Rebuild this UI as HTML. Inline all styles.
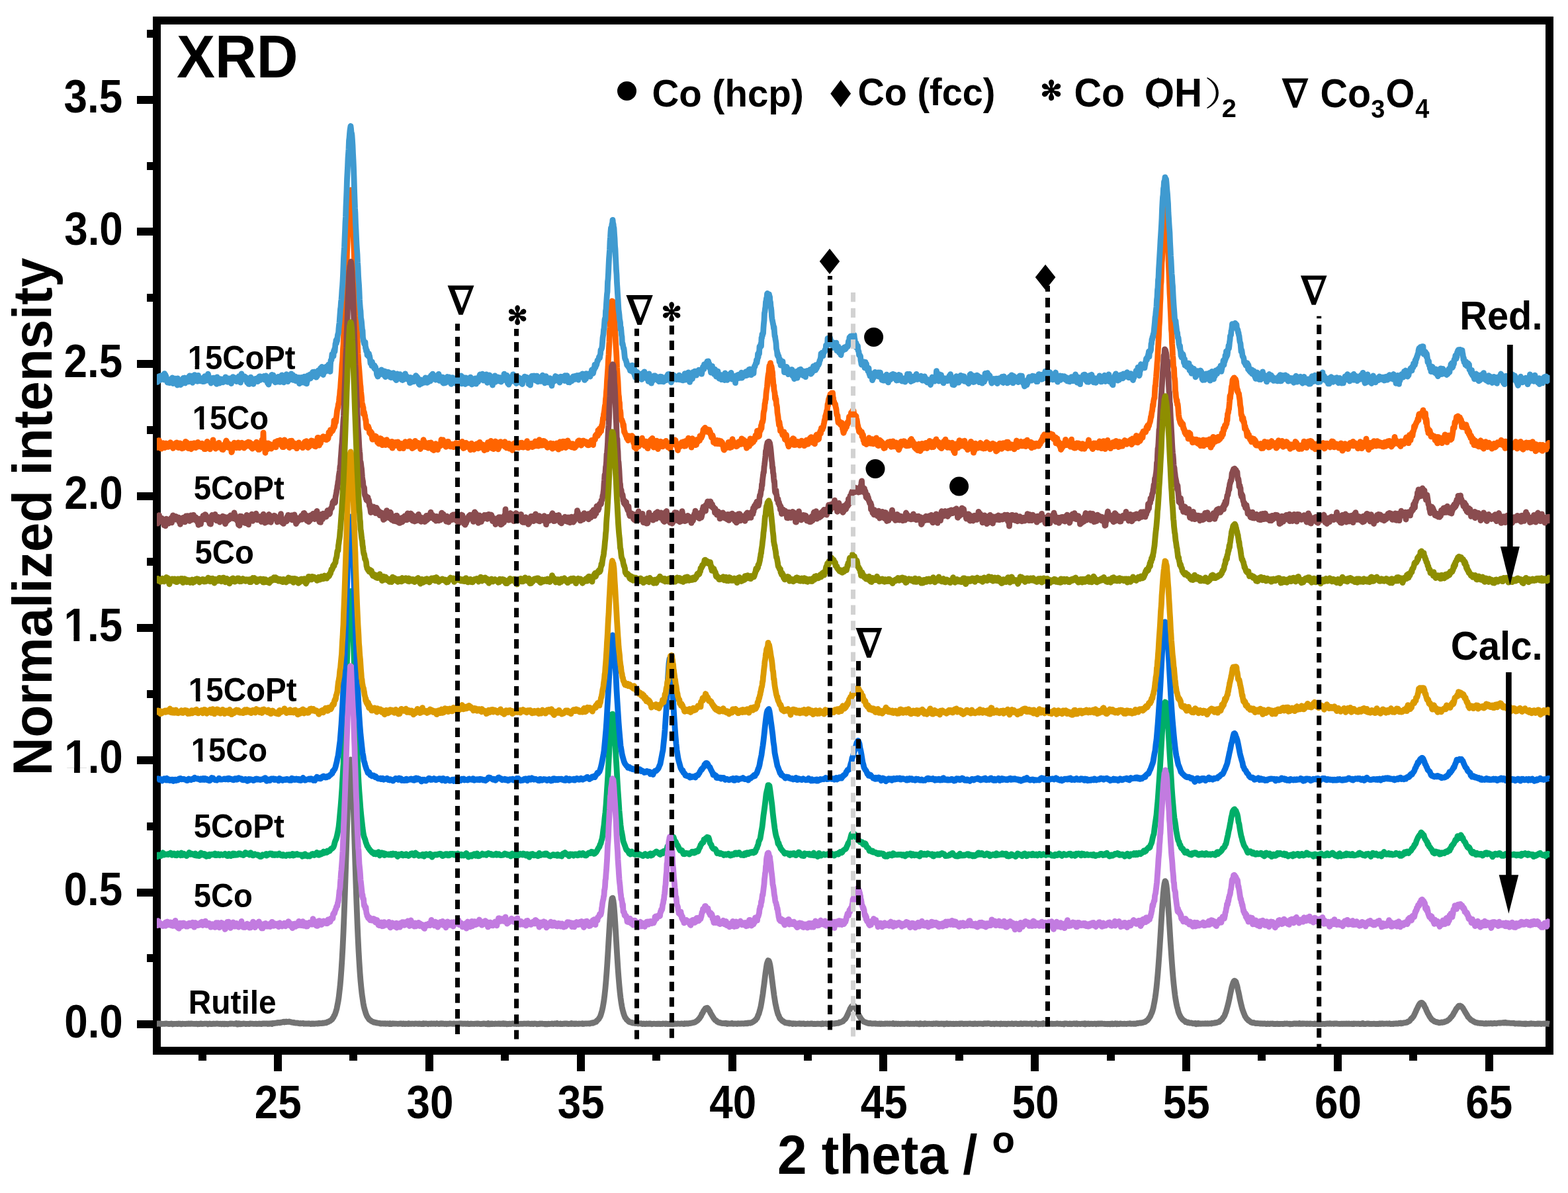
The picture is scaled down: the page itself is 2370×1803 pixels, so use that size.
<!DOCTYPE html>
<html lang="en">
<head>
<meta charset="utf-8">
<title>XRD</title>
<style>
html,body{margin:0;padding:0;background:#fff;}
body{width:2370px;height:1803px;overflow:hidden;}
svg{display:block;}
text{fill:#000;}
</style>
</head>
<body>
<svg xmlns="http://www.w3.org/2000/svg" width="2370" height="1803" viewBox="0 0 2370 1803">
<defs><clipPath id="cv" clipPathUnits="userSpaceOnUse"><rect x="237" y="0" width="2105.5" height="1803"/></clipPath><clipPath id="k1" clipPathUnits="userSpaceOnUse"><path d="M0 -1700H30000V700H1120V-232H759V700H478V-232H0Z"/></clipPath></defs>
<rect x="0" y="0" width="2370" height="1803" fill="#fff"/>

<g shape-rendering="crispEdges">
<rect x="237.0" y="31.0" width="2105.0" height="1557.0" fill="none" stroke="#000" stroke-width="12"/>
<rect x="207" y="1542.1" width="25" height="12" fill="#000"/>
<rect x="207" y="1342.5" width="25" height="12" fill="#000"/>
<rect x="207" y="1142.8" width="25" height="12" fill="#000"/>
<rect x="207" y="943.2" width="25" height="12" fill="#000"/>
<rect x="207" y="743.6" width="25" height="12" fill="#000"/>
<rect x="207" y="544.0" width="25" height="12" fill="#000"/>
<rect x="207" y="344.4" width="25" height="12" fill="#000"/>
<rect x="207" y="144.8" width="25" height="12" fill="#000"/>
<rect x="222" y="1442.3" width="10" height="12" fill="#000"/>
<rect x="222" y="1242.7" width="10" height="12" fill="#000"/>
<rect x="222" y="1043.0" width="10" height="12" fill="#000"/>
<rect x="222" y="843.4" width="10" height="12" fill="#000"/>
<rect x="222" y="643.8" width="10" height="12" fill="#000"/>
<rect x="222" y="444.2" width="10" height="12" fill="#000"/>
<rect x="222" y="244.6" width="10" height="12" fill="#000"/>
<rect x="222" y="45.0" width="10" height="12" fill="#000"/>
<rect x="414.0" y="1593" width="12" height="26" fill="#000"/>
<rect x="642.8" y="1593" width="12" height="26" fill="#000"/>
<rect x="871.7" y="1593" width="12" height="26" fill="#000"/>
<rect x="1100.5" y="1593" width="12" height="26" fill="#000"/>
<rect x="1329.3" y="1593" width="12" height="26" fill="#000"/>
<rect x="1558.1" y="1593" width="12" height="26" fill="#000"/>
<rect x="1786.9" y="1593" width="12" height="26" fill="#000"/>
<rect x="2015.7" y="1593" width="12" height="26" fill="#000"/>
<rect x="2244.5" y="1593" width="12" height="26" fill="#000"/>
<rect x="299.6" y="1593" width="12" height="10" fill="#000"/>
<rect x="528.4" y="1593" width="12" height="10" fill="#000"/>
<rect x="757.2" y="1593" width="12" height="10" fill="#000"/>
<rect x="986.1" y="1593" width="12" height="10" fill="#000"/>
<rect x="1214.9" y="1593" width="12" height="10" fill="#000"/>
<rect x="1443.7" y="1593" width="12" height="10" fill="#000"/>
<rect x="1672.5" y="1593" width="12" height="10" fill="#000"/>
<rect x="1901.3" y="1593" width="12" height="10" fill="#000"/>
<rect x="2130.1" y="1593" width="12" height="10" fill="#000"/>
</g>
<text transform="translate(97.17 1567.68) scale(1 1.0900)" font-family="'Liberation Sans', sans-serif" font-weight="bold" font-size="63.80" >0.0</text>
<text transform="translate(96.53 1368.06) scale(1 1.0900)" font-family="'Liberation Sans', sans-serif" font-weight="bold" font-size="63.80" >0.5</text>
<text transform="translate(97.17 1168.45) scale(0.031152 0.033956)" font-family="'Liberation Sans', sans-serif" font-weight="bold" font-size="2048" clip-path="url(#k1)" >1.0</text>
<text transform="translate(96.53 968.83) scale(0.031152 0.033956)" font-family="'Liberation Sans', sans-serif" font-weight="bold" font-size="2048" clip-path="url(#k1)" >1.5</text>
<text transform="translate(97.17 769.22) scale(1 1.0900)" font-family="'Liberation Sans', sans-serif" font-weight="bold" font-size="63.80" >2.0</text>
<text transform="translate(96.53 569.60) scale(1 1.0900)" font-family="'Liberation Sans', sans-serif" font-weight="bold" font-size="63.80" >2.5</text>
<text transform="translate(97.17 369.98) scale(1 1.0900)" font-family="'Liberation Sans', sans-serif" font-weight="bold" font-size="63.80" >3.0</text>
<text transform="translate(96.53 170.37) scale(1 1.0900)" font-family="'Liberation Sans', sans-serif" font-weight="bold" font-size="63.80" >3.5</text>
<text transform="translate(384.82 1689.90) scale(1 1.0900)" font-family="'Liberation Sans', sans-serif" font-weight="bold" font-size="63.80" >25</text>
<text transform="translate(614.42 1689.90) scale(1 1.0900)" font-family="'Liberation Sans', sans-serif" font-weight="bold" font-size="63.80" >30</text>
<text transform="translate(842.74 1689.90) scale(1 1.0900)" font-family="'Liberation Sans', sans-serif" font-weight="bold" font-size="63.80" >35</text>
<text transform="translate(1072.35 1689.90) scale(1 1.0900)" font-family="'Liberation Sans', sans-serif" font-weight="bold" font-size="63.80" >40</text>
<text transform="translate(1300.67 1689.90) scale(1 1.0900)" font-family="'Liberation Sans', sans-serif" font-weight="bold" font-size="63.80" >45</text>
<text transform="translate(1529.48 1689.90) scale(1 1.0900)" font-family="'Liberation Sans', sans-serif" font-weight="bold" font-size="63.80" >50</text>
<text transform="translate(1757.80 1689.90) scale(1 1.0900)" font-family="'Liberation Sans', sans-serif" font-weight="bold" font-size="63.80" >55</text>
<text transform="translate(1986.92 1689.90) scale(1 1.0900)" font-family="'Liberation Sans', sans-serif" font-weight="bold" font-size="63.80" >60</text>
<text transform="translate(2215.25 1689.90) scale(1 1.0900)" font-family="'Liberation Sans', sans-serif" font-weight="bold" font-size="63.80" >65</text>
<g clip-path="url(#cv)">
<path fill="none" stroke="#737373" stroke-width="8.8" stroke-linejoin="round" stroke-linecap="butt" d="M237.00 1547.3l1 0 1-.5 1 .4 1-.3 1 .4 1-.3 1 .5 1-.1 1 0 1 0 1-.2 1 .2 1-.4 1 .2 1-.2 1 .2 1 .2 1 .1 1 .1 1-.2 1 0 1-.5 1 .5 1 .6 1-.4 1-.1 1-.2 1 0 1 .1 1-.2 1 .3 1 0 1-.5 1 .3 1-.2 1 .2 1 .6 1-.6 1-.1 1 .1 1 0 1 0 1 .3 1-.2 1-.3 1 .3 1-.2 1-.3 1 .4 1-.2 1 .3 1-.6 1 .4 1 0 1 .2 1-.1 1 0 1 .2 1-.2 1-.1 1 .2 1 .4 1-.3 1-.1 1 .1 1-.6 1 0 1 .7 1-.1 1-.2 1 0 1-.1 1 0 1 0 1-.1 1 0 1 .8 1-.6 1 0 1-.3 1 .2 1 .5 1-.1 1-.2 1-.3 1 .2 1-.1 1 .2 1 0 1-.5 1 .3 1-.2 1 .2 1 .2 1 .1 1-.4 1 .3 1 .5 1-.8 1 .3 1-.3 1 .7 1-.7 1 .5 1-.2 1-.1 1 .6 1-.6 1 .1 1-.3 1-.1 1 .4 1-.5 1 .3 1 0 1 .1 1 0 1 0 1-.3 1-.5 1 .9 1 .7 1-.7 1-.6 1 .6 1 .4 1-.6 1 .3 1-.1 1-.1 1-.3 1 .1 1 0 1 .4 1 .1 1-.2 1 0 1-.1 1 .2 1 .1 1-.8 1 .3 1 0 1 .1 1 0 1 .2 1-.1 1 0 1 0 1-.2 1 .4 1-.1 1-.1 1-.1 1-.2 1 .4 1-.2 1 .4 1-.4 1-.3 1 0 1 .1 1 0 1 .1 1-.1 1-.2 1 0 1 .8 1-.6 1 .3 1-.4 1-.2 1 .3 1 .5 1-1.1 1 .1 1 .2 1-.5 1 .2 1-.3 1-.2 1 .3 1-.7 1 0 1 .2 1 .1 1-.7 1 .2 1-.3 1-.3 1-.4 1-.1 1 .7 1-.8 1 .5 1-.7 1 .5 1-.1 1 0 1-.3 1 .1 1 .5 1 0 1 .6 1-.1 1 .4 1-.3 1 .6 1 .1 1 .1 1 .2 1 0 1-.2 1 .6 1 0 1 .3 1-.5 1 .4 1-.1 1-.1 1-.1 1 .7 1-.4 1 .3 1-.2 1 .3 1-.4 1 .3 1 .1 1-.5 1 .5 1 0 1 .3 1-.5 1 0 1 .3 1-.4 1 .3 1 .2 1-.5 1 0 1 0 1 .3 1-.6 1-.1 1 .4 1-.5 1 .3 1-.2 1 .1 1-.6 1 .4 1-.4 1-.3 1 0 1 .1 1-.5 1-.8 1 0 1-.6 1-.7 1-.3 1-.9 1-.7 1-.9 1-1.7 1-1.1 1-2.5 1-1.4 1-2.7 1-3.1 1-3.5 1-5.3 1-4.9 1-6.3 1-8.6 1-8.7 1-11.4 1-13.7 1-15.8 1-17.9 1-21.6 1-24.3 1-26.5 1-29.6 1-31.1 1-31.9 1-30.8 1-29.4 1-24.7 1-19 1-11.1 1-3.8 1 5.6 1 13.3 1 21 1 25.9 1 29.7 1 31.7 1 32 1 30.8 1 28.6 1 26.1 1 23.4 1 20.7 1 17.2 1 15.6 1 12.8 1 10.3 1 9.3 1 6.9 1 6.8 1 5.4 1 4 1 3.3 1 3.4 1 2.4 1 2.3 1 1.2 1 1.7 1 1.3 1 .8 1 .6 1 .9 1 .6 1 .4 1 .2 1 .8 1 .1 1 .1 1 .4 1 .1 1 .3 1 .1 1 .2 1 .2 1-.2 1 .8 1-.3 1 .2 1-.2 1 .2 1-.2 1 .4 1-.5 1 .7 1-.3 1-.1 1 0 1 .1 1 .4 1-.7 1 .8 1-.4 1 .4 1-.6 1 .1 1-.2 1 .3 1-.2 1 .2 1-.1 1 0 1 .3 1-.1 1-.1 1 0 1-.3 1-.1 1 .2 1 .6 1-.5 1-.1 1 .3 1 .4 1-.5 1-.1 1 .3 1-.2 1 .3 1-.8 1 .5 1 .2 1-.2 1 .1 1-.1 1-.1 1 .2 1 .2 1-.4 1-.1 1 .2 1 0 1-.1 1 .4 1-.4 1-.1 1 .4 1-.2 1 .4 1 0 1 0 1-.9 1 .8 1-.2 1-.5 1 .2 1 .1 1 .2 1 .4 1-.6 1 0 1 0 1 .4 1-.5 1-.1 1 .5 1-.2 1-.3 1 .4 1 .2 1-.2 1-.6 1 .4 1 0 1 .4 1 0 1-.5 1 .3 1-.5 1 .5 1-.4 1 0 1 .5 1 .1 1-.4 1 .1 1 .5 1-.5 1 .1 1 .1 1-.4 1 .1 1-.2 1 .3 1 0 1 .2 1-.2 1-.4 1 .5 1 .1 1-.1 1-.2 1 .1 1-.1 1 .1 1-.4 1 .2 1 0 1-.1 1 .2 1 .2 1-.1 1 .1 1-.2 1 .2 1-.2 1 .3 1-.1 1-.4 1 .7 1-.3 1 .2 1-.3 1 .1 1-.2 1 .3 1 0 1-.1 1 .2 1-.4 1 0 1 .2 1-.4 1 .4 1-.3 1 .2 1 .1 1 .4 1-.2 1 .1 1-.5 1 .2 1-.4 1 .2 1 .1 1 .3 1-.3 1 .3 1 .4 1-1.2 1 .7 1 .4 1-.4 1-.5 1 .6 1-.5 1 .5 1-.2 1 .2 1-.3 1-.3 1 .5 1-.1 1 .1 1-.5 1 .4 1-.3 1 .5 1-.3 1-.1 1 .4 1-.7 1-.1 1 .8 1-.3 1-.2 1 .7 1 .1 1-.4 1 .1 1 .1 1-.4 1 0 1 .3 1-.1 1-.3 1-.3 1 .4 1 .1 1-.6 1 .7 1-.2 1 .4 1-.6 1 .4 1 .1 1-.1 1 0 1-.2 1 .2 1-.2 1 .2 1-.2 1-.2 1 .2 1-.1 1 .1 1 .1 1-.2 1-.1 1 0 1 .3 1 0 1 .2 1-.3 1-.1 1 .1 1 .4 1-.4 1-.3 1 .3 1-.1 1 .4 1 .4 1-.5 1 0 1 .2 1-.7 1 .4 1-.1 1-.2 1 .3 1 0 1 .1 1 0 1 .4 1-.4 1-.1 1 .6 1-.4 1-.3 1 .5 1-.2 1-.2 1 .1 1-.4 1 .1 1 .5 1-.2 1-.6 1 .3 1 .2 1 .1 1-.8 1 .9 1-.2 1 0 1 .2 1-.6 1 .7 1-.1 1 0 1-.3 1 0 1 .1 1-.3 1-.1 1 .5 1-.5 1 .3 1 .4 1-.1 1-.2 1-.2 1 .4 1-1 1 .4 1 .4 1 .1 1-.5 1 .7 1-.5 1-.1 1 .3 1 0 1 .2 1-.5 1 .3 1-.2 1 0 1 .2 1-.5 1 .7 1-.5 1 .4 1-.3 1-.3 1 .1 1 .1 1-.2 1 .1 1-.2 1 .3 1-.1 1-.4 1-.5 1 0 1 .3 1-.8 1 0 1-.8 1-.2 1-.1 1-1.6 1-.8 1-1.1 1-.9 1-1.8 1-1.4 1-2.7 1-3.2 1-3.5 1-4.5 1-5.6 1-6.3 1-8.3 1-9.3 1-11.6 1-12.9 1-14.6 1-16.2 1-17.3 1-16.6 1-16.1 1-13.2 1-11 1-6.2 1-.6 1 4.1 1 8.2 1 12.8 1 15.2 1 16.9 1 16.9 1 16.6 1 15.7 1 13.5 1 11.9 1 10.4 1 8.7 1 7.2 1 5.9 1 4.8 1 3.7 1 3.3 1 2.8 1 2.5 1 .7 1 2 1 .7 1 .7 1 1.4 1 .7 1 .2 1 .5 1 .1 1 .3 1 .7 1-.3 1 0 1 .5 1 .1 1 .2 1 0 1-.1 1 .4 1 0 1-.2 1-.1 1 .2 1-.2 1 .5 1 .3 1-.3 1-.2 1 .5 1-.2 1 .3 1-.6 1 .3 1 .1 1-.2 1-.3 1 .4 1-.4 1 .3 1 .6 1-.3 1-.1 1-.3 1 0 1 .3 1-.1 1 .3 1-.5 1 .4 1-.3 1 .1 1-.1 1 .5 1-.3 1-.1 1 .2 1-.6 1 .3 1-.1 1 .1 1 .4 1-.6 1 .2 1 .3 1-.1 1-.1 1 .4 1-.2 1 0 1-.5 1 .8 1-.6 1 .3 1 0 1-.5 1 .1 1 .3 1 0 1-.4 1 .1 1 0 1 .2 1 0 1-.1 1-.3 1 0 1 .5 1 0 1 .2 1-1 1 .3 1 .3 1-.5 1 .4 1 0 1-.4 1-.1 1-.1 1-.1 1-.2 1-.3 1-.2 1-.3 1 0 1-.3 1-.7 1-.6 1-.5 1-.9 1-.7 1-1.4 1-.9 1-1.6 1-1.4 1-1.7 1-2.6 1-1 1-2.3 1-1.7 1-1.4 1-1.4 1-.5 1-.3 1-.4 1 1 1 1.2 1 2.1 1 1.2 1 2.5 1 1.5 1 1.8 1 1.6 1 1.6 1 1.7 1 1.1 1 1.3 1 .4 1 .7 1 1.4 1 .1 1 1.1 1-.1 1 .1 1 .6 1 0 1 .2 1 .5 1-.1 1-.1 1 .2 1 .2 1-.7 1 .7 1 .6 1-.9 1 .4 1-.2 1 .4 1-.2 1 .1 1-.8 1 .3 1 .8 1-.1 1-.2 1-.1 1 .1 1 0 1 .4 1-.6 1-.2 1 .2 1 .3 1-.3 1 .2 1-.2 1-.2 1 .2 1 .2 1-.2 1-.5 1 .1 1 .4 1-.7 1 .5 1-.8 1 .2 1-.3 1 .4 1-.6 1 0 1-.7 1-.6 1-.4 1-.8 1-1 1-.5 1-1.6 1-.9 1-2.2 1-2.9 1-1.9 1-3.8 1-3.4 1-4.2 1-5.6 1-6.5 1-6.2 1-8.2 1-7.1 1-8.4 1-8 1-6.8 1-6.6 1-3.4 1-2.3 1 .3 1 2.5 1 4.4 1 6.3 1 7.6 1 7.9 1 8.1 1 7.7 1 7.7 1 6.4 1 6.2 1 4.6 1 4.5 1 3.7 1 3.5 1 1.7 1 2.8 1 2 1 .8 1 1.3 1 .9 1 .8 1 .1 1 1.1 1 .6 1 .7 1-.1 1 0 1 .7 1-.3 1-.2 1 1 1-.7 1 .6 1-.2 1 .4 1 .5 1-.8 1 .5 1-.3 1 .1 1 .5 1-.2 1-.2 1 0 1 .1 1-.5 1 .6 1-.1 1-.3 1 .4 1-.1 1-.4 1 .1 1 .6 1 .1 1-.1 1-.2 1 0 1-.3 1 .2 1 .2 1-.2 1 .1 1-.5 1 .1 1 .4 1 .1 1 .3 1-.5 1 .2 1 .3 1-.2 1-.3 1-.1 1 .1 1 .2 1 0 1-.3 1 .7 1-.4 1-.6 1 .8 1-.3 1-.1 1 0 1-.3 1 .1 1 .5 1 .1 1-.2 1-.2 1 0 1-.4 1 .5 1-.8 1 .9 1-.6 1 0 1 .2 1 0 1-.5 1 .1 1-.4 1 .1 1 0 1-.3 1-1 1 .4 1-.5 1-.5 1-.6 1-.1 1-1.4 1-.9 1-.8 1-1.1 1-1.7 1-1.7 1-2.4 1-2.1 1-2.1 1-2.3 1-2.5 1-1.6 1-1.8 1-.9 1-.7 1-.1 1 .3 1 1.4 1 1.7 1 1.6 1 2.5 1 2.3 1 2.4 1 1.8 1 2.2 1 1.6 1 1.6 1 1.6 1 .9 1 1.1 1 1.1 1 .6 1 .2 1 .5 1 .4 1 .2 1 .6 1-.1 1 .6 1 .1 1-.5 1 .3 1 .5 1-.2 1 .3 1-.3 1-.1 1 .2 1-.3 1 .6 1-.2 1 .2 1 .1 1 0 1-.4 1 .3 1 .3 1-.6 1 .2 1 .1 1 0 1 0 1-.1 1 .1 1-.3 1 .2 1-.4 1 .5 1-.2 1 .2 1-.3 1 .2 1-.1 1 0 1 .3 1-.8 1 .6 1 .4 1-.4 1-.2 1 .3 1 .2 1-.3 1 0 1 .1 1 0 1 .3 1-.4 1 .2 1-.2 1 .2 1-.1 1 .2 1-.2 1-.2 1 0 1-.1 1 .4 1-.4 1 .2 1 .4 1-.5 1 .2 1 .1 1 0 1-.2 1 .1 1 .2 1-.2 1-.2 1-.3 1 .6 1-.3 1 .2 1 .5 1 .1 1-1 1 .7 1-.4 1 .2 1-.2 1 .6 1-.2 1-.8 1 .6 1-.2 1 .4 1-.5 1 .3 1-.3 1 0 1 .3 1 0 1-.2 1 .4 1-.1 1-.5 1 .1 1 .2 1 0 1-.6 1 .3 1 0 1 .6 1-.4 1 .4 1-.5 1 .3 1-.4 1 .4 1-.3 1 .1 1 .7 1-.7 1 .3 1-.3 1-.5 1 .7 1 .3 1-.6 1 .4 1-.4 1 0 1 .4 1-.2 1 .2 1-.3 1 .3 1 0 1-.1 1-.3 1 .4 1-.2 1 .1 1-.2 1-.2 1 .5 1-.7 1 .3 1-.3 1 .5 1 .2 1 .1 1-.5 1 .3 1-.3 1 .2 1 .2 1-.3 1-.1 1 .1 1-.4 1 .4 1 .1 1 .1 1-.2 1 .5 1-.4 1-.3 1 .3 1-.1 1 .1 1 .2 1-.3 1-.1 1 .1 1-.1 1 .1 1 0 1 .1 1 0 1 .3 1-.8 1 .2 1-.2 1 .3 1-.1 1 0 1-.3 1-.1 1 .3 1 0 1 .5 1 .3 1-.3 1 0 1-.3 1 0 1 .6 1-.6 1 .1 1-.4 1 .6 1 0 1 0 1 0 1-.2 1 .5 1-.7 1 .3 1 .2 1-.1 1-.3 1 .2 1 .3 1-.4 1 .5 1 .2 1-.8 1 0 1 .1 1 .1 1 .1 1 0 1-.4 1-.1 1 .6 1 .2 1-.6 1 0 1 0 1-.1 1 .2 1 .4 1-.2 1 .3 1-.6 1 .2 1-.5 1 .7 1 0 1-.3 1 .1 1-.3 1 .1 1-.1 1 .4 1-.4 1 .3 1 0 1 .1 1-.2 1-.1 1-.1 1-.1 1 1 1-.5 1-.3 1 0 1 .3 1 .1 1-.9 1 .7 1-.1 1 .8 1-.8 1 .2 1 .3 1-.1 1-.5 1 0 1 .6 1-1.2 1 .7 1 .2 1 0 1 0 1-.7 1 .8 1-.1 1-.2 1-.2 1 .4 1 0 1-.1 1-.2 1 .4 1-.2 1 .1 1 0 1 0 1-.1 1-.2 1-.3 1 .3 1 .3 1 0 1-.3 1 0 1 .5 1 .1 1-.4 1 0 1 .6 1-.9 1 .1 1-.2 1 .2 1 .1 1 .4 1 0 1-.1 1-.6 1 .3 1 .5 1-.5 1 .3 1-.2 1-.3 1-.1 1 .6 1-.3 1-.4 1 .9 1-.3 1-.2 1 .2 1 0 1 .3 1-.3 1-.3 1 0 1 .4 1-.3 1-.4 1 1.2 1-1.2 1 .8 1-.2 1-.1 1-.4 1 .6 1 .1 1-.4 1 .2 1-.3 1 .4 1 0 1-.2 1-.1 1-.1 1 .2 1 .5 1-.6 1 .1 1-.4 1 .6 1-.4 1-.1 1 .3 1-.3 1-.1 1 .5 1 0 1-.2 1 .3 1-.1 1 .3 1-.4 1 .5 1-.5 1 .1 1-.1 1 .6 1-.7 1 0 1-.3 1 .8 1-.4 1 .2 1-.3 1-.5 1 .5 1 .5 1-.7 1 .2 1 .4 1-.1 1-.6 1 .2 1 .1 1 .2 1 0 1 0 1-.2 1-.1 1 .3 1 0 1 .1 1-.4 1 0 1 0 1-.1 1-.3 1 .6 1 0 1-.1 1-.1 1 .3 1-.4 1 .3 1 .1 1-.2 1-.6 1-.1 1 .1 1-.3 1-.2 1-.1 1-.1 1 .2 1-.5 1 0 1-.3 1-.6 1 0 1-.3 1-.9 1-.9 1-.4 1-.9 1-1.4 1-1.7 1-1.2 1-1.9 1-2.6 1-2 1-3 1-3.4 1-5.1 1-5.2 1-5.9 1-7.1 1-8.4 1-10 1-11 1-12.7 1-13.8 1-15.2 1-15.8 1-16.7 1-15.9 1-14.9 1-13.4 1-10.6 1-6.8 1-4 1 1.2 1 5.1 1 8.7 1 12.3 1 13.8 1 15.3 1 16.3 1 16.4 1 15.2 1 14.8 1 13.4 1 12 1 10.6 1 9 1 8.4 1 6.7 1 5.5 1 4.9 1 3.4 1 4.4 1 2.8 1 2.2 1 2 1 1.9 1 1 1 1.5 1 .7 1 1 1 .6 1 .5 1 1.4 1-.2 1 .3 1 .9 1-.6 1 .6 1 .5 1 .1 1-.2 1-.1 1 .6 1 .4 1-.3 1 .3 1-.5 1 .1 1 1.3 1-.8 1-.4 1-.1 1 .9 1-.5 1 .1 1 .3 1-.1 1-.1 1-.3 1 .4 1-.3 1 .2 1-.4 1 .3 1 0 1-.3 1 .4 1-.1 1-.1 1-.2 1 .2 1 .1 1-.8 1 .2 1 0 1-.2 1-.6 1 .4 1-.5 1 .1 1-.5 1-.3 1-.3 1-.3 1-1.3 1-.4 1-.9 1-.9 1-1.5 1-1.6 1-1 1-2 1-2.7 1-2.4 1-3.5 1-3.6 1-3.7 1-4.3 1-4.4 1-4.9 1-4.8 1-4.8 1-4.6 1-2.8 1-3.2 1-2 1-.7 1 .6 1 1 1 3.4 1 3.2 1 4.8 1 4.2 1 4.7 1 5.4 1 4.3 1 4.4 1 3.9 1 3.7 1 2.8 1 2.7 1 2.3 1 2.5 1 1.3 1 1.7 1 1.1 1 .8 1 1.3 1 .5 1 .8 1 .6 1 .8 1 .3 1 .4 1 .2 1-.4 1 .6 1 0 1 .6 1 0 1-.2 1 .1 1 .1 1 0 1 .2 1 .2 1-.2 1 .1 1-.2 1 .5 1-.2 1-.2 1-.1 1 .7 1-.1 1 .1 1-.5 1 .1 1 .3 1 .1 1-.5 1 .2 1-.1 1-.1 1 .3 1-.2 1 .6 1-.1 1-.1 1 0 1-.4 1 .1 1 .5 1-.2 1 0 1 0 1-.2 1 0 1 0 1 .3 1-.2 1-.1 1-.4 1 .3 1-.1 1-.1 1 .1 1 .2 1 .1 1-.2 1 .7 1-.6 1 .4 1-.1 1-.2 1-.1 1-.5 1 .2 1-.1 1 .4 1-.3 1 .1 1 .3 1-.1 1-.7 1 .7 1 .2 1-.4 1-.1 1 .4 1-.6 1 .2 1 .1 1 .2 1-.1 1 .4 1-.6 1 .4 1-.3 1 .1 1 .3 1-.6 1 .5 1-.1 1 0 1 .3 1-.1 1-.6 1 .8 1-.2 1-.4 1 .4 1-.1 1 .1 1-.6 1 .6 1-.3 1 .5 1-.5 1 .3 1-.2 1 0 1 .4 1-.2 1-.4 1 .3 1-.5 1 .2 1 0 1 .3 1-.7 1 .4 1 .3 1-.3 1 0 1 0 1 .4 1-.7 1 .1 1 .2 1-.3 1 .2 1 .2 1 .2 1-.1 1 .2 1-.1 1-.2 1-.1 1 .4 1-.4 1 .1 1 .1 1-.1 1 .2 1-.5 1 .5 1-.3 1 .2 1-.4 1 .5 1 0 1-.1 1-.1 1 .4 1-.1 1-.6 1 .6 1-.4 1 .1 1-.1 1 .3 1-.3 1 0 1 .1 1 .3 1 0 1 .2 1-.7 1 .4 1-.8 1 .6 1 .5 1-.2 1 .1 1-.3 1-.2 1-.2 1 .5 1-.4 1 .2 1 .3 1-.2 1 .2 1-.1 1-.1 1 0 1-.2 1 .3 1 .1 1 .2 1-.4 1 .2 1-.2 1 .3 1-.7 1 .1 1 .6 1-.6 1 .1 1-.2 1 .4 1 0 1-.1 1 0 1 0 1-.4 1 .4 1 .1 1-.1 1-.4 1 .7 1-.1 1 .2 1-.5 1 .3 1 .2 1-.7 1 .3 1 0 1-.5 1 .5 1-.3 1 .1 1-.1 1-.7 1 .2 1-.4 1 .9 1-.4 1 0 1-.5 1-.1 1-.3 1 0 1-.3 1 0 1-.3 1-1.1 1 0 1-.5 1-1 1-1.4 1-1.4 1-.4 1-1.5 1-1 1-1.7 1-2 1-2.3 1-1.9 1-2.7 1-1.8 1-2.1 1-2.1 1-1.9 1-1.4 1-1 1-.2 1-.3 1 .6 1 1.6 1 .6 1 2.4 1 2 1 1.6 1 2.9 1 1.9 1 2.4 1 1.4 1 1.9 1 2 1 1.3 1 1.5 1 1.2 1 1 1 .6 1 .4 1 1.3 1 0 1 .3 1 .7 1-.2 1 .4 1 .1 1 .6 1-.1 1-.1 1-.5 1-.1 1 .4 1-.4 1-.1 1-.1 1-.9 1 0 1-.4 1-.4 1-.7 1-.7 1-.7 1-1 1-1.1 1-1.5 1-.8 1-1.4 1-1.2 1-2 1-1.9 1-1.4 1-1.8 1-2.1 1-1.2 1-.8 1-1.6 1-1 1 .3 1-.5 1 .6 1 .3 1 1.5 1 .8 1 1.9 1 1.5 1 2 1 1.6 1 1.6 1 1.6 1 1.8 1 1.8 1 1 1 1 1 .9 1 1.4 1 .5 1 .7 1 .3 1 .9 1 .2 1 .9 1 .5 1-.2 1 .5 1 0 1 .6 1 0 1-.1 1 .5 1-.5 1 .3 1 .3 1-.2 1 .2 1 .3 1 0 1 .2 1-.7 1 .7 1-.2 1-.4 1 .2 1-.1 1 .2 1-.5 1 .2 1 .5 1-.4 1 .1 1-.1 1-.5 1 .5 1 0 1 .2 1-.5 1-.3 1 .1 1-.4 1 .5 1-.3 1 0 1-.1 1 0 1-.5 1 .6 1 0 1-.7 1 .7 1-.3 1 .4 1-.2 1 .3 1-.2 1 .2 1 .2 1-.1 1 .1 1 0 1 0 1-.2 1 .6 1 .3 1-.2 1-.1 1 0 1 .2 1 .1 1-.5 1 .5 1-.1 1-.1 1 .5 1-.2 1 .1 1-.1 1 .4 1-.6 1 .7 1-.7 1 .4 1 0 1 0 1-.2 1 .1 1-.1 1-.5 1 .1 1 .4 1 0 1-.1 1 .2 1 .2 1-.2 1 0 1 0 1-.3 1 .3 1-.4 1 .3 1-.2 1 .5 1 0 1-.4 1 .1 1 0 1 .1 1-.3 1 .1 1 .2 1-.2 1-.1 1 .4 1-.2 1 .3"/>
<path fill="none" stroke="#00AE68" stroke-width="8.8" stroke-linejoin="round" stroke-linecap="butt" d="M237.00 1291.2l1 3.6 1-2.8 1 .6 1-.3 1-.3 1 1.7 1-1.4 1 .1 1-3.7 1 2.8 1 .5 1-.7 1-.3 1 .3 1 0 1-.3 1 .7 1-1.5 1 0 1-.4 1-.8 1 1.7 1 1.5 1-.3 1-.8 1-1.3 1 2.2 1 .5 1-.9 1 1.2 1-1.3 1-1.6 1 .5 1 1 1-.6 1 2 1-3.8 1 2.1 1 1.4 1-1.5 1-.7 1 .9 1 1.1 1 .4 1 1 1-1.7 1-.8 1-1.2 1-1.6 1 1.5 1 1.4 1-1 1-.1 1 .7 1 .7 1-1 1 1.9 1-2.6 1 .8 1 2.5 1-1 1 1.1 1-1.6 1 1.9 1-1.7 1-2.1 1-.8 1 3 1-.6 1-.2 1 .7 1-1.6 1 3.1 1-.4 1 1.3 1-2.4 1 .9 1 0 1 1.1 1-2.8 1 .8 1-.1 1-.7 1 .1 1 .5 1 .2 1 0 1-2 1 2.7 1-.1 1 0 1-1 1-.9 1 1.5 1 .6 1-1.2 1-.6 1 .6 1 .4 1 .4 1-.5 1 0 1-1.6 1 1.3 1 .3 1 1.7 1 .2 1-.2 1-3.1 1 .6 1 .1 1 2.5 1-2.5 1-.4 1-.8 1 2.8 1-2.6 1 .2 1 1.9 1-.3 1 .2 1-.2 1-.4 1-1.9 1 1.1 1-.8 1 1.5 1-.6 1 1.1 1-.6 1 1.3 1-1.8 1-.3 1-2.1 1 1.2 1 1.1 1 0 1-.9 1 1.4 1 .7 1-1.2 1-2 1 2.3 1 .9 1 1 1-.1 1-1.9 1-.3 1 1.1 1 0 1 .2 1-.2 1 1.2 1-.6 1 .6 1 1.8 1 0 1-.2 1-1 1-1.6 1 .5 1-.2 1-.4 1 .1 1-1.4 1 2.7 1-2.3 1 1.3 1-.7 1-1 1-.5 1-.1 1 .8 1-.6 1 2.3 1 0 1-1.2 1 1.3 1-1.7 1 1.1 1-1 1 1.5 1-.2 1-1.2 1-1.1 1 1.5 1 .1 1 1.3 1-1.1 1 1.6 1-1.9 1 1.1 1 .5 1 .1 1 .4 1-1.1 1-.8 1 .5 1-.3 1-.3 1 1.5 1-.3 1-.4 1 .3 1-2.3 1 2.7 1-1.1 1 .7 1-1.6 1 .2 1 .2 1-.7 1 1.2 1 0 1-.2 1 .2 1-.1 1 .4 1-.2 1 2.3 1-1.4 1 .7 1-2.4 1-.5 1 2.7 1-1.3 1 .7 1 1.3 1-1.2 1 .6 1 .7 1-1.6 1-.5 1-1 1 .7 1-1.3 1 .3 1 1.7 1-.9 1-1.4 1-.2 1-1.6 1 2.1 1 1.6 1 .2 1-.5 1-2.4 1 1.7 1-.4 1-.8 1-.4 1-2.5 1 2.3 1-1.2 1-.2 1-.8 1 1.4 1-2.7 1 1.3 1-.8 1-.1 1-1.1 1-2 1-.7 1 .1 1-1 1-1.4 1-2.6 1-4.3 1-2.9 1-2 1-3.5 1-4.7 1-4.7 1-6 1-9.1 1-11.4 1-10.4 1-12.9 1-14.2 1-18.1 1-17.3 1-24.8 1-26.7 1-27.5 1-33.5 1-31.5 1-30 1-28.9 1-23.2 1-20.4 1-14.6 1-1.4 1 3.4 1 15.9 1 20.5 1 27.2 1 31.5 1 29.7 1 31 1 31.9 1 28.7 1 24.1 1 23.4 1 20.4 1 15.4 1 12.6 1 13.8 1 10.3 1 8.8 1 9.1 1 7.4 1 5.3 1 2.7 1 2.6 1 4 1 2.5 1 3 1 1 1 2.1 1 1 1 1.8 1 1.3 1 .3 1 1.8 1 .9 1-.3 1 1.9 1-1.8 1 1.4 1 .9 1-1.7 1-.6 1 .1 1-1.1 1 2.7 1 2.6 1-3.2 1 .9 1-2 1 1.6 1 .8 1-1.6 1 3.1 1-.7 1-1.5 1 .6 1 .4 1 .3 1-.7 1 1.1 1-.9 1 .6 1-1.4 1 1.7 1-.2 1-1.9 1 1 1 .2 1 .4 1-1.1 1 1.2 1-.1 1 2.9 1-1 1-2.3 1 1.1 1-.7 1 .1 1-1.2 1 1 1 1.5 1-1.7 1 .1 1-.1 1 1.4 1-2.1 1 1.3 1 .9 1 .7 1-.3 1-1.6 1 .3 1-1.6 1 .2 1-.7 1 .7 1 1 1 1.4 1-2.8 1-1.1 1 .9 1 .5 1 1.7 1 .4 1 1 1-1.4 1 .7 1 0 1 .3 1-1 1-1 1 1.5 1 1.7 1-2 1-1.1 1-.4 1 .6 1 .4 1 .5 1-.7 1 .8 1-1.9 1 1.8 1-.7 1 3.7 1-2.6 1-.8 1 .7 1-1 1-.3 1 .1 1 .7 1-.2 1-.7 1-.6 1 .2 1-.6 1 .2 1 .3 1 2.5 1 .4 1-1.4 1 .6 1-1 1-1 1-.2 1 1.5 1-1.5 1 2.3 1-1.8 1 1.7 1-.6 1-1.9 1 .6 1-.3 1-.3 1 .2 1 1.5 1 .2 1-1.6 1 .8 1-.8 1 0 1-.6 1 1.6 1 .6 1 .6 1-.7 1-1 1 1.8 1-.5 1-.2 1 .8 1-.6 1 0 1-2.1 1-.8 1 2.9 1 .7 1 2.1 1-2.6 1 0 1 1.1 1-1.5 1 1.9 1-1.5 1-1.1 1 .5 1-1.4 1 .7 1 2.1 1-1.1 1-2.4 1 1.4 1 2.5 1-.1 1-.5 1-.5 1-1.1 1 0 1-1.4 1 .6 1 1 1-.2 1-.6 1 .1 1 1.3 1-2 1 .7 1-1.7 1 1 1-.2 1 .8 1-.5 1 1.5 1 .2 1-.7 1 .7 1-.4 1 0 1-.3 1-1.4 1 2 1-.4 1 0 1-1 1 1.5 1 .1 1 .4 1-.3 1 0 1-.2 1-.1 1-1.3 1-.8 1 .6 1 .1 1 .1 1 1.4 1-.6 1 0 1 .2 1 1.2 1 1.2 1-2.7 1-1.5 1 1.2 1-.3 1 .6 1 0 1 2.3 1-2.4 1 1.3 1-1.8 1 1.1 1 .5 1-.7 1-1.6 1 1.4 1-.4 1-.1 1 1 1-2.1 1 1.2 1 .7 1-.9 1 2.1 1-.6 1-1.8 1 .5 1 2.9 1 1.3 1-2 1-2.4 1 .4 1-.7 1-.3 1 2.3 1 .1 1-.4 1-.4 1-.2 1 1.2 1-.2 1 1.1 1-2.2 1-2.3 1 2.1 1 1.2 1-1 1-.1 1-.3 1-.4 1 1 1-.2 1-1.7 1 1.9 1-1.9 1 1.4 1-.1 1 1.2 1 1 1-.2 1 .8 1-1.3 1 .1 1-.5 1-1.1 1 1.1 1 .1 1-.3 1-.1 1-.3 1 1.6 1-2 1 .4 1 .4 1 1.1 1-1 1-.1 1 1.9 1-3 1-1.1 1 .5 1-.3 1-1.7 1 1 1 1.7 1-.4 1 .8 1 .6 1 1.7 1-3.1 1 .8 1-.7 1 .7 1-.5 1 1.3 1 .7 1-1.1 1-1 1 1.2 1-1.4 1 1.1 1 1 1-1.7 1 1.2 1-2.8 1 .7 1-.2 1 2 1-.4 1-2.3 1 .6 1 1.2 1 1.4 1-.6 1 1.1 1-.9 1-1.8 1-.9 1-.7 1 0 1 .9 1-.1 1-2.3 1 .2 1 .3 1 2 1 .6 1-.3 1-2.4 1 .5 1-1.8 1-1.8 1-2 1-1.7 1-1 1-3.6 1-1.4 1-4.3 1-2.9 1-5.9 1-8.2 1-6.8 1-10.4 1-8.5 1-11.5 1-15 1-15.6 1-15.7 1-19.9 1-18.4 1-19.3 1-16.3 1-10.8 1-6.1 1-.2 1 3 1 9 1 14.4 1 18.3 1 20.6 1 15.8 1 18.6 1 16.2 1 14.1 1 16 1 10.6 1 11 1 7.7 1 4.8 1 5.6 1 6.5 1 2.8 1 2.7 1 2.4 1 3.2 1 2.2 1 .1 1 1.7 1 1.4 1 2.1 1-2.7 1 3.9 1-2.2 1-2 1 1.8 1 .1 1 2 1-1.5 1 2.3 1-1.4 1-.1 1 1 1-1.4 1 2 1-.6 1-.2 1 1.2 1 0 1 0 1 1.3 1 .1 1-.8 1-.9 1-1.3 1 1.3 1 .3 1 .9 1 .5 1-2.2 1 .5 1-1.3 1-.7 1 3.2 1-.8 1 .2 1-2.3 1 .2 1-1.2 1-.4 1-.8 1-1.1 1 1.4 1 0 1 1.1 1 .8 1 .9 1 .6 1-2 1-1.4 1 1.1 1 .4 1-3.3 1 .3 1-.8 1 .3 1-.9 1-2.3 1-4.1 1-.7 1-2.2 1-3.5 1-2.9 1-.4 1-2.5 1-1.5 1-.4 1 .2 1 3.4 1 3.2 1 .1 1 2 1 3.4 1 0 1 2.2 1 1.9 1 2.3 1 1.7 1-.4 1 0 1 .6 1 2.8 1 2.5 1-1 1 1.1 1-1.2 1-.4 1 .1 1 .5 1 .3 1-.4 1 1.4 1-1.7 1-.1 1-.2 1-2 1 1.1 1-1.1 1 2 1-.4 1-.5 1-2 1 .8 1-1 1 .8 1-2.4 1-2.5 1-1.4 1-3.7 1-.5 1-2.5 1 0 1-.6 1-4.3 1 0 1-.6 1-1.7 1 0 1-1.4 1 1.2 1-.6 1 3.1 1 4.8 1 1.8 1 .9 1 3.5 1 1.3 1 1.3 1 .5 1-.2 1 .5 1 1.5 1 2.3 1 2.6 1-.8 1 .8 1-.8 1 1.7 1-1.5 1 1.2 1 0 1 .1 1 .3 1 1.8 1-1 1-.7 1 .2 1 1.1 1-1.2 1 .1 1-.8 1 1.2 1 1.4 1 .3 1-1.8 1-.4 1 1.2 1-.7 1 .3 1-.3 1-2.4 1 .4 1-.5 1 2.1 1-1.2 1 .3 1-1.7 1 1.5 1 1.2 1 1.2 1-1.4 1 .8 1 .7 1 .3 1-.3 1-2.8 1 2.3 1-1.5 1-1.7 1 0 1 2 1-.8 1-.9 1-.9 1 .7 1-1.3 1 1.2 1-1.5 1 1.8 1-1.9 1 1 1-1.5 1-3.7 1-.9 1-3.5 1-2 1-5.4 1-1.3 1-2.4 1-5.8 1-6.3 1-5.1 1-8.6 1-9.3 1-7 1-7.5 1-8.3 1-9 1-4.8 1-3.9 1-5.2 1 .1 1 .9 1 6.6 1 7.3 1 8.1 1 7.8 1 10.5 1 8.6 1 8 1 7.6 1 6.4 1 4.8 1 2.9 1 3.2 1 6 1-1.2 1 4.1 1 1 1 3.3 1 .7 1 1.4 1 1.3 1 1 1 1.3 1 1.8 1-.6 1-.3 1 .2 1 .4 1-.2 1 .6 1 1.8 1 .6 1-2.8 1 1.1 1-.6 1 1 1-1.5 1-.3 1 2.1 1-.2 1 1.3 1-2.3 1 .1 1 .3 1-2.9 1 .4 1 .9 1 1.4 1 2 1 .6 1-.3 1 .7 1 0 1-3.9 1 .8 1-.2 1 .4 1-.4 1 .4 1 .5 1-1.1 1 2 1-.3 1 .5 1-.9 1-1.1 1 2.3 1-3.6 1 3.9 1-.6 1-.2 1 0 1 .3 1 2.1 1-2.4 1-2.8 1 .9 1 .6 1 2.4 1-1.9 1 .3 1 .1 1-1 1 .3 1 1.1 1-.5 1 0 1 .2 1-1 1 .4 1 .3 1-.8 1 .6 1 .4 1-1.7 1 1.7 1-.1 1-.1 1 1.6 1-1.9 1-.6 1 0 1-.5 1 .7 1 .4 1-2.4 1 .3 1-1.5 1 .5 1 .7 1-.8 1-2 1-1.1 1-.5 1-.8 1-.3 1-1.5 1-2.6 1-1.9 1-2.8 1-1.3 1-2 1-2.6 1-3.9 1-3.8 1-1 1 1.7 1 .6 1-2 1 .7 1 3.3 1 .7 1 3.1 1 .5 1 1.5 1-.1 1 1 1 1.7 1-.2 1 .8 1-.5 1 2.5 1 1.1 1-1.6 1-.2 1 .5 1 1.8 1 3.6 1 .2 1 .7 1 1 1 3.5 1-.4 1 .3 1 1.1 1-.8 1-.1 1 2.3 1 0 1-.1 1 .1 1 .3 1 1.5 1-.8 1 1.6 1 0 1-1.4 1 1.1 1-.7 1-.2 1 .8 1 .2 1-.4 1 .9 1 2.8 1 .5 1-2 1 .5 1 1.4 1-1.3 1-1.6 1 .8 1-1.1 1 .6 1 0 1 1.3 1-1.9 1-1.4 1 2.5 1-1.4 1 .6 1 .3 1 .1 1 .1 1-.1 1-.5 1 .4 1-.3 1 0 1 0 1 1 1 .4 1-1.1 1 0 1 .7 1 1.6 1-1.5 1 0 1-1.8 1 1.1 1-.5 1-.5 1 0 1-1 1 2.1 1 1.1 1-2.4 1 0 1 .8 1 1.4 1-.8 1-.6 1 1 1-.2 1-.4 1 1.4 1-1.6 1 2.6 1-2.3 1-2.7 1 1 1 .7 1 .7 1 .2 1-1.6 1 1 1 0 1 .9 1-1.8 1-.6 1 .4 1 .4 1 .6 1-.2 1 .8 1-.4 1-.6 1 3.1 1 .3 1-2.6 1 .1 1 .6 1-.2 1 .1 1-.9 1 .9 1-.8 1 1.1 1-1.1 1-1.1 1 .4 1-1.1 1 .5 1 .6 1 0 1 1.6 1 1.4 1-.1 1-.1 1 0 1-.2 1-.5 1 0 1-1.7 1-.2 1 .7 1-2.2 1 .1 1 2.2 1 .8 1 .3 1 1 1-.5 1 .9 1-.1 1 .1 1-2.2 1-.8 1-1 1 3.1 1-.4 1-.2 1 .4 1-.1 1-1.1 1 .9 1-.3 1-.7 1-.2 1-.9 1 1.6 1-1.5 1 2.3 1-.2 1-.1 1-.8 1 1.2 1 .9 1-1.9 1 .8 1 1 1-.4 1-.8 1-1.2 1-1 1 1.3 1-3 1 2.2 1 .4 1-.8 1 .5 1-1.8 1 .9 1 1.4 1 .6 1 .5 1-.3 1-1.4 1 .7 1-1.9 1 1.5 1 .1 1-.6 1 3.1 1-.4 1-1.3 1 .1 1-.5 1-.6 1 .8 1-.4 1 1.1 1 .1 1-3.1 1 1.9 1 .6 1-1 1 .1 1 .5 1-.5 1-.4 1 .5 1-1.6 1 .4 1 1 1 .5 1 0 1-1.6 1 .1 1 3.4 1-1.4 1 1.9 1-.1 1-2 1 1.2 1-.5 1-1.9 1 1 1 1 1 .1 1-.3 1 .5 1 1.5 1-1 1-1.4 1-2.3 1 1.2 1 .5 1-.4 1 1 1-.3 1 .6 1 1.3 1-1.6 1-1.6 1 .6 1-1.3 1 .8 1 .6 1 2.4 1-.2 1-1.6 1-1 1 .5 1-.3 1 0 1 1.5 1-.4 1-2 1 2 1-.2 1 .5 1-.2 1-1.3 1 1.4 1 .6 1-.7 1-1.1 1-.8 1 1.4 1-.8 1 1.6 1-.6 1-.5 1-.7 1 .8 1 .2 1-.3 1 1.1 1-1.8 1-.4 1 0 1 1.2 1-.2 1-.6 1 1.2 1 .7 1 .4 1 0 1 .2 1-1.2 1 1.4 1-2.3 1 1.1 1-.7 1 1.1 1-1.1 1-.9 1-.9 1 2.2 1-1 1 1.7 1 .9 1-1.7 1-.6 1-.8 1 .8 1 .5 1 .5 1-.4 1 .1 1-.6 1-.7 1-.5 1 1.1 1-1.2 1 1.6 1 1.5 1-1.4 1 .7 1-1.2 1 .3 1 1.8 1-.5 1-2.8 1 1 1-.6 1-.6 1 1 1 .2 1-.5 1 2.3 1-3 1 2.1 1-.1 1-1.4 1 .7 1 1.5 1-1.1 1 .4 1-1.1 1 1.1 1 .4 1-.4 1 .2 1-.2 1-.4 1 .8 1 .5 1-.4 1-1.3 1 1.9 1 .3 1 .2 1-.8 1-.6 1 .2 1-.2 1 .1 1-.4 1-1.3 1-.2 1-.1 1 1 1 1.2 1-1.2 1-.4 1 1.2 1-2 1 .2 1-1.2 1 2.5 1 1.2 1-.9 1 2.3 1-1.6 1-.5 1-.2 1 1.4 1-.2 1-1 1-.6 1-.9 1 .8 1-1.2 1 .5 1-1.2 1 1.7 1-1 1 2.2 1-.7 1-.3 1 .6 1-.8 1-.1 1 1.2 1 .4 1 1.5 1-.6 1-.6 1-2 1-.8 1 1.4 1 1.4 1 1.2 1-2.3 1-1.1 1 .7 1 .4 1-.5 1 .5 1-2.4 1 1.4 1 .9 1-.7 1-1.8 1 2.3 1-1.4 1-.1 1-1 1 .8 1 .7 1-1.2 1-.2 1-1.5 1 .1 1-2.1 1 1.7 1-.9 1-.2 1-2.2 1-1.2 1-.9 1-1.2 1 .6 1-.7 1-3.5 1-1.8 1-2.9 1-5.2 1-4.1 1-2.5 1-8.1 1-7.4 1-6.8 1-6.7 1-11.6 1-10.3 1-14 1-14.5 1-14.8 1-16.9 1-17.5 1-16.3 1-17.9 1-13.4 1-12.6 1-9.3 1-1.5 1 .4 1 6.3 1 8.7 1 12.5 1 15.7 1 18.1 1 17.1 1 16.1 1 16.2 1 17 1 14 1 11.8 1 11.8 1 9.5 1 5.2 1 7.2 1 7.5 1 5.4 1 5.4 1 3.6 1 1.5 1 4.3 1 .5 1 3.8 1 1.4 1 .1 1 .8 1 2.9 1 .3 1 2.4 1-.5 1-1 1-.2 1 2.8 1 .1 1 .7 1 .7 1-.8 1-.4 1 2 1-1.2 1-1.4 1 1 1-1.6 1-.2 1 0 1 .4 1 1.7 1 .5 1 .7 1 .3 1-.4 1-1.4 1-.2 1 1.3 1-1.8 1 1.6 1-.3 1 .8 1 .3 1-2.1 1-.5 1 .8 1 .7 1 .7 1-.7 1 .5 1-.6 1 1.1 1-1.2 1 0 1-.4 1 .3 1 .7 1 .6 1 .3 1-2.2 1-1.8 1-.7 1 3 1-2.1 1-.8 1 .3 1-1.2 1-.8 1-1.5 1-2.4 1-.1 1-1.2 1-.9 1-3.5 1-.8 1-4.7 1-4.8 1-4 1-5.7 1-3.7 1-5.7 1-5.2 1-6.1 1-3.8 1-5.1 1-2 1-1.2 1-.7 1 1.7 1 .5 1 2.9 1 2.4 1 4.3 1 7.7 1 3.1 1 7 1 5.5 1 5.3 1 3.1 1 4.6 1 2.7 1 3.3 1 1.9 1 1.5 1 1.7 1 2 1 2.5 1 2.1 1-1.8 1-.1 1-.1 1-.1 1 1.8 1-.2 1 1.9 1-1.9 1 1.2 1 1.1 1-.5 1 1.4 1-.3 1-1.8 1 1.4 1 .2 1 0 1-.5 1 .1 1-1.4 1 2.5 1-.1 1 1.2 1 .2 1 1.1 1-1.3 1-3.4 1-.3 1 1.6 1 .1 1-.1 1 1.7 1-2.4 1 2.3 1 0 1 2.4 1-3.1 1 1.2 1-1.6 1 2.2 1-.7 1 .7 1-.5 1-2.6 1-.9 1 .5 1 1.2 1-1.4 1-.2 1 1 1 .3 1 .1 1 1.1 1-1 1-.9 1 2.5 1-1 1-.8 1 2 1-.4 1 1.9 1-1.2 1 0 1-.8 1-.3 1 0 1 .2 1 2 1-3.4 1 1.6 1 .6 1-.5 1-1.2 1 .3 1-1.2 1 .2 1 .3 1 2.6 1-.4 1-.4 1-.4 1-1.9 1 1.1 1 1.6 1-.6 1 .1 1-.7 1-1 1-2 1 2.1 1 .2 1 .9 1-1.1 1 .8 1-.1 1 .4 1-.4 1 .8 1 1.9 1-1.8 1-1.6 1 0 1 2.7 1-.4 1-1.3 1 .3 1-.7 1-.3 1 .5 1-1.5 1-.2 1 2.1 1-.3 1-.1 1 1.2 1-.6 1 .7 1-2.4 1 1.3 1-2.3 1 2.3 1 .6 1 .2 1-.9 1-.8 1-.7 1-.7 1-.7 1 .6 1 2.2 1-.6 1 2.1 1 .1 1 .3 1-1 1 1.8 1-1.2 1-3.1 1-.3 1 1.2 1 3.1 1-.9 1-.6 1 .1 1 .3 1-1.7 1 1.4 1 0 1-2.9 1 .9 1 1.5 1 0 1-1.5 1 1.5 1-.3 1 .8 1-1.3 1-1.1 1 1.2 1 1.4 1 0 1-.2 1-.4 1-.2 1-.2 1-.9 1 .5 1-2.3 1-.2 1 1.9 1 .3 1-.8 1 1.2 1 .9 1 .2 1 .1 1 .4 1-1.5 1-1 1 1.2 1-1.2 1-.4 1 .6 1 .8 1 .8 1 2 1-2 1-.6 1-2.8 1 .7 1 1.5 1 .6 1-1.2 1-.6 1 .8 1 .6 1 1.6 1-1.3 1-.5 1 .9 1-1.3 1 3.1 1-2 1-1.5 1-1.2 1-1.8 1 2.9 1 .6 1 .2 1 .1 1-.1 1-.3 1-1.5 1 2.2 1 0 1-1.4 1 0 1 .7 1 1.2 1-.4 1-.1 1 .1 1-.7 1-1.8 1 .6 1 1 1 .3 1 .5 1-1.6 1 3.3 1-1.5 1 1.6 1-.7 1-.4 1-2.5 1 .7 1-2.7 1 2.2 1-.7 1-2 1-.3 1 .8 1 1.7 1-2.6 1 .2 1-1.1 1-.8 1-2.7 1-.2 1-1.7 1-1.2 1-2.8 1-.2 1-2 1-3.7 1-2.2 1-2.3 1-1.6 1-2 1 .1 1-2.3 1-2.4 1 .9 1 1.2 1 1.2 1 .7 1 3.6 1 2.5 1 1.2 1 2.1 1 .6 1 4.4 1-.5 1 3.5 1 .6 1 1.2 1 2 1 .7 1 2.2 1 2.3 1-.4 1 1.8 1-1.4 1-1.6 1 1.6 1 .8 1-.2 1-1.2 1 .8 1 2.6 1-1.1 1 .6 1-1.9 1 .3 1-.5 1 .7 1 .3 1-1.2 1-1.1 1-.6 1 .5 1 .3 1-1 1-2.2 1 1.4 1-3.5 1-.3 1-3.4 1-.3 1-2.1 1-.5 1-2 1-2.1 1-2.5 1 1 1-1.8 1-4.6 1 2 1 .9 1-1 1 1.2 1-4.8 1 1.5 1 3 1-.1 1 3.3 1 2 1 .4 1 1.9 1 2.7 1 1.3 1 2.2 1 1 1-.9 1 .9 1 2.4 1 2.1 1 2.7 1 .8 1 .7 1-2.4 1 2.3 1-.3 1 .8 1 1.6 1-2.7 1 2 1 .2 1-.7 1 .8 1-.8 1 .9 1-.8 1 1 1 1.5 1-2 1 .1 1-.2 1-2.1 1 .1 1-.5 1 2.6 1-1.8 1 .6 1-.4 1 1.1 1 .2 1 0 1 2.3 1 1.7 1-1.5 1-.6 1-1.9 1-.7 1 1.5 1-.7 1 .8 1-.7 1-1.2 1-.5 1 .2 1 .6 1 2 1 1.2 1 0 1-.8 1 .7 1-1.5 1-1 1-.3 1 1.6 1-.9 1 .3 1-.3 1-.1 1 .3 1 0 1 .7 1 .1 1-.6 1-.3 1-.3 1 1.1 1-.1 1-.7 1 1.7 1-.7 1-.8 1 .3 1 .9 1-1.2 1 1.3 1 .6 1-3.3 1 1.9 1-1.4 1 .4 1-.8 1-.6 1 1.5 1 .2 1 .6 1 .6 1-2.5 1 .4 1 .7 1 .8 1-.2 1-.4 1 .8 1-.8 1 3.4 1-.6 1-1.8 1 1.3 1-1.6 1 .5 1-1.1 1 .1 1-1.3 1-.4 1-.5 1 1.4 1 .7 1 .9 1 .3 1-.1 1 0 1-1 1 2.4 1-2.2 1 .4 1-1.8 1 0 1 1.1 1-.1"/>
<path fill="none" stroke="#C27BE0" stroke-width="8.8" stroke-linejoin="round" stroke-linecap="butt" d="M237.00 1395.8l.5 .7 .5-.7 .5 2.7 .5-6.9 .5 .9 .5 2.4 .5-1.2 .5 1.4 .5 1.8 .5-1.9 .5 2.3 .5 .3 .5 .8 .5-1.7 .5 1.2 .5-.5 .5 2 .5-1.2 .5 1.3 .5-3 .5 .7 .5-.4 .5 0 .5 2.4 .5-2.7 .5-2.3 .5 5.1 .5-.7 .5-1.1 .5-4.2 .5 .9 .5-1.2 .5 1 .5 1.3 .5 .2 .5 .9 .5-1.7 .5 3.2 .5-1 .5-.8 .5-2.2 .5 4.2 .5 .4 .5-.9 .5-2.5 .5 1.8 .5-2.5 .5 5 .5-4.6 .5 .3 .5 4 .5-2.5 .5-1.9 .5 1.4 .5-2.1 .5-2.7 .5 3.2 .5 1.5 .5 2.1 .5-.7 .5 2.8 .5 1 .5 .4 .5-1.3 .5 2.1 .5 0 .5 .8 .5-6.4 .5 1.1 .5-2.7 .5 2.2 .5 1.4 .5-1.7 .5 .9 .5 1.9 .5-.6 .5-4.2 .5 2 .5-.4 .5 .8 .5 .3 .5-2.8 .5 1.4 .5 1.3 .5-.4 .5 1.9 .5-1.2 .5-1.1 .5 3.3 .5-3.5 .5 3.4 .5-1.3 .5 1.3 .5-1.8 .5-1.7 .5-.6 .5-.6 .5-.3 .5 .9 .5 2.6 .5-.4 .5 .3 .5-.1 .5 .3 .5-3.4 .5 2.7 .5 .5 .5-4.3 .5 4.4 .5-3 .5 3.4 .5-1.6 .5 3.8 .5-4.6 .5 1.5 .5 .9 .5-4.5 .5 1.3 .5 1.3 .5 1.5 .5-.9 .5 .4 .5-1.4 .5-.2 .5 2 .5-.8 .5-.5 .5 .9 .5-1.2 .5-.8 .5-1 .5-.8 .5 3.2 .5-2.2 .5 1.6 .5-3.7 .5 3.7 .5-.6 .5 2.2 .5-.7 .5-2.4 .5 0 .5-1.8 .5 2.8 .5-3.4 .5 2.7 .5-3.6 .5 3.7 .5-1.7 .5 4.3 .5-2.6 .5 2.1 .5-.5 .5-.8 .5 .5 .5-.8 .5-.8 .5-.1 .5 1 .5 2 .5-.4 .5-.3 .5 3.5 .5-4.1 .5 1.7 .5-.1 .5-2.1 .5 .3 .5 1 .5 2.4 .5-1.9 .5 0 .5 2 .5-3 .5 .6 .5 3.4 .5-4 .5 1.5 .5-4.3 .5 .1 .5 2.9 .5 0 .5-1.1 .5 .8 .5-2.7 .5 1.4 .5 2 .5-.8 .5 4.7 .5-3.3 .5-.8 .5 1.4 .5 .3 .5-2.6 .5-2.5 .5 2.5 .5 2.1 .5-4 .5 5.1 .5-3.8 .5 2 .5-1.5 .5 4 .5-2.2 .5 2.5 .5 3.3 .5-.3 .5-4.1 .5-4.3 .5 .3 .5-.8 .5-.1 .5-1.7 .5 .5 .5 .2 .5 2.1 .5-3.1 .5 .5 .5 5.3 .5-4.4 .5 3.4 .5 2.4 .5 2.1 .5-4.7 .5-.6 .5 1.4 .5 1.8 .5-4.3 .5 3.1 .5 0 .5-5.2 .5 1 .5 1.5 .5 1.8 .5-2.2 .5 4.2 .5-4.1 .5 1 .5 .5 .5 .6 .5-2.9 .5 1.3 .5 .6 .5-.6 .5 2.9 .5 .7 .5 .9 .5-2.3 .5-1.8 .5 1.2 .5-1.7 .5 2.3 .5-1.8 .5-.2 .5 .3 .5-4.7 .5 2.3 .5 3.6 .5 .9 .5-.4 .5 2.6 .5-2.7 .5 2.8 .5-1.4 .5 1.1 .5-.8 .5 1 .5-.2 .5-1.5 .5-.8 .5-.6 .5-.3 .5-1.9 .5 1.2 .5 1.9 .5-1.2 .5 2.6 .5-3 .5 1.6 .5 2.9 .5-3.8 .5-.9 .5 4.5 .5-4.1 .5-1.1 .5 2 .5-1.2 .5 .2 .5-1.8 .5 .7 .5-3.5 .5 4.6 .5-2.5 .5 1.7 .5 0 .5 2.9 .5 1.8 .5-1.3 .5-2.1 .5-1.4 .5 1 .5-.5 .5 1.6 .5-4.2 .5-.1 .5 2.4 .5-1.4 .5 1.1 .5-3.9 .5 1.9 .5 1.3 .5 .1 .5 .8 .5 2.2 .5 2 .5 .6 .5 1.2 .5-3.2 .5-2.8 .5 5.9 .5-3.3 .5-.7 .5 2 .5-2.1 .5 1.6 .5-4.3 .5 2.1 .5-1.6 .5-1 .5 1.9 .5 2.7 .5-1.3 .5-1.4 .5 1.5 .5-.7 .5 2 .5-1.8 .5-.5 .5 1.3 .5-2.8 .5 3.1 .5 .8 .5 .3 .5-4.9 .5 1.5 .5-1.9 .5 .6 .5-2.4 .5 0 .5 2.5 .5-.6 .5-.5 .5 4.4 .5-3.9 .5 .3 .5-.1 .5 1.4 .5-1 .5 2.5 .5-1.4 .5 1.4 .5-.8 .5 .9 .5-1.3 .5-1.4 .5 4 .5-3.6 .5 4.3 .5-.2 .5-3.7 .5-.8 .5-1.2 .5 3.4 .5-1.9 .5 .6 .5-.9 .5 2.7 .5-.9 .5 2.3 .5-1.6 .5-.1 .5-2.1 .5 2.6 .5-.2 .5-2.1 .5-1.4 .5 2.7 .5 .7 .5 1.3 .5-2.2 .5 .5 .5-2.5 .5 1.3 .5 1 .5-1.5 .5 .1 .5 0 .5-3.9 .5 1.4 .5 4.2 .5-3.7 .5 2.9 .5 1.8 .5-2.5 .5 .4 .5 1.2 .5 2.2 .5-2.6 .5 0 .5 4.6 .5-5.3 .5-.7 .5 1.3 .5-1.1 .5 .7 .5 1.4 .5-.4 .5-2.4 .5 4.4 .5-2.8 .5-.4 .5 1 .5-.7 .5 1.3 .5-.8 .5-1.2 .5-.3 .5 2 .5-6 .5 5.9 .5-1 .5 .6 .5 .3 .5-2.7 .5 2.6 .5-3.1 .5 .2 .5 3.3 .5-3.3 .5 2.6 .5-5.3 .5 4.8 .5 .6 .5 1.2 .5-1.2 .5-1 .5 .9 .5 .7 .5-.5 .5-.6 .5-2.5 .5 5.1 .5-1.7 .5 .7 .5 .8 .5-.6 .5-.9 .5-2.9 .5 1 .5 0 .5-2.3 .5 .2 .5 .9 .5-.7 .5 2.3 .5-1.9 .5 .2 .5 1.2 .5 .8 .5-4.9 .5 1.6 .5-5.3 .5 5.2 .5-2.9 .5 1.8 .5-.7 .5 .1 .5 3.8 .5 .3 .5 1 .5 1.4 .5 .3 .5-.1 .5 .3 .5 .3 .5-.1 .5-.4 .5-2.4 .5-2 .5-2.9 .5 1.1 .5 1.5 .5-2.5 .5 2.8 .5 .5 .5-.6 .5-1.1 .5 4.2 .5-2.5 .5-2.4 .5 .9 .5 1.1 .5-.2 .5-2.6 .5 3.3 .5-1.6 .5-.2 .5 1.6 .5-1.7 .5 1.3 .5 .2 .5 .9 .5-2.9 .5 2.3 .5 .2 .5 .4 .5-5.6 .5 .6 .5 .4 .5 .6 .5 1.5 .5-2.5 .5 .2 .5 2.3 .5-4.7 .5-.2 .5 2 .5-1.2 .5-.7 .5-1.5 .5-.3 .5 1.3 .5-6.1 .5 .7 .5-2.4 .5-.8 .5 1.2 .5-2 .5-2 .5-1.7 .5-.4 .5-1.2 .5-2.7 .5-.2 .5-1.9 .5 .8 .5-5 .5-.2 .5-3.1 .5-3.8 .5-4.1 .5-6.4 .5-2.1 .5-3.1 .5-8.7 .5-5.3 .5-8 .5-4.6 .5-6.4 .5-7.1 .5-7.5 .5-7.4 .5-12.3 .5-12.5 .5-14 .5-10.2 .5-12.4 .5-14.2 .5-13.2 .5-15.6 .5-12.9 .5-14.1 .5-17.6 .5-16.3 .5-12.7 .5-16.3 .5-11.6 .5-15.9 .5-11.8 .5-12.4 .5-9.2 .5-8.6 .5-6.7 .5-6.1 .5-3 .5-.3 .5 1.8 .5-.9 .5 5.2 .5 10.7 .5 8.1 .5 14.6 .5 12.6 .5 11.7 .5 12.3 .5 19.6 .5 15.7 .5 11.9 .5 21 .5 11.3 .5 15.1 .5 15.5 .5 13.4 .5 10 .5 19.4 .5 11.7 .5 12 .5 11.8 .5 10.9 .5 4 .5 9.7 .5 10.1 .5 4.9 .5 4.7 .5 6.2 .5 8.7 .5 3.4 .5 4.6 .5 4.7 .5 4.5 .5 7.5 .5-2.4 .5 5.4 .5-.1 .5 .6 .5 6.9 .5 3.7 .5-1.5 .5 3 .5 1.5 .5 2.1 .5-2.7 .5 5.4 .5 3.9 .5 .9 .5 3 .5-.6 .5 1.9 .5 1.7 .5-1.9 .5 2.7 .5-1.5 .5-.1 .5 3.1 .5 .8 .5-1.1 .5-.8 .5 1.9 .5 .1 .5 .5 .5-.6 .5-1.1 .5 1.3 .5-1.2 .5-1.3 .5 1.2 .5-.7 .5 .4 .5 2 .5 2 .5 .8 .5-3.9 .5 1.2 .5 3.1 .5-.1 .5-3.8 .5 1.3 .5 2.9 .5-1 .5 4.4 .5-2.4 .5-1.3 .5 4.3 .5-1.5 .5-2.3 .5-.6 .5 2.7 .5-1.3 .5-1.8 .5 3.7 .5 2.2 .5-1.2 .5 1.1 .5-2.5 .5 1.5 .5 .7 .5-5.7 .5 4.2 .5-1.3 .5 .1 .5 .1 .5 .7 .5-1.2 .5 .2 .5 1.5 .5-2 .5 .3 .5 .6 .5-.2 .5 1.1 .5-3.6 .5-.8 .5 6 .5-3 .5 1.8 .5 3.6 .5-4.3 .5 1.7 .5-.8 .5-.3 .5-3.1 .5-.3 .5 1.8 .5-.1 .5 1.7 .5 0 .5 1.7 .5-1.1 .5 1.5 .5-1.3 .5-.3 .5 1 .5-1.6 .5-2.8 .5 6.8 .5-4.1 .5 .2 .5-.5 .5 1.2 .5-2.2 .5 .7 .5 1.1 .5-.2 .5 .6 .5 2.4 .5-6 .5 1.5 .5 .4 .5-2.4 .5 1.3 .5 2.4 .5-4.7 .5 4.1 .5-2.2 .5-.3 .5-1.6 .5 .7 .5 2 .5 1.8 .5-.1 .5-2.1 .5-1.2 .5 1.5 .5 .8 .5-3.9 .5 .8 .5-.9 .5-.4 .5-.8 .5 1.5 .5 .1 .5 .3 .5 1.5 .5 4.2 .5-1.5 .5-3.5 .5 0 .5-3.6 .5 3.4 .5 .4 .5-1.3 .5 .3 .5 2.5 .5-.6 .5 3.1 .5 .3 .5-3.1 .5 4.2 .5-3.8 .5 .2 .5-.6 .5-.7 .5 .3 .5 4.3 .5-1.5 .5-.4 .5-2.3 .5 3.2 .5-.7 .5-.8 .5-2.9 .5 4.3 .5-.1 .5-3.2 .5 4.1 .5-3.8 .5 1.4 .5 2 .5-1.4 .5 1.5 .5-1.1 .5 .4 .5-1.1 .5 2.8 .5 .3 .5 1.3 .5-.7 .5-1.9 .5 4.2 .5-4.6 .5 1.3 .5-1.3 .5-.6 .5-.9 .5 .9 .5 .9 .5-1.4 .5 .1 .5 .2 .5-.8 .5-1.3 .5 .9 .5-.3 .5 1.9 .5-2.1 .5 2.3 .5-4.2 .5 2.4 .5-3.6 .5-2.9 .5 5 .5-2.9 .5 1.3 .5 1.6 .5 .7 .5-1.7 .5-.7 .5 2.2 .5 3.1 .5-1 .5-1.8 .5-2.9 .5 1.5 .5 0 .5-.9 .5 3.1 .5 .7 .5 .7 .5 2.8 .5-3.7 .5-.2 .5-1.3 .5 3 .5-.9 .5-3.2 .5 .7 .5-2 .5 3.1 .5-2.1 .5 .9 .5-2 .5 1.1 .5-1.6 .5-.5 .5 1.3 .5 4.6 .5-3.7 .5 1.2 .5 2.8 .5 .3 .5-.8 .5-.2 .5 2.1 .5 1.8 .5-3.4 .5-.6 .5-4.3 .5 5.5 .5-6 .5 1.4 .5 2.6 .5-1.9 .5 2.4 .5-1.6 .5 2.3 .5-1.8 .5 1 .5 .2 .5-2.8 .5 .5 .5-1.4 .5 0 .5 3.4 .5 .5 .5 0 .5 2.2 .5-4.5 .5-1 .5-.9 .5 1.4 .5 1.9 .5-1.8 .5 .1 .5-1 .5 .4 .5-.9 .5 1.2 .5-1.8 .5 1.7 .5-1.4 .5-.2 .5-2.4 .5 4.2 .5 2.7 .5-3.9 .5 3.7 .5-.9 .5 .5 .5 1 .5-3.3 .5 1.7 .5 2.8 .5 .1 .5 1.5 .5-1.6 .5 .9 .5-.3 .5-1.1 .5-.9 .5-1.2 .5 2.3 .5-.6 .5-.2 .5-2.8 .5 2.2 .5 5.5 .5-4.6 .5-1 .5-2 .5-2.5 .5 1.3 .5 5.6 .5-2.8 .5 1.6 .5 .4 .5-1.4 .5 3.1 .5-4.7 .5 3 .5-3.6 .5-.7 .5-2.5 .5 5.3 .5 2.1 .5-3.6 .5 1.7 .5-4.2 .5 2.7 .5-.3 .5-3.4 .5 2.1 .5-1.1 .5 4.1 .5-4.7 .5 3.3 .5-2.8 .5 2.5 .5 .8 .5-1.7 .5-.4 .5-1.9 .5 2.2 .5-.6 .5-.1 .5-4.3 .5 5.7 .5-3.6 .5 2.1 .5-.5 .5 1.8 .5-1.9 .5 4.3 .5 .3 .5-1.9 .5 1.1 .5-3.5 .5-.8 .5 2.4 .5-2.5 .5 2.4 .5-.9 .5 0 .5-2.9 .5 2.8 .5 1.4 .5 .2 .5-3 .5 5 .5-1.3 .5 .4 .5 3.8 .5-2.9 .5-2.4 .5 .9 .5 1.6 .5-2.4 .5 .4 .5-2.1 .5 4.6 .5-.2 .5-.5 .5 .1 .5-.7 .5-.1 .5 .5 .5 1.2 .5-1.8 .5 1.1 .5-.7 .5-1.2 .5-2.2 .5-1.1 .5 2.6 .5-1.9 .5-.3 .5 2 .5 2.8 .5 .7 .5-5.3 .5-1.3 .5-.5 .5 .8 .5-4.8 .5-.1 .5 1.8 .5 .3 .5 2.7 .5-4.2 .5 4 .5-3.3 .5 .2 .5 1.4 .5-2 .5 3.1 .5-1.5 .5-.3 .5 1.1 .5 1.3 .5-2.8 .5 .6 .5 .2 .5-.7 .5-.6 .5-3.1 .5 4.2 .5 1.5 .5 2.3 .5 .9 .5 1.2 .5-3.3 .5 .2 .5 1.3 .5 .2 .5-2.4 .5-.1 .5 1.3 .5-2.4 .5 .4 .5 .1 .5-1.6 .5 1.9 .5-3.4 .5 3.8 .5-2.2 .5 .2 .5 1.7 .5-.9 .5 2.3 .5 .1 .5-2.2 .5 .8 .5-2 .5 .8 .5-1.1 .5-.1 .5-.2 .5 0 .5 1 .5 .7 .5-3.2 .5 6.9 .5-1.4 .5-.8 .5 1.7 .5-1.1 .5 1.6 .5 2.8 .5-1.8 .5 1.2 .5-4 .5-.5 .5 3.3 .5-1.4 .5 1.5 .5 1.4 .5-1.8 .5 1.7 .5-1.6 .5-.9 .5 0 .5-.2 .5 2.9 .5-1 .5-.7 .5-1 .5 4.5 .5-4.1 .5-3.3 .5 2.5 .5-2.1 .5-.5 .5 4.8 .5-2.3 .5-.4 .5 .5 .5 2.8 .5-2.4 .5 2.2 .5-1.4 .5 .9 .5 1.2 .5-2.2 .5 .2 .5-.8 .5 1.4 .5-1.7 .5-1.1 .5 1.3 .5 .1 .5 .5 .5-.5 .5-2.3 .5 3.6 .5-5.3 .5 3.5 .5-3.5 .5 1.4 .5 2.2 .5-2.1 .5 .8 .5 0 .5 .2 .5 3.2 .5 1.5 .5 .9 .5 2.4 .5-1.5 .5-1.3 .5-1.1 .5-1.1 .5 .1 .5-2.2 .5 4.6 .5-2 .5 .5 .5-1.7 .5 .1 .5-1 .5 .4 .5-2.2 .5 2.8 .5-1.3 .5 4.2 .5-4.8 .5 1.3 .5 4.2 .5 .8 .5 2 .5-1.1 .5-2.8 .5 .3 .5 1.9 .5-1.5 .5 .3 .5-1.9 .5-.9 .5 .5 .5-1.6 .5-.9 .5 2.6 .5-3.6 .5 .8 .5-.3 .5 5.3 .5-3.1 .5 2.6 .5-1.4 .5-1.8 .5 3.7 .5-.8 .5-4.1 .5 3.1 .5-.1 .5-2.1 .5 1.9 .5-.5 .5 1.8 .5 1.5 .5-.8 .5-1.8 .5 2.9 .5-3.7 .5-.8 .5 .7 .5-.8 .5 2.5 .5 0 .5-.8 .5 .9 .5-2 .5 4 .5-1.7 .5 .4 .5-.8 .5-2.1 .5 3.9 .5-2.6 .5 3.2 .5 .5 .5-1.6 .5 1.9 .5-2.2 .5 .1 .5-.2 .5-.3 .5 1.7 .5-2 .5-1.9 .5-.5 .5 2.1 .5-4.2 .5 .6 .5 2.9 .5-.6 .5-2.8 .5 3.1 .5-1.8 .5-1 .5 .4 .5 .4 .5 .1 .5 2.8 .5 .4 .5-3.3 .5 5.8 .5-1.5 .5-1 .5 .7 .5-3.4 .5 1.3 .5-1.3 .5 5.3 .5-5.9 .5 .3 .5 3.2 .5-3 .5 1.5 .5-1.4 .5-2 .5 2.2 .5 1.4 .5-1.6 .5 2.1 .5-.4 .5 .2 .5-.1 .5-3.2 .5 0 .5 2.3 .5-3.3 .5 4.1 .5-1.9 .5-.9 .5-2 .5 1.1 .5 1.1 .5-.5 .5 2 .5 .2 .5 4 .5 1.2 .5-2.9 .5-3.1 .5-.5 .5-2.1 .5-.3 .5 .3 .5-.3 .5 2.6 .5-3 .5 2.9 .5-1.6 .5 2.3 .5-2.1 .5 4.4 .5-3.5 .5 5 .5-2.2 .5 .7 .5 1.1 .5-3.5 .5 2.4 .5-3.6 .5 2.9 .5-1.6 .5 .7 .5-4.8 .5-.8 .5 1.3 .5 1 .5 1.5 .5-5 .5 2.6 .5 4.1 .5-2.4 .5 3.6 .5-6.7 .5-.9 .5 0 .5 1.4 .5-.4 .5-.1 .5-4.5 .5 .7 .5-1.5 .5 0 .5-.6 .5-2 .5-1.5 .5 1.8 .5-1 .5 .1 .5-1.8 .5-2.4 .5-5.6 .5-2.1 .5-4.8 .5-3 .5-2.2 .5-1.8 .5-4 .5-.9 .5-8.6 .5-1.5 .5-4.1 .5-9.3 .5-2.1 .5-7.6 .5-5.4 .5-8 .5-7.1 .5-10.6 .5-11.4 .5-5.8 .5-8.2 .5-15.1 .5-7.6 .5-10.5 .5-7.4 .5-11.8 .5-8.6 .5-2.6 .5-9.2 .5-3.1 .5-2.6 .5-5.4 .5-3.5 .5 2.4 .5 .7 .5-1.4 .5 6.3 .5 5.3 .5 9.4 .5 7.1 .5 7.1 .5 8.4 .5 9 .5 7 .5 12 .5 12.6 .5 9 .5 8.4 .5 7 .5 11.7 .5 7.6 .5 7 .5 8.3 .5 7 .5 5.3 .5 3.7 .5 6 .5 5.9 .5 3 .5 6.3 .5-.7 .5 3 .5 3.2 .5 5.7 .5-2.9 .5 10.7 .5-.4 .5 2.1 .5-.9 .5 4.8 .5-1.7 .5 1.7 .5 1.4 .5-.6 .5 .2 .5 2.6 .5 2 .5 4 .5-5.3 .5 3.2 .5 2.7 .5-2.9 .5-1.8 .5 2.8 .5 1.9 .5-5.4 .5 2.6 .5 .4 .5-.9 .5 5.3 .5-2.7 .5 .9 .5-2.9 .5 5.4 .5 .4 .5 1.4 .5-1.1 .5-1.4 .5-1.2 .5 .4 .5-3.6 .5 2.5 .5-.1 .5-1.1 .5 1.1 .5 2 .5 2 .5-2.3 .5 2.8 .5-2.7 .5 3.5 .5 2 .5-4.4 .5-2.2 .5 1.6 .5-.8 .5 .2 .5-2.1 .5 2.8 .5 .9 .5 1.2 .5 1.7 .5-4.8 .5 .2 .5 3.2 .5-2.6 .5 .8 .5 1.8 .5 .6 .5-1.4 .5 2.9 .5-1.8 .5-1.9 .5-1.3 .5-.6 .5-1.3 .5-.5 .5 2.7 .5-1.1 .5 1.3 .5-3.2 .5 4.4 .5-2 .5-1.7 .5 1.1 .5-.5 .5-.1 .5-1.7 .5 2.2 .5-1.7 .5 .3 .5 2.6 .5-2.2 .5 1.6 .5-1.2 .5-1 .5 .4 .5 1.5 .5-3.6 .5 1.8 .5-2.5 .5-4.8 .5 2 .5-2.8 .5 2.7 .5-.5 .5 1.3 .5-3.8 .5 1.2 .5-1.7 .5-.1 .5-.5 .5-.1 .5-.1 .5-.9 .5 .3 .5 1.8 .5-4.4 .5-2.8 .5 .8 .5-3.5 .5 .8 .5-.2 .5-2.4 .5-5.1 .5-1.6 .5-1.5 .5-4.4 .5-.9 .5-5.9 .5-2.6 .5-4.8 .5-6.1 .5-2.9 .5-8.3 .5-6.6 .5-4 .5-12.6 .5-1.7 .5-8.6 .5-7.6 .5-1 .5-10.6 .5-4.9 .5-1.8 .5-3.4 .5-1.4 .5 .6 .5-.9 .5 4.7 .5 2.9 .5 4.1 .5 5.2 .5 6.6 .5 11.6 .5 8.4 .5 4.2 .5 6.8 .5 8 .5 3.9 .5 5.3 .5 6 .5 3.2 .5 8.8 .5 2.1 .5 .1 .5 5 .5 5.9 .5 1 .5 1.4 .5 1.3 .5 4.5 .5 .6 .5 4.5 .5-.8 .5-1.9 .5 3.6 .5-1.3 .5 3.1 .5-4.8 .5 3.6 .5 .4 .5 5 .5 1.4 .5-3.3 .5 4.7 .5 1.3 .5-1.1 .5 .4 .5 4.3 .5-1.3 .5-1.5 .5-.1 .5-.7 .5 1 .5-.7 .5-1.3 .5 1.2 .5 .3 .5 .3 .5-.1 .5 1 .5 1.1 .5 .1 .5-.1 .5-.2 .5 .4 .5 3.2 .5-3.2 .5 4 .5-4 .5 1.1 .5-2.9 .5-1.4 .5 3.9 .5-4.5 .5 .1 .5 .9 .5-1.3 .5 1.7 .5-.3 .5 2.8 .5-2.3 .5 .3 .5-.7 .5 1.5 .5-4.7 .5-1 .5 2.6 .5 0 .5-.3 .5-1.9 .5-.7 .5 2.5 .5 1.8 .5-4 .5 .7 .5-.5 .5-.9 .5 2 .5-2.7 .5-.8 .5-3 .5-3.5 .5-.2 .5-.3 .5-4.6 .5-.1 .5 .7 .5 1.7 .5-2.4 .5-2.6 .5-1.5 .5 1.2 .5-1.3 .5 2.3 .5 .6 .5-.6 .5 1.9 .5-.2 .5-.7 .5 .1 .5 3.3 .5 .2 .5 2.6 .5 1.2 .5-1.4 .5 2 .5 2.5 .5-3.5 .5 2.4 .5-.4 .5-.6 .5 .8 .5 2 .5 4.6 .5-2.5 .5 3.4 .5 2.7 .5 2.4 .5-4.7 .5 2.2 .5 .1 .5-.9 .5 1.1 .5 2.2 .5-3.4 .5-.9 .5 .2 .5-2.1 .5-.9 .5 4.6 .5 .5 .5-.5 .5 2.8 .5 1.2 .5-.6 .5 .1 .5 1.1 .5-2 .5 .3 .5-1.4 .5 1 .5 1.2 .5-2.4 .5 .3 .5-1.8 .5-.6 .5 2.8 .5-.2 .5 2.3 .5 .7 .5-1.3 .5-.4 .5-1.1 .5 .5 .5-2 .5 3.4 .5 2.7 .5-2.3 .5 1.6 .5-1.2 .5-1.2 .5 3.3 .5-.3 .5-.3 .5 2.7 .5-1.5 .5-.4 .5-.5 .5-.7 .5 .1 .5-.8 .5 1.5 .5 1 .5-3.4 .5-3.8 .5 2.6 .5 4.5 .5-2.2 .5-.6 .5 3.8 .5-3.7 .5 2.7 .5-3.6 .5 1.6 .5-4.7 .5 7 .5-2.6 .5 2.4 .5-4.4 .5 1.2 .5-1.7 .5 .7 .5 1.3 .5-1.5 .5 .4 .5-.6 .5-1.9 .5-1.1 .5 1 .5 1.3 .5 2.4 .5-1.3 .5 2.3 .5-1.7 .5-1.1 .5 1.5 .5 .3 .5-.2 .5-1.8 .5 1.5 .5 1.9 .5-1.3 .5 1.3 .5-3.6 .5 2.7 .5 2.6 .5-2.5 .5-.4 .5 .9 .5 1.4 .5-.8 .5-.8 .5-2.3 .5-.5 .5-4.3 .5 3 .5-3.1 .5 2.6 .5 3.4 .5 .3 .5 1.9 .5 .4 .5-4.6 .5 2.4 .5-2.5 .5 2.1 .5-1.4 .5 1.7 .5-3.2 .5 1.3 .5-.7 .5-1.9 .5-5.3 .5 1.5 .5-1.3 .5 3.1 .5-.9 .5-1.5 .5 3.2 .5-5.5 .5 .6 .5-1 .5-1.6 .5-2.1 .5-1.7 .5-5.3 .5-1.3 .5-3.1 .5 .2 .5-1.5 .5-6.1 .5 1.2 .5-3.9 .5-4.8 .5-3.3 .5 .9 .5-4.7 .5-3.9 .5-4.1 .5-4 .5-7.7 .5-3.3 .5-5.4 .5-1.9 .5-8.4 .5-2.1 .5-8.6 .5-3.5 .5-1.5 .5-3.3 .5-1.1 .5 .1 .5-.4 .5 1.9 .5 2.3 .5 2.7 .5-1.3 .5 5.2 .5 3.6 .5 2.7 .5 6.2 .5 4.9 .5 3.4 .5 4.4 .5 4.9 .5 7.2 .5 1 .5 3.4 .5 2.6 .5 5.4 .5 3.7 .5 2 .5 4.5 .5 3.2 .5 1 .5 .8 .5 3.3 .5 .5 .5 4.9 .5-1 .5 3.1 .5 4 .5 2.4 .5 3.9 .5 1.8 .5 2.8 .5-2 .5 2.6 .5 1.1 .5-2.4 .5-.9 .5 1.6 .5-.9 .5 3.5 .5 .6 .5-3.3 .5 3.1 .5 0 .5 1.1 .5 .9 .5 1.8 .5 .8 .5-2.2 .5 1.6 .5-2.1 .5-2 .5 1 .5 1.2 .5-3.7 .5-1.3 .5 1.1 .5 3.1 .5-3.4 .5-1.8 .5 5.6 .5 2.1 .5-3.6 .5-.4 .5-.8 .5 .6 .5 2.1 .5 .2 .5 1 .5 .5 .5 0 .5-.5 .5-2 .5 .1 .5 1.1 .5-2.3 .5 2.7 .5-.7 .5-.3 .5 3.3 .5-1.7 .5-.9 .5 1.1 .5 4.1 .5 .2 .5 .7 .5-1.3 .5-.8 .5 1.3 .5-4.3 .5-.8 .5-.7 .5 .6 .5-.6 .5 2.9 .5-2.5 .5 .6 .5 .9 .5 2 .5-3.4 .5 .6 .5 4.8 .5-3.5 .5 .1 .5 4 .5-4.6 .5 0 .5 .1 .5 1 .5 1.4 .5-.1 .5-1.5 .5-1 .5 2.7 .5-.1 .5-1.5 .5 4.1 .5-4.4 .5 .3 .5 2.3 .5-4.8 .5 2.5 .5-2.3 .5-.3 .5 4.6 .5 .4 .5-1.7 .5 2.5 .5-4.3 .5 .3 .5-1.6 .5 4.1 .5-2.8 .5 .4 .5 4 .5-4.1 .5 2.9 .5-3.5 .5 1.1 .5-4 .5-1.6 .5 3.1 .5 .9 .5-1.1 .5 3.5 .5 0 .5-.5 .5 1 .5-1.5 .5 .5 .5-1.5 .5 2 .5-3 .5 1.8 .5-3.6 .5-1.7 .5-.9 .5 5.8 .5-1.2 .5-1.2 .5 2.2 .5-2.6 .5-.2 .5 1.7 .5 .5 .5 1.2 .5-1.5 .5-1.3 .5 1.4 .5-3.9 .5 6.4 .5-1.2 .5-1.5 .5 3.6 .5-1.6 .5-.4 .5 1.1 .5 .5 .5-1.9 .5 1.1 .5 .1 .5 .9 .5 2 .5 .1 .5-2.4 .5-2.3 .5-.8 .5-2.7 .5 .7 .5-1 .5 1.5 .5 1.3 .5-2.2 .5 1 .5 3 .5 .3 .5-4.4 .5 9.3 .5-7.5 .5 .9 .5-.3 .5 .3 .5 .9 .5-3.8 .5 4.6 .5-.7 .5-2.7 .5-.6 .5 .1 .5-.2 .5 1.7 .5-3.5 .5 3.4 .5 2.2 .5-5.4 .5 .4 .5 .8 .5 1.6 .5-2.4 .5 3.6 .5 1.7 .5-3.5 .5-.6 .5 .8 .5-1.8 .5 2.3 .5 1.8 .5-.6 .5-2.6 .5 .2 .5-1.4 .5 1.1 .5-3.6 .5 0 .5-3.8 .5-1.1 .5-1.8 .5-2.3 .5 2.6 .5-3.1 .5 3.4 .5-2.8 .5-2.4 .5-3.1 .5 3.1 .5-2.9 .5-2.2 .5-1.1 .5 .1 .5 0 .5-1.9 .5-3.3 .5 0 .5-7.1 .5-1.5 .5 2.6 .5-4.2 .5-4.3 .5-1.5 .5-.6 .5 2.9 .5-2.6 .5-3.5 .5 .9 .5-.3 .5-2.7 .5-2 .5 .3 .5-.7 .5-1.3 .5 3.2 .5 1.7 .5-1.1 .5 4.7 .5-.7 .5 4.2 .5 .4 .5 6.4 .5-.7 .5 3.8 .5 2.8 .5 2.4 .5 .2 .5 2.6 .5 2.1 .5-1.7 .5 2.6 .5 .8 .5 5.7 .5 2.5 .5 1.1 .5-1.8 .5 1.3 .5 5.5 .5-3.2 .5 3.6 .5 2.5 .5-.6 .5 0 .5 2.1 .5 .5 .5 1.5 .5 1.3 .5-1.1 .5 2.5 .5-3.2 .5 2.3 .5-3.8 .5 3.9 .5-5.4 .5 2.9 .5-.4 .5-2.1 .5-1.2 .5 1.1 .5 .1 .5-4.2 .5 2.3 .5 2.9 .5-1.1 .5-2.6 .5 2.6 .5-.5 .5-1.7 .5 4.4 .5-1 .5 2.6 .5 .2 .5 .3 .5 3.9 .5-2 .5-.4 .5-2.3 .5 1.7 .5 .4 .5-3 .5 2.2 .5-1.9 .5-.3 .5 2.5 .5-1.2 .5 1.5 .5 2.9 .5-1.9 .5 1 .5-3.7 .5 1.4 .5-1.7 .5 0 .5-1.3 .5 3.1 .5 1 .5-.9 .5-1.7 .5 2.2 .5-1.7 .5-.2 .5 0 .5 1.1 .5-1.8 .5 1.1 .5 .9 .5-2.6 .5 4.1 .5-1.2 .5 .2 .5-3.3 .5 1.6 .5-3.6 .5 3.6 .5-.9 .5 .7 .5 3 .5-1 .5 1.3 .5 .8 .5-.8 .5-2.2 .5-2.8 .5 3.3 .5-1.6 .5 2.1 .5-1.6 .5 2.3 .5-.9 .5-1.2 .5 1.2 .5-.9 .5-2.4 .5 1.2 .5 .5 .5 .7 .5-1 .5-2.2 .5 2.4 .5 .6 .5-1 .5-.1 .5-.4 .5 2 .5 1.2 .5 1.5 .5-1 .5-.2 .5-1.6 .5 .5 .5 .9 .5-3.1 .5 2.7 .5-.6 .5 .2 .5-.1 .5-1.2 .5 .8 .5-.6 .5-3.8 .5 3.9 .5-1.1 .5-1.2 .5-.8 .5 .5 .5 1.8 .5 .8 .5 .2 .5-1.3 .5 2.9 .5 2.6 .5-3.7 .5 2.2 .5-1.6 .5-2.3 .5 1.9 .5-3 .5 4.9 .5-3.1 .5-.5 .5-1 .5 2.1 .5-1.5 .5 .5 .5 .8 .5 3.2 .5 1.4 .5-2.9 .5 .4 .5 .1 .5-1.7 .5-1.6 .5 2.8 .5-3.4 .5-1.2 .5 .8 .5 1 .5 .3 .5 3.7 .5-1.4 .5-2.5 .5-1.1 .5 .8 .5 .6 .5-1.2 .5-1.8 .5-1.5 .5 2.7 .5 3.1 .5-.6 .5 1.4 .5-2.6 .5 2.6 .5 .2 .5-.8 .5 .6 .5-1.5 .5-1.6 .5 .4 .5-1.3 .5 .8 .5-.7 .5-.3 .5 2.7 .5 .9 .5 2.8 .5-3.4 .5-.5 .5 2 .5-1.1 .5 0 .5-3 .5 .7 .5-.7 .5 4.1 .5-5.9 .5 5.5 .5 0 .5-2.2 .5 1.1 .5-3.6 .5 3.6 .5 .4 .5-2.6 .5-.6 .5 3 .5-.7 .5-.2 .5-.1 .5-2.5 .5 1.3 .5 .9 .5 .4 .5 2.6 .5-1 .5 1.4 .5 .7 .5-4.5 .5 4.6 .5-3.3 .5 .7 .5 1.9 .5-1.6 .5-.4 .5-.6 .5 1.6 .5-2.9 .5 .5 .5-.7 .5 4.4 .5-2.4 .5-.1 .5-2.7 .5 1.2 .5-1.1 .5 .5 .5 .1 .5-.1 .5-2.6 .5 3.4 .5 2.3 .5-4.2 .5 1.1 .5-2 .5-.6 .5 .6 .5-.4 .5 0 .5-.4 .5 2.2 .5-.4 .5-.9 .5 3.6 .5-.5 .5-.8 .5-2.7 .5-.7 .5-1.3 .5 1.4 .5 1.6 .5 .2 .5 3.2 .5-2.8 .5 .7 .5-3 .5 .9 .5 2.9 .5-.9 .5-2.4 .5 4.7 .5-1.6 .5-1.5 .5 .4 .5 1.7 .5-.5 .5 2.9 .5-.4 .5 .6 .5 1.1 .5-2.5 .5 0 .5-1.9 .5 3.5 .5-4.6 .5 1 .5 .3 .5-.5 .5 1.4 .5-1.9 .5-.6 .5 .3 .5-.3 .5 1.2 .5 1 .5 2.6 .5-1.1 .5-2.5 .5 .3 .5 1.6 .5-1 .5-1.1 .5 2.4 .5-2.6 .5 3.3 .5-3.2 .5-1 .5-.4 .5-1.3 .5-1 .5 4.2 .5-4.1 .5-.4 .5 2.3 .5 .1 .5 4.6 .5-1.1 .5-.5 .5 1 .5-2.1 .5 1.4 .5 1.6 .5-2.1 .5-.1 .5 1.7 .5-1.9 .5 .3 .5 .1 .5 2.7 .5-3.7 .5 1.4 .5 1.8 .5 .2 .5 .6 .5 1.1 .5 0 .5-2 .5 0 .5-1.1 .5 .3 .5-1.7 .5-2.1 .5 1.4 .5 .4 .5 .7 .5 .3 .5 1.9 .5-5 .5 3.4 .5 .8 .5-3 .5 .6 .5 1.6 .5 1.9 .5 .3 .5-4.2 .5 3.1 .5 1.2 .5-3.7 .5 4.1 .5 .8 .5-2.5 .5-.2 .5-2.7 .5 4.1 .5-3.5 .5 2.8 .5-3.4 .5 2.1 .5 .2 .5 1 .5-2.1 .5-1 .5 2.6 .5 .2 .5 0 .5-2.1 .5 1.6 .5-8.3 .5 4.8 .5-3.9 .5 2.1 .5 2.3 .5 .6 .5-1.4 .5 1 .5-.1 .5 2 .5-5.1 .5 .5 .5 6.1 .5-3.9 .5-1.4 .5 2.1 .5-.4 .5-2.2 .5 1 .5 2.8 .5-3.9 .5 2.7 .5-3.5 .5 4.7 .5 2.2 .5-3.6 .5-1.7 .5 1.1 .5 .7 .5 1.8 .5-2.6 .5 4.5 .5-4.4 .5 2.5 .5-1.7 .5 .6 .5-.7 .5-3.2 .5 5.2 .5-.9 .5 2.7 .5-2.2 .5 4.1 .5-2.1 .5-1.3 .5-2 .5 5.3 .5-1.2 .5-2.3 .5-3.4 .5 3.2 .5-3.6 .5 1.6 .5 .1 .5 .7 .5-2.6 .5-1.1 .5 2.2 .5 3.8 .5-1.7 .5-2 .5 .4 .5 1 .5-1.5 .5 5.1 .5 .8 .5-4.9 .5 3.5 .5 2.1 .5 .6 .5 3 .5-6.1 .5 3.8 .5-.7 .5-3.3 .5-2.5 .5 3.3 .5-.9 .5 1.7 .5-.9 .5 4 .5-5.3 .5 5.5 .5-2.3 .5 3.6 .5-7.1 .5 .7 .5-3.9 .5 3.3 .5-2.8 .5 2.4 .5 .5 .5-1.3 .5 4.1 .5-2.4 .5-2.1 .5-.2 .5 .2 .5 .3 .5 1.1 .5-4.6 .5 2.7 .5-3.2 .5 2.5 .5-.3 .5 .2 .5-1 .5 1.4 .5-1.3 .5 1.2 .5-1.1 .5 1.4 .5 1 .5 3 .5-1.5 .5 .3 .5-1.3 .5 .5 .5 1.6 .5-2.5 .5 2.3 .5-2 .5 2.7 .5-5.4 .5-1.5 .5 1.8 .5-2.4 .5 2.2 .5-1.8 .5 2 .5 3.6 .5-1.4 .5 2.6 .5-2.2 .5-1.5 .5-.5 .5 1.6 .5 .3 .5-.6 .5 1.2 .5-1.3 .5-.9 .5 1.9 .5-.8 .5 3 .5 0 .5-1.2 .5-3 .5 .8 .5-2 .5 1.7 .5-2.6 .5 4.4 .5-3.2 .5 5.1 .5-4.1 .5 2.1 .5-.6 .5 1.2 .5 1.1 .5-.2 .5-2.1 .5-2.6 .5 1.3 .5 2.1 .5 .4 .5 .6 .5-.5 .5-.2 .5 .5 .5-1.3 .5 1.9 .5-5.3 .5 2.2 .5-1.6 .5 2.6 .5 1.3 .5-.4 .5-.5 .5 .6 .5-1.2 .5-4 .5 2 .5 3.6 .5 .2 .5 4 .5-2.3 .5 4.2 .5-3.5 .5 .4 .5-1.2 .5 .2 .5-1.8 .5 .3 .5-.2 .5-2.2 .5-3.2 .5 4.9 .5-1.5 .5 2.2 .5 1.6 .5-3.1 .5 .9 .5-1.3 .5 1 .5-.6 .5 1.1 .5-.9 .5-2.9 .5 6.7 .5-3.6 .5-1.2 .5 1.5 .5 .1 .5 1.8 .5-2.4 .5-.2 .5 1.7 .5-2.8 .5 3.4 .5 3.1 .5-4 .5-.3 .5 .7 .5-1.3 .5-.8 .5 1.2 .5-5.4 .5 1.7 .5-3.9 .5 5 .5 .2 .5 3.6 .5-3.5 .5 3.6 .5-2.4 .5-.7 .5 .2 .5 2.4 .5 0 .5-2.6 .5-.9 .5-.6 .5 2.2 .5-.1 .5-3.2 .5 3.4 .5-2.7 .5 1.1 .5 1.4 .5-.5 .5-1.9 .5 1.6 .5 1 .5 2.6 .5 .9 .5-1.3 .5-.1 .5 1.4 .5-2.6 .5-3.7 .5 3.5 .5-2.5 .5 .6 .5-1.6 .5 2.3 .5 1 .5-2 .5 2.7 .5-.5 .5 .6 .5-2.3 .5 .5 .5-.5 .5 1.4 .5 .8 .5-.9 .5-2.2 .5 .6 .5 .5 .5 1.6 .5 .8 .5-3.4 .5 1.7 .5-.1 .5 2.7 .5-.3 .5-2.3 .5-.4 .5 2.4 .5-1.9 .5 3 .5-2.8 .5 1.6 .5-2.5 .5 .6 .5 2.4 .5-2.2 .5 .5 .5-1.3 .5-1 .5 1.3 .5-.3 .5 1.7 .5-3.5 .5 .7 .5-.8 .5-.1 .5 2.2 .5-.3 .5 2.7 .5-2 .5 1.6 .5 .9 .5-.7 .5 1.6 .5-1.7 .5-1 .5-1.4 .5-.4 .5 .3 .5-1.2 .5 2.8 .5-3.5 .5-.5 .5-.1 .5-.1 .5 2.4 .5 .4 .5 1.3 .5 .4 .5-.5 .5-1.8 .5 4.5 .5-2.4 .5-2 .5 1.4 .5-2.6 .5 2.9 .5-1.1 .5 2.7 .5-2.4 .5 2 .5-2.3 .5 1.3 .5 .9 .5-1.2 .5-1.2 .5 .1 .5 .2 .5 0 .5-.9 .5-1.4 .5 2.1 .5-1.7 .5 2.6 .5-3.5 .5 1 .5 1.4 .5 .3 .5 2.3 .5-2.5 .5 .8 .5 2.1 .5-1.1 .5-1.2 .5 .6 .5-.5 .5 .7 .5-2.8 .5 .8 .5-1.5 .5-2.1 .5 6.8 .5-2.1 .5-1 .5 1 .5-3 .5 2.2 .5-2.8 .5 1.7 .5 .5 .5 .3 .5-1.9 .5 .1 .5-1.6 .5 2.1 .5-.1 .5 2 .5 .9 .5 3.3 .5-2.5 .5-.9 .5 2.1 .5 .1 .5-1.8 .5-1 .5 2.9 .5-3.4 .5-1.4 .5 1.3 .5-1.2 .5-.5 .5 1.9 .5-1.3 .5 1.3 .5 3.8 .5-1.8 .5 .1 .5 3.2 .5-3.4 .5 1 .5 .7 .5-1.5 .5-1.1 .5-2.9 .5 1.3 .5 .2 .5 2 .5-1.4 .5 2.4 .5-.9 .5-2.3 .5-.9 .5 .9 .5-1.6 .5-1.6 .5 .5 .5-2.1 .5-.3 .5 2.2 .5 2.1 .5-1.1 .5-1.7 .5 .9 .5 .3 .5 .5 .5 2.7 .5-1.3 .5-1.5 .5 .9 .5-1.3 .5 2.7 .5 .2 .5-4.8 .5 2.4 .5 .8 .5-.9 .5-1.1 .5-1 .5 8 .5-4.8 .5-1.6 .5 4 .5-.8 .5-3.1 .5-3.5 .5 1.3 .5-1.8 .5 2.7 .5-1.8 .5-1.4 .5 .8 .5-.2 .5-1.1 .5 5.4 .5-6.6 .5 3.4 .5-1.6 .5-2.1 .5 .9 .5 4.2 .5-3.6 .5-.3 .5 .6 .5-1.2 .5-.5 .5 2.8 .5-3.1 .5-1 .5 0 .5-3.5 .5-.8 .5-3.4 .5-1.3 .5-5.2 .5-3.8 .5 2.6 .5-2.8 .5-2 .5-2.8 .5-1.4 .5 .4 .5-7.3 .5-2.4 .5-1.3 .5-4.3 .5-2.9 .5-5.2 .5-3.9 .5-5.8 .5-7 .5-7.3 .5-6.8 .5-8.9 .5-5.6 .5-5.4 .5-10.8 .5-4.5 .5-9.5 .5-3.4 .5-10.5 .5-10.2 .5-7.8 .5-6.9 .5-7.8 .5-8.7 .5-9.1 .5-6.7 .5-7.4 .5-5.5 .5-4.6 .5-5.3 .5 .8 .5-4.5 .5-1.2 .5 3.1 .5 1.6 .5 1.5 .5 4.7 .5 4.7 .5 12.1 .5 5.3 .5 6.3 .5 10.6 .5 5.7 .5 7.4 .5 12.4 .5 5.1 .5 10.2 .5 9.6 .5 8.8 .5 7.8 .5 8.5 .5 5.7 .5 4.9 .5 5.9 .5 8.7 .5 4.3 .5 5.3 .5 9.6 .5 .2 .5 7.8 .5 4.1 .5 .5 .5 2 .5 7.6 .5 3.2 .5 4.1 .5 3.6 .5 3.8 .5 3.9 .5 3.2 .5-4.3 .5 4.2 .5 1.1 .5-1.7 .5 3.1 .5-1.1 .5 1.4 .5 .5 .5 2.9 .5-.7 .5 4.8 .5 1.1 .5-.9 .5 1.6 .5-1.9 .5 2.8 .5 2.3 .5-3 .5 .4 .5-.6 .5 2.2 .5-.8 .5-1.5 .5-1 .5 1.1 .5 .2 .5 4.2 .5-1.2 .5-.1 .5-.8 .5 1.4 .5 1.1 .5 .2 .5 .2 .5 2.2 .5-2.3 .5-1.5 .5-.2 .5 4 .5-2.4 .5 3.1 .5-3.3 .5 1.4 .5 .1 .5 2.5 .5 1.9 .5-1.7 .5-1.2 .5 1.9 .5-.7 .5-4.4 .5 4.7 .5-3 .5 4.1 .5-2.9 .5-.7 .5 .6 .5-1.4 .5-1.3 .5 4.7 .5-2.6 .5 .1 .5 1 .5-1.1 .5 2.5 .5-1.5 .5-.5 .5 .8 .5-1.5 .5 1.4 .5-1.9 .5 .3 .5 .9 .5 .8 .5-1.9 .5 1.9 .5-3.8 .5 1.6 .5 1 .5 2.3 .5-2.2 .5 1.1 .5-.4 .5 1.2 .5-3.3 .5-.1 .5 .8 .5 .2 .5-.4 .5 1.9 .5-1 .5-2.9 .5 3.2 .5-4.8 .5 5.5 .5-4.1 .5-.4 .5-.6 .5 .4 .5 2.8 .5-4.9 .5-.2 .5 1.5 .5 3.9 .5-4.9 .5 3.7 .5-.3 .5-1.9 .5 0 .5 1.5 .5 1.7 .5-3.1 .5 1.5 .5 2.7 .5 1.9 .5-1.6 .5 2.3 .5-5.6 .5 1 .5 .3 .5-2 .5 2.6 .5-3.1 .5 .3 .5 .9 .5-2.1 .5-2.1 .5 2.6 .5-1.7 .5 2.5 .5-2.2 .5 3.2 .5-4.2 .5-.7 .5-1.3 .5-2.5 .5 1.9 .5-.3 .5-1.1 .5 1 .5 1.2 .5-2.6 .5-2 .5-4.3 .5-.7 .5-2.3 .5-3.4 .5-1.4 .5-5 .5 1.3 .5-.5 .5-5.2 .5 .7 .5-2.7 .5-3.8 .5-.9 .5-2.8 .5-.1 .5-2.9 .5-4.2 .5-1.2 .5-3.5 .5-3.8 .5-5.5 .5-2.2 .5-.1 .5-1.4 .5-.3 .5-4.3 .5 .6 .5-1.2 .5 3.8 .5-2.9 .5 1.8 .5 0 .5 .4 .5 2.4 .5 1.5 .5-.7 .5 4.2 .5-2.4 .5 4.2 .5 5.2 .5-.6 .5 3.6 .5 2.1 .5 3.6 .5 3.4 .5 3.2 .5 3.7 .5-.6 .5 2.3 .5 3.5 .5 .1 .5 4.1 .5-.9 .5 3.9 .5 2.2 .5 3.7 .5-1 .5 2.4 .5 2.1 .5-.9 .5 1.6 .5-1.2 .5 5.2 .5 .7 .5-3.6 .5 5.3 .5-.3 .5 2.5 .5-.3 .5-3.6 .5 7 .5-4.4 .5 .4 .5-.5 .5 1.1 .5 .3 .5-3.4 .5 1.9 .5 3.3 .5-1.3 .5 2.8 .5-5.8 .5 4.9 .5 4.4 .5-3.5 .5 1.1 .5 .7 .5 .2 .5 .5 .5-1.3 .5 2.3 .5-5.2 .5-.8 .5 2.8 .5 .4 .5 3.6 .5-1 .5 1.9 .5 .1 .5-2.3 .5-.7 .5 2.7 .5-4.2 .5 2 .5 3.8 .5-4.2 .5-3.6 .5 1.4 .5-1.3 .5 4.5 .5-4.4 .5 4 .5-2.3 .5-2.8 .5 2.9 .5 .2 .5-1.6 .5 2.7 .5 .7 .5-2.3 .5 4.5 .5 0 .5-4.8 .5 4.1 .5-3.5 .5-1.5 .5 1.7 .5 2 .5-2.2 .5 3.8 .5-3.6 .5 .9 .5 5.5 .5-2.8 .5 1.1 .5-2.9 .5-.3 .5 0 .5-2.9 .5 3.4 .5-3 .5 .8 .5 1.3 .5-2.1 .5 2 .5 1 .5-.1 .5 .4 .5-1.5 .5 2.1 .5 4.2 .5 .4 .5-3.1 .5 .3 .5-1.7 .5 1.5 .5-1 .5-3.5 .5 3.6 .5-4.3 .5 .6 .5-3 .5 0 .5 .9 .5-1.7 .5 1.6 .5 2.9 .5-1.5 .5 .8 .5 1.6 .5-.3 .5 1 .5-1.8 .5 .2 .5 1.1 .5-2.7 .5-3.5 .5 .7 .5-1.4 .5 2.3 .5 1 .5 1.4 .5-1.5 .5-1.1 .5 .7 .5 .6 .5 2.4 .5-.6 .5 1.8 .5-2 .5 .8 .5 1.8 .5-2 .5 2.7 .5-5.9 .5 1.4 .5-1.4 .5-1.7 .5 .3 .5 2.7 .5-3.2 .5-.5 .5 1 .5 .5 .5 2.3 .5-1.9 .5 3.6 .5 .2 .5-2.3 .5-.6 .5 1.1 .5-5.1 .5 4.3 .5 .3 .5-3.1 .5-3.2 .5 1.6 .5 1.2 .5 1.2 .5 .1 .5 1.1 .5 .7 .5 .5 .5 2.4 .5-3.9 .5 2.1 .5-1.6 .5-.6 .5-1.2 .5 2.5 .5-2.6 .5 .4 .5 2.2 .5 .5 .5-.4 .5 .8 .5-2.3 .5 0 .5-4.3 .5 3.2 .5 1.1 .5-1 .5 .1 .5 1.5 .5 .2 .5-3.1 .5-1.3 .5 3.5 .5-4.1 .5 4.3 .5-3.6 .5 1.7 .5-.3 .5-1.7 .5-1.1 .5-.9 .5 1.5 .5 1.6 .5 3.7 .5-1 .5-.5 .5 1.4 .5-1.5 .5 1.5 .5-2.9 .5 3.3 .5 1.8 .5-1.5 .5-.3 .5-3.2 .5-1.9 .5 .2 .5 .1 .5 3.3 .5 1.5 .5 .3 .5-.9 .5 .6 .5-1.3 .5-1.5 .5 1.6 .5-1.9 .5 4.9 .5-1.3 .5 1.5 .5-1.8 .5 .9 .5-.3 .5-2.1 .5 0 .5-.3 .5-3.2 .5 2.4 .5-2.3 .5-1.2 .5 5.6 .5-1 .5 2.1 .5 3.2 .5-2.7 .5-2.5 .5 4.2 .5-1.8 .5 .2 .5 2.3 .5-2.4 .5 .9 .5-1.1 .5 .6 .5 2.1 .5-2.5 .5-.4 .5 2 .5-.4 .5 .8 .5 4.8 .5-4.3 .5 3.6 .5-2.1 .5-2.8 .5 .8 .5-.5 .5-2.7 .5 4 .5-2.8 .5-.7 .5 .5 .5 3.2 .5 0 .5-3.2 .5-3.7 .5 3.6 .5 1 .5 .1 .5-.3 .5 .4 .5 2.7 .5 .6 .5-1.4 .5-.3 .5-.5 .5 1.1 .5-3.4 .5 1.2 .5 .2 .5 1.2 .5 1.8 .5-1.8 .5-.8 .5 .7 .5 1.7 .5-1.5 .5-.8 .5 1.5 .5-.7 .5 3.9 .5-1.6 .5-2.6 .5 .3 .5 1.2 .5-1.1 .5-4.1 .5 .8 .5 2 .5-2.3 .5 .6 .5-.1 .5 1.2 .5-2.3 .5-1.5 .5 3 .5 3.8 .5-2.8 .5 2.8 .5-2.9 .5-1.3 .5-.3 .5 2.8 .5 .4 .5 .7 .5 0 .5-3.3 .5 3.3 .5 .7 .5-5 .5-.7 .5 6.2 .5-3.9 .5 .4 .5 2.1 .5 1.2 .5-1.3 .5 1.2 .5-1.8 .5 1.8 .5-3.6 .5 2.4 .5-3.6 .5 1.3 .5-.2 .5 2.7 .5 .2 .5 .3 .5-1.6 .5 3.4 .5 .6 .5-.6 .5-1 .5 .3 .5-.6 .5 1.3 .5-1.7 .5 .2 .5-3.8 .5 1.4 .5-1.3 .5 3 .5-2 .5-.3 .5 2.7 .5 .1 .5 .7 .5-.2 .5 .1 .5 2.4 .5-3.4 .5-.6 .5-.8 .5 1.4 .5-1.2 .5-1.9 .5 .3 .5 2.6 .5-3.9 .5 2.6 .5 .4 .5-3 .5 1.5 .5-2.6 .5 4.5 .5-.2 .5-.7 .5 .9 .5 1 .5-.7 .5 0 .5-.1 .5-.2 .5 2.1 .5-3.8 .5 2.6 .5-.3 .5 1.4 .5-.3 .5-1.5 .5-.5 .5 .7 .5-1 .5-.3 .5-1.3 .5-1.3 .5 .7 .5 1.7 .5-1 .5 2.2 .5-4.6 .5 2.9 .5 1.6 .5-1.1 .5 2.8 .5 .2 .5-1.9 .5 .9 .5 4.1 .5 0 .5-1 .5-4.4 .5 3.5 .5-.2 .5 1 .5-3.5 .5-.3 .5 3.4 .5-1.8 .5 1.4 .5-.8 .5-.1 .5 1.1 .5-1 .5-2.2 .5-.9 .5 1.4 .5-1.4 .5 2.8 .5-5.1 .5-2.2 .5 3.1 .5-1.4 .5 .5 .5 4.7 .5-3.8 .5 2.2 .5 4.5 .5-1.3 .5-2.3 .5 .6 .5 2.6 .5-1.8 .5-.6 .5-1.9 .5 1.1 .5-1.3 .5 .3 .5 2.1 .5-2.6 .5 .8 .5 2.1 .5-1.8 .5-2.3 .5 6 .5-3.1 .5-1.6 .5 .8 .5 .7 .5-4.2 .5 4.6 .5 0 .5 1.2 .5-2.8 .5 5.2 .5-2.1 .5-.9 .5-1.3 .5-.1 .5-1.2 .5 1.8 .5 1.2 .5-1 .5 1.1 .5-.8 .5-.5 .5-1.6 .5-1.2 .5 2.6 .5-1.3 .5-1.3 .5-.4 .5 .1 .5-1.3 .5 1.4 .5 2.5 .5-4.8 .5 3.2 .5-5.9 .5 .6 .5-1.5 .5 1.9 .5-3 .5 1.3 .5 1.7 .5-1.5 .5 .2 .5-.7 .5 3.1 .5-1.9 .5-4.6 .5 .3 .5-1 .5 1.7 .5-1.6 .5-.9 .5 2.8 .5-1.7 .5-2.9 .5-3.4 .5 1.2 .5-3.2 .5 .7 .5-.8 .5-3.8 .5 1.7 .5-2.7 .5-.4 .5-2.9 .5 1.7 .5-.5 .5-.3 .5-2 .5-2.6 .5 0 .5-.1 .5-.7 .5-3 .5 1.4 .5-2 .5-.4 .5 1.2 .5 .5 .5 0 .5 .9 .5 .2 .5 3 .5 1.6 .5-1.9 .5 4.3 .5 4.1 .5-3.3 .5 1 .5 2.1 .5 3.3 .5-3.9 .5 2.6 .5 1.4 .5 4.1 .5 .6 .5 2.3 .5 .7 .5 1.8 .5-.4 .5-.1 .5-.3 .5-.9 .5 1.1 .5 3.9 .5-4.1 .5 4.5 .5-2.1 .5 2.2 .5 .9 .5 2 .5 1.6 .5-4 .5 6.1 .5-2.7 .5-3.6 .5 2.2 .5 .3 .5 1.9 .5 .8 .5-2.6 .5 1 .5-.8 .5-.4 .5 4.4 .5-.2 .5 .5 .5-.2 .5 .2 .5 3.3 .5-1.1 .5-.3 .5-.5 .5-3.3 .5 2.5 .5-2.8 .5 2.6 .5-4.5 .5-1.1 .5-1 .5 2.5 .5 1 .5 1.9 .5-.6 .5-4.6 .5 5.4 .5-1.2 .5-4 .5 .5 .5-4 .5 4.1 .5-4.8 .5 3.8 .5 2.6 .5 1.5 .5-1.8 .5-.8 .5-2.5 .5 1.4 .5-8 .5 2.2 .5 .5 .5-.1 .5-5.2 .5 5.6 .5-2.3 .5-1.3 .5 3.2 .5-3.7 .5-.3 .5-5.4 .5-2.4 .5-.4 .5-.5 .5 1.4 .5-6 .5 1.5 .5 1.6 .5-1 .5 2.2 .5 1 .5-4.3 .5 1.9 .5-1.6 .5-2.7 .5 3.1 .5-2.8 .5 .3 .5 1 .5-.3 .5-1.8 .5 .2 .5-.5 .5 3 .5-1.9 .5 2.7 .5 .2 .5-2 .5 3.4 .5 .4 .5 1 .5-.7 .5-.6 .5 2.7 .5-.6 .5 4.1 .5-1.8 .5 1.5 .5 .2 .5 1.9 .5 0 .5-.7 .5 3.3 .5-1.9 .5 3.1 .5-.3 .5 3.5 .5 1.8 .5-2.5 .5 .8 .5 1.9 .5-.3 .5 1.9 .5-.2 .5 1.7 .5 2.6 .5-2.8 .5 3.1 .5-5.6 .5 3.3 .5 1.1 .5-.6 .5 .4 .5 .9 .5 .3 .5 2.5 .5 2.5 .5-2 .5-2.2 .5-1.4 .5 4.4 .5-3.8 .5-1.9 .5 3.9 .5-4.6 .5 4.6 .5-.1 .5 1.6 .5-2.7 .5 1.8 .5 1.5 .5 .7 .5 1.7 .5-2.8 .5-.3 .5-1.4 .5 2.6 .5-4.8 .5 1.2 .5-.4 .5 3.7 .5-1.2 .5 1 .5-4.4 .5 1 .5-3.2 .5 1.9 .5 .6 .5 .8 .5 3.2 .5-3.9 .5 3.2 .5-3.3 .5-.5 .5 3 .5-.2 .5 0 .5-.4 .5 .1 .5 .5 .5 1.6 .5-1.4 .5-2.8 .5 5.7 .5-2.5 .5 4.7 .5-1.3 .5-4.2 .5-.7 .5-2.7 .5 .6 .5 1.3 .5-1.1 .5 1.1 .5-2 .5 1 .5-.8 .5 3.4 .5-.3 .5 .6 .5 .2 .5-.2 .5-2 .5 2.1 .5-1.6 .5 1.2 .5 2.4 .5-1.5 .5-2.5 .5-2.4 .5 2.1 .5 3.1 .5-1.5 .5 1.4 .5-1 .5-.5 .5 .5 .5 .8 .5 0 .5-1.7 .5-.7 .5-.4 .5 1.8 .5 .8 .5-1.2 .5 0 .5 1.1 .5 2 .5-1.2 .5-3.8 .5 5.1 .5-1.2 .5-2.1 .5 2.9 .5-1.3 .5-3 .5 .1 .5 4.6 .5-3.2 .5 2.2 .5 2.4 .5-3.4 .5 2.6 .5-.9 .5 .8 .5-3.1 .5-.4 .5 .1 .5-2.8 .5 2.4 .5 1.2 .5-1.4 .5 .3 .5-.4 .5 5.2 .5-4.3 .5-.9 .5 2.6 .5 2.7 .5-4.5 .5 1.6 .5-3.1 .5 .5 .5 1.1 .5 1.7 .5-2.7 .5-.5 .5 1.9 .5 1.8 .5-3.1 .5 2.5 .5-3.7 .5 2.5 .5-2.1 .5 .2 .5-1.9 .5-.5 .5 4.2 .5-1.9 .5 .2 .5 .5 .5-.5 .5-1.7 .5 3.3 .5-2.8 .5 1.2 .5 .1 .5 1.2 .5-.9 .5 .7 .5-2.1 .5-1.7 .5 1.2 .5-.7 .5 2.2 .5-2.3 .5 2.8 .5 .7 .5-1.1 .5 2.1 .5-1.4 .5 .9 .5 .6 .5 .4 .5-1.8 .5-.9 .5-.6 .5-2.1 .5 2.6 .5 1.4 .5 .2 .5-.4 .5-.1 .5-1.4 .5-3.2 .5 3.8 .5-.3 .5-.2 .5 1.2 .5 .1 .5-2 .5-.9 .5 2.7 .5-1.7 .5-2.4 .5 .3 .5 .9 .5-.1 .5 1.8 .5 2.1 .5-1 .5 2.3 .5-.1 .5-1.2 .5 2.4 .5-2.5 .5 2.8 .5 1.3 .5-1.4 .5 .4 .5-.4 .5-1.1 .5 2.4 .5-2.4 .5 0 .5-1.3 .5-2.5 .5 1.5 .5 1.1 .5 .7 .5 1.7 .5-2.6 .5 2.9 .5-3.4 .5 1 .5-.4 .5-4.9 .5 3.4 .5-1.7 .5 2.1 .5 0 .5-2.7"/>
<path fill="none" stroke="#006DE0" stroke-width="8.8" stroke-linejoin="round" stroke-linecap="butt" d="M237.00 1178.7l1-.4 1-1.5 1 .3 1 1.2 1-1.2 1 1.2 1 .5 1 1.3 1-2 1-.6 1-.7 1 1.3 1 0 1 1 1-2.9 1 2.9 1-1.8 1 1.5 1 .7 1 0 1-.3 1-.9 1 .6 1-.8 1 2.4 1-1.4 1 .4 1-1.4 1 1.7 1-1.3 1-.4 1 1 1-2 1 .3 1-.8 1-.1 1 1.3 1 0 1-.2 1-.3 1 0 1 .9 1 0 1 .6 1 .6 1 .2 1-.4 1-2.2 1 1.4 1 0 1-.5 1 .7 1-.9 1-.3 1-.7 1 1 1-2.5 1 1.2 1 .2 1 .1 1 .4 1-.4 1 .8 1 .4 1 0 1 .8 1-1.9 1 1.2 1 .3 1-2 1 1.7 1 .6 1-2.2 1 1.5 1-.7 1 1.4 1-.6 1 1.1 1 .8 1 0 1-.8 1-1.5 1-2.2 1 1.8 1-1.2 1 1.7 1 .1 1 1 1 .1 1-.3 1 .6 1-1 1 0 1-2 1 1 1 1 1-.1 1 .1 1-.3 1-.3 1 0 1-.7 1 .5 1 .4 1-.9 1 .4 1-.6 1 1.4 1-2 1 1.1 1 .4 1-.4 1 .4 1 .8 1-.1 1 .6 1-.4 1-1.9 1 1.6 1-1.6 1 1.6 1-.2 1-1.9 1-.4 1 1.1 1-.3 1 .2 1 .2 1 1.8 1 .1 1-.6 1 .6 1-1 1-.4 1 1.4 1 .2 1 1.4 1-1.9 1-1.2 1 1.9 1-1.5 1 0 1 .6 1-.2 1 .3 1 1.2 1-.3 1-.8 1-1.1 1-.4 1 1.2 1-1.1 1 1.1 1-.2 1 0 1 .6 1-.1 1-.7 1 .1 1-.2 1-.3 1-.9 1 .6 1-1.4 1 1.5 1 3.1 1-1 1-1.4 1 1.2 1 .4 1 .1 1-2.1 1-.5 1-.1 1 .3 1-.4 1 .6 1 1.3 1-1.6 1 .7 1 .6 1-.4 1 .2 1 1.7 1-3.4 1 .3 1 .8 1 .3 1 0 1 1.6 1-1.1 1-.1 1-.3 1 .5 1 .1 1-1.2 1-.1 1 .8 1 .6 1 .6 1-1 1-.5 1 1.6 1-3.2 1 1.6 1-.9 1 .2 1 1.4 1 0 1-1.2 1-.3 1 1.3 1-1 1 1.7 1-1.6 1 1.5 1 .6 1-.1 1-.6 1-2.3 1-1 1 1.4 1 1.1 1 1.3 1-.2 1-.8 1-.3 1-.2 1-.1 1-.6 1 1 1-.1 1-1.3 1 .3 1 1.2 1-.5 1 1.8 1-.4 1 .3 1-3 1-.8 1-1.4 1 .7 1 1.3 1 .3 1-.8 1 1.2 1-.2 1-1 1-1.6 1-.6 1-.5 1 1.5 1-.9 1 1.4 1-.6 1 .3 1-1.6 1 .2 1 .2 1-1.4 1-.9 1-.5 1-1 1-.6 1-3.8 1 .3 1-2.4 1-.9 1-2.9 1-4 1-3.8 1-5.2 1-4.1 1-7.1 1-7.8 1-7.5 1-12.8 1-12.5 1-16.6 1-17.5 1-20.7 1-21 1-26.6 1-29.3 1-29.1 1-32.7 1-31.2 1-29.8 1-25.8 1-18.6 1-12.7 1-2 1 6.2 1 15.1 1 20.9 1 25.7 1 31.2 1 28.4 1 32.9 1 30 1 26.8 1 24.2 1 22.9 1 21.5 1 16.2 1 14.2 1 12.6 1 9.5 1 9.1 1 9.2 1 5 1 7.2 1 2.7 1 4.1 1 3 1 3.2 1 2 1 3.1 1-.2 1-.5 1 3.2 1 1.2 1 .3 1 .9 1-.9 1 .7 1-.6 1 1.1 1 1.5 1-1.1 1 1.4 1 .6 1 1.1 1 .2 1 .1 1 0 1-.7 1 1.4 1-.8 1-.5 1 1.6 1 .3 1-1 1 .4 1-.5 1 .2 1-1.2 1 1 1 1.6 1-.8 1 1.2 1-1.5 1 .7 1 .7 1 .1 1 1.1 1-1.9 1-.2 1-.7 1-1 1 1.2 1 .2 1 .2 1 .6 1-2.7 1 1.8 1 0 1-1 1 2.9 1-1.8 1 .7 1 1.2 1-1.1 1 1.1 1-1.9 1-.7 1 2.4 1-.4 1-.8 1-.2 1 .2 1-1.1 1-.2 1 1.1 1-.6 1 1.1 1 .6 1 .1 1-2.7 1 .7 1-1.4 1 2.4 1-1.1 1-.7 1 .7 1 .2 1 1.1 1 1 1 1.5 1-.9 1-1.9 1 .5 1-.4 1 1.6 1-.3 1 .5 1-1.1 1-.3 1-.9 1-1.6 1 1.5 1-1.1 1 2 1-1.2 1 1 1-.8 1-.4 1-.7 1 1.6 1 .4 1 .4 1-1.2 1 .4 1-.7 1-.3 1-.4 1 1 1-.7 1-.1 1 2.6 1-2.3 1-.9 1 2.2 1-.1 1 1.8 1-1.5 1-.4 1-1.1 1 1 1 .8 1 .5 1 .5 1-.2 1-1 1-.1 1-.6 1 .4 1 2 1-2.5 1-.1 1 .3 1 .6 1-.2 1 .1 1-.8 1 1.3 1-1.2 1 1.7 1-1.5 1-1.1 1 1.3 1-1.1 1-.3 1 2 1-.8 1 .4 1-.1 1 .4 1 .1 1-1.5 1-.5 1 1 1-.3 1 .3 1-.1 1 .7 1-1.9 1 .4 1 2.2 1-.7 1-.1 1-.6 1-.2 1 .8 1-.5 1-.5 1 1.3 1-1.5 1 .5 1-.2 1 .4 1 1.1 1 0 1-.6 1 .5 1 .8 1-1.2 1-.2 1-1.3 1-1.8 1-.3 1 .6 1-.1 1 1 1 .2 1 .9 1 .6 1-1 1 1.1 1 .2 1 .9 1-1.7 1-.6 1-.8 1-1 1-.3 1 1.1 1 .9 1-.5 1 .8 1 1.4 1-.3 1-.4 1 .1 1-.9 1 1.7 1-.2 1-.8 1 1.4 1 .5 1-.6 1-1.4 1-.1 1 .1 1 .4 1 .1 1-1.2 1 2 1-.6 1 .5 1-1.1 1-.4 1-1 1 2.8 1-3 1 1.8 1-.2 1 .4 1 1.6 1-.3 1-.4 1 .1 1-.3 1-1.5 1-.3 1 1.3 1-1.6 1 1 1 1.9 1-1.4 1-2.1 1 .1 1 .9 1 1.1 1-1.2 1-1.3 1 .6 1 .9 1 .7 1-1 1 .3 1 0 1 .9 1 .1 1 1 1-.6 1 1 1-2.3 1-.1 1 .4 1 1.5 1-.8 1 .2 1-1.1 1 .5 1-.5 1 .5 1 .1 1 1.5 1-1.1 1-.6 1-.5 1 .7 1 .5 1 1.4 1-.7 1 .1 1-2.7 1 1.7 1-1.8 1 .5 1 1.7 1-1.6 1 .1 1 1.4 1-1.6 1 .6 1-.6 1 .6 1-.7 1 .1 1 1 1 .7 1-.1 1 .5 1-1.2 1 1.4 1-3.3 1 1.1 1 .2 1 .4 1 1.7 1-2.6 1 2 1-1.3 1 .4 1-.4 1 .8 1 .4 1-1.8 1 1.9 1-1.2 1 .2 1-1.7 1 1 1 .4 1 .7 1-.2 1-.9 1-1.1 1 1.6 1-.6 1 1.1 1-.9 1-.7 1 .2 1-.9 1-.7 1-.7 1-.2 1 1.1 1 1.2 1 1 1-1.4 1-.5 1 .1 1-1.9 1 .4 1-.2 1-1.2 1 1.7 1-1.9 1-1.5 1-1.3 1-2.2 1 .9 1-1.8 1-.7 1-2.8 1-3.1 1-4 1-4.8 1-5.4 1-5.2 1-6.3 1-10.4 1-10.9 1-11.4 1-14.6 1-17.9 1-17 1-18.4 1-18.3 1-17.9 1-16.1 1-13.8 1-6.9 1-1.2 1 4.5 1 10.2 1 13.6 1 18.3 1 15.7 1 20.8 1 17.2 1 15.4 1 15.9 1 12.7 1 11.2 1 11.6 1 5.7 1 6.2 1 4.4 1 3.6 1 3.6 1 2.5 1 1.9 1 1.2 1 1.4 1 .3 1 2.5 1-.2 1-.8 1 .7 1 1.8 1-.1 1-.2 1 1.1 1-.5 1 1 1-.7 1-.1 1 1.6 1-.1 1-.1 1-.4 1 .1 1-.6 1 0 1 1 1 1.8 1-1.2 1 1 1 .2 1 .7 1 1.5 1-1.6 1 .6 1 .3 1-1.6 1 1.1 1-.3 1 0 1 .4 1 3.3 1-.9 1-1.7 1 1 1 2.3 1-2.5 1-1.3 1-1.7 1-.2 1 .1 1-1.2 1-1.1 1-1.2 1-2.3 1-2.5 1-2.3 1-5.4 1-4.8 1-5.8 1-4.4 1-10.1 1-9.6 1-11.2 1-15 1-14.8 1-20.2 1-18.3 1-17 1-15.2 1-7.1 1-.9 1 7.2 1 11 1 16.5 1 19.4 1 20.3 1 15 1 14.9 1 13.6 1 11.7 1 9.1 1 6.6 1 6.2 1 4.5 1 3.3 1 3.7 1 3.5 1 1.5 1 2.2 1-.4 1 3.4 1 .4 1 1.2 1 2.6 1-.5 1 1.1 1 .4 1 .1 1-.4 1-.2 1 2.7 1-1.5 1 .6 1 .2 1-.9 1 .1 1 .7 1-.3 1 .9 1-2.9 1-.2 1-.2 1-.1 1-2.1 1-.9 1-2.4 1-1.5 1-2 1 .2 1-2.2 1-.7 1-1.4 1-3.2 1-.8 1-1.3 1-.1 1 .5 1 1.5 1 2.2 1 1.8 1 .1 1 2.7 1 2.1 1 1.9 1 1.8 1 3.4 1-1.3 1 1.5 1 .1 1 .6 1 3.4 1 .2 1-.5 1-.5 1 1.1 1 .1 1-.7 1 1.8 1-.7 1-.8 1 .8 1-.7 1 1.3 1 1.6 1-.7 1-.6 1 .2 1 .4 1 .6 1 .4 1-.3 1-.4 1-.8 1-.1 1 .2 1-1 1 3 1-1.2 1 1.1 1-1.6 1-1.6 1 1.1 1-.5 1 1.9 1-.9 1-.2 1-.7 1 .1 1-.1 1-.6 1-.7 1 1.1 1 .7 1 .4 1-.2 1 .2 1 .1 1-.1 1 1.4 1-2.8 1 .1 1 .2 1-.5 1-1.5 1-.4 1-.3 1-1.6 1-1.1 1 1.6 1-2.6 1-.4 1-1.7 1-2.8 1-3.3 1-2 1-3.8 1-6 1-4.4 1-4.9 1-7.5 1-6.3 1-7.7 1-9 1-9.6 1-9 1-8.4 1-6.3 1-3.4 1-.9 1-1.3 1 3.3 1 6.4 1 7.6 1 6.9 1 7.7 1 7.9 1 10.1 1 6.3 1 10 1 5.2 1 4.8 1 4.8 1 5.1 1 2.1 1 2.8 1 2.8 1 2.9 1-.3 1 3.6 1-.4 1 1.4 1 .3 1 1 1 .4 1 1.9 1-1 1-1.1 1 .5 1-.2 1 .5 1 1.4 1 .2 1 .3 1 .3 1-.7 1 .3 1 1.3 1-.5 1-.4 1 .6 1-2.3 1 1 1 2.4 1-.8 1-1.2 1 1.2 1-.5 1 0 1 .9 1 .4 1-.7 1-1.1 1 .7 1 .4 1 .1 1 .7 1-.7 1 .2 1 .3 1-2.4 1 1.4 1 .2 1 1.4 1 .8 1-2.4 1 2.3 1-1.1 1 .8 1-.5 1-.7 1-.3 1 2 1-2.1 1 2.2 1-1.5 1 .5 1-.4 1-1.2 1 .5 1-.2 1-.3 1 0 1 .2 1-1.2 1 .1 1-1.2 1 1.4 1 .7 1-.5 1 .2 1-.4 1 0 1-.2 1 .3 1 .4 1-.8 1 .3 1-.3 1 1.7 1-.7 1 0 1-2.3 1 2.8 1-1.1 1-.4 1-.1 1-1.7 1 .3 1 1 1 0 1-2.6 1 .1 1-1.9 1 .2 1-1.3 1-.7 1-3.1 1-1.2 1-2 1 0 1-.4 1-1.8 1-3.5 1-3.9 1-2.8 1-5.7 1-1.8 1-4 1-3.4 1-2.5 1-4.7 1-2.9 1-3.7 1-1.7 1-1.4 1 1.9 1 2.7 1 6.6 1 4 1 5.4 1 6.6 1 5.6 1 3.3 1 4.6 1 1.7 1 1.9 1 1 1 2.1 1 2.8 1-.1 1 2.7 1-.1 1 .8 1-1.7 1 1.9 1 .5 1 1.1 1 1.6 1 .2 1 .4 1 .4 1-2.1 1 1.5 1 .3 1-1.3 1-.8 1 .3 1 1.1 1 1.4 1 2.1 1-2.2 1-1.7 1 1.4 1 1.1 1-1.4 1 1 1 2.9 1-2.5 1 .4 1 .1 1-2.2 1 .1 1 .4 1 .3 1-.5 1 2.4 1-1.6 1 .3 1-1.7 1 .3 1 1.3 1-.7 1 .3 1-1.4 1 1.1 1-.9 1 .4 1-.9 1 2.2 1-.1 1-1.3 1 0 1 0 1 .4 1 .6 1 0 1 .5 1 1 1-2.3 1 2.1 1-1.8 1 1.4 1-2.2 1 .8 1-.1 1-.4 1 2 1-.8 1 .5 1-.4 1 1.3 1-.1 1-2.1 1 .3 1 0 1 .1 1 1 1 .5 1-.6 1 .7 1-1.1 1 .6 1 .9 1-.3 1-.2 1 .4 1-.9 1-.3 1-1.5 1-.4 1-.2 1 1.8 1-.4 1-.5 1 .7 1-.1 1 .3 1-1.4 1 1 1 .4 1 1.4 1-2 1 .8 1 .7 1-.9 1-.3 1-.4 1 1.8 1 .2 1-.3 1-.4 1 .4 1-2.7 1-.5 1 2.1 1 .8 1-.5 1 .6 1-.9 1 1.4 1-1 1 .9 1-.2 1 0 1-.1 1-1.3 1-.1 1 .7 1 .2 1 1.9 1-2.3 1 1.7 1-2 1-1 1 1.4 1-.9 1-.1 1 1.6 1 .3 1-.5 1-1.3 1-1 1 .9 1-.2 1 1.6 1 .8 1-.9 1 .2 1 1.1 1-1.8 1 1.6 1 .3 1-.2 1 1 1-1.6 1-.6 1-1 1 0 1 .7 1 .9 1-.6 1-1.2 1 .1 1 .1 1-.8 1-.6 1 1.9 1-.4 1-.3 1 1.9 1-.1 1-1.2 1 .3 1-1.1 1 1.2 1-.8 1-1.3 1 1.2 1 1.6 1-.4 1-.1 1-.7 1 1 1-1.4 1-1 1-.3 1 1.7 1 .6 1 1.1 1 .2 1-2.4 1 1.5 1 .7 1-.7 1-.2 1-1.5 1-.6 1 1.3 1 2.1 1-1.6 1-.3 1-1.3 1 2.1 1-.2 1-1.4 1 .4 1 .3 1 .8 1-.8 1 1.2 1-.1 1-1.5 1-.4 1-.4 1-.2 1 2.2 1-1.5 1-.2 1 1.2 1-.9 1-.3 1-.1 1 1.4 1 0 1 .3 1-.7 1 1 1 .5 1-.8 1 .9 1 1.1 1-1.7 1-.2 1-.1 1 .6 1-2.2 1 .7 1 .6 1-1.4 1-1.2 1 2.4 1 .1 1-.2 1 .9 1 .4 1-.3 1-.7 1 .4 1-.6 1 .3 1 1.2 1-.7 1-.1 1 .4 1-.1 1-.1 1 0 1-.1 1 .3 1-1.4 1-1.1 1-.6 1 1.1 1-.8 1 .1 1 1.3 1-.7 1 1.1 1 .7 1-.4 1 0 1 1.1 1-1.9 1 .9 1-.6 1-.6 1 .3 1-.4 1-.3 1 .2 1 1 1-.5 1-1 1-.7 1 1.3 1-.3 1 1.6 1 0 1 .1 1 .9 1-1.3 1-.3 1 2.2 1-.8 1 0 1-.7 1-1.2 1 .3 1-.4 1 0 1 .8 1-.1 1-1.3 1 1.1 1-.6 1-1.2 1 2 1 .8 1-1 1-.1 1 0 1 1.2 1-1.3 1-.1 1-1.1 1 1.1 1 1 1-.2 1-.2 1 .5 1-.3 1-1.5 1 .3 1-.1 1 1.5 1-.6 1 1.6 1-2.4 1 1.1 1-.6 1 0 1 2.3 1-1.1 1 .8 1-1 1 .7 1 .1 1-1.4 1 .7 1-.1 1 .4 1-2.1 1 1.2 1 .3 1 .7 1-.6 1-.6 1 .2 1-.3 1 .3 1-1.6 1-.3 1 1 1 .2 1-.5 1 1.5 1-1.3 1-.1 1 .2 1-.8 1-.1 1 1 1 .9 1-.6 1 .4 1 1.9 1-.5 1-.9 1 .5 1-.2 1-1.7 1 1.9 1-1.4 1 1.3 1-1.2 1 .4 1-.1 1 2 1-1.6 1-.3 1-1.2 1 .5 1 1 1 .6 1-.3 1-1 1-.4 1-.4 1 .3 1 .4 1-1.4 1 1.8 1-1.1 1 .9 1 1.3 1-1.2 1-2.3 1 1.1 1 .2 1-.2 1-.3 1 0 1 0 1-1.1 1 1.2 1-1.5 1 0 1 1.9 1-.3 1-.8 1 1.7 1-.9 1-.7 1 1.1 1-1.3 1-.4 1-.2 1-1.6 1 .9 1-2.7 1-.8 1-.5 1-1.4 1 .2 1-2.5 1-2.5 1-1.7 1-2.9 1-2.7 1-2.6 1-3.4 1-6.3 1-5.7 1-4.5 1-9.7 1-6.6 1-11.8 1-11.9 1-13.7 1-14.7 1-14 1-17.5 1-19.8 1-18.4 1-18.6 1-14.7 1-10.1 1-10.1 1-2.9 1 1 1 6.5 1 10.3 1 13.7 1 14.9 1 17.1 1 18.3 1 17.8 1 18.1 1 14.7 1 13.9 1 11.4 1 11.5 1 10 1 9 1 8.3 1 6 1 3.8 1 5.2 1 4.5 1 2.1 1 2.6 1 2.7 1 3.6 1 .4 1 1.9 1 .8 1 1 1 .9 1 1.2 1 .1 1 1.1 1 .4 1-.4 1 .7 1-.6 1 .8 1 .1 1 1.4 1-.7 1 .1 1 1.1 1 1.2 1 1.7 1 1.6 1-1.5 1-2.9 1-.9 1-.2 1 2.8 1 0 1 1.1 1-2.8 1 1.9 1-1 1-1.8 1 .1 1 1.6 1-1.6 1 1.9 1 1.5 1-.9 1-1 1-1.3 1 1.1 1-2.7 1 2.8 1-.5 1-1.1 1 .9 1 .5 1 .6 1-1 1-1.1 1 .9 1-.9 1 .2 1-.5 1 .4 1-2 1-.6 1 .3 1-1.8 1-.3 1-1.4 1 .1 1-.7 1-1.6 1-2.4 1-2.3 1-1.7 1-3.2 1-2.2 1-3 1-5 1-4.4 1-5.2 1-4.1 1-4.7 1-5.6 1-2.7 1-4.9 1-4.6 1-3.4 1-.6 1 1.3 1 3.1 1 2.4 1 3.1 1 4.3 1 4.9 1 5.3 1 5.3 1 4.3 1 3.6 1 3.7 1 3.2 1 5.8 1 1 1 3.2 1 .9 1 1.1 1 2.1 1 1.8 1 .6 1 1.4 1 2.3 1 1 1 1.1 1 0 1 .6 1-.7 1 .7 1 .3 1 2.4 1-.3 1-.1 1-1 1-.3 1 0 1-.9 1 1.9 1 1.1 1-.6 1-1.5 1 .9 1 .9 1-.8 1 0 1 .4 1 1.5 1-.3 1-.5 1 .7 1-1.5 1-.1 1-.2 1-.4 1 .1 1-.5 1 .3 1 0 1 .1 1 .2 1-.2 1 1.3 1 1.5 1-.7 1-1.8 1 .5 1 .2 1 .8 1-.8 1-.6 1 .3 1-2.1 1 1.2 1-.4 1 .8 1-.5 1 1.7 1-1.4 1 1.4 1 .8 1-.5 1 0 1-.7 1 1.6 1-.6 1-1.9 1 .9 1 .4 1-.1 1 .5 1-1 1-.1 1 1 1 0 1-1.2 1 .4 1 .3 1-.5 1 .1 1 0 1-1.7 1 1 1-.1 1 1 1 2.1 1-1.9 1 1.5 1-2.7 1-.3 1 0 1 .1 1 .8 1 .4 1-1 1 1.6 1 .9 1-.5 1 0 1-1.2 1-.8 1 .7 1-.4 1 .4 1-1 1-.2 1-.1 1-.2 1 2.8 1-.9 1 1.5 1-1.7 1-.3 1-.5 1-.9 1 .1 1 .4 1-.4 1 1.5 1-.4 1 1.3 1-1.1 1-.3 1 .7 1 .1 1-.4 1 .7 1-.5 1 .6 1-.4 1 1 1-.2 1-.8 1 .9 1 0 1-1 1 .7 1-1.3 1 1 1-.3 1-.9 1 1.1 1 .2 1 .5 1 .1 1-1.5 1 1.2 1-1.1 1-.3 1 1 1-.3 1-.4 1-1 1-.8 1-.1 1 1.3 1-.4 1 .5 1 1.1 1-1.4 1 2.1 1-1.6 1-.5 1 .4 1-.9 1 .3 1-.1 1 .5 1-.8 1 .3 1-.4 1 1.4 1 .7 1 .2 1-.1 1-1.6 1 .4 1 2.1 1-.8 1-2.4 1 .9 1-2 1 1.8 1 .1 1 .8 1 .3 1 .4 1-.2 1 .1 1-.7 1 .2 1-.5 1 .2 1 0 1 .6 1 0 1-1 1 1.2 1-.9 1-.4 1-.2 1 1.7 1 .6 1-1.7 1 .1 1-1.1 1 .8 1 .1 1-.2 1-1.4 1 .2 1 .7 1-1.1 1 1.4 1-1.3 1 1.3 1 .3 1-.4 1-.2 1 .6 1 0 1 .8 1-1.3 1 2 1-.4 1-1.1 1-.4 1-.4 1 1.3 1-.8 1-1.2 1 .7 1-1.4 1 2.4 1-.3 1-.2 1 .1 1 .5 1-1.4 1-.4 1 1.3 1-1.6 1-1.2 1-.1 1 .3 1-.4 1-2.7 1 .3 1-2.1 1 1 1-1.7 1-1.7 1-1.1 1-1.9 1-3.4 1-.9 1-3.3 1-.8 1-3.9 1 1 1-2.5 1-2.1 1-1.5 1-.6 1-.9 1 .1 1 1.1 1 2.3 1 2.3 1 3.6 1 1.1 1 2.9 1 1.5 1 3 1 1 1 1 1 .8 1 2.7 1 2.6 1 1 1-.5 1 .7 1 1 1 .4 1-.5 1-.5 1 .7 1 .1 1-1.4 1 1.1 1-.4 1 1.1 1 .3 1-.3 1 1.6 1-.7 1 .1 1-.1 1-.1 1-.1 1-1.4 1-.4 1 .3 1-2 1 .2 1-2.4 1-2.6 1 1.3 1-1.9 1-.6 1-2.1 1-1.2 1-2.6 1 .1 1-3.4 1-2.4 1-2.5 1-3.2 1 1.1 1-.9 1 .3 1-1.4 1 .1 1 .8 1-.7 1 1.8 1 .9 1 2.7 1 2.4 1 2.1 1 2.3 1 .8 1 1.2 1 2.6 1 1.5 1 .5 1 1.3 1 .4 1 4 1 .9 1 1.4 1-.2 1-1.4 1 .8 1 1.6 1-.9 1 .2 1 .6 1 1.1 1 .4 1-1.1 1 1.8 1 .1 1 1.1 1-1.8 1 2 1-.3 1 .2 1-.2 1 .3 1-1.5 1 1 1-1.6 1 1.9 1-.9 1-.2 1 1.4 1-.8 1 .6 1 .2 1-.8 1 .5 1-1.3 1 1.3 1-.9 1-.3 1 .1 1 1.9 1 .5 1-1.2 1-.5 1-.8 1 1.2 1-1.1 1-1.3 1 1.6 1 .8 1-.3 1-1.7 1 .8 1 2 1 .6 1-.3 1-1.1 1 .8 1-.5 1 1.5 1-1.2 1-1 1-.3 1 1.3 1-1.6 1 .9 1 .5 1-.8 1 1.9 1-.7 1 .1 1-.9 1-1.1 1-.1 1 .5 1 .6 1 2 1-1.3 1-1.7 1 .8 1-.7 1 1.2 1 .4 1-.1 1-.6 1-.7 1 .8 1-.2 1 1.4 1-2.1 1 .4 1 .4 1 .8 1-1.4 1-.6 1 .9 1 .7 1 1.8 1-1.5 1-.3 1 1.1 1-2 1 1.3 1-.8 1-.5 1-.4 1-1.2 1 1.8 1 0 1-.3 1 .5 1 .4 1-.9 1 .1 1 .4 1-.6 1-.6 1 .3 1-.7 1-.2 1 .9"/>
<path fill="none" stroke="#DC9A00" stroke-width="8.8" stroke-linejoin="round" stroke-linecap="butt" d="M237.00 1075.5l.5 .6 .5-1.1 .5-.6 .5-.6 .5 1.3 .5 .9 .5 .5 .5-1.4 .5-.5 .5 2.1 .5 2.1 .5-.4 .5-3.4 .5 1.1 .5 1.8 .5-2.5 .5 .9 .5-.8 .5-.1 .5 .5 .5-1.2 .5 .9 .5 .6 .5-1.3 .5-.9 .5 2.4 .5-2.1 .5 .7 .5-1.1 .5 1.3 .5-1.3 .5 .3 .5 .6 .5 .9 .5-1 .5 .2 .5-.4 .5-2.4 .5 1.2 .5-2.3 .5 1.4 .5 4.1 .5-1.8 .5 2.2 .5-1.4 .5-.3 .5 1.8 .5-2.5 .5-.1 .5-1.1 .5 3 .5-1.6 .5 2.6 .5-.7 .5 .5 .5-2.8 .5 .9 .5-2.2 .5 2.1 .5 0 .5 .3 .5 2 .5-.4 .5-1.4 .5 2.2 .5-.7 .5 .1 .5-1.1 .5 .8 .5-.6 .5-.9 .5-.3 .5 .7 .5-2.2 .5 2.7 .5 .3 .5 .7 .5-2.2 .5 1.7 .5 .5 .5-.4 .5-2.4 .5 1.2 .5-.1 .5-2.3 .5 1.9 .5-1.2 .5-.4 .5 .9 .5 .2 .5-.9 .5 2.8 .5 1.2 .5 .8 .5-1.8 .5 .3 .5-.3 .5 1.2 .5 .1 .5 .2 .5-.7 .5-1.2 .5 .2 .5-.7 .5-2.2 .5 1.8 .5 2.4 .5-4.1 .5 1.4 .5 1.4 .5-2.1 .5 1.2 .5 .8 .5 0 .5 .1 .5-1.8 .5-1.9 .5 1.3 .5-.8 .5-1.2 .5 4.3 .5-1.1 .5 1.1 .5 1.3 .5 .1 .5-1.3 .5-.7 .5 1 .5-.9 .5-1.1 .5 .2 .5-.9 .5 .5 .5 .1 .5-1.3 .5 1.9 .5 1.1 .5-.4 .5 1.7 .5-1.2 .5-2.2 .5-.6 .5-1.4 .5 1.9 .5 2 .5-3.6 .5 1.4 .5 2.9 .5-2.6 .5 1.7 .5 2.3 .5-1.5 .5 .1 .5-2.8 .5 2.1 .5-1.4 .5-.6 .5-.4 .5 .4 .5-1.2 .5-.6 .5 1.2 .5 2.7 .5 .9 .5-1.1 .5 1 .5-.7 .5 .3 .5-5.2 .5 .6 .5 2.3 .5-1.6 .5 .5 .5 5.5 .5-1.4 .5 .2 .5-1.2 .5 .5 .5-.6 .5-1 .5-2.9 .5-.6 .5 3.3 .5 .8 .5-3.7 .5 4.8 .5-.2 .5-.7 .5-.3 .5-.3 .5 1 .5 1.6 .5-1.8 .5-.1 .5-2.5 .5 1.4 .5 .9 .5-.7 .5-3.1 .5 2.5 .5 2.1 .5-1.1 .5 .2 .5-.5 .5 3.1 .5-1.8 .5-.6 .5 1.2 .5-1 .5-2.4 .5 .1 .5 1.3 .5 1 .5-.6 .5 1.6 .5-.2 .5 .6 .5-1.3 .5-.2 .5-3.9 .5 3.3 .5-1.4 .5 .5 .5 2.5 .5-1.4 .5 3.8 .5-3 .5-1.3 .5 3.5 .5-1.5 .5-2.3 .5 1.8 .5 1 .5-1.1 .5-.3 .5-2.1 .5-.2 .5 .5 .5 .2 .5-.7 .5-1.4 .5 1.4 .5-.2 .5 1 .5 1.2 .5-1 .5-1.7 .5 .8 .5 1.5 .5 1.2 .5-1.7 .5 1.1 .5 .5 .5 .2 .5-.7 .5 .1 .5-.7 .5 .2 .5-.3 .5 .7 .5 1.2 .5-.9 .5-1.6 .5 .1 .5-1.7 .5-.8 .5 2.4 .5 1.5 .5-3.1 .5 1.5 .5-.9 .5 2.2 .5-3.8 .5 .9 .5 .7 .5 0 .5-.6 .5 .5 .5 .7 .5 1.7 .5-2.2 .5 1.8 .5-.4 .5-.5 .5 2.5 .5-3.7 .5 1 .5 .3 .5-.3 .5 .9 .5-2.6 .5 1.4 .5 .2 .5 .3 .5-.6 .5-.2 .5 1.8 .5 .9 .5-3.6 .5 1.6 .5-3.5 .5 .9 .5 .8 .5 .5 .5-.6 .5 .2 .5 2.1 .5-.9 .5-1.3 .5 2.6 .5 .9 .5-.3 .5 0 .5-1.3 .5-.1 .5 .6 .5-2 .5 3.9 .5-1.4 .5-3.8 .5 1.2 .5 .4 .5-.2 .5-1.8 .5 1.3 .5 .5 .5 1.5 .5-1.2 .5 .8 .5 0 .5 .3 .5-.5 .5 .6 .5-1.3 .5 2.7 .5-1.4 .5-2.3 .5 2.2 .5-1.2 .5 .4 .5 .3 .5 1.1 .5 2.8 .5-1 .5 .1 .5 .9 .5-2 .5 .1 .5-.1 .5-2.5 .5 .3 .5 1 .5 .8 .5 0 .5 .3 .5 .4 .5 .1 .5 1 .5-.6 .5-.1 .5 .2 .5 1.1 .5-.3 .5-1.5 .5 .4 .5-.5 .5 2.6 .5-.1 .5-3.9 .5-.4 .5-1.4 .5 .8 .5 .5 .5 .2 .5 1.7 .5-2.5 .5 2 .5-1.1 .5 .4 .5-.3 .5-1.3 .5 .9 .5-.9 .5 0 .5-.7 .5-2.3 .5 2.9 .5-1.1 .5 1.3 .5 .9 .5 .4 .5 2.4 .5-1.7 .5-1.8 .5 2.3 .5-1 .5 .7 .5-1.2 .5 1.6 .5-3.2 .5 2.3 .5 1.1 .5-4.1 .5 .8 .5 .6 .5 .5 .5 1.6 .5 .6 .5-.5 .5 .2 .5-.1 .5 .4 .5 .2 .5-1 .5-1.9 .5-.7 .5 1.9 .5-.1 .5-2.1 .5 .6 .5 .2 .5 2.9 .5-.1 .5 1.3 .5-.2 .5 2.2 .5-4.1 .5 .2 .5-1 .5 1.4 .5-1.2 .5-.9 .5 4.2 .5-1.9 .5-.6 .5 1.1 .5-2.5 .5 .6 .5-2.5 .5 .5 .5 .4 .5-1.7 .5 2.1 .5 .3 .5 3.8 .5-.1 .5-1.9 .5-.8 .5 .3 .5-1.6 .5 1.9 .5-1.3 .5 2 .5-1.1 .5 1.4 .5 .4 .5-.9 .5-2.2 .5 2.9 .5-1 .5-2.8 .5 1.1 .5-3 .5 1.7 .5 .2 .5-.5 .5-1.9 .5 .9 .5-.2 .5 .2 .5 2.3 .5-.4 .5-2.3 .5 1.1 .5 .5 .5-.3 .5 1.4 .5-.9 .5 1.7 .5-1.4 .5 1.4 .5-.4 .5-.5 .5 1.3 .5-.7 .5 .8 .5 .7 .5-.7 .5 3.6 .5 .4 .5-2.3 .5-.2 .5-1.4 .5 .9 .5-.9 .5 1.3 .5-2.5 .5-.4 .5 1.5 .5-.5 .5-1.1 .5-.7 .5 3.7 .5-3.4 .5-.1 .5 .5 .5-1 .5-1 .5 .8 .5-2.4 .5 .6 .5 1 .5-.8 .5-.8 .5 3.8 .5 .4 .5-.1 .5-4.7 .5 2.2 .5-.7 .5 .2 .5-.4 .5 .8 .5-2.7 .5 0 .5 2.8 .5-1.2 .5-.7 .5-1.6 .5-1.2 .5-1.9 .5-.9 .5-.2 .5-1 .5 1.9 .5-2.2 .5-3.7 .5-.9 .5-1.4 .5 .8 .5-1.6 .5-4.6 .5-1.3 .5-1.4 .5-2.4 .5-1.5 .5-5.9 .5-4.4 .5-4.3 .5-1.7 .5-3.3 .5-2.5 .5-6.4 .5-4.6 .5-1.7 .5-6 .5-5.3 .5-5.4 .5-4.6 .5-10.2 .5-9.6 .5-6.7 .5-10.5 .5-7.6 .5-16.7 .5-11.2 .5-12.4 .5-13.3 .5-13.6 .5-14.9 .5-14.3 .5-14.9 .5-15.6 .5-16 .5-17.6 .5-12.3 .5-17.2 .5-12.9 .5-12.1 .5-9.8 .5-13.6 .5-6.7 .5-7.1 .5-6.2 .5-1 .5-1.9 .5 1.8 .5 2.7 .5 5.6 .5 10 .5 7.5 .5 12.7 .5 12.8 .5 14.6 .5 13.5 .5 17.2 .5 13.3 .5 13.8 .5 16.5 .5 12.1 .5 17.8 .5 13.4 .5 14.9 .5 13.7 .5 13.4 .5 11.5 .5 10.8 .5 11.6 .5 7.9 .5 8.5 .5 12 .5 5.2 .5 8.1 .5 6.8 .5 4.2 .5 8 .5 7.3 .5 5.8 .5 7.8 .5 1 .5 5.7 .5 2.3 .5 3.1 .5 1.6 .5 1.1 .5 3.5 .5 2 .5 4.2 .5 1.7 .5 2 .5 4.6 .5-2.4 .5 4.6 .5 1.9 .5-2.4 .5 .4 .5 4.3 .5 .8 .5-3.5 .5 4.3 .5 3.2 .5-1 .5-2.5 .5 2.1 .5 .4 .5 0 .5 1.3 .5 1.9 .5 2 .5-2 .5 2.1 .5-1.2 .5-2.2 .5 1.1 .5 .1 .5-.4 .5-1.2 .5-.3 .5 3 .5-1.1 .5-1 .5 1.8 .5 2.3 .5 0 .5 1.3 .5-2.1 .5-3.4 .5 1.5 .5 .8 .5-.3 .5-.3 .5 .4 .5 .6 .5 .7 .5-1.4 .5-.7 .5 3 .5 .4 .5-1.9 .5 3 .5-1.4 .5-.6 .5-.7 .5 1 .5 1.5 .5-.4 .5 2.6 .5 1.1 .5 .3 .5-3.6 .5 2.3 .5-3.3 .5-1 .5-.9 .5 1 .5 .7 .5-.1 .5 1.6 .5 1.4 .5-2.8 .5 2.2 .5-4 .5 .6 .5 .6 .5-1.2 .5-.7 .5 3.3 .5-.6 .5 0 .5-1.6 .5-.3 .5 .7 .5 1.3 .5 .4 .5-1.5 .5 .4 .5 1.1 .5 1.5 .5-2.6 .5 .1 .5-.3 .5-2.1 .5 .8 .5 2.2 .5 .3 .5-2.2 .5 2.2 .5 .1 .5 1.9 .5 1.4 .5-1.3 .5-1.5 .5 1.2 .5 1.2 .5-1.7 .5-.7 .5-1.6 .5-1.7 .5-1.7 .5 1.8 .5 .5 .5-.8 .5-.1 .5 .4 .5-.5 .5 .1 .5 1.6 .5-2 .5 1 .5 .6 .5-1.9 .5 1.3 .5-2.2 .5 2.3 .5 1.3 .5 1.6 .5-.2 .5-1.7 .5 1.3 .5-2.3 .5 3 .5-2.5 .5-.1 .5 1.2 .5 .9 .5-1 .5 2 .5 0 .5-1.6 .5-1.5 .5 1 .5 1.1 .5-.2 .5 0 .5 2.2 .5 2 .5-2.1 .5 .5 .5-1.1 .5 .8 .5-.1 .5-1.4 .5 .2 .5-.4 .5-2.9 .5 1.3 .5-1 .5-2.4 .5 3 .5 1.6 .5-2.1 .5 2.3 .5 .6 .5 .3 .5-.5 .5 1.1 .5-1 .5 .5 .5-2.1 .5-.7 .5 .1 .5-1.8 .5-2.9 .5 4.8 .5-2.1 .5 .5 .5 .5 .5 2.5 .5-2.2 .5 .5 .5 1 .5 .5 .5-.3 .5-.3 .5 .6 .5-1.3 .5 3.1 .5-1.5 .5 .6 .5-2 .5 .3 .5 .5 .5 .6 .5-.7 .5-1.4 .5-1.9 .5 .3 .5 1.7 .5-.9 .5-.2 .5 .9 .5 .4 .5-.5 .5 .8 .5 .8 .5 1.3 .5-2 .5 1.7 .5-1.4 .5-.2 .5 2.3 .5-1 .5 .7 .5-2.1 .5 2.2 .5 2.9 .5-2.8 .5-.4 .5 .2 .5-.5 .5-1.8 .5-.7 .5 0 .5 1.8 .5-.5 .5 2.1 .5 .5 .5-.9 .5 .5 .5-1.3 .5-3.9 .5 2.1 .5 1.6 .5 1.6 .5-1.6 .5 .5 .5 .7 .5-3.7 .5 1.4 .5-1 .5-2.9 .5 3.2 .5-.2 .5-1 .5 0 .5 .3 .5-.7 .5-1 .5 2.4 .5 1.8 .5 .1 .5-.5 .5-1.7 .5-1 .5-.4 .5-1 .5 1.6 .5-1.3 .5 .4 .5-.4 .5 3.3 .5-3.2 .5 3.5 .5-.6 .5-2.7 .5 .7 .5-3 .5 1.8 .5 1.8 .5-.7 .5 1.2 .5-2.3 .5-.4 .5 .6 .5 1 .5-.8 .5-1.2 .5 2.2 .5 .1 .5-1.8 .5 0 .5 1 .5-.1 .5 1.7 .5-4 .5 1.2 .5 1.4 .5-.3 .5-.4 .5-3.6 .5 .4 .5 1.6 .5-4.2 .5 .7 .5 3.2 .5 2.5 .5-3.6 .5 2.4 .5-.1 .5 .7 .5-2 .5-.4 .5 .4 .5 .7 .5-.9 .5-.7 .5 2.4 .5-3.2 .5 2 .5-.7 .5 0 .5-1 .5-.2 .5-1.4 .5 2.8 .5 .5 .5-1.1 .5 1.1 .5-1.5 .5 2.3 .5-.5 .5-.2 .5 .6 .5 1.4 .5-1.1 .5 .1 .5 3.2 .5-3 .5-.4 .5 .2 .5 .3 .5-.5 .5 .2 .5 .9 .5-.6 .5 .9 .5 2.1 .5 .3 .5-1.9 .5 1.7 .5-1.1 .5-.4 .5-.7 .5 .6 .5-.9 .5 2.4 .5-1.1 .5 1.7 .5-1 .5-.2 .5 .9 .5 1.6 .5-4.4 .5 .7 .5 .4 .5 1.4 .5 .2 .5-.3 .5 1.1 .5-1.1 .5 1.2 .5 1 .5-1.7 .5 1.7 .5-.5 .5 3.1 .5-1.2 .5-.8 .5 1.4 .5-1.2 .5-1.3 .5 0 .5-2.4 .5 2.2 .5-.4 .5-.4 .5 1.9 .5-.5 .5-2.4 .5 1.1 .5-2.1 .5 1.6 .5 0 .5-1.5 .5 1 .5-1.2 .5 3.6 .5-1.4 .5-.2 .5-.2 .5-1.1 .5-.1 .5 1.2 .5 1 .5-1.4 .5 1.4 .5-.7 .5-.3 .5 1.4 .5 1.4 .5-.8 .5-1.1 .5 1.1 .5-1.9 .5 .8 .5-.8 .5 .3 .5-1.2 .5-1.7 .5 1.7 .5 .5 .5 1.2 .5-1.1 .5 3.4 .5-.4 .5-1.3 .5-.3 .5 2.2 .5-1.5 .5 3.2 .5-4 .5-.6 .5 .8 .5 .1 .5-1.6 .5-.5 .5 .6 .5 1 .5-.4 .5 0 .5 2 .5-1.5 .5 0 .5-1.7 .5 2.1 .5-1.3 .5 1.4 .5-2.4 .5 3 .5 .1 .5 .3 .5 0 .5-2.4 .5 3.7 .5 .5 .5-1.1 .5-1.4 .5 1.5 .5-2.5 .5-.3 .5 .9 .5 .1 .5 .6 .5-.7 .5 .4 .5-2.5 .5-.6 .5 2.1 .5-.5 .5 2 .5-1.8 .5-1 .5 .2 .5 .4 .5-.5 .5 1.2 .5 .8 .5-2.5 .5 3.7 .5-1.3 .5-.9 .5-.4 .5-.1 .5-.8 .5 .6 .5-.8 .5-.9 .5 .6 .5 0 .5 1.5 .5 .7 .5-.4 .5-1 .5 1 .5-.6 .5 .3 .5-.1 .5 2.4 .5-2.2 .5 .6 .5-1.6 .5 1.3 .5-.5 .5-.1 .5-.8 .5 1.9 .5-1.6 .5 .1 .5-.6 .5 2.5 .5-.2 .5-1.4 .5 3.1 .5-1.3 .5 1.7 .5-.7 .5-.8 .5-.6 .5 1.4 .5 .3 .5-3.1 .5 1.4 .5-.8 .5-.2 .5 .1 .5 1.1 .5-.3 .5 1.6 .5-2.1 .5 .9 .5-.3 .5-1.9 .5 1.8 .5 1.1 .5 1.9 .5-2.3 .5-.9 .5 2.7 .5-1.4 .5 1 .5-.5 .5-.1 .5 .9 .5-1.9 .5 .7 .5-3.8 .5 .6 .5 1.5 .5 .1 .5 .5 .5 0 .5 .2 .5 .7 .5 .1 .5 1.5 .5-.4 .5-.7 .5-1.3 .5 .2 .5-3 .5 2.1 .5 0 .5-1 .5-.8 .5-.9 .5 1.2 .5 1.9 .5-.3 .5-1.5 .5 .6 .5-1.1 .5 .6 .5-2.1 .5 .4 .5 1 .5 2.1 .5 3 .5 .5 .5-1.6 .5-.3 .5 3.8 .5-3.1 .5-2 .5 .4 .5 1.9 .5-1.1 .5 .7 .5 .1 .5-1.9 .5-.4 .5 1.7 .5 .2 .5 .2 .5 0 .5-3.3 .5-.7 .5 2.1 .5-.6 .5 2.5 .5-.2 .5-.8 .5 .7 .5 .3 .5 1.9 .5-.3 .5-1.2 .5 .2 .5-.4 .5 .8 .5-.5 .5-.3 .5-.9 .5 0 .5 .1 .5-1 .5-1.9 .5 .9 .5 .6 .5 0 .5-1.3 .5 .1 .5-.3 .5 2.4 .5-1.4 .5 2.1 .5-.2 .5 .2 .5-1.2 .5-.4 .5 1.5 .5 .8 .5 1.2 .5-2.2 .5 0 .5-.9 .5-.3 .5-.4 .5-.9 .5-1 .5-.5 .5 1.1 .5-.5 .5 .5 .5-.3 .5 1.3 .5-2.6 .5 .5 .5-.7 .5 2.4 .5-.9 .5 1 .5-1.4 .5 .5 .5-.7 .5 1.4 .5-.3 .5 1.9 .5-.8 .5 1.2 .5 0 .5-1.1 .5-.9 .5 1.5 .5-.1 .5-1.8 .5 .3 .5 2.1 .5-1 .5-1.9 .5-1.9 .5-.2 .5-.8 .5 .6 .5-.4 .5 5.2 .5-1.3 .5-1.5 .5 1.9 .5-.6 .5-2.8 .5-1.7 .5-.7 .5 3.3 .5-.5 .5-1 .5 .8 .5-.6 .5 .3 .5-2 .5 1.8 .5-.3 .5 .4 .5-.7 .5 3.1 .5-1 .5 1.7 .5 .8 .5-3.4 .5 .1 .5-1.8 .5 .7 .5-1 .5 .2 .5-.8 .5 .8 .5-2.8 .5 2.3 .5-3.8 .5 1.3 .5-2.1 .5 .1 .5-1 .5-1.6 .5 1.4 .5 1.2 .5-1.4 .5-.6 .5 3.2 .5-4.7 .5-1.4 .5 1.5 .5-3.9 .5-3.4 .5-.2 .5-3.3 .5-2.5 .5-3.4 .5-3.2 .5-1.6 .5-3.3 .5-4.4 .5-3.4 .5-3.5 .5-6.5 .5-2.2 .5-7.9 .5-5.8 .5-6.7 .5-8 .5-7.3 .5-10.8 .5-6.5 .5-9 .5-11.3 .5-9.3 .5-6.6 .5-12.1 .5-10.4 .5-8.1 .5-10.4 .5-8.1 .5-9.2 .5-4.6 .5-5.3 .5-5.7 .5-3.6 .5-2.6 .5 1.8 .5 1.6 .5 .3 .5 4.5 .5 3.1 .5 8.6 .5 9.8 .5 7 .5 8.9 .5 9.3 .5 8.3 .5 8.9 .5 8.7 .5 9.6 .5 7.9 .5 8.3 .5 7.7 .5 6.4 .5 8.2 .5 5.2 .5 4.4 .5 4 .5 7.5 .5 4 .5 4.1 .5 2.1 .5 5.4 .5 3.8 .5 .7 .5 3.4 .5 2.9 .5 .5 .5 4.3 .5 .3 .5 1.3 .5 0 .5 3.2 .5 1.1 .5-.2 .5 .5 .5 0 .5 .7 .5-1 .5-.6 .5 .1 .5 1.5 .5-2.3 .5 3.5 .5-1.2 .5-1 .5 2.1 .5-1.8 .5-.3 .5 .6 .5 1.6 .5-.5 .5 1.8 .5-1 .5 .1 .5 .7 .5 .1 .5 .5 .5 2 .5-2.8 .5 .3 .5-1.4 .5 2.3 .5 1.6 .5-.1 .5 .8 .5 1.1 .5 .6 .5 1.5 .5-1.3 .5-1.1 .5 4.9 .5-.4 .5-1.6 .5 1.1 .5 0 .5 3 .5-1.2 .5-1.1 .5 .2 .5 .8 .5 1.9 .5-.9 .5 2.7 .5 .3 .5 .4 .5-3.2 .5 2 .5-.4 .5 3.2 .5-3 .5 1.6 .5 3.3 .5 .8 .5-3.1 .5 3.6 .5-2.8 .5 3 .5 2.8 .5-3.9 .5 1.1 .5 .1 .5 1.8 .5-.1 .5-1.1 .5 2.4 .5 1.7 .5-2.7 .5 2.7 .5-1.1 .5 3.3 .5 1 .5 .7 .5 3.3 .5-3.6 .5 2.4 .5-.4 .5-2 .5 1.5 .5-.9 .5 .7 .5-.7 .5 .5 .5-1.2 .5 1.3 .5-1.2 .5 1.2 .5-2.2 .5 4.3 .5-2.3 .5 .3 .5 .5 .5 .9 .5-1.3 .5-.9 .5 3.2 .5 1.4 .5-1.3 .5-.9 .5-1.4 .5-.7 .5-2 .5 .9 .5-1.3 .5-1 .5 .3 .5-1.3 .5-4.1 .5 2.9 .5 .4 .5 .4 .5-5 .5 0 .5-1.4 .5-5.8 .5-1.1 .5 1.1 .5-4.2 .5-4.1 .5-2.4 .5-.3 .5-6 .5-2.8 .5 .4 .5-3.1 .5-5 .5-7.7 .5-6 .5-4.4 .5-4.1 .5-4.8 .5-3.6 .5 .5 .5 .1 .5-1.3 .5 .2 .5 3.9 .5 3.2 .5 4.5 .5 1.8 .5 7 .5 2.2 .5 4.6 .5 3.3 .5 4.5 .5 1.4 .5 4.1 .5 3.7 .5 1.8 .5 3.8 .5 3.7 .5 3 .5 1.1 .5 4.2 .5 1.1 .5 1.8 .5 1 .5 2.3 .5-1.2 .5 6 .5-1.5 .5 1.7 .5-.6 .5 3.5 .5-3 .5 3.4 .5-1.8 .5 .9 .5 1.4 .5 1.9 .5 1.2 .5 0 .5 1.9 .5 2.3 .5 .6 .5-2.4 .5 .2 .5 .2 .5 .2 .5-.8 .5-.4 .5 .3 .5 1.4 .5 .2 .5 .7 .5-1.7 .5 1.1 .5-1.2 .5-1.7 .5 2.3 .5-1.1 .5-.3 .5 4.1 .5-.5 .5-2.7 .5 .8 .5-2.2 .5-.8 .5 1.3 .5-1.5 .5-.7 .5 1.2 .5 2.4 .5-.9 .5 .4 .5-2.7 .5 1.9 .5 .2 .5-1.2 .5-1.1 .5 .4 .5-1.2 .5-.5 .5-1.5 .5-1 .5 .3 .5 .5 .5-1 .5 1.9 .5-2.2 .5 .7 .5-.5 .5 1.9 .5-7.3 .5-.6 .5-1.1 .5 .2 .5-1.4 .5-3 .5 3.9 .5-1.9 .5-.3 .5-.3 .5-1.4 .5 .2 .5-3.3 .5 1.2 .5-4.6 .5 .9 .5 2.1 .5 2.2 .5-1.4 .5 .9 .5 3.2 .5-2.1 .5 2.3 .5 1.2 .5 1.5 .5-.8 .5 .8 .5-.4 .5 .1 .5 1.9 .5 .1 .5-.6 .5 1.6 .5 1.8 .5-.4 .5 2 .5-.5 .5 1.1 .5 2.1 .5-1.2 .5 1.3 .5-.2 .5 3 .5-2 .5 .9 .5 2.6 .5 .3 .5 0 .5 .1 .5-1 .5 1.8 .5 .5 .5-.8 .5-2 .5 3 .5 .9 .5 0 .5-1.3 .5-1.3 .5 2 .5-1.4 .5-.4 .5-.4 .5 .5 .5-1 .5 .6 .5 1.7 .5-3.6 .5 4.5 .5 0 .5-2.6 .5 1.4 .5 1.2 .5 0 .5-.2 .5 1.3 .5 .2 .5 .4 .5-.3 .5 .1 .5-2 .5 1.4 .5 .1 .5 1.6 .5-1.7 .5 3 .5-2.6 .5-.7 .5 1.1 .5 .2 .5-2 .5 1.5 .5 .4 .5-1 .5 1 .5-1.7 .5-3.4 .5 2.1 .5-2.2 .5 2.1 .5-1.2 .5 .8 .5 .3 .5-.9 .5-1.6 .5 2.5 .5-1.6 .5 1.5 .5 .2 .5 2.2 .5 1 .5-.1 .5 .8 .5-1 .5 .9 .5-1.4 .5-.2 .5-2 .5-.2 .5 1 .5 .6 .5-1.8 .5-.6 .5 1 .5 1 .5 1.5 .5-1.8 .5-2.3 .5 2.5 .5-.8 .5-.2 .5-.4 .5-.6 .5 3.2 .5-2.2 .5-.5 .5 .6 .5-1.5 .5 1.8 .5-1.8 .5-1 .5 2.5 .5 0 .5 .8 .5-1.1 .5 3.4 .5-1.2 .5-2.1 .5-2.2 .5-.3 .5 1.3 .5-3 .5 1.6 .5 .8 .5-1.3 .5-.7 .5 1.8 .5 1.5 .5-1.6 .5-1.4 .5-1.7 .5 1.9 .5-1.5 .5 1.9 .5-1.2 .5 1.6 .5-1.6 .5 0 .5-2 .5-.4 .5-.7 .5-4.8 .5-1.1 .5-.7 .5-.8 .5-3.9 .5 .3 .5-2.4 .5-2.4 .5-1 .5-4.1 .5-.9 .5-2.9 .5-3.1 .5-.9 .5-2.7 .5-5.1 .5-.4 .5-7.3 .5-3.4 .5-5.6 .5-4 .5-4.3 .5-5.8 .5-2.2 .5-4 .5-5.1 .5-1.1 .5-4.9 .5-2 .5-1 .5-1.3 .5-.8 .5-5.6 .5 3.8 .5 .4 .5-.9 .5 2.5 .5 2.8 .5 2.7 .5 3.3 .5 3.6 .5 3.2 .5 2.2 .5 3.2 .5 3.6 .5 5.2 .5 6.4 .5 .6 .5 4.9 .5 7.5 .5-.2 .5 5.9 .5 4.2 .5 2.9 .5 3 .5 2.5 .5 2.7 .5 2.5 .5 1.7 .5 2.3 .5-.8 .5 3.7 .5 1.8 .5 1.2 .5 .3 .5 1.8 .5 1.2 .5 1.6 .5 .9 .5-.3 .5 0 .5 2.2 .5 1.8 .5 2.5 .5 1.1 .5-.7 .5 .8 .5 0 .5 1.3 .5-1.3 .5 2 .5-.9 .5-.4 .5-1.4 .5 1.5 .5 .5 .5-1.2 .5 .7 .5-1.2 .5 .4 .5-.3 .5 0 .5-1.3 .5 1.8 .5 1.5 .5-1.8 .5 2.9 .5 .4 .5-.1 .5-.2 .5 4.4 .5-2.7 .5-3.5 .5 2.5 .5-3.6 .5 .2 .5 0 .5-1.1 .5 2.2 .5-1.8 .5-.3 .5 3.5 .5-.6 .5-2.1 .5 1 .5 .8 .5-1.8 .5 4.1 .5-1.1 .5-.3 .5 .4 .5-1.5 .5 2.5 .5-2.2 .5 1 .5-2.1 .5 .6 .5 2.7 .5 .8 .5-1.1 .5 .8 .5-.7 .5-1.5 .5 .9 .5-2.6 .5 2.3 .5 .7 .5 .5 .5-1.3 .5-2.6 .5 .2 .5-1.1 .5 .3 .5 1.3 .5 2.1 .5 0 .5 .2 .5 2.2 .5-2.3 .5 1.4 .5-1.5 .5 .1 .5-1.7 .5-2.6 .5 4.3 .5-1.5 .5-2.5 .5 3.4 .5-.9 .5 0 .5-.1 .5 2.8 .5-1.7 .5 .2 .5-2.1 .5 3.2 .5 .5 .5-1 .5 3.1 .5-3.5 .5-1.4 .5 1.7 .5-.5 .5-.3 .5-.8 .5 1.6 .5-2.8 .5 3.2 .5 1 .5-1.9 .5 2.2 .5 .6 .5-2.5 .5 1.5 .5-1.3 .5 1.2 .5 .8 .5-2.9 .5-1.9 .5 2.1 .5-.7 .5 .2 .5 1.1 .5 .6 .5-.6 .5 .6 .5 .8 .5-2.1 .5-.2 .5 .2 .5-.6 .5 4.1 .5-3.3 .5 .1 .5 2 .5-5.3 .5 1.5 .5 .5 .5-.4 .5-.7 .5 .7 .5 2.3 .5-.9 .5-.6 .5 .1 .5-.2 .5 2.3 .5-.6 .5-1.2 .5 1.3 .5-.9 .5 1.4 .5-1.7 .5 .4 .5-.8 .5 .5 .5 .8 .5 .4 .5-1.7 .5 .6 .5 1 .5-1.1 .5-1.8 .5-.7 .5 .4 .5-.9 .5 1.7 .5-.5 .5 .9 .5-.1 .5-2.6 .5 1.6 .5 0 .5-2 .5 1 .5 3.2 .5-2.6 .5 1.4 .5-2.8 .5 2.8 .5-1.4 .5-.1 .5-3.1 .5 4.7 .5-3.5 .5-.5 .5 .4 .5-1.8 .5-2.6 .5 2.5 .5 .8 .5-1.6 .5 .7 .5 2 .5-2.1 .5-.7 .5 1.2 .5-.8 .5-1.3 .5-.4 .5-3.1 .5-.7 .5 2.1 .5-2.8 .5-1.4 .5 .9 .5-2.6 .5-2.4 .5 .9 .5-2.6 .5 2 .5-4.1 .5 1.3 .5 0 .5-.6 .5-1.3 .5-4.3 .5 1.9 .5-.8 .5-.9 .5 .5 .5-3.6 .5 3 .5-4.7 .5 1.9 .5-.7 .5-.1 .5-.7 .5 1.8 .5-3.2 .5-.3 .5-.6 .5-.4 .5-1.8 .5 1.1 .5-.3 .5 1.3 .5 4.2 .5-1.5 .5-.6 .5 3.2 .5 2 .5 1.8 .5-4 .5 4.6 .5-.4 .5 2.3 .5-1.2 .5-.8 .5 4.5 .5-.6 .5 2.2 .5 2.5 .5-.2 .5-.2 .5-.5 .5 1 .5 2.7 .5 3.1 .5-1.7 .5 1.6 .5 .6 .5 1.9 .5-.6 .5-1.6 .5 1.6 .5 1.4 .5 1.6 .5 1.6 .5-.8 .5-1 .5-.9 .5 .9 .5 1.3 .5-1.4 .5 2.8 .5-.8 .5 1.3 .5-1.4 .5-.5 .5-.9 .5 .1 .5 2.4 .5 1.2 .5-.7 .5-1.2 .5 3.7 .5 .2 .5-4.3 .5 3.7 .5-2.1 .5-1 .5 0 .5 .1 .5-1.4 .5 2.1 .5 .9 .5 2.8 .5-2.5 .5 .7 .5-.3 .5-1.2 .5 .4 .5 .6 .5 0 .5 1.8 .5 .7 .5 .8 .5-2.8 .5 1.8 .5-1.1 .5-1.4 .5-1.3 .5 2 .5-1.4 .5-.7 .5 1.1 .5-1.4 .5-4 .5 3.5 .5-1.9 .5 1.7 .5-.8 .5 .8 .5 1.5 .5 1.9 .5-3.2 .5 1.1 .5 .4 .5-.1 .5 2.2 .5-1.1 .5-.4 .5 1.3 .5-.5 .5-1.3 .5 2.8 .5-3.2 .5 .2 .5 1.3 .5-.3 .5 2.5 .5-2.2 .5-.3 .5 .7 .5-.2 .5 1.2 .5-2.6 .5 1.8 .5-.3 .5-.2 .5 2.4 .5 .5 .5-2.3 .5 2.3 .5-.8 .5-1.9 .5 2.5 .5-.2 .5-.1 .5-1.2 .5-4.5 .5 .8 .5-.9 .5 3.4 .5 .8 .5-1.2 .5-2.3 .5 .3 .5 4.2 .5 .2 .5-2.6 .5 .6 .5-.4 .5-.7 .5 1.4 .5-1.7 .5 .3 .5-1.7 .5 2.1 .5 2.3 .5-3.6 .5-.7 .5 .5 .5 1 .5 .1 .5-2.7 .5 1.9 .5-.8 .5 .3 .5 2 .5 3.1 .5-2.3 .5 2.3 .5 .8 .5-2.2 .5-.7 .5-.2 .5-1.1 .5 3.1 .5-2.8 .5-1.1 .5 2.3 .5 .6 .5-.2 .5-1.6 .5 1.8 .5 .7 .5 .7 .5-4.2 .5-.4 .5 1.9 .5-1.9 .5 3.7 .5-.8 .5 2.5 .5-1 .5-2.1 .5-1.5 .5-.6 .5 1.9 .5-.1 .5 0 .5 .5 .5 0 .5-1.6 .5-.9 .5 2.9 .5-4.4 .5 1.1 .5 0 .5 .6 .5 .3 .5 1.3 .5 3.3 .5-2.7 .5 2.1 .5-2 .5 .3 .5 2.4 .5-1.2 .5 .9 .5 .9 .5-3.3 .5 1.9 .5 .2 .5-3.1 .5 1.2 .5-.9 .5 1.2 .5-3.9 .5-.9 .5-1 .5 4.1 .5-1.5 .5 .6 .5 1.5 .5 1.3 .5 2.3 .5-2.1 .5 .9 .5 1.3 .5-2.9 .5 .5 .5-.4 .5-3.1 .5 2.6 .5 1.7 .5 .1 .5-3.2 .5 1 .5 .7 .5 1.7 .5-1.6 .5 .3 .5-1.2 .5 1.2 .5 .3 .5-.7 .5 1.1 .5-1.4 .5 4.2 .5-2.8 .5-3.1 .5 1.1 .5 1.5 .5-1 .5 .4 .5-.3 .5-2.2 .5 2.1 .5-.9 .5 1.2 .5-.2 .5 .8 .5-1 .5 .1 .5 .4 .5 .2 .5 .5 .5-.1 .5 1.5 .5-1.5 .5 .8 .5-1.4 .5 .9 .5-2.6 .5 0 .5 1.1 .5-2.4 .5 .2 .5 2.1 .5 .3 .5 .4 .5-2.9 .5 2.5 .5-2 .5 .8 .5-.3 .5 .1 .5 2.6 .5-3.3 .5 2.4 .5-2.1 .5 .3 .5-2.2 .5 .5 .5-.9 .5 1.3 .5 .4 .5-.9 .5-1.7 .5 2.5 .5 1 .5 1.8 .5-.6 .5-1 .5-1.2 .5-.1 .5 1.1 .5 .1 .5-1.2 .5 0 .5 1 .5-.2 .5 .3 .5-.4 .5 4.1 .5-.3 .5-.5 .5 0 .5-1.3 .5 3.6 .5-2.5 .5-.2 .5 1.4 .5-.4 .5-1.4 .5 .2 .5-.2 .5-1.3 .5-.3 .5-1.7 .5 1.1 .5-1 .5 2.2 .5-.3 .5 1.4 .5-1 .5-1.2 .5 2.5 .5-.5 .5 0 .5 .9 .5-1.3 .5 2.3 .5-3 .5-1.2 .5-1 .5 1.8 .5 1 .5 1.5 .5-1.8 .5 .6 .5 1.2 .5 .1 .5-.7 .5 .6 .5 .7 .5-.6 .5-1.3 .5 0 .5 1 .5-1.1 .5 .8 .5-2.1 .5 .8 .5-1.3 .5 2.3 .5-.1 .5 .8 .5-1.9 .5-3.1 .5 3.5 .5 .8 .5-.8 .5 .2 .5-1.4 .5 1 .5 .9 .5 .9 .5-2.9 .5-.9 .5 1.1 .5 1.4 .5-.3 .5 .2 .5-.6 .5 1.1 .5-1.2 .5 1.7 .5 .4 .5-3.2 .5 3.3 .5-.3 .5-3.5 .5 2.1 .5-2 .5 5 .5-4.4 .5 1.8 .5 .1 .5-.4 .5 3.4 .5-2.9 .5-2.5 .5-4.1 .5 4.2 .5-3.8 .5 2.4 .5 .1 .5 2.9 .5-1.3 .5 2.3 .5 .9 .5-2.8 .5 2.2 .5-.7 .5-1.8 .5 1.5 .5 .4 .5-1.8 .5 .3 .5-1.2 .5 3.4 .5-2 .5 .1 .5 1.6 .5-.1 .5-.2 .5 1.2 .5 .4 .5-2.5 .5 1.9 .5-.4 .5-2.5 .5 1.1 .5-.7 .5 .8 .5-.2 .5 .6 .5 .6 .5-2.7 .5 2.8 .5 1.6 .5-1.7 .5-2.4 .5 2.1 .5-1.4 .5 1.1 .5 .9 .5-1.5 .5 .6 .5-1.5 .5-.6 .5 1.1 .5-2.8 .5 4.9 .5-2.4 .5 1.6 .5-.9 .5 1.3 .5 3.4 .5-2.4 .5-1.8 .5 .7 .5 .8 .5-1.8 .5-1.7 .5-1.5 .5 2.3 .5-.5 .5 1.6 .5 .5 .5-.6 .5-2.3 .5 .6 .5 1.2 .5 .1 .5-.2 .5 1.4 .5 .9 .5 .3 .5-.7 .5 1.4 .5-1.4 .5 2.9 .5-1.7 .5-1.1 .5-2 .5 1.2 .5-.7 .5-.9 .5 1 .5 1.3 .5 .1 .5 .9 .5-2.3 .5-.1 .5-1.1 .5-2.1 .5 1 .5 .8 .5 .6 .5-3.3 .5 1.8 .5-.1 .5-2.2 .5 .8 .5 1 .5-.5 .5-1.3 .5 2.6 .5 .1 .5 1.9 .5-.1 .5-1.2 .5 1.3 .5-.4 .5-1.5 .5 1.3 .5-2.6 .5 2.2 .5 0 .5 .3 .5 1.2 .5-2.2 .5 .9 .5-1.5 .5 2.5 .5-1.7 .5-.7 .5 1.9 .5 0 .5 2.9 .5-5.2 .5 2.4 .5-1 .5 1.3 .5-1.1 .5 2 .5-1.7 .5 1.4 .5 1.3 .5-.5 .5 2.5 .5-2.8 .5 0 .5-2.8 .5 .4 .5 1.1 .5 .1 .5-4 .5 4.6 .5-3.6 .5 1.1 .5 .2 .5 3.2 .5-3.2 .5 1.4 .5 .1 .5-2 .5 1.4 .5-1.3 .5 2.4 .5-1.1 .5 .8 .5 2 .5 .3 .5-.4 .5-.5 .5-.4 .5-3.4 .5 1.1 .5 .4 .5-.2 .5 .7 .5-.7 .5 1.1 .5 1.3 .5 .4 .5-.1 .5 .7 .5-1.4 .5 1.2 .5-1.8 .5 1.1 .5-.9 .5 1.2 .5 1.5 .5-.6 .5-1.1 .5-.9 .5-.5 .5-.7 .5-1 .5-.2 .5-.3 .5 1.1 .5-.1 .5 2 .5 1.1 .5 .3 .5-2.4 .5 4 .5-1.9 .5-1 .5-1.4 .5 .2 .5-1.8 .5 4.2 .5-3.6 .5 3.5 .5-1 .5-1.9 .5 .6 .5 .5 .5 .4 .5 .3 .5-.2 .5 .7 .5 1.7 .5-1.2 .5-3 .5-.8 .5 1.3 .5 .1 .5 1 .5-2.1 .5 2.9 .5-.7 .5 .1 .5-2.8 .5 2.8 .5-.7 .5 2.7 .5 .3 .5-2.9 .5 .1 .5-.4 .5 .6 .5 .7 .5 .6 .5 1.2 .5-.4 .5-1.7 .5 1.9 .5 1.4 .5-1.1 .5 1.1 .5 .5 .5-.9 .5 .8 .5 .1 .5-4 .5-1.3 .5 .9 .5-2.4 .5 1.8 .5-.7 .5-1.5 .5 1.5 .5-.1 .5 4.5 .5-3.3 .5 1.2 .5 0 .5 2 .5-.7 .5-1.5 .5-.1 .5-.6 .5-.9 .5-1.1 .5 .1 .5 .1 .5 0 .5-.3 .5 .8 .5 .5 .5-.3 .5 3.3 .5-.8 .5-.4 .5-1.7 .5-.8 .5 1 .5 .7 .5 .6 .5-2 .5-.1 .5 .9 .5-1.4 .5-.9 .5-.4 .5 2.2 .5-1.2 .5 .9 .5 1.9 .5-.4 .5 .7 .5-.4 .5-1.7 .5-1.4 .5 .2 .5 1.7 .5 .9 .5 .3 .5-1.3 .5 .8 .5-1.8 .5 .5 .5-.6 .5 1.2 .5-2.6 .5 1.5 .5 1.5 .5 1.3 .5-2 .5-.7 .5 1.6 .5-1.9 .5-2.4 .5 2.5 .5 1.5 .5 0 .5-.3 .5 3.2 .5-.1 .5-.9 .5-1.3 .5-2.1 .5 .5 .5 2.8 .5-3.1 .5 0 .5-.3 .5 .4 .5 .4 .5-.9 .5 1.2 .5 .9 .5-2 .5 .4 .5-3.9 .5 1.5 .5-2.4 .5 3.4 .5 .1 .5-1.2 .5 3.5 .5-.1 .5 2.5 .5-2.1 .5 2.8 .5-1.8 .5 2 .5-2.6 .5-.8 .5 .9 .5 .8 .5-2.1 .5-1.3 .5-.2 .5-.9 .5-.8 .5 2 .5 .7 .5 .6 .5-.6 .5 .3 .5 .4 .5-1 .5-1.9 .5 3.3 .5-.2 .5-.2 .5 .9 .5-2.3 .5 1.5 .5-.7 .5 2.6 .5-2.7 .5 .7 .5 1.5 .5-2.4 .5 .3 .5 1.2 .5 0 .5 1.5 .5-2.8 .5 .8 .5-1.4 .5-.5 .5 .1 .5 1.5 .5-1.1 .5 .2 .5-1.1 .5 2.4 .5-1.8 .5 .9 .5 .8 .5-1.8 .5 1.4 .5 1.9 .5-.6 .5 1.5 .5 .7 .5-.8 .5-.2 .5-2.9 .5 .7 .5 3.3 .5-3.1 .5 .2 .5-1 .5-.8 .5 .2 .5 0 .5 2.1 .5-1.8 .5 2.6 .5-1.2 .5 1.6 .5-1.1 .5 1.2 .5-3 .5 .7 .5 .7 .5-.7 .5 .4 .5 2.8 .5-.6 .5 .3 .5-2.4 .5 .4 .5 .5 .5-.4 .5-1.1 .5 2.4 .5-2.7 .5-2.3 .5 3.2 .5-.5 .5 0 .5-1.3 .5 2 .5-2.6 .5 2.6 .5 .2 .5 .2 .5-2.7 .5-.9 .5 .8 .5-1.5 .5-.2 .5 .8 .5 .1 .5 .6 .5-.8 .5 .9 .5-1.9 .5 1.1 .5 1.2 .5 .4 .5-1 .5-.9 .5 .4 .5-1.6 .5 .8 .5-1.8 .5-1.4 .5-.3 .5-.6 .5-.7 .5 1.5 .5-1 .5 1.6 .5-1.7 .5 .1 .5-1.3 .5-2.2 .5-1.4 .5 1.3 .5-.5 .5-1.9 .5 1.6 .5-3.3 .5 .8 .5-.7 .5-4.1 .5-.5 .5-.9 .5 1 .5-4.8 .5-.9 .5-1.3 .5-3.5 .5-1.2 .5-3.2 .5-3.2 .5-5.6 .5-2.6 .5-5.7 .5-1.8 .5-4.1 .5-8.2 .5-1.3 .5-8.5 .5-3.3 .5-8.6 .5-5.1 .5-9.7 .5-8.1 .5-6.8 .5-7.2 .5-7.3 .5-9.7 .5-9.8 .5-5.2 .5-7.3 .5-11.4 .5-5.5 .5-8.5 .5-6.3 .5-6.5 .5-5.3 .5-5.6 .5-2.8 .5-5.1 .5-2.4 .5-4.2 .5 1 .5 0 .5 3.7 .5 .9 .5 2.3 .5 6.8 .5 5.3 .5 8.2 .5 7.4 .5 5.6 .5 9.4 .5 8.8 .5 7.7 .5 9.6 .5 7.6 .5 9.4 .5 11.2 .5 5.8 .5 9.6 .5 5.1 .5 5.9 .5 7.1 .5 5.4 .5 3.5 .5 6.2 .5 6.2 .5 2.2 .5 6.4 .5 5.8 .5 5.1 .5 3.7 .5 5.3 .5 2.8 .5 3.6 .5 3.8 .5 .1 .5 2.6 .5 2.6 .5 .8 .5 3.5 .5 .4 .5 .9 .5-1.5 .5 1.3 .5 .8 .5 2.3 .5 0 .5 4.2 .5 1.8 .5 1.4 .5-.4 .5 1.2 .5 .2 .5-.7 .5-.9 .5 1.9 .5-1 .5 .8 .5-1.3 .5 2.3 .5 1.9 .5-1.7 .5 .4 .5 1.9 .5 2.2 .5-4.6 .5 .8 .5 .4 .5-.8 .5-1.6 .5 0 .5 3.6 .5-1.3 .5 2.7 .5 .5 .5 .3 .5 0 .5 .1 .5 .8 .5-.4 .5 1.7 .5-1.5 .5 1.6 .5-1.5 .5 .3 .5 1.5 .5-4 .5 .6 .5 0 .5-.1 .5-2.7 .5 2.3 .5-1.4 .5 .8 .5 2 .5-1.9 .5 3.4 .5-1.4 .5 .9 .5 1 .5 1.5 .5-2.7 .5-.9 .5 2.6 .5-.9 .5-2.5 .5 2.3 .5-1.6 .5 2.3 .5-.3 .5-.9 .5 0 .5 2.4 .5-.4 .5-2 .5-1.2 .5 .5 .5 0 .5-.1 .5 2.2 .5-1.5 .5-.2 .5 .8 .5 2.5 .5 .4 .5-1.9 .5 3.2 .5-.7 .5-3.6 .5 2.1 .5-.9 .5-2.2 .5-.8 .5 .5 .5 .7 .5-1.8 .5-1.3 .5 1.1 .5 .2 .5-2.3 .5 1 .5-.3 .5-.2 .5 2.3 .5-1.4 .5-.4 .5 1.1 .5 2.6 .5 .7 .5-.8 .5-1.7 .5 .5 .5-1 .5 1.3 .5-2.7 .5 1.8 .5-2 .5 1.7 .5 3.8 .5-3.1 .5 .6 .5-.6 .5-1.5 .5-1.8 .5 .3 .5-.5 .5 1.7 .5 1.9 .5-2.2 .5-.7 .5-1.4 .5-4.9 .5 1.5 .5 1.6 .5-3.2 .5 .8 .5-.1 .5-4.4 .5 .4 .5-2 .5-3.7 .5 2.9 .5-3.3 .5 .5 .5-.2 .5-2.2 .5-1.9 .5-1.6 .5 .1 .5-4.8 .5-.2 .5-3.9 .5-2.6 .5-1.9 .5-4.1 .5-1.3 .5-2.5 .5-2.1 .5-1.8 .5-3.6 .5-.6 .5-4.3 .5-1.9 .5-4.3 .5 1.7 .5-3.9 .5 0 .5-.3 .5 .9 .5 .2 .5-.4 .5-.2 .5-.6 .5 1.7 .5-1.7 .5 1.2 .5 7.1 .5-.3 .5 3.1 .5 3.6 .5 4.2 .5 .6 .5-.3 .5 .6 .5 2.2 .5 2.2 .5 3.5 .5 1.2 .5 3.2 .5 1.7 .5 3.8 .5 3 .5 3.4 .5-1.2 .5 4.6 .5 2.4 .5 2.6 .5-2.1 .5 3.2 .5-.9 .5 .7 .5-.5 .5 3.4 .5 2.4 .5-2.3 .5 1.7 .5 1.8 .5 .1 .5-1.6 .5 2.7 .5 1.4 .5-.1 .5-.2 .5 .7 .5 .3 .5 .1 .5 1.8 .5-1.9 .5-.3 .5 .5 .5 .8 .5-.1 .5-.4 .5 .1 .5 2.2 .5-1.5 .5-1.2 .5 2.4 .5 .9 .5-.6 .5 1.4 .5 1.5 .5-.9 .5-2.1 .5-.5 .5 1.5 .5 0 .5-1.7 .5 1 .5 0 .5 .6 .5 1.2 .5-.2 .5-1.9 .5 .8 .5-2.5 .5-.3 .5-.4 .5 2.1 .5-1.4 .5 1.7 .5 1.9 .5 0 .5 1.5 .5 2.6 .5-5.5 .5 .3 .5-1.5 .5 1.7 .5 1.3 .5 .8 .5 .2 .5-1.1 .5 2 .5-1.2 .5-2.6 .5 3.1 .5-.8 .5-1.4 .5-.6 .5-.9 .5-1 .5 .8 .5-.1 .5 1.6 .5-.5 .5 1 .5-.7 .5-.7 .5 .3 .5 3.2 .5-.2 .5-3.1 .5 5.2 .5-2.2 .5 1.5 .5-1.3 .5 .1 .5-1 .5 1.4 .5-2.5 .5-1.4 .5 5.2 .5-2.2 .5 .5 .5-2.3 .5-1.8 .5-.2 .5-.2 .5 1 .5 .5 .5-2.4 .5 1.8 .5 .1 .5-.8 .5 1.8 .5-1 .5 1 .5-1.3 .5-1.3 .5 1.3 .5-1.9 .5-1 .5 1.7 .5-1 .5 .4 .5-2.3 .5 3 .5-.5 .5 2.2 .5-.2 .5-1.6 .5 1.1 .5-1.3 .5 .5 .5-3.4 .5 2.9 .5-1.8 .5 1.8 .5-.3 .5 1.6 .5-4.3 .5 6.3 .5-2 .5 1.1 .5-1.3 .5 1.6 .5-2.9 .5 1 .5 .8 .5-.1 .5-1.2 .5-.1 .5-2.2 .5 .5 .5 1.1 .5 0 .5 1.1 .5-.5 .5 1.9 .5-.7 .5 1.2 .5-2.7 .5 .1 .5 .3 .5-3.7 .5 1.1 .5 .8 .5-3 .5 1.4 .5 3.6 .5-3.8 .5 .7 .5 .1 .5 .5 .5 .9 .5-1 .5 2 .5-2.1 .5-1.6 .5-.5 .5 1.7 .5-2.7 .5 2.4 .5 1.5 .5-.3 .5 1.4 .5-1.7 .5 1.9 .5-.6 .5 .1 .5-.8 .5-.9 .5-2.6 .5 1.6 .5-1.7 .5 .3 .5-2 .5 1.6 .5-.2 .5-3.4 .5 2.2 .5 2.9 .5-2.2 .5 1 .5 .2 .5-1.3 .5 2.6 .5-2.6 .5 1.4 .5 .9 .5 .7 .5-4 .5 2 .5 .8 .5-1.8 .5-1.2 .5-.6 .5-1.5 .5 .6 .5 .5 .5-2.7 .5 .6 .5 4.2 .5-1.9 .5 2.2 .5-2.1 .5 3.4 .5-.8 .5-.9 .5 2 .5-.7 .5 2.1 .5 .4 .5-.4 .5-2.4 .5 1.3 .5-2.6 .5 2 .5-2.1 .5 1 .5 1.6 .5-1.4 .5-.3 .5 .4 .5 1.3 .5-.8 .5 .8 .5 .5 .5 2.2 .5 1.5 .5-3.3 .5 1.4 .5-.8 .5-.9 .5-1.4 .5 1.8 .5-2.5 .5-2 .5 3.5 .5-.6 .5-1.2 .5 1.4 .5 .6 .5 .6 .5 1.8 .5-2 .5 1 .5-1.5 .5 1.2 .5 .8 .5-.9 .5-.9 .5 2 .5-.7 .5-.9 .5-.2 .5 1.8 .5-.9 .5-.9 .5 .7 .5-1.7 .5 1.7 .5 2.2 .5-1.4 .5 .1 .5 1.1 .5 .8 .5 2.6 .5-1.8 .5-1.3 .5 .4 .5-.7 .5-1.1 .5 1.6 .5 .8 .5-.2 .5 .7 .5-.5 .5 1.5 .5 1.3 .5-2 .5 1.3 .5-2 .5 1.2 .5-1.7 .5-.1 .5 .2 .5 1 .5-1.2 .5-1.8 .5 2.1 .5-.1 .5 2.3 .5 .5 .5 1.3 .5-1.9 .5 .9 .5-.6 .5-2.6 .5 2.2 .5-3.9 .5 2.6 .5 .4 .5-2.9 .5 2 .5-2 .5-.2 .5-.8 .5-.2 .5 2.8 .5 3.2 .5 1 .5-.7 .5-1.7 .5 .2 .5-.9 .5 .1 .5-2.1 .5 3.2 .5-3.1 .5 1.2 .5 .8 .5 .9 .5 .2 .5-.5 .5 .7 .5 .1 .5 .8 .5-1.6 .5 .9 .5-.4 .5 1.3 .5 .4 .5-.7 .5-1.7 .5 1.1 .5-2.4 .5 1.6 .5-.8 .5-.9 .5 1.8 .5 1.3 .5-3.5 .5 1.8 .5 .7 .5-2.6 .5-.7 .5 2.5 .5-.6 .5-2.8 .5 3.8 .5-2 .5 .4 .5 1.8 .5 .5 .5-.3 .5-.9 .5 .1 .5-2.3 .5 4.6 .5-1.2 .5 1.2 .5-2 .5 .4 .5 2.3 .5-.3 .5 .3 .5 0 .5 .4 .5-.5 .5 0 .5-1.6 .5-.2 .5-1.5 .5 .5 .5 1.7 .5-1 .5 .9 .5-.7 .5-.5 .5 1.1 .5 1 .5 1.3 .5-2 .5 1.5 .5 .2 .5-1.8 .5-2.8 .5-2.1 .5 .6 .5 2.2 .5-.9 .5 3.5 .5-2.4 .5 1.6 .5-.2 .5 2.1 .5-1.5 .5 2.2 .5 .6 .5-3.8 .5 2.8 .5-3.1 .5 1 .5-1.2 .5-.7 .5-1.6 .5 .8 .5 1.7 .5-.1 .5-1.6 .5 .8 .5 2.8 .5-1 .5 1.5 .5-1.4 .5 2 .5-2.8 .5 .9 .5 .3 .5-2.4 .5-.1 .5 2.3 .5 .9 .5-2.7 .5-.7 .5 1.1 .5-.8 .5 .4 .5-.3 .5-1.6 .5-1.3 .5 .8 .5 1.2 .5 1 .5-.5 .5 3.2 .5-2.5 .5 .4 .5 0 .5 .5 .5 .2 .5 1.6 .5-2.7 .5 .6 .5-1.1 .5-.1 .5 .6 .5-2.8 .5 1 .5 .3 .5-.2 .5-.9 .5 2.7 .5 0 .5-.9 .5 3 .5-1.5 .5 1.5 .5-1.4 .5 .8 .5-1.2 .5 1.9 .5-.3 .5 .3 .5-.2 .5-1.7 .5 .5 .5-.9 .5 .3 .5-1 .5-.9 .5 0 .5 1.2 .5 0 .5 1 .5-2.2 .5-.7 .5-1.7 .5 5 .5-5.5 .5-.5 .5-3 .5 3.3 .5 .2 .5-1.2 .5 2.2 .5 .4 .5-2 .5 3 .5-.6 .5-2.9 .5 .2 .5 1.2 .5-4.5 .5 .2 .5-.9 .5-1.6 .5-.4 .5-1.7 .5 .7 .5 1.6 .5-1 .5-2.5 .5 .2 .5-1 .5 .4 .5-4.7 .5 .3 .5-.6 .5-.4 .5-2.1 .5-2.8 .5-1 .5-3.4 .5-3.4 .5 1.7 .5-1.1 .5-1.9 .5 1.7 .5-1.7 .5 .6 .5 .1 .5 1.3 .5 .2 .5-2.2 .5 1.4 .5 .5 .5 2.7 .5-2 .5-2.5 .5 3 .5-.2 .5 3.1 .5 3.3 .5-.1 .5-.1 .5 3.6 .5 1.9 .5 1.1 .5 2.1 .5-.3 .5 .1 .5-.2 .5 1.1 .5 3.3 .5 2 .5-.9 .5 1.2 .5-1.2 .5 2.8 .5-1.1 .5 2.3 .5-.7 .5 2.3 .5 3.3 .5 .8 .5-3.3 .5 1 .5-2.9 .5 .9 .5-2.2 .5 2.5 .5 1.5 .5 2.5 .5-1.8 .5 1.7 .5 .9 .5-3 .5 2.6 .5 2.3 .5-1.6 .5 3 .5-.9 .5-2 .5 2 .5-2.3 .5-.6 .5-.3 .5 1.6 .5 1.1 .5-.9 .5-.2 .5 2.1 .5-2.2 .5-.7 .5 .6 .5-1.1 .5-.4 .5-.6 .5 .7 .5-.4 .5-.3 .5-1.3 .5 1.7 .5-2.6 .5 2.6 .5-3.9 .5 .9 .5-3 .5 2.3 .5-.8 .5 2.4 .5-1.6 .5-.5 .5-.1 .5-.2 .5 .7 .5 .3 .5-1.4 .5 2.5 .5-1.8 .5-2 .5 .2 .5-2.2 .5 1.6 .5-.8 .5-1.5 .5-1.9 .5 3 .5-.6 .5-1.9 .5-1.6 .5-3.3 .5-2.2 .5 .2 .5-.7 .5-.7 .5 0 .5-.4 .5-.6 .5-1.9 .5 1.8 .5-1.7 .5-1.6 .5-3.3 .5 4.3 .5-1.8 .5 1.9 .5-.7 .5 .7 .5-3.3 .5 1.5 .5 .9 .5-1.7 .5 2.2 .5-.8 .5 2.1 .5-1.1 .5-.6 .5 .2 .5 1.8 .5 .6 .5 2 .5 1.6 .5-1 .5-.2 .5 2.2 .5 1.4 .5 2.1 .5 1.3 .5 .9 .5-1.2 .5 3.3 .5-.7 .5 4.2 .5 .8 .5-.3 .5 2.1 .5-3.8 .5 1 .5-.7 .5 1 .5-.8 .5 1.8 .5-1.8 .5 .3 .5 2.3 .5 .1 .5 .8 .5 .2 .5-3 .5 .6 .5-1.2 .5 .9 .5-.9 .5-.3 .5 .9 .5-1 .5-.9 .5 1.3 .5 1.9 .5 .9 .5-3.8 .5 5 .5-.2 .5-1.2 .5-.2 .5-1.6 .5 1.7 .5-1.1 .5 .5 .5-.3 .5-.2 .5 .2 .5-1 .5 .5 .5-.7 .5-.2 .5 .5 .5 2.1 .5 .1 .5 0 .5-1.7 .5 1 .5-.8 .5-1.9 .5-.1 .5 .4 .5-3.1 .5 1.9 .5-1.4 .5 1.2 .5-.1 .5-.8 .5 1.9 .5 1 .5-2.1 .5 .4 .5 .5 .5 0 .5 2.3 .5-1.6 .5 .3 .5-.9 .5 .2 .5 .3 .5-.9 .5 .1 .5 2.1 .5 1.4 .5-.1 .5-2.5 .5 2.7 .5-2.8 .5-1 .5-.8 .5 2.6 .5-2.7 .5 3 .5-1.5 .5 .9 .5 1.4 .5-4.5 .5 2 .5 1 .5-1 .5-1.3 .5-1.1 .5 .8 .5 1.4 .5-3.4 .5 1.4 .5-1.3 .5 .8 .5 1.9 .5-.5 .5 2.1 .5-1.2 .5 3.1 .5 .2 .5-.6 .5-1.6 .5 .7 .5 1.3 .5 .1 .5 .3 .5-.4 .5-.6 .5 .6 .5 1.5 .5-.4 .5-1.1 .5 1.4 .5-1.6 .5-.6 .5 .3 .5 1.3 .5 .6 .5 .1 .5-2.3 .5 2.5 .5 2.5 .5 2 .5-1.6 .5-1.6 .5 1.8 .5 0 .5-2.9 .5 .5 .5-.6 .5-.4 .5 1 .5-1 .5 0 .5 1.1 .5 .7 .5-.8 .5 3.7 .5-2 .5 .6 .5-1.1 .5 2.2 .5-2.6 .5 1.3 .5-.8 .5-1.2 .5 1.1 .5 .6 .5-1.3 .5-.1 .5-1.7 .5 2.8 .5-.8 .5-.1 .5 .5 .5 1.8 .5 1.3 .5-2.5 .5-.7 .5 1.3 .5-.7 .5 .9 .5-1.3 .5-1.1 .5 1 .5-1.9 .5 1.5 .5 1.4 .5-.9 .5 1.4 .5-.1 .5 .2 .5 1.1 .5-.6 .5 1 .5-1.4 .5 1.9 .5 .2 .5-3.1 .5 3.5 .5-1.7 .5 .5 .5-.7 .5 1.6 .5 0 .5 1.5 .5-3.6 .5 2 .5-1.3 .5 .9 .5-2 .5 2.4 .5 .5 .5-3.1 .5 2.4 .5-.9 .5-.1 .5 2.4 .5-3 .5 2.3 .5-1.5 .5-.8 .5 .2 .5 .6 .5-2.5 .5 2 .5 .7 .5-2.4 .5 .6 .5 4.3 .5-1.5 .5 .1 .5 3.5 .5-2.3 .5-1.6 .5 2.7 .5-2.8 .5-1.4 .5 1.6 .5-.1 .5-1.5 .5 1.6 .5-3 .5 1.3 .5 2.5 .5-.7 .5-.7 .5-1.8 .5 .3 .5 1.9 .5-.9 .5 .8 .5-1.2 .5 .7 .5-2.9 .5 1.9 .5 .9 .5 1.1 .5 .5 .5-2.4"/>
<path fill="none" stroke="#FF6400" stroke-width="8.8" stroke-linejoin="round" stroke-linecap="butt" d="M237.00 670.4l.5-2.1 .5 8.1 .5-6.1 .5-3.3 .5-1.3 .5 1.3 .5-1.3 .5 3.4 .5 .9 .5 2.4 .5 4.4 .5 .9 .5-1.8 .5 2.2 .5-4.4 .5-1.3 .5-2.3 .5 2.9 .5-3.3 .5 4.9 .5 .3 .5-1.5 .5-.4 .5 3.6 .5-.3 .5-5 .5 2.5 .5-3.8 .5 2.5 .5 .9 .5 .9 .5-1.2 .5 2.2 .5-2.8 .5 2.8 .5-1.3 .5 .3 .5-3 .5 .9 .5 1.9 .5-5.5 .5 5.7 .5 0 .5-.9 .5-2.9 .5 3.9 .5-1.7 .5 1.5 .5 3.2 .5-4.8 .5-.7 .5 2 .5-1.2 .5 2.4 .5-.4 .5-2.6 .5-2.5 .5 2 .5-1.7 .5-1.1 .5 2.5 .5 0 .5-1 .5 6 .5-4.4 .5 4.7 .5-6 .5-.8 .5 .8 .5 1.1 .5-1.7 .5 1.6 .5 0 .5 3.5 .5-1.6 .5 4.3 .5-1.3 .5-.2 .5-4.1 .5 5 .5-2.9 .5-3.8 .5 3.4 .5 .5 .5-4.1 .5 .2 .5-3.2 .5 3.3 .5-2.1 .5-.1 .5 .5 .5 5.8 .5-4.2 .5 5.5 .5 1.5 .5-1.5 .5-2.9 .5 .4 .5-2 .5 0 .5 .9 .5 1.9 .5-4 .5 8.5 .5-1.4 .5-3.3 .5 .8 .5 2 .5-4.2 .5-.2 .5 3.7 .5-6.3 .5-.1 .5 1.1 .5 4.3 .5-1.1 .5 2.6 .5-3.2 .5 1.3 .5-3.1 .5 .9 .5-3.4 .5 .1 .5-1 .5 6 .5 .7 .5-4.3 .5 2.8 .5-1.4 .5 .6 .5 .4 .5-1.6 .5 1 .5 .3 .5 2.8 .5-5.5 .5 3.4 .5-2.1 .5 1.5 .5-1.9 .5 2.8 .5 .9 .5 1.4 .5 2.6 .5 0 .5-1 .5-.5 .5 1.3 .5-7.6 .5 6.1 .5-2.6 .5-6.9 .5 5.7 .5-3.4 .5 .3 .5 2.5 .5 3.5 .5 1.1 .5-2.7 .5-.8 .5 5.1 .5-5.3 .5 1 .5-4 .5 .7 .5 1.5 .5-1.1 .5-1.1 .5-2.5 .5-3.2 .5 6.1 .5 .9 .5-.5 .5 2.1 .5-.7 .5 1.3 .5 1.7 .5 2.4 .5-1.7 .5-1.9 .5 1 .5-3.8 .5 .6 .5 1.9 .5-4 .5 5.8 .5-5.2 .5-1.7 .5 4.5 .5 .2 .5-1.2 .5 .1 .5 2.9 .5 .7 .5-1.7 .5 1.2 .5 3.4 .5-1.7 .5-.3 .5 2.5 .5-5.2 .5 1.3 .5-3.8 .5 4.5 .5-1 .5 1.1 .5-6.5 .5-1.2 .5-1.9 .5-1 .5 1.2 .5 .8 .5 6.6 .5-3.2 .5 2.7 .5 .2 .5 2.2 .5-5.5 .5 2 .5 2.9 .5-4.3 .5 1.5 .5 2.9 .5 .1 .5 2.8 .5 4.6 .5-1 .5-4.7 .5-1.2 .5-1.9 .5 .8 .5-3 .5-2.3 .5-1.1 .5 4.3 .5 2 .5-3.1 .5 3.1 .5 1.1 .5 .2 .5-1 .5-5.3 .5 .7 .5 2.4 .5 1.5 .5-6.2 .5 .2 .5 .8 .5 .9 .5 6.1 .5-.9 .5-3.5 .5 1.6 .5-2 .5 .8 .5-.6 .5-3.1 .5 2 .5-.1 .5 .6 .5 1.2 .5-1.3 .5-.1 .5 5.6 .5-2.5 .5 .5 .5-3.4 .5 3.3 .5-4.6 .5-.6 .5-.3 .5 2.9 .5-1.9 .5 1.8 .5-3.1 .5-1.1 .5 5.5 .5-1.1 .5-1.1 .5 1.2 .5-3.8 .5 4 .5-.3 .5 3.3 .5-5.4 .5 2.9 .5-1.2 .5 1.5 .5 4.6 .5-.9 .5-.1 .5-3.1 .5 2.5 .5-2 .5-.3 .5-.9 .5-2.8 .5 .1 .5 2.9 .5-1.7 .5-3.6 .5 7.6 .5-3.5 .5 .5 .5 5.2 .5-2 .5 3.4 .5-4.8 .5 3.3 .5 1.4 .5-1.8 .5-.1 .5-.5 .5-2.9 .5-.7 .5-.4 .5-4.4 .5-3.7 .5 4.7 .5 1.9 .5 1.1 .5-18.6 .5 18.2 .5 0 .5 5 .5-1 .5 .6 .5 7.6 .5-9.8 .5 4 .5-6.6 .5-1.6 .5-.3 .5 8.8 .5-6.3 .5-2.1 .5-.6 .5 .8 .5 2.9 .5-2.7 .5 .7 .5-.3 .5 1.5 .5 3.1 .5-1.8 .5 4.1 .5-1.1 .5-1.8 .5-1.8 .5 1.6 .5-3.2 .5 1.5 .5 2.2 .5-3.4 .5 .7 .5-.6 .5 1.1 .5-5.3 .5 1.9 .5 6 .5-5.5 .5-.1 .5 2.2 .5-2.3 .5-3.9 .5 3.9 .5-.7 .5-2.1 .5 3.7 .5-.5 .5-.5 .5-3.2 .5-1.7 .5 4.3 .5 2 .5-2.1 .5 2.7 .5-.4 .5 3 .5 .9 .5-.1 .5-.9 .5 1.1 .5-.8 .5-6.5 .5-3.6 .5 3.7 .5 5.5 .5-4 .5-3 .5 5.4 .5-2.5 .5 .2 .5 2 .5 1 .5-2.8 .5 4 .5 .1 .5-4 .5 4.9 .5 1.3 .5-6.5 .5-3.8 .5 3 .5-.9 .5 2.9 .5-.7 .5-4.5 .5 1.3 .5 2.3 .5 3.3 .5 1.5 .5-.4 .5-.1 .5-4.2 .5 3 .5-.1 .5-1.9 .5 .5 .5 1.5 .5-.7 .5 1.2 .5 4.4 .5-3.6 .5 .8 .5-.5 .5-2.1 .5 .9 .5-4.3 .5 3 .5-.1 .5 .7 .5 2 .5-1.5 .5-.6 .5-.5 .5 2.1 .5 0 .5-.5 .5-1.1 .5 4.3 .5-2.1 .5 .4 .5-1.6 .5-.2 .5-4.4 .5 .2 .5-1.4 .5 4 .5-.3 .5-.7 .5-3.9 .5 .4 .5 5.5 .5-1.7 .5-2.1 .5 7.7 .5-1 .5-3 .5 .4 .5 2 .5-7.1 .5-.3 .5-.2 .5 3.8 .5-2.3 .5-2.9 .5 2 .5-.4 .5 2.4 .5-3.6 .5 3.6 .5-2.3 .5 1.5 .5 3.2 .5-4.4 .5 6.4 .5-.6 .5-1.7 .5 2.9 .5-.2 .5-4.9 .5-.7 .5-1.5 .5-2.3 .5-3.8 .5 5.8 .5-5.8 .5 4.8 .5 .9 .5 5.8 .5-2.1 .5-3.2 .5-.4 .5 2.4 .5-3.9 .5-3.3 .5 1.2 .5 .9 .5-1.9 .5-1.6 .5-1 .5-.5 .5 4.3 .5-1.4 .5 1.1 .5-.4 .5-2.3 .5-.6 .5 3.5 .5 .4 .5 .4 .5 0 .5-.2 .5-.9 .5 0 .5 0 .5-1.1 .5-3.6 .5-5.5 .5 3.4 .5-.8 .5-.2 .5 0 .5-6.1 .5 3.2 .5-.1 .5-.3 .5-3.1 .5 2.5 .5-.7 .5-1.1 .5-.8 .5-5.3 .5 1.7 .5-10.1 .5 9.8 .5-2.9 .5-3 .5-1.2 .5 0 .5-4.2 .5-3.6 .5-4.3 .5-5 .5-2.6 .5-1.9 .5-2 .5-4.3 .5-.1 .5-4.5 .5-5.9 .5-2.4 .5-7.3 .5-2.7 .5-7.9 .5-7 .5-5.9 .5-7.3 .5-9 .5-3.9 .5-7.6 .5-11.4 .5-6.1 .5-13.1 .5-12.9 .5-8.1 .5-12.3 .5-11.5 .5-14.2 .5-12.1 .5-13.8 .5-7.1 .5-20 .5-16.6 .5-11.8 .5-11.9 .5-15.9 .5-7.9 .5-11.9 .5-11.9 .5-5.7 .5-8 .5-4.7 .5-.5 .5-2.2 .5 1.1 .5 4.2 .5 2 .5 10 .5 11 .5 13 .5 10.3 .5 9.5 .5 16.6 .5 11.3 .5 14.6 .5 16.3 .5 15.4 .5 11.4 .5 18.7 .5 8.9 .5 16.5 .5 8 .5 14.8 .5 11 .5 8.6 .5 14.1 .5 6.4 .5 8.5 .5 5.1 .5 5.9 .5 6.8 .5 6.1 .5 7.2 .5 3.6 .5 7.3 .5 4.4 .5 4.5 .5 7.3 .5 3.2 .5 .7 .5 3.8 .5 .4 .5 10.4 .5-3.3 .5 .2 .5 4 .5 .5 .5 3.9 .5 2.9 .5 .8 .5 7.2 .5 4.3 .5-4 .5 1.6 .5 .4 .5-.1 .5-.3 .5 3.2 .5-.5 .5 2.2 .5 5.1 .5-.7 .5-.1 .5 2.6 .5-3.6 .5 3.1 .5-1.3 .5 .2 .5 8.1 .5 1.7 .5-2.6 .5 2.5 .5-1.3 .5-2.9 .5 3.6 .5-4 .5 1.3 .5 .4 .5-2.2 .5 1.3 .5-.6 .5 2.7 .5-.2 .5 1.3 .5 5.1 .5-2.3 .5 .8 .5-1.4 .5 4.9 .5-2.4 .5 .6 .5 1.6 .5-5 .5-2.9 .5 2.1 .5-1.6 .5 3.3 .5 2.6 .5 3.5 .5 .3 .5-1.3 .5-.1 .5 1 .5-3.6 .5-1.8 .5-1.3 .5 1.3 .5 4.5 .5-3.4 .5 4.5 .5-2.7 .5-.2 .5-4.9 .5 2 .5 1.2 .5 2.5 .5-3.2 .5 3.6 .5-1.4 .5-1.5 .5 2.8 .5-2.1 .5 4.9 .5-5.5 .5 5.2 .5-3.4 .5 1.3 .5 .2 .5-3.9 .5 9.8 .5-6.7 .5 1.2 .5-2.9 .5 .5 .5 .4 .5 1.5 .5 .6 .5-2.2 .5 3.9 .5-5.2 .5 3.5 .5-2.2 .5 3.2 .5-3.7 .5 1.3 .5-2 .5-.5 .5 4.7 .5 0 .5 1.1 .5-1.7 .5 5.7 .5-4.6 .5 .3 .5 1.5 .5-2.3 .5 .9 .5-3 .5 5.2 .5-3.6 .5 3.4 .5-2.5 .5 4.6 .5-2.6 .5-2.7 .5 1.4 .5 .4 .5-4.2 .5-2.3 .5 1.3 .5 .7 .5-.9 .5 2.3 .5-2.1 .5 .2 .5 5.3 .5-4.6 .5 1.1 .5 .8 .5-1.1 .5-2.1 .5-1.7 .5 .3 .5 3.9 .5-2.9 .5 7.2 .5-4.1 .5 1.6 .5 .3 .5 4.5 .5-4.9 .5-.1 .5 1.5 .5 2.4 .5-4.9 .5 1.5 .5 1 .5-1.8 .5-6 .5 8.5 .5-2 .5-1 .5-1.6 .5 4 .5-.2 .5-3.9 .5 1.3 .5-2.1 .5 5 .5-1.9 .5-1.8 .5 2.2 .5 3.1 .5-2.1 .5 4.7 .5-1.9 .5-3.1 .5-.4 .5 .5 .5-1.5 .5 3.4 .5-2.8 .5-4.5 .5-3.5 .5 3.3 .5 2.9 .5 .5 .5-3.5 .5 1.7 .5 6 .5-1.9 .5-2.3 .5-.1 .5 3.7 .5-.8 .5-1.3 .5 3.3 .5 .9 .5-2.4 .5-4.6 .5-.7 .5 .4 .5 2.7 .5 1.3 .5-1.8 .5-1.9 .5-1.3 .5 5.1 .5-.9 .5 4.8 .5 1.4 .5-3.7 .5 3 .5-.2 .5 2.2 .5-7.3 .5 4.5 .5-4.6 .5 2.7 .5-2.4 .5-2.8 .5 3.5 .5 1.5 .5-.5 .5 1.2 .5-2 .5 5.3 .5-7 .5 1.8 .5 1.6 .5-3.7 .5 .1 .5 .9 .5-2.5 .5 3.2 .5-1 .5-3.8 .5-4.7 .5 .8 .5 1 .5 1.5 .5-1 .5-2 .5 4.5 .5 1.5 .5-.5 .5 1 .5 1.9 .5-2.8 .5 1.6 .5 1.4 .5 1.9 .5-7.2 .5 3.1 .5-.9 .5-.5 .5-2.4 .5 .1 .5 0 .5 2 .5 2 .5 0 .5 3 .5-2.2 .5-1.5 .5 .7 .5 1.2 .5 2.2 .5-.1 .5-.6 .5-.9 .5-1.9 .5 .2 .5 .2 .5-.5 .5 4.4 .5-1.8 .5-1.9 .5-.9 .5 2.8 .5-.1 .5-4.2 .5 .7 .5 .1 .5 1.2 .5 1.5 .5-1.5 .5 .1 .5 .2 .5-.5 .5 1.2 .5-2.8 .5 2.8 .5-1.9 .5 .1 .5 3.2 .5-1.7 .5-2.2 .5-1.7 .5-.1 .5-1 .5 4.1 .5 2.3 .5-.1 .5 3.9 .5-1.9 .5 1.4 .5-2.9 .5 1.1 .5-.7 .5-4.7 .5 2 .5-2.6 .5 4.8 .5 .4 .5 .7 .5-2.3 .5 2.7 .5-4.3 .5 1.2 .5 1.9 .5 1.7 .5-.7 .5 .3 .5 .3 .5 3.9 .5-3.5 .5-1.3 .5-4.9 .5 2.9 .5-1.7 .5 3.4 .5-.7 .5 3 .5 1.8 .5-1.5 .5 2.1 .5-3.9 .5 2 .5-2.5 .5 1.8 .5-1.6 .5-3.8 .5 3 .5-3.6 .5 4.9 .5 .5 .5-5.7 .5 7.3 .5-3 .5-2.7 .5-.5 .5 3.7 .5-6.9 .5 5.2 .5 2.8 .5-5.8 .5 3.2 .5-1 .5-1.6 .5 3.3 .5-.4 .5-.8 .5-1.2 .5 5.6 .5-4.4 .5 3.4 .5 3.9 .5-2.2 .5-1.3 .5-1.9 .5 .1 .5-1.2 .5 1.7 .5-2.9 .5 6.3 .5-8.3 .5 1.6 .5-3.9 .5 4.3 .5-.4 .5-.9 .5-1.4 .5 1 .5-1.5 .5 2.1 .5-2.1 .5-3.3 .5 4 .5 2.1 .5 5 .5-3.8 .5-.6 .5 2.8 .5-3 .5 5.6 .5-4.7 .5-.9 .5-4 .5 2.3 .5 .3 .5-4.5 .5 7 .5-3.1 .5-.6 .5 3.4 .5 2.3 .5-.2 .5 2 .5 1.1 .5-2.1 .5-.1 .5-7.7 .5 2.3 .5 1 .5-1.7 .5-2.9 .5 .7 .5 2.5 .5 2.2 .5-4.5 .5 4.6 .5 .1 .5-2.2 .5 2 .5-3.2 .5 2.6 .5-1.3 .5 .9 .5-4.5 .5 7.8 .5-2.2 .5 1.9 .5 .1 .5 1.7 .5-.5 .5-3.8 .5-.5 .5 4 .5 .8 .5-1.9 .5-4.7 .5 3.5 .5 4.3 .5-6.2 .5 2 .5-1.8 .5 .4 .5 4 .5-4.1 .5 1.5 .5 3.4 .5 3.1 .5-3 .5-1.3 .5-5.3 .5 1.6 .5-1.1 .5-1.4 .5 .9 .5-1.3 .5 .8 .5-.3 .5 5.9 .5-2 .5 2.4 .5-4.5 .5 1.1 .5 3.1 .5-3.9 .5 4.5 .5-2.6 .5-2.4 .5-1.2 .5 3.1 .5-2 .5-2.2 .5 6.1 .5-.7 .5 .9 .5-6.5 .5 5 .5-.6 .5 2.2 .5-.7 .5 1 .5-1.1 .5-.5 .5-3.7 .5 4.7 .5-2.6 .5 .6 .5 1.7 .5-3.9 .5-2.4 .5 5.7 .5-7.8 .5 5 .5-.3 .5 5.5 .5-5 .5 .9 .5 .7 .5-1.6 .5 1.9 .5-1.7 .5 1.1 .5 .1 .5-2.8 .5-.3 .5 .9 .5 2.1 .5 2.4 .5-1.6 .5 0 .5 .9 .5-4.3 .5 .5 .5 1.7 .5-1.9 .5-2 .5-2 .5 7 .5-2.9 .5-1.8 .5-1.1 .5 2.1 .5 3.4 .5-.6 .5-.6 .5 1.6 .5 0 .5-.3 .5-9 .5 4.5 .5 0 .5-2.2 .5 1.7 .5 1.1 .5 .2 .5 3.1 .5-.2 .5-2.7 .5 .1 .5 2.6 .5-6.6 .5 3 .5 2.1 .5-4.8 .5 .4 .5 1.1 .5 3.4 .5-3.3 .5 3.1 .5 1.9 .5 1.4 .5 .3 .5-3.8 .5 5.2 .5-2.2 .5-2.2 .5 .6 .5 3.1 .5-1.8 .5 0 .5 1.4 .5-3.1 .5-2.2 .5 2 .5-.9 .5 2 .5 2.7 .5-2.5 .5 4.8 .5-6.5 .5 3.2 .5-4.2 .5 6.5 .5-1.2 .5-1.7 .5-.8 .5 2.5 .5-.7 .5-3.6 .5 2.9 .5-3.4 .5-1.2 .5 7.2 .5-1.5 .5-3.5 .5 2 .5 5.2 .5-4.4 .5-4.1 .5 6.3 .5-6.9 .5-2.4 .5 3.5 .5 1.3 .5-1.6 .5 6.2 .5-3.9 .5-1.7 .5 1.5 .5 2.1 .5-8 .5 2.5 .5-1.7 .5 2.8 .5-1.5 .5-1.9 .5 6.3 .5 .6 .5 2.4 .5-4.9 .5-.2 .5 2 .5-3.4 .5 0 .5-4.2 .5 7.1 .5-2.2 .5 2.4 .5-4.2 .5 2.9 .5 2.8 .5-4.2 .5 .8 .5 1.8 .5-2.1 .5 1.4 .5 3.4 .5-1.3 .5-3.7 .5-.2 .5 2 .5 .6 .5-.8 .5 1.6 .5 2.9 .5-3.6 .5 3 .5-5 .5 1.5 .5-.5 .5 1.8 .5-1.6 .5 .7 .5-1.2 .5 .5 .5-5.7 .5 5.1 .5-5.9 .5 1.8 .5 3.1 .5-4.9 .5 1.8 .5 2.9 .5-1.4 .5 2.1 .5 1.7 .5-1.1 .5-.9 .5 .4 .5-2.1 .5-3.3 .5 .3 .5-.3 .5 2 .5-1.5 .5 2.2 .5 .4 .5-1.7 .5-.2 .5 1.4 .5 .9 .5-1.4 .5-.1 .5 .5 .5 4 .5-3.2 .5 3.4 .5-1.8 .5 .7 .5 .8 .5-2.5 .5 1.4 .5-2.2 .5 .9 .5-3.1 .5-.7 .5-.9 .5 .8 .5 5.3 .5-5.9 .5 .9 .5 6 .5-5.2 .5-2.3 .5-.5 .5-1 .5 .9 .5-.2 .5-5.9 .5 2.2 .5-3.6 .5 2.4 .5-3.2 .5-.6 .5-.5 .5 3.6 .5-8.4 .5 3.3 .5 .2 .5-2.2 .5 3.4 .5-7.3 .5 3.2 .5-1.8 .5-.5 .5 3.1 .5-4.1 .5-4.6 .5 2.4 .5-4.6 .5-4.6 .5-4.5 .5 1.7 .5-7.1 .5-2.3 .5-3 .5-4.5 .5-3.7 .5-1.2 .5-8.4 .5-3.5 .5-8.1 .5-4.9 .5-10.9 .5-6.6 .5-7.6 .5-6.6 .5-11.9 .5-7 .5-10.9 .5-8.7 .5-15.3 .5-6.8 .5-11.9 .5-8.4 .5-6.4 .5-2.6 .5-8 .5-2 .5 3.8 .5-3.5 .5 3.4 .5 1.1 .5 1.5 .5 8.1 .5 5.3 .5 11.7 .5 10.1 .5 8.4 .5 10.4 .5 9.5 .5 7.3 .5 9 .5 14.1 .5 8.3 .5 6.4 .5 6.2 .5 11.4 .5 9 .5 3.2 .5 7.3 .5 1.6 .5 13.4 .5-2 .5 4 .5 10.1 .5-.7 .5 .8 .5 .5 .5 2.3 .5 .3 .5 2.7 .5 4.4 .5-2.6 .5 5.8 .5 5.2 .5-.6 .5 2.5 .5 1.1 .5 .6 .5 2 .5-.8 .5 1.9 .5 3.1 .5-3.2 .5 2.1 .5 2.1 .5 2.1 .5-1.1 .5-5.6 .5 4.6 .5-3.8 .5 1.2 .5 .2 .5 2.5 .5-.4 .5-.7 .5 1.6 .5-5.5 .5 4.5 .5-1.3 .5-1.8 .5 2.6 .5 6.5 .5-.6 .5 .3 .5 7.2 .5-7.6 .5 3.8 .5 2.1 .5-.3 .5 4.2 .5-6.9 .5-2.8 .5 3.1 .5-3.9 .5 2.1 .5 4.2 .5-4.3 .5 4.7 .5-1 .5-5.8 .5-.2 .5 1.1 .5 0 .5 3.1 .5-5.1 .5 2.4 .5 .8 .5-7.6 .5 7.2 .5 .5 .5-4.4 .5 3.9 .5 2.3 .5-3.3 .5 4.2 .5 1.4 .5-1.3 .5-1.5 .5-2.7 .5-1.4 .5 5.4 .5-4.5 .5 4.8 .5 .2 .5 4.7 .5-9 .5 1.9 .5 1 .5-1.2 .5-3.5 .5 .9 .5 5.3 .5-7.8 .5-.2 .5-.7 .5 .3 .5-1.2 .5 4.1 .5-5.1 .5 6.1 .5 3.3 .5-.4 .5 4.6 .5-3.2 .5 .8 .5-.1 .5-4.7 .5 .5 .5 2.4 .5-.7 .5-1.7 .5-3.3 .5 6.1 .5 1.4 .5 .2 .5 4.7 .5-2.2 .5-2.1 .5-.3 .5-.9 .5 2.4 .5-3.1 .5-2.8 .5-2.3 .5 4.1 .5 3.4 .5-.2 .5-.9 .5-5.4 .5 6.7 .5-3.2 .5 2.5 .5-2.6 .5 .3 .5-1.9 .5 .7 .5 1.2 .5 .4 .5-.7 .5-5.2 .5 3.4 .5 2.6 .5 .2 .5-.9 .5 2.3 .5 1.8 .5-5.4 .5 3.3 .5-1.2 .5-.3 .5 1.1 .5 .1 .5 4.9 .5-5.9 .5 .2 .5 0 .5-1.2 .5-5 .5 1.1 .5 1.9 .5-1.8 .5 3.8 .5-1.2 .5-1.4 .5-1.2 .5-.3 .5-2.5 .5 4 .5-3.1 .5 4.6 .5-1.4 .5 4.8 .5-3 .5 5.3 .5-2.8 .5 7.3 .5-8.1 .5 3 .5-2 .5-.8 .5 3 .5-3.4 .5-.5 .5-1.1 .5 3.2 .5-2 .5-1.4 .5-2.1 .5 1 .5 4.1 .5-4.4 .5-1.3 .5 2.4 .5 2.9 .5 1.3 .5-1.3 .5-5.2 .5 4.3 .5 2 .5-7.7 .5 3.2 .5-1.2 .5 .5 .5-3.5 .5 2.7 .5 .1 .5-.3 .5-5.7 .5 .7 .5 4.3 .5 .9 .5 0 .5-.2 .5 4.4 .5-4.1 .5 2.6 .5 5.4 .5-4.4 .5-2.6 .5-6.5 .5 1 .5 2.5 .5 2.7 .5-2.1 .5 .2 .5 1.8 .5-.2 .5-.3 .5 3.1 .5 1.3 .5-3.3 .5 2.6 .5-3.3 .5-4.4 .5 1.3 .5 2.5 .5-2.6 .5 .5 .5-.8 .5-2.1 .5 2.5 .5 .4 .5-7.1 .5 4.3 .5-3.4 .5 .6 .5 1.7 .5-2.2 .5-.4 .5-1.5 .5-3.6 .5 .6 .5-5.5 .5 2.7 .5-4.1 .5-.5 .5 4.9 .5-6 .5 4.9 .5-2.1 .5 1 .5-1.2 .5-.2 .5 2.3 .5-2.4 .5 4.1 .5-2.4 .5 2.5 .5-.8 .5-2.4 .5-.1 .5 2.2 .5-.2 .5 1.2 .5 3.9 .5-.2 .5 2.8 .5 1.8 .5-.8 .5-.2 .5-2.3 .5 2.4 .5 2.1 .5 6.2 .5-1.5 .5-2.2 .5 .2 .5 1.3 .5 2.4 .5 1.6 .5-.1 .5-2.9 .5 .4 .5-2.5 .5 5.2 .5-2.2 .5 2.2 .5-1.2 .5-.7 .5 1.4 .5-4.1 .5 5 .5-4.3 .5 1.9 .5 .8 .5-2.7 .5 3.9 .5-1.6 .5 .7 .5-1.3 .5 4.6 .5-1.8 .5 1.6 .5 4.6 .5 2.2 .5 .6 .5-2.5 .5 .7 .5-3.8 .5 .7 .5 .4 .5 .3 .5 .5 .5 .1 .5-1.5 .5-2.3 .5 .2 .5-1.6 .5-2.9 .5 .1 .5 4.1 .5 3.7 .5-3.8 .5 4.2 .5-.6 .5-1 .5-2.3 .5 2.9 .5-4.8 .5-3.9 .5-3.3 .5 4.1 .5-.9 .5-.1 .5 3.4 .5 1.6 .5-1.8 .5-.5 .5 3 .5 .2 .5 1 .5 .3 .5 .8 .5-3.4 .5 .6 .5 2 .5-1 .5-1.2 .5-1.8 .5-2.4 .5-.1 .5 3.4 .5-.6 .5 .9 .5-2.8 .5-1.5 .5 4.4 .5-5 .5-3.5 .5 6.2 .5-5.5 .5 1.7 .5 4.2 .5 1.3 .5-5.7 .5 4.3 .5 1.7 .5-2.7 .5 3.5 .5 0 .5-4.9 .5 5.6 .5 .6 .5 4.1 .5-.7 .5-3.6 .5 1.1 .5-2.1 .5-.8 .5 .4 .5 0 .5 2.7 .5-7.6 .5 1.6 .5-5.4 .5 5.5 .5-.1 .5 .7 .5 1.4 .5-2.7 .5-.7 .5 .1 .5 .7 .5 .5 .5-4.9 .5-.7 .5 2.3 .5 .4 .5-2.1 .5-.8 .5-4.5 .5 3.1 .5-3.5 .5 2.1 .5-2.5 .5-6 .5 7.3 .5-1.3 .5 3.1 .5-2.6 .5 1.7 .5-.5 .5-5.4 .5-1.9 .5-2.6 .5 1.6 .5-1.8 .5-5.8 .5 4.4 .5-7.5 .5-2.3 .5 .8 .5-2.1 .5-2.9 .5-8.2 .5-3.4 .5-1.2 .5-3.3 .5-7 .5-1.2 .5-4.9 .5-.7 .5-8.4 .5-4.1 .5-3.3 .5-3.2 .5-6.9 .5-5.2 .5-4.2 .5-3.2 .5-1.9 .5-6.5 .5-4.1 .5 1.6 .5 .3 .5-5.6 .5 3.5 .5 5.7 .5-4.4 .5 2.9 .5 4 .5 1.9 .5 7.6 .5 5.4 .5 7.5 .5-.7 .5 7.6 .5 1.7 .5 2.4 .5 8.6 .5-3.2 .5 5.6 .5-1.6 .5 8.9 .5 .1 .5 3.3 .5 8 .5 3 .5 3 .5 5.3 .5 3.1 .5 4.6 .5-4.7 .5 3.9 .5 2.9 .5 6.9 .5-4.4 .5 4.4 .5 .2 .5 1 .5-.3 .5 4 .5 1.3 .5-2.5 .5 .7 .5 2 .5-5 .5 3 .5 6.5 .5 1.8 .5-.7 .5-3.4 .5-1.5 .5-1.4 .5 5.3 .5 4.1 .5 .6 .5 1.7 .5 3.1 .5-1.6 .5 4.4 .5-3.3 .5-2.1 .5 1 .5-1.9 .5-1.6 .5 .6 .5-.3 .5-.1 .5 1.1 .5-3.6 .5 .4 .5 1.8 .5-4.1 .5 2.4 .5 7.3 .5-8.7 .5 5.3 .5 3.5 .5-2 .5 1.5 .5 .4 .5-3.8 .5-.1 .5 1.3 .5-.4 .5 .8 .5-2.9 .5 2 .5-.5 .5 3.1 .5-.4 .5-1.4 .5 3.1 .5-.2 .5-3.1 .5 1.9 .5-2.6 .5 .2 .5-3.3 .5 3.9 .5-3 .5 3.6 .5-.4 .5 1.3 .5-.4 .5 1.4 .5 1.1 .5 .1 .5-5 .5 1.1 .5-3.2 .5 0 .5 5 .5-6.5 .5 4.2 .5 1.4 .5-1.7 .5-1.8 .5 4 .5-5.6 .5 1.9 .5-2.3 .5-.5 .5-1.1 .5-1.9 .5 .3 .5 4.2 .5-5.5 .5 4.7 .5-.9 .5-1.6 .5 2.9 .5-.1 .5 3.4 .5-4.3 .5 .5 .5 2.2 .5 .4 .5 2.9 .5-8 .5 .9 .5-3.1 .5-2.2 .5-1 .5-.5 .5 .6 .5 2.8 .5 4.3 .5-1.3 .5 0 .5 .4 .5-3.3 .5-4.3 .5-1.6 .5-1.4 .5-1.8 .5 3.9 .5-5.2 .5-3.2 .5 3.2 .5-.7 .5 .1 .5-3.1 .5-.8 .5 .2 .5-4.1 .5-2 .5-2.9 .5-2.5 .5-.2 .5-4.9 .5-1.4 .5-2 .5-1.6 .5-3 .5-.9 .5-1.8 .5-7.5 .5 1.9 .5-5.8 .5-3.5 .5-1.2 .5-1.3 .5-2.2 .5 1.4 .5-4.6 .5 2.1 .5-1.6 .5 1.6 .5-3.7 .5 2.6 .5-.6 .5-2.2 .5 6.6 .5 .9 .5 6.5 .5-1.5 .5 2.2 .5 2.4 .5-.6 .5 .4 .5 3.6 .5 2.4 .5 1.9 .5 5.7 .5 3 .5 .6 .5 .1 .5 7.1 .5 3.6 .5-1.8 .5-.9 .5 1.5 .5 1.2 .5 1.9 .5-1.2 .5 2.6 .5-3.2 .5-.1 .5 1.6 .5-1.2 .5 .6 .5 8.4 .5 .8 .5 3.1 .5 2.3 .5-1.3 .5-3 .5-3.3 .5-2 .5 4.3 .5-6 .5 2.2 .5-3.2 .5 3.5 .5-3.6 .5-2.2 .5-1.7 .5 2.4 .5-2.9 .5-.8 .5-2.2 .5-4.8 .5 6.1 .5-3.3 .5-2.3 .5-.1 .5-.3 .5-6.3 .5 .6 .5-.6 .5 1.1 .5-2.7 .5-2 .5 2.7 .5-2.1 .5 3.7 .5 2.2 .5-.4 .5 3.4 .5 2.5 .5-3 .5 .1 .5-.2 .5 9 .5-3.8 .5 3.1 .5 3.7 .5 1.9 .5 1.9 .5 2.5 .5 1.8 .5 3.4 .5-3 .5 4 .5-2.3 .5 3 .5-.6 .5 .5 .5-.1 .5-1.3 .5 7.3 .5-4.2 .5 5.6 .5-3.9 .5 8.3 .5-.6 .5 .1 .5 4.8 .5-3.7 .5-.6 .5-.9 .5 1.5 .5 2.7 .5 2.8 .5-1.5 .5 .4 .5 .1 .5-3.3 .5 .2 .5 2.1 .5-3.3 .5-4.8 .5 1.2 .5 2.3 .5 2.5 .5-1.7 .5 4.3 .5-.6 .5-4.5 .5 5.3 .5-6.8 .5 3 .5-1.7 .5 2.1 .5 3.8 .5-3.6 .5 3.1 .5-.7 .5-1.2 .5-.4 .5-1.2 .5-2.1 .5 3.9 .5-6.7 .5 8.7 .5-1.1 .5 1.3 .5 2.2 .5-2 .5 2.7 .5-1.4 .5-6.1 .5 5.7 .5-6.7 .5 7 .5-4.9 .5 .3 .5-1.1 .5 6.5 .5 .1 .5-4.8 .5 .4 .5 1.3 .5 3.6 .5-.8 .5 1.6 .5 3.1 .5-4.6 .5 4 .5 0 .5-3.5 .5 0 .5-2.5 .5 2.1 .5 .2 .5-.2 .5-3 .5 2.6 .5-4.3 .5-.2 .5 4.1 .5 0 .5-3.4 .5 3 .5 0 .5-4.4 .5 1.2 .5 1.6 .5 5.1 .5-4.4 .5 3.4 .5-4.7 .5-.4 .5-2.3 .5 7.9 .5-1.8 .5 .8 .5 .4 .5-.1 .5-1.8 .5 .5 .5 .8 .5-1.3 .5-3.5 .5 2.9 .5 4 .5 0 .5 .3 .5 1.1 .5-2.5 .5 .7 .5 4.6 .5-1 .5-2.8 .5-.5 .5-.2 .5-6.7 .5 4.4 .5-5.7 .5 .8 .5 4.8 .5-1.6 .5-2 .5 1.7 .5-1.5 .5-1.4 .5-1.6 .5 1.5 .5-1.2 .5 2.8 .5 2.5 .5-.7 .5 1.8 .5-4.3 .5 4.9 .5-1.4 .5 .3 .5-1.7 .5-2.2 .5 4.8 .5-2.3 .5 0 .5 .2 .5 1.7 .5-4.1 .5 3.6 .5-7.8 .5 .6 .5-.7 .5-1.5 .5 4.5 .5 1.7 .5 2.9 .5-5.9 .5 1.3 .5 3.5 .5 2.1 .5-1.9 .5 1.1 .5 3.7 .5-5.2 .5 4.4 .5-2.3 .5 5.3 .5-1.3 .5-2 .5 3.3 .5-5.6 .5 7.6 .5-4 .5 1.4 .5-3.8 .5-3.2 .5 3.2 .5 2.4 .5-1.7 .5 6.7 .5-1.1 .5-.6 .5-7.3 .5 4.6 .5-6.9 .5 4.3 .5-.8 .5 1.1 .5-1.6 .5 3.8 .5 .1 .5-.3 .5-1.3 .5 0 .5-3.7 .5 1.1 .5-3.7 .5 3 .5-2.5 .5 7.7 .5-2.1 .5 .8 .5-4.8 .5 1.2 .5 0 .5-1.2 .5 .6 .5-5.7 .5 .3 .5 5.4 .5 2.1 .5-1.9 .5-.1 .5 3.7 .5-1.3 .5-.2 .5-1.2 .5-2.1 .5 3 .5 1.6 .5-8.1 .5 5.2 .5-2.2 .5 1.5 .5-1.8 .5-1 .5 .6 .5-6 .5 3.8 .5 2.1 .5-.6 .5 .5 .5 .8 .5-2.6 .5 .3 .5 2.9 .5 .1 .5 3.9 .5-2.8 .5 2.2 .5 2.2 .5-.5 .5-3.5 .5 5.1 .5-.5 .5-3.3 .5-.9 .5 .6 .5 1.3 .5-1.5 .5-6.2 .5 6.2 .5-4.3 .5-2.3 .5 .1 .5-2.8 .5 5.3 .5 3.3 .5 1.9 .5-.3 .5-3.3 .5 5.3 .5-3.1 .5 1.9 .5-1.9 .5-4.4 .5 3.9 .5-.4 .5 2 .5 2.2 .5-1.6 .5-1.2 .5-1.5 .5 3.6 .5-3.9 .5-2.7 .5 5.5 .5-.6 .5 3.4 .5 2.5 .5 2 .5-1.4 .5-2.3 .5 6.3 .5-7.5 .5 1.6 .5-3 .5-2.6 .5 1.3 .5-3.8 .5 2.1 .5 3.1 .5-2.9 .5 4 .5-5.2 .5-.3 .5-1 .5-4.8 .5 2 .5 2.3 .5-.6 .5 1.9 .5 .5 .5 2.5 .5-3.3 .5-3.4 .5-.6 .5 .4 .5 2.7 .5-.5 .5 4 .5-2.5 .5-4.4 .5-.4 .5 4.4 .5 1.3 .5 4.2 .5-2.3 .5 2.6 .5-4.9 .5 3.7 .5 1.4 .5 3.1 .5-6.6 .5 2.9 .5-4 .5 3.5 .5 2.2 .5-1.8 .5-.8 .5 1.4 .5-6 .5-3.2 .5 4.2 .5 3.4 .5-5.4 .5 3.6 .5 3 .5 4.2 .5-4.1 .5 7.9 .5-7.9 .5 2.5 .5 2.2 .5-3.7 .5-2.4 .5-4.7 .5 1.9 .5 3.4 .5 .4 .5-1.8 .5 1.5 .5-3.5 .5 5.2 .5-3.7 .5 1 .5-2 .5 3.3 .5-3.3 .5 3.2 .5-3.9 .5-2.6 .5 2.5 .5 .7 .5 1.4 .5 3.3 .5-.8 .5-.6 .5 1.1 .5-4.8 .5 6 .5-1.7 .5-.1 .5-.7 .5 2 .5 .1 .5-1.4 .5-2.5 .5 .6 .5-5.8 .5 2.5 .5-2 .5 4.8 .5-1.7 .5 1.7 .5-.5 .5-2.8 .5 2 .5 1.4 .5 1.2 .5 3.8 .5-3.1 .5 1 .5-5.3 .5 4.8 .5-2 .5-.2 .5 .2 .5-4.2 .5 4.2 .5-3.3 .5 6 .5-1.7 .5-3.9 .5 4.5 .5-.8 .5-.1 .5 .8 .5 6.2 .5-1.5 .5-4.4 .5 1.8 .5 2.9 .5-1.2 .5-7.2 .5 1.9 .5-2 .5-.5 .5 .4 .5-2.1 .5 .4 .5 2.7 .5 .7 .5 2.5 .5-4 .5 5.9 .5-4.3 .5-2 .5-2.1 .5 1.3 .5-1.6 .5 1.4 .5 1.8 .5-1.3 .5-1.1 .5 1.4 .5 4.2 .5-2.9 .5-3.2 .5 1.2 .5-3 .5 2.3 .5 .3 .5 6.8 .5-9.3 .5 7 .5-1.7 .5 1.8 .5 0 .5-3.1 .5 4.8 .5-4.6 .5 2.7 .5-2.8 .5-.7 .5 1.8 .5 .8 .5 .1 .5 .4 .5-1.4 .5 .8 .5 2.4 .5-4.6 .5 7 .5-5.2 .5 3.3 .5-4.9 .5-1.5 .5 1.3 .5-3.4 .5-2.5 .5 8.7 .5 .8 .5 0 .5-5.1 .5 2.4 .5 1.8 .5-2 .5-1.9 .5 1.7 .5-1.7 .5-1.1 .5-1.2 .5-1.2 .5 3.2 .5 .1 .5 3.4 .5-1.2 .5 .4 .5 .7 .5-1.7 .5 1.8 .5-6 .5 1.3 .5-1.7 .5 5.8 .5 0 .5 .1 .5 1.2 .5-5.2 .5 .2 .5 1.1 .5-5.6 .5 3.7 .5-.8 .5 .1 .5 4.7 .5-4.6 .5 1.1 .5 4.9 .5-5.5 .5 4.3 .5 0 .5-4.8 .5 6.4 .5 2.3 .5-6.1 .5 .7 .5 1.8 .5-3.4 .5 5.8 .5-.7 .5-3.3 .5 3.3 .5 .4 .5-1.8 .5 1 .5-.7 .5-3.4 .5 .2 .5-.5 .5 2.4 .5-.8 .5 .6 .5-.6 .5 2.3 .5-.7 .5 .6 .5-3 .5-.7 .5 .6 .5 .5 .5-1.5 .5-2.8 .5 1.1 .5-2.7 .5 1.6 .5-3.2 .5-1.3 .5 2.8 .5-5.7 .5 2.3 .5-1.4 .5 .1 .5-4.1 .5 3.2 .5-1.5 .5 1.5 .5 1.5 .5-.6 .5 .7 .5-.7 .5-3 .5 3 .5-1.1 .5-2.1 .5-.5 .5 2.4 .5 .3 .5 1 .5-5.1 .5 2.2 .5-.5 .5-1.8 .5 3.8 .5-1.2 .5 .5 .5 2.5 .5-1.4 .5-3.1 .5 2 .5 .9 .5 4 .5-1.6 .5-2 .5 4 .5-.3 .5-.2 .5-2.3 .5 8.8 .5-5.2 .5 0 .5 2.1 .5-4 .5 6.7 .5 1 .5-2 .5-.9 .5 4.6 .5-.9 .5 2.6 .5-4 .5 6 .5-3.6 .5 7.2 .5-4.3 .5-.5 .5 2.7 .5-2 .5-1.3 .5 1 .5-.5 .5-2 .5-2.3 .5-1 .5 1.9 .5-3.3 .5 2 .5-5.6 .5 5.2 .5-.2 .5 3.3 .5-4.8 .5 4.1 .5-.8 .5-1.2 .5 2.1 .5-2.2 .5 .6 .5 .5 .5 1.2 .5 2.1 .5-1.3 .5 2.3 .5-5.8 .5 3.3 .5-8.5 .5 6 .5 1.9 .5-3 .5 4.2 .5 2.3 .5 .8 .5-3.6 .5 4.1 .5 .2 .5-2.8 .5-1.8 .5 4.5 .5-2.6 .5-1.9 .5-1.6 .5-1.2 .5 3.7 .5-2.7 .5 3.7 .5-4.6 .5 3 .5-1.8 .5-.8 .5 2.9 .5 1.1 .5 2.4 .5 .5 .5-1.6 .5-.2 .5-1.9 .5 4.8 .5-.5 .5-7 .5 3.1 .5 1.7 .5-3.9 .5 3.3 .5 1.4 .5 2 .5-4.4 .5-.2 .5-1.9 .5 2.7 .5 .5 .5-1.4 .5-.8 .5 .1 .5 .7 .5-1.8 .5-2.8 .5 .2 .5-4.2 .5 3.8 .5 1.7 .5 1.9 .5-1.9 .5 2.3 .5-1.8 .5 2.5 .5-1.1 .5 3.7 .5-.6 .5-.5 .5 3.6 .5-4.6 .5 1.9 .5-5.9 .5 .2 .5 .3 .5 .4 .5-1.1 .5 5.4 .5-2.2 .5 2.7 .5-.7 .5-.6 .5-1.7 .5 3.2 .5 .2 .5 .3 .5-5 .5 1.4 .5-3.3 .5-1.8 .5-.8 .5 6.5 .5-3.7 .5 1.4 .5 3.9 .5 2.6 .5-3.2 .5-3.7 .5 6.6 .5-3.6 .5-3 .5 5.1 .5-9.2 .5 6 .5-2.5 .5-1.8 .5 6.9 .5 3.3 .5-2.6 .5-.2 .5-3.8 .5 2.4 .5-4.9 .5 3.9 .5-7.8 .5 10 .5-5 .5 4.5 .5-5.8 .5 2.5 .5 4.6 .5-1.1 .5 .4 .5 2.1 .5-2.8 .5 1.6 .5-3.3 .5-2.9 .5-.6 .5 0 .5 0 .5-1.4 .5 2.6 .5-.8 .5 4.5 .5-3.5 .5-3.6 .5 .6 .5-.5 .5 .7 .5-1.9 .5 5.1 .5 2.9 .5-5.9 .5 2.2 .5 2.2 .5 1.1 .5 1.6 .5-2.5 .5-1.8 .5-3.7 .5 3.3 .5-.3 .5 1.6 .5 2.2 .5-2.5 .5 .8 .5 .6 .5-3 .5 3.9 .5-4 .5 .1 .5-2.6 .5 2.5 .5-1.6 .5-.8 .5-2.3 .5 .9 .5 .6 .5 2.2 .5 .6 .5-1.9 .5 3.4 .5-3.2 .5-1.3 .5 1.3 .5 2.1 .5 0 .5-.9 .5 .5 .5-.6 .5-.9 .5 1.2 .5-.6 .5-4.4 .5 6.5 .5-.3 .5 1.1 .5-6 .5-2.8 .5 1.5 .5 3.3 .5-2.1 .5 .7 .5-.8 .5 2.7 .5-4.8 .5 2.3 .5-3.5 .5-1.6 .5-.7 .5-1.6 .5 1.6 .5 4.7 .5-4.2 .5 8.4 .5-2.8 .5-3 .5-2 .5 .7 .5 .2 .5-2.9 .5 7.5 .5-2.9 .5 1 .5-2 .5 .1 .5-3.2 .5-2.8 .5-2.2 .5 6.8 .5-4.7 .5-4.7 .5 1.7 .5 .4 .5-.5 .5-2.2 .5 2.1 .5-1 .5 .6 .5-1.3 .5-1.5 .5-4.7 .5 1.4 .5-.5 .5-3.4 .5 4.4 .5-3.7 .5-2 .5 1.9 .5-3 .5-1.1 .5-1.2 .5-1.5 .5-3.2 .5-3.9 .5 .5 .5-4.4 .5-3.4 .5-1.2 .5-4.2 .5-5.8 .5 2 .5-6.2 .5-2.9 .5-2.2 .5-.4 .5-10.2 .5-8.1 .5 .1 .5-8.1 .5-5.2 .5-6.8 .5-5.9 .5-8.4 .5-4.5 .5-9.8 .5-8.8 .5-9.6 .5-8.5 .5-14.5 .5-6.7 .5-12.3 .5-14.9 .5-8 .5-20.5 .5-4.8 .5-13.6 .5-15.3 .5-5.5 .5-16.5 .5-9.7 .5-9.6 .5-7.5 .5-12.4 .5-5.2 .5-8.9 .5-.6 .5-5.9 .5 1.1 .5 3.2 .5 4 .5 9.7 .5 2.7 .5 10.4 .5 8.6 .5 9.4 .5 13.9 .5 9.6 .5 15.4 .5 11.3 .5 14.3 .5 14.1 .5 8 .5 13.2 .5 9.5 .5 12.3 .5 12.3 .5 4.9 .5 15.9 .5 6.8 .5 11.5 .5 3.8 .5 12.5 .5 .8 .5 2.2 .5 13 .5 2.1 .5 4.9 .5 13.5 .5 3.4 .5 6.5 .5 2.6 .5 4.1 .5-1.8 .5 6.6 .5-1.4 .5 4.1 .5 5.9 .5 6.8 .5 3.3 .5 3.4 .5-.3 .5 3.8 .5 1.6 .5 1.1 .5-3 .5 4.7 .5 .5 .5-1.1 .5 .4 .5-1.2 .5 1 .5 6 .5-1.2 .5 3.4 .5-.6 .5 3.2 .5 2.2 .5-.8 .5-.9 .5 4 .5-1.9 .5 2 .5 1.3 .5-1.2 .5-.6 .5 1.6 .5 5.4 .5-5.3 .5-4.1 .5 5.6 .5-2.5 .5 5.6 .5-6.8 .5 7.6 .5-2.2 .5 3.5 .5-.6 .5-1.2 .5 3.4 .5 2.6 .5-5 .5 3.5 .5-3.5 .5 4.4 .5-.8 .5-2 .5-.5 .5 0 .5 2.3 .5-3.1 .5 4.4 .5-4.2 .5 2.5 .5-.3 .5 3.6 .5-.3 .5-2 .5 3.2 .5-2.5 .5-3.2 .5 1 .5 3.1 .5 1.9 .5 2.4 .5-1.1 .5-2.2 .5 .3 .5 1.7 .5-1.3 .5-3.5 .5 6 .5-8.7 .5 9 .5-6.5 .5 1.7 .5 .7 .5 .9 .5-1.2 .5 1.2 .5-.2 .5-5 .5 2 .5 .8 .5 3.4 .5-2.1 .5 0 .5-1.4 .5 .1 .5-1 .5-.1 .5-3.3 .5 5.9 .5-2.6 .5-.9 .5 9.9 .5-7.7 .5 2.2 .5 .4 .5 2 .5-1 .5-.9 .5-10.7 .5 8 .5-7.7 .5 4.7 .5 1.6 .5-3 .5 2.2 .5 1.1 .5-1.3 .5-2.9 .5 1.7 .5 .2 .5-2 .5-.9 .5 3.8 .5-5.5 .5 5.2 .5-1.8 .5-2.3 .5 1 .5 1.3 .5-.3 .5-1.5 .5-2.9 .5 2.2 .5-3.1 .5 2 .5-5.6 .5 2.8 .5-4 .5 3.1 .5-5.2 .5-4.3 .5 3.1 .5-3.9 .5 .1 .5-3.6 .5 3 .5-2.6 .5-.9 .5-2.3 .5 .8 .5-7.8 .5 2.2 .5-9.5 .5-1 .5-1.1 .5-4.7 .5-.2 .5-6.3 .5-5.3 .5-8.8 .5 3.8 .5-6.1 .5-1.3 .5-5.8 .5-5 .5 1.9 .5-6.3 .5-5.4 .5 .5 .5-2.1 .5-.4 .5-1 .5-.3 .5 2.3 .5-.8 .5 2.2 .5-1.5 .5 2.1 .5 1.1 .5 6.1 .5 3.5 .5 5.4 .5-2.6 .5 2.7 .5 2.7 .5 .1 .5 .8 .5 4 .5 3.4 .5 2.8 .5 7 .5 2.1 .5 3.3 .5 8.6 .5 2 .5-.4 .5 6.6 .5-1 .5-.5 .5-1.5 .5 6.3 .5-1.3 .5 1.6 .5 5.5 .5 4.8 .5-3.9 .5 3.5 .5 1.5 .5-.3 .5 3.4 .5 3 .5 3.8 .5-6.2 .5 4.2 .5 .9 .5-1.2 .5-.2 .5 4.7 .5-1.3 .5 2.2 .5 2 .5 0 .5 .9 .5-.1 .5 2.7 .5-1.4 .5-4 .5 4.2 .5-3 .5 2.4 .5-1.1 .5-.9 .5-.5 .5 .7 .5 4.9 .5-3.7 .5 6.2 .5-4.6 .5 6 .5-.4 .5-2.7 .5 2.2 .5-1.7 .5 1.9 .5 .8 .5-1.9 .5 2.5 .5-.4 .5-2.1 .5 .1 .5-.6 .5 0 .5-.2 .5 4.3 .5 2.8 .5-3.1 .5-.9 .5 .9 .5 2.5 .5 .2 .5-1 .5-4.9 .5 1.7 .5-3.9 .5-1.6 .5 2.8 .5 1.4 .5 .7 .5-.5 .5-3.3 .5 4.7 .5 1.3 .5-4.4 .5-1.8 .5 5.2 .5 .9 .5 1.6 .5-2.9 .5 2.7 .5-6.5 .5 4.6 .5-5.9 .5 1.4 .5 4.7 .5-4.6 .5-3.1 .5 1.9 .5 2.7 .5-.6 .5-.7 .5-.1 .5 .4 .5 1.4 .5 .1 .5 1.8 .5-3.7 .5 1.5 .5 3.6 .5-3.1 .5 5.4 .5-3.7 .5 3.2 .5-1 .5-4.1 .5 1.4 .5-6.2 .5-1 .5 4.5 .5-.5 .5 3.6 .5-2.9 .5-1.9 .5 3 .5-2 .5 .3 .5 1.6 .5-3.7 .5-1.4 .5 6.9 .5-3.7 .5 5.8 .5-4 .5-.1 .5 1.7 .5-.5 .5-.5 .5-2.6 .5 3 .5 1.5 .5-2.6 .5-3.7 .5 5.1 .5-4.2 .5 2 .5 3.6 .5-2.3 .5 1.3 .5-2 .5 4.7 .5-3.7 .5 .7 .5 5.6 .5-4.2 .5 1.4 .5-3.7 .5 .9 .5-.7 .5 1.6 .5 2.6 .5-4 .5 1.8 .5 2 .5-.5 .5-2.8 .5-1.3 .5 .4 .5-.6 .5-3.9 .5 1.6 .5 1 .5-.8 .5 1.7 .5-.2 .5 3.1 .5 .9 .5 .3 .5 2.8 .5 .7 .5-1.8 .5 1.9 .5-2 .5-.6 .5-1.2 .5 0 .5 1.3 .5-3 .5 5.3 .5-1.7 .5-4.1 .5 2.5 .5-1.9 .5 .5 .5-3.4 .5-3.1 .5 3.3 .5 1.7 .5-.8 .5 3.6 .5-.6 .5-5.9 .5 8.1 .5 0 .5-2.9 .5 1.2 .5-2.3 .5-5.2 .5 1.8 .5 4.1 .5-4.6 .5-.5 .5-1.5 .5 2.4 .5-2.5 .5 1.3 .5-1.2 .5 1.5 .5-.8 .5 2.4 .5 2.3 .5 4.4 .5-5.8 .5-.3 .5 0 .5 3 .5 1.1 .5 1.3 .5 .5 .5 2.6 .5-3.2 .5-1.8 .5 2.1 .5-3.4 .5 1.9 .5-3.4 .5 .6 .5 3.8 .5 .5 .5-6.1 .5-1.3 .5 .8 .5 6.2 .5-4.5 .5 3.3 .5-1.8 .5 2.1 .5 .8 .5-1.4 .5-3 .5-.5 .5 3.3 .5-3 .5-1.3 .5 1.6 .5 1.8 .5 1.1 .5 3.9 .5-.4 .5-3.3 .5-1.5 .5-2.5 .5 1 .5-.7 .5 .6 .5-.9 .5 .8 .5-.4 .5 .7 .5 .6 .5 .2 .5-1.5 .5 .4 .5 2.8 .5 2.2 .5-3.1 .5-2.3 .5-.9 .5 .9 .5-3.6 .5 5.3 .5-3.1 .5 .6 .5-2.6 .5 2.5 .5 3.5 .5 2.7 .5-.7 .5-2.9 .5 2.7 .5-2 .5 0 .5 .8 .5-3 .5 3.4 .5-1.8 .5-1.1 .5 2.5 .5 .6 .5 2.2 .5 .5 .5-3 .5-1.3 .5 .6 .5-1.1 .5-.5 .5-.6 .5-1.4 .5 3.4 .5 2.3 .5-3 .5 8.7 .5-4.1 .5 1.7 .5-1.7 .5-3.9 .5 5.4 .5-1.1 .5-3.3 .5-3.6 .5 2.2 .5-1.4 .5 .1 .5 2.8 .5-1.8 .5 2.3 .5 .2 .5-.3 .5 3.8 .5-3.3 .5 0 .5-.5 .5 .3 .5-2.4 .5-3.1 .5 4.3 .5-3.5 .5 3 .5-1.4 .5-2.1 .5 2.4 .5-.7 .5 1.8 .5-6 .5 6.6 .5-3.7 .5 .9 .5-.6 .5 2.4 .5-2.4 .5-.9 .5 2.7 .5 .6 .5-2.3 .5 1.6 .5 1.7 .5 .1 .5 2.6 .5 1.2 .5-.8 .5-4.1 .5 2.1 .5-3.4 .5 1.7 .5-2.5 .5-3.2 .5 2.7 .5 3.1 .5 3.3 .5 .9 .5 .1 .5-3 .5 1 .5-3.9 .5 3.7 .5-6.5 .5 4.3 .5-1.1 .5-.4 .5 .8 .5-1.5 .5-1 .5-1.4 .5-5.5 .5 4.7 .5-.4 .5 3.9 .5 0 .5 1.3 .5 4.7 .5 2.2 .5-4 .5 .1 .5 .6 .5-6.2 .5-.8 .5 6.1 .5-5.3 .5 2 .5 2.7 .5 .7 .5-3.2 .5 2.2 .5-2.9 .5-1.2 .5 1.3 .5-5 .5 4.1 .5-.2 .5 1.2 .5 1.1 .5 .3 .5-1.2 .5 2 .5-6.6 .5 5 .5-5.7 .5 2.9 .5-1.1 .5 4.9 .5 0 .5-5.4 .5 2.4 .5 2.7 .5 .4 .5-.3 .5 .1 .5-2.8 .5-1.3 .5 2.5 .5-.7 .5 .5 .5 3.3 .5-1.8 .5-.2 .5-.5 .5 2.9 .5-2.7 .5-2.9 .5-1.3 .5 2 .5 4.1 .5-2.6 .5-3.2 .5 2.4 .5-1.2 .5-2.3 .5 5.5 .5-6 .5 3 .5 .3 .5 0 .5 .8 .5-4.7 .5 2.2 .5 2.9 .5-1.6 .5 2.4 .5 1.8 .5 1 .5-4.1 .5 2.9 .5-1.7 .5 .1 .5-3.2 .5 2.7 .5-2.3 .5-3.1 .5-1.6 .5-4.4 .5 5.4 .5 1.2 .5 .7 .5-2.7 .5 2.5 .5 2.6 .5-2.5 .5 1.1 .5 .4 .5 1.6 .5-2.8 .5 3.1 .5-.9 .5 1.9 .5-3.3 .5 4.6 .5-2.9 .5 4.1 .5-7.7 .5 5.1 .5-1.5 .5-1.2 .5-1.5 .5 2.8 .5-2.9 .5 .5 .5-1.5 .5 4.3 .5-1.9 .5-.3 .5-2.6 .5-.6 .5-1.8 .5-.6 .5-2.1 .5 3.5 .5 1.5 .5-2.6 .5 0 .5 .4 .5 1.8 .5 4.1 .5-9 .5 1.1 .5-4.5 .5 4.9 .5-.6 .5 3.8 .5-3.2 .5-1.8 .5-.8 .5-4.4 .5-1.4 .5 4.7 .5-4.3 .5-2.5 .5-.3 .5-2.3 .5-5 .5 2.8 .5-2 .5-.7 .5-2.5 .5-1.2 .5-.5 .5-1.7 .5-.4 .5-1.4 .5 .1 .5-3.7 .5-.7 .5 2.8 .5-7.5 .5-1.7 .5-.2 .5 .1 .5 0 .5 .1 .5 1.7 .5-1.1 .5 .3 .5-1.7 .5 1.1 .5-3.7 .5 .1 .5-2.6 .5 4.3 .5 1.2 .5 3.7 .5-.4 .5 3 .5-2 .5-5 .5 8.6 .5 5.8 .5-5.6 .5 3.9 .5 7.5 .5 .7 .5 5 .5-.6 .5 4.7 .5-2.5 .5-2.7 .5 2.1 .5-.8 .5 1.8 .5 3.5 .5 1.5 .5 2.3 .5-.8 .5 .5 .5-2.4 .5 1.4 .5 .1 .5 1.1 .5-.1 .5 .3 .5-.9 .5 1.9 .5-1.5 .5 5.5 .5 .2 .5 .9 .5-2.5 .5 3 .5-3.1 .5 1.4 .5 5 .5-9.5 .5 3.5 .5 0 .5-3.3 .5 2.9 .5-1.5 .5 1.8 .5 2 .5 1.4 .5-2.8 .5 2.5 .5 .6 .5 .9 .5 1.3 .5-2.9 .5-.4 .5-4.9 .5 2.4 .5-3.2 .5 1.6 .5-1.7 .5 2.3 .5-6 .5 4.3 .5 3.1 .5-2.1 .5-1.1 .5 1.5 .5 5.8 .5-7.3 .5 1.1 .5-.5 .5-3.6 .5 .5 .5 3.3 .5-1.3 .5-.9 .5-1.8 .5 1 .5 5.8 .5-3.9 .5 2.3 .5 .3 .5-2.5 .5-2.2 .5-3.2 .5-3.3 .5-5.6 .5 .9 .5-1 .5 .5 .5-3.6 .5-5.5 .5 1.6 .5-.3 .5-2.2 .5-3.6 .5-3.4 .5 3.2 .5 2.1 .5-2.9 .5-3.5 .5 5.2 .5-1.2 .5 .3 .5 1.3 .5-1.4 .5-2.2 .5 4.4 .5-2.2 .5 .7 .5 1.2 .5 3.4 .5 6.9 .5-6.6 .5 .7 .5 .9 .5 1.4 .5 1.4 .5-1.5 .5 .4 .5 4 .5-.2 .5-1.8 .5 .8 .5-1.3 .5-1.7 .5 2.9 .5 2 .5-.6 .5 6.5 .5-.4 .5-2.6 .5 .8 .5 5.4 .5-3.9 .5 2 .5 4.9 .5-1.6 .5 .8 .5 4.1 .5-3.7 .5 2 .5 .5 .5 1.6 .5 5.9 .5-2.4 .5-2.8 .5 5.6 .5-2.2 .5 6 .5-5.8 .5 3.2 .5-3.2 .5-.8 .5 5.6 .5-2.1 .5-2 .5 1.2 .5 5 .5-5.2 .5 3.1 .5-2.6 .5 4.1 .5 1.8 .5-4.9 .5 2.4 .5-4.8 .5-.2 .5 .4 .5-2.1 .5 3.2 .5-1.3 .5 2.2 .5 6 .5-4.7 .5 4.3 .5-.9 .5-1.6 .5 5.1 .5-4 .5-1.4 .5-4.5 .5 .1 .5 2.4 .5-3 .5 3.6 .5-1.2 .5 2.9 .5-1.6 .5 3.7 .5 .6 .5-1.9 .5-2.7 .5 .8 .5-2.7 .5 .3 .5 1.5 .5 2.4 .5-.7 .5 .3 .5-.8 .5 2.8 .5-1.8 .5 4.9 .5-6.2 .5 5.4 .5-2.7 .5-2.7 .5 .7 .5-2.1 .5 .8 .5 .8 .5 2.2 .5 1.8 .5-2.6 .5 1.8 .5-.9 .5-1.2 .5-1.4 .5-2.3 .5-.7 .5 1.4 .5 2.2 .5-2.8 .5 2 .5 0 .5-1.7 .5 1.8 .5-1.7 .5-.5 .5-1.9 .5-2.3 .5 5.4 .5 0 .5 1.8 .5-2.9 .5 2.4 .5-1.6 .5-1.4 .5-1.5 .5 5 .5 2.9 .5-1.8 .5 3.9 .5-10.3 .5 6.6 .5 .7 .5-4.1 .5 3.9 .5-3.3 .5 5.4 .5 .7 .5-4.7 .5 3.2 .5-1.1 .5-5 .5 3.3 .5-1.1 .5 1 .5-2.7 .5 3 .5 .9 .5 .9 .5-1.8 .5-.8 .5 4.2 .5-5.3 .5 1.9 .5-1.3 .5-1.3 .5 1.8 .5 2.5 .5-.6 .5-4.9 .5 .6 .5-2.2 .5 8.4 .5-1.2 .5 2.2 .5 1.1 .5-4.4 .5 .1 .5-1 .5 .2 .5-1.4 .5 1.4 .5-2.4 .5 2.1 .5 .3 .5-5.1 .5-.4 .5 1.8 .5 4.1 .5-.8 .5 5.3 .5-1 .5-6.9 .5 9.4 .5-4.4 .5-.7 .5 3.2 .5-3.5 .5 2.6 .5-4 .5 .9 .5-.5 .5-.8 .5-3.3 .5 5.2 .5-.8 .5 3.1 .5-1.6 .5-.2 .5 1.2 .5-1.5 .5 .5 .5-5.5 .5 1.7 .5 2 .5-.3 .5 2.1 .5-2.6 .5 5.6 .5-.4 .5-.6 .5-5.6 .5-3.5 .5 3 .5 4.1 .5-.7 .5-.6 .5 1.8 .5 .2 .5-2.2 .5 3.6 .5 5 .5-10.4 .5 1.5 .5 3.6 .5-4.5 .5 6.2 .5-1.7 .5 1 .5-.8 .5 2.7 .5-4.3 .5-2 .5 1.5 .5-1.6 .5-.7 .5 .2 .5 2 .5 .1 .5 1.4 .5 1 .5 4.4 .5-9.1 .5 3.9 .5-.9 .5-.3 .5 3 .5-2.9 .5 1.4 .5-1.4 .5 3.5 .5-4.7 .5 1.4 .5 4.1 .5-4.7 .5-.9 .5 1.2 .5 .5 .5-4.4 .5 1.8 .5-3.3 .5-.2 .5 3.8 .5-3.5"/>
<path fill="none" stroke="#8A4C4F" stroke-width="8.8" stroke-linejoin="round" stroke-linecap="butt" d="M237.00 789.5l.5 .3 .5 1.1 .5 .1 .5-3.1 .5-1 .5-4.3 .5-3.9 .5 4.4 .5 1.2 .5-1.5 .5 1 .5 1.1 .5 2.6 .5-2.3 .5-2 .5 4.4 .5-2.4 .5 3.9 .5-.3 .5 2.8 .5-2 .5 4.3 .5-2.6 .5 .2 .5-.3 .5 3.6 .5-6.7 .5-2.7 .5-1.3 .5 3.8 .5-1.7 .5 2.5 .5 .8 .5-3.4 .5 5.1 .5-1.7 .5-2.4 .5 3 .5-1.8 .5-1.3 .5-.6 .5 2.6 .5-3.4 .5-3 .5 7.3 .5-5.6 .5 1.3 .5 .8 .5-7.5 .5 1.7 .5 4 .5-2.8 .5-.4 .5 2.9 .5-1.2 .5 2.1 .5-2 .5-2.7 .5 3.9 .5-2.9 .5 1.5 .5-1.1 .5 3.6 .5-1 .5-.4 .5-2 .5 .2 .5 6.7 .5-.3 .5-2.8 .5 6.4 .5-3.8 .5-1 .5-3.3 .5 1.4 .5 2.3 .5-.1 .5-.8 .5-4.6 .5 4.6 .5 .1 .5-1 .5 1.5 .5 0 .5 1.3 .5-3.8 .5-.3 .5-5 .5 .4 .5 1.2 .5-1.6 .5 2.7 .5-2.8 .5 2.9 .5-1.2 .5 4.1 .5-4.1 .5 4.8 .5 1.2 .5-3.4 .5 2 .5-2.1 .5-4.9 .5 7 .5-1 .5-2.4 .5-1.1 .5 .9 .5-1 .5-3.1 .5 .1 .5 3.9 .5-1.5 .5 .8 .5 3.8 .5-2.3 .5 3 .5-4.4 .5 1.4 .5-.2 .5 1.4 .5-.6 .5 5.6 .5-.4 .5-2.2 .5 6.6 .5-7.3 .5 5.2 .5-7 .5 3.5 .5-3.3 .5 2.6 .5 4.8 .5-6.4 .5-1.3 .5 2 .5-1.4 .5-1.7 .5 1.3 .5-4.8 .5 4.4 .5-.7 .5 1.7 .5-.9 .5 .5 .5-6.9 .5 2.9 .5-2.4 .5 3.1 .5 2.7 .5 .1 .5 1.3 .5-1.3 .5 .7 .5-.3 .5 2.7 .5-.6 .5-4.5 .5 7.2 .5 2.4 .5-2.4 .5-2.7 .5 5.5 .5-5 .5-1.5 .5 .4 .5-7.4 .5 1.1 .5 .1 .5 2.8 .5-2.1 .5 2.8 .5-1.1 .5 1.8 .5-.3 .5-6.1 .5 5 .5-.7 .5 2.3 .5 2.3 .5 .5 .5-2.9 .5 1.5 .5-1 .5-.6 .5-2.5 .5 1.6 .5 1.2 .5 2.7 .5 2.2 .5-5.5 .5-.4 .5 2.2 .5-2.1 .5-1.1 .5-.5 .5-.4 .5 3.3 .5-4.5 .5 6.5 .5-5.1 .5 1.1 .5-.2 .5-1.5 .5 1.9 .5 7.1 .5 1.8 .5-5.9 .5 3.6 .5-3.8 .5-3.5 .5 4.8 .5 .4 .5-5.7 .5 .8 .5 1.3 .5-.4 .5 1.5 .5 .3 .5-4.3 .5 1.3 .5 1.6 .5-4.9 .5 1.4 .5-1.1 .5 3.4 .5-.8 .5 1.1 .5 .2 .5-1.9 .5 2.4 .5-3.1 .5-.6 .5-4.8 .5 7.8 .5-5.2 .5 2.7 .5 .5 .5 4.2 .5-1.6 .5-1.8 .5 3.4 .5 .9 .5 2 .5-2.8 .5 2.9 .5 5 .5-3.6 .5 2.7 .5 2.2 .5-7.9 .5-6.2 .5 1.7 .5 2.3 .5-.1 .5-3.8 .5 3.6 .5 1.2 .5 .5 .5-.4 .5-1.8 .5 1 .5 1.5 .5 4 .5-3 .5 3.3 .5-4.5 .5 4.8 .5-4 .5-1.8 .5 1.8 .5-8.2 .5 .6 .5 5.2 .5-1.8 .5 2.2 .5 8.3 .5-6.2 .5 .6 .5-.9 .5 2 .5-2.5 .5-1 .5-4.3 .5 .9 .5-.3 .5-4 .5 5.2 .5 .4 .5 4.6 .5-6.8 .5 1.9 .5 .2 .5 .7 .5 1.5 .5-.3 .5 .5 .5-1.4 .5-2.5 .5-4.9 .5 1.9 .5 2.5 .5 3.1 .5 2 .5-4.5 .5 2.1 .5 0 .5-.1 .5 1.1 .5-2.3 .5-1.3 .5 4.4 .5 .5 .5 .3 .5-1 .5 3.6 .5-3.8 .5 .6 .5-5.2 .5 3 .5-3.7 .5-2.3 .5 5 .5 2.3 .5 .2 .5 2.2 .5 3.3 .5-3.5 .5-4.3 .5 4.7 .5-.5 .5 1.9 .5-3.3 .5 3.6 .5-1.2 .5-7.1 .5 3.7 .5-5.7 .5-.9 .5 4.1 .5 .8 .5-1.9 .5 6.1 .5 1.3 .5 1.4 .5-4.4 .5-4.8 .5 .3 .5 4.1 .5-.4 .5-1 .5-2.1 .5 .9 .5-1.6 .5-1.1 .5 .7 .5-.4 .5 .7 .5 2.6 .5 .4 .5-1.8 .5 3.5 .5 .8 .5 3.2 .5-5.7 .5 5.2 .5-1 .5-5 .5 .5 .5 1.8 .5 2.9 .5-4.4 .5-.3 .5-3.3 .5-3 .5 6.4 .5 4.2 .5 2.3 .5-1.8 .5 .6 .5 2.6 .5-2.7 .5 3.2 .5-5.3 .5-.1 .5-.6 .5 2.8 .5-3.4 .5 .8 .5 .5 .5-.1 .5 1.9 .5-.4 .5-6.3 .5 1.4 .5-1.9 .5-2.4 .5 6.3 .5-1.9 .5-1.6 .5 0 .5 2.2 .5-3.4 .5 1.6 .5 2.8 .5-1.1 .5-4.3 .5 .8 .5 6.1 .5-7 .5 2.4 .5-1.5 .5 4.2 .5-.2 .5 2.3 .5-8 .5 7.3 .5-3.4 .5 6.3 .5-1.2 .5 4.6 .5-3.2 .5-3.7 .5 4.4 .5-6.3 .5 1.3 .5 3.3 .5-.9 .5 0 .5-1.4 .5 .4 .5-.5 .5-2.3 .5 1 .5 .6 .5-2.7 .5-2.1 .5 5.6 .5-3.8 .5 1.7 .5 1.1 .5-4.4 .5 2.4 .5-6.5 .5 3.8 .5-4 .5 1.4 .5 2.5 .5-.9 .5 4.4 .5 .1 .5 1.9 .5 1.8 .5-3.4 .5-1.2 .5-2.3 .5 5.1 .5-.9 .5 4.8 .5-5.5 .5 3.4 .5 .6 .5-5.2 .5-3 .5 6.4 .5-.8 .5-1.1 .5 .2 .5-4.5 .5 1.7 .5-1 .5-3.4 .5 3.6 .5-2.1 .5 3.8 .5 .9 .5 1.8 .5-8.8 .5 4.4 .5-2.4 .5-.2 .5-.8 .5 .1 .5-4.4 .5 7.5 .5 2.1 .5-.2 .5 2 .5-3.6 .5 1.4 .5 5.6 .5 1.7 .5-2.7 .5-5.3 .5 8.5 .5-9.5 .5 2.6 .5-5.3 .5 5.6 .5-1.1 .5 3.2 .5-1.8 .5-6.9 .5 .1 .5 1.9 .5 .7 .5 2.5 .5-2.8 .5 0 .5 .6 .5 0 .5 1.9 .5-3.1 .5-.7 .5-3.9 .5-2 .5 4.4 .5 1.3 .5-1.4 .5 1.4 .5 0 .5-2.3 .5 1.4 .5-5.2 .5 0 .5-2.5 .5-.4 .5 .2 .5-.7 .5-3.4 .5-1.3 .5-3.7 .5-.9 .5 2.2 .5-3.7 .5 3.3 .5-1.9 .5-1.4 .5 2.8 .5-7.4 .5-3 .5-2.3 .5-2.7 .5-3.5 .5-1.6 .5-4.6 .5-2.1 .5-4.6 .5-.4 .5-7 .5-3.4 .5-2.9 .5-3 .5-6.5 .5 .4 .5-10.6 .5-6 .5-7.2 .5-7.3 .5-4.6 .5-8 .5-9.8 .5-8 .5-8.9 .5-6.1 .5-16 .5-13.5 .5-12.5 .5-11.7 .5-9.7 .5-20.2 .5-11.6 .5-8.1 .5-20.3 .5-9.1 .5-14 .5-14.8 .5-17.1 .5-7.9 .5-11.9 .5-12.6 .5-7.6 .5-2.9 .5-5.2 .5-1.5 .5-3.1 .5-1.8 .5 3.2 .5 6.6 .5 6.2 .5 14.4 .5 9.9 .5 10.6 .5 13.2 .5 12 .5 15.5 .5 16.2 .5 13.3 .5 18.2 .5 16 .5 8.4 .5 14.1 .5 10.9 .5 16 .5 8.2 .5 11.8 .5 11.4 .5 13.9 .5 5.7 .5 6.7 .5 9.9 .5 9.7 .5 5.1 .5 3.6 .5 13.2 .5-1.9 .5 3.1 .5 4.8 .5 2.9 .5 6.4 .5 6.6 .5 4 .5 2.3 .5 6.1 .5 1.7 .5 .9 .5 .9 .5 8.4 .5 2.6 .5 1.7 .5-.9 .5 4.4 .5-3.2 .5 5.8 .5-1.9 .5 0 .5-2.1 .5-.3 .5 6.6 .5-.6 .5-1.9 .5 4.1 .5 5 .5-2.3 .5 5.1 .5 3 .5 3.9 .5-3.8 .5 1.7 .5-5 .5 3 .5-1.3 .5-2.9 .5 2.3 .5-2.7 .5 2.1 .5 4.2 .5-.9 .5 2.5 .5-2.1 .5 3.9 .5-.9 .5-4.4 .5-2.8 .5 .6 .5 5.2 .5 .3 .5-2.7 .5 4 .5 1.9 .5-3 .5-.9 .5 3.3 .5 2.7 .5 .2 .5-4.5 .5 3.6 .5-1.5 .5-.7 .5-1 .5 2.4 .5-1 .5 4.9 .5 .8 .5 3.4 .5-4.1 .5 2.8 .5 .6 .5-2.5 .5-2.1 .5-3.4 .5 4.9 .5-1.5 .5-1.7 .5-6.8 .5 4.2 .5 3.4 .5-.9 .5-2.1 .5 6 .5 .3 .5-4.2 .5 .8 .5-1.4 .5 2.4 .5-5.9 .5 .7 .5 3.3 .5 .3 .5 7.3 .5-5.3 .5 3.1 .5-.9 .5-.3 .5 2.2 .5 2.7 .5-5.4 .5 2.1 .5-1.1 .5 .7 .5-.4 .5 4.7 .5-8.4 .5 2.6 .5-1.5 .5-1.5 .5 5 .5 4.6 .5-2.2 .5 .6 .5-1.7 .5-.9 .5 5.8 .5-4.6 .5 4.7 .5-4.7 .5 0 .5-1 .5-1.8 .5 .9 .5 1.1 .5 3.9 .5-2.8 .5-3.8 .5-.2 .5 1.2 .5 .7 .5 2.2 .5-6.1 .5 2.8 .5-.5 .5 .4 .5-.5 .5 1.9 .5-.4 .5 2.1 .5-2.5 .5-7.3 .5 4.9 .5 .4 .5-1.3 .5-.1 .5 4.4 .5-2.4 .5-3.4 .5 1 .5-.1 .5-3.4 .5 5.7 .5-1.3 .5 2 .5-4.2 .5 8.8 .5-2.4 .5 .3 .5-2.3 .5 .4 .5-1.8 .5 6.8 .5-6.3 .5 1.6 .5 .3 .5-3.1 .5 3.5 .5 3 .5-4.1 .5 2.3 .5-2.5 .5-2.9 .5 0 .5-2.4 .5 5.2 .5 3.8 .5-1.5 .5 .4 .5 .4 .5-4.2 .5 2.9 .5 4 .5-5.1 .5 3 .5-.4 .5 .9 .5-1.4 .5 .8 .5-3.6 .5 1.4 .5 .1 .5 .1 .5 4.3 .5-3.2 .5-.1 .5-1.5 .5 3.3 .5-7.6 .5 3.2 .5 2.6 .5 .3 .5-4.3 .5-1.3 .5 1 .5-2.2 .5 1.7 .5-2.6 .5 3.3 .5-1.2 .5-2 .5-3.7 .5 8.4 .5-1.5 .5 .6 .5-4.2 .5 4.5 .5-1.8 .5-1.4 .5 1.8 .5-.1 .5-.6 .5 5.2 .5 .1 .5-1.3 .5-.8 .5 .8 .5 3.3 .5-3.6 .5-3.2 .5 .8 .5 2.1 .5 2.6 .5-3.3 .5 2.9 .5 1.3 .5-.9 .5-5.3 .5 3.1 .5-1.9 .5 4.2 .5-3.4 .5 2.8 .5-2.5 .5-7.7 .5 3.1 .5 2.7 .5-.9 .5-.9 .5-2.2 .5 3.9 .5 2.8 .5-3.2 .5 .3 .5 1.4 .5-1.2 .5 3.5 .5-.8 .5 4.4 .5-4.9 .5-3.1 .5 3.1 .5 1.7 .5 .8 .5-3.3 .5 6.7 .5-2.2 .5-2 .5-1.6 .5 1.9 .5-2.3 .5 1.2 .5-.8 .5 .5 .5 2 .5-3.5 .5-3.5 .5 3.2 .5-2.2 .5-1.9 .5 5 .5-1.8 .5 4 .5-4.7 .5-2.7 .5 .6 .5 5.2 .5-2.2 .5 1.6 .5 .5 .5-2.8 .5 7.3 .5-5 .5 3.5 .5-2.3 .5 3.9 .5 2.6 .5-2.3 .5-1.7 .5 .7 .5-2.7 .5 .4 .5 1.9 .5-8.7 .5-.3 .5 1.2 .5 .8 .5-1.3 .5 5 .5 2.1 .5 .3 .5-1.8 .5 7.6 .5-4.8 .5 5.1 .5 1.1 .5-6.4 .5 2.2 .5 1.9 .5-3.1 .5-3.6 .5-1 .5 3.3 .5-2.7 .5-1.8 .5 1.8 .5-3.8 .5-.5 .5 .2 .5-.5 .5-1.1 .5 .8 .5 2.4 .5 .8 .5-2.4 .5 3.2 .5-.6 .5 .6 .5 2.6 .5-3.6 .5 6.5 .5-5.7 .5 .3 .5-7.6 .5-1.6 .5 7.5 .5-2.5 .5-3.2 .5 .9 .5 1.5 .5 3.7 .5 .8 .5 1.1 .5 2.5 .5-2.6 .5 6.8 .5-8.3 .5 2.5 .5-5.7 .5 2.5 .5 1.9 .5-2.4 .5 3.9 .5 1.1 .5 2.7 .5-2.9 .5-1 .5-1.5 .5 1.8 .5-4.3 .5 .9 .5-.7 .5-1.8 .5-.5 .5 4.3 .5 .3 .5-.3 .5-1.3 .5 1.7 .5-4.8 .5 3.7 .5-1.5 .5 3.7 .5-2.4 .5 0 .5 1.7 .5-6.2 .5 3.9 .5-3.3 .5 1.7 .5 3.3 .5-1.7 .5-3 .5 .1 .5-.4 .5 .9 .5 4.5 .5-2.2 .5 6.4 .5-4.7 .5 3.5 .5 0 .5-1.5 .5-1.3 .5 4.3 .5 1.7 .5-.5 .5 3.4 .5-2.2 .5-6.5 .5 5.3 .5-5.1 .5 4.2 .5-3.9 .5 1.8 .5-.2 .5-1.3 .5-3 .5 2.6 .5-1 .5 2 .5-3.6 .5 2.8 .5 8.5 .5-6.7 .5-3.4 .5 9.1 .5-4.4 .5-3.2 .5 3 .5 1.4 .5-1.3 .5 2.2 .5-4.4 .5-6.4 .5 1.9 .5 4.2 .5-15.3 .5 12.4 .5-3.6 .5 4.4 .5 .1 .5-3 .5 .8 .5 3.4 .5 1.6 .5 .3 .5-2.8 .5 2.7 .5-7.9 .5 3 .5-2.6 .5-2.9 .5 2.1 .5 5.8 .5-4.7 .5-.8 .5 4.3 .5 .1 .5-2.1 .5 3.9 .5-6.6 .5 10.2 .5-2 .5-1.2 .5-.2 .5-2.1 .5-1.9 .5-.5 .5-4.3 .5 7.7 .5-4.5 .5 2.8 .5-1 .5 .4 .5 2.8 .5-.5 .5-3 .5 1.6 .5 3 .5-6.2 .5-.9 .5 8.7 .5-4.2 .5-4.9 .5 5 .5 2.7 .5 2.2 .5 1.7 .5-.3 .5 .8 .5-3.3 .5 2.5 .5-.2 .5 1.1 .5-3.8 .5 1.1 .5-2.2 .5-2.9 .5 2.3 .5 .5 .5 1.1 .5 1.3 .5 .9 .5 1.1 .5-1.7 .5 5.1 .5-5.5 .5 2.9 .5 .9 .5-2.1 .5-1.2 .5-3.1 .5 1.3 .5-5.1 .5 3.7 .5 2.8 .5-4 .5 3.2 .5-4.2 .5-1.7 .5 2 .5 5.5 .5-1.3 .5-6.6 .5 2.6 .5 .1 .5-2.8 .5-2.9 .5 3.6 .5 3.8 .5 .1 .5-.6 .5 2.5 .5 .6 .5-2.8 .5 2.4 .5-2 .5 0 .5-4.7 .5 8.2 .5-1.4 .5 .2 .5-1.8 .5-2.7 .5 2.1 .5-.6 .5 1.6 .5-1 .5-2.5 .5 2 .5 2.7 .5-2.2 .5-2.3 .5-2.4 .5 2.1 .5-.2 .5 5.4 .5 .5 .5-4.7 .5 10 .5-4.9 .5-3 .5-.5 .5-.3 .5-2.5 .5 0 .5 .9 .5 4.8 .5-3.9 .5 1.7 .5-.7 .5-1.5 .5-.6 .5-.4 .5 2.9 .5-4.5 .5-2.2 .5-1.2 .5-1.1 .5 3.9 .5 1.2 .5-.4 .5 7.3 .5-2.6 .5 1.7 .5-1.4 .5 1.9 .5-3.2 .5-2.7 .5-2.2 .5 .4 .5 3.2 .5 .8 .5 1.6 .5-3.1 .5 1.3 .5-2.3 .5-2.6 .5 4.8 .5 4.3 .5-.6 .5 2.3 .5 .2 .5-5.3 .5 2.7 .5 3.9 .5-5.6 .5-2 .5 3.3 .5 .3 .5-.9 .5-1.2 .5-.2 .5-1.1 .5-.3 .5-.7 .5-1.3 .5 1.1 .5 5.3 .5-2.6 .5 0 .5 2.6 .5-2.5 .5 3 .5 .6 .5-6.6 .5 1.1 .5 .8 .5-1.7 .5-.3 .5 1.6 .5 6.4 .5-4.8 .5-1.3 .5 1 .5-2.4 .5-1.3 .5 5.1 .5 2.4 .5-7 .5 5.9 .5 1.7 .5-3.9 .5-.7 .5 2.5 .5-4.1 .5 2 .5-.1 .5-3.6 .5-2.2 .5 2.7 .5-3 .5 .3 .5-7.5 .5 7.9 .5-5.4 .5 3.3 .5 1 .5-.3 .5 1.4 .5 .7 .5 3.5 .5 3.1 .5 0 .5-3.3 .5-1.5 .5-3.1 .5 1.7 .5-1.8 .5-1 .5 3.4 .5 3.9 .5-1.4 .5-.3 .5-7.8 .5 5.9 .5-4.2 .5 2.5 .5-2 .5 1.5 .5 1.6 .5-1.2 .5-1.6 .5-.2 .5 2.4 .5-.3 .5-3.3 .5 8.1 .5-4.8 .5 2.4 .5-2.7 .5-1.6 .5 1.7 .5-2.5 .5 4.9 .5-7.2 .5 2.9 .5-4.1 .5 0 .5 5.6 .5-4.6 .5-1.8 .5-2.3 .5 4.1 .5 .9 .5 4 .5-7.5 .5-1.8 .5 3.3 .5-.3 .5 2.6 .5-6.5 .5-4.7 .5 4.6 .5-1.7 .5 .9 .5 2.3 .5-7 .5 4.7 .5-3.6 .5-2 .5-1.7 .5 .8 .5-1 .5 1 .5-.8 .5-5.2 .5 .1 .5-.7 .5-2.4 .5-4.4 .5 .1 .5-5 .5-3.7 .5-8.9 .5-5.1 .5-8.5 .5 3.7 .5-6.6 .5-8.5 .5-2.6 .5-5.7 .5-11.4 .5-2.5 .5-5.8 .5-7.8 .5-12.5 .5-9 .5-5.9 .5-11.4 .5-14.4 .5-10.8 .5-7.7 .5-13.4 .5-9.6 .5-3.1 .5-10.8 .5-7.5 .5-1.6 .5 2 .5-4 .5 .1 .5 2 .5 14.2 .5-5 .5 16.6 .5 3.9 .5 9.2 .5 11.5 .5 13.6 .5 15.1 .5 7.4 .5 14 .5 14.1 .5-3.8 .5 13.3 .5 5.4 .5 14.2 .5 1.7 .5 6.8 .5 6.9 .5 9.9 .5 8 .5 1.8 .5 8.3 .5 1.8 .5-1.6 .5 5.4 .5 1 .5 3 .5-2 .5 4 .5 5.1 .5-1.7 .5 5.4 .5-.7 .5-2.7 .5 5.4 .5-1.9 .5 3.1 .5-2.4 .5-2.1 .5 7.1 .5-1.3 .5 3.5 .5 1.5 .5 1.4 .5-5.1 .5-.6 .5 6.4 .5 5.1 .5-1.3 .5 4.1 .5-1.6 .5 1.5 .5-.6 .5-2.3 .5 1 .5-1.8 .5 3 .5-2.1 .5 4.2 .5-.7 .5 3.9 .5-1.4 .5-.8 .5 3.7 .5-2.4 .5-.3 .5-4 .5-1.7 .5 2.9 .5 3.3 .5-4.6 .5 6.3 .5-8.1 .5 4.2 .5 4.6 .5-13 .5 2.9 .5 6.7 .5-2.6 .5 1 .5-.7 .5 3.7 .5-1.9 .5-2.7 .5 .7 .5-2.1 .5 3.2 .5-4.7 .5 8.2 .5-1.2 .5 6.2 .5-1 .5-6.1 .5 5 .5-4 .5 1.5 .5 2.9 .5-.5 .5 2 .5 1.5 .5-2.2 .5 .1 .5 2 .5-.8 .5-4.8 .5-1 .5-4.3 .5-5.1 .5 3.6 .5 1.7 .5-.1 .5 1.5 .5 0 .5 .4 .5-1.1 .5 .6 .5-2.1 .5 3.4 .5 .4 .5 3 .5-6.4 .5 2.7 .5-3.4 .5 2.1 .5-1.8 .5 3.9 .5-2.4 .5-5.2 .5 8.4 .5-6.9 .5-2.6 .5 1.9 .5-1.5 .5-1.4 .5 4.5 .5-3 .5 2.6 .5-.8 .5-.1 .5-.5 .5 .3 .5 .5 .5 5.6 .5-7.8 .5 2.1 .5 1.1 .5 2.7 .5-.4 .5-.9 .5 1.2 .5 6.1 .5-4.9 .5-4.8 .5 11.4 .5-7.8 .5-.2 .5-1 .5-5.6 .5 4.9 .5-3.7 .5-2.6 .5 5.1 .5 2 .5 .1 .5 2.8 .5-3.4 .5 7.3 .5-3.6 .5 5.6 .5-4.8 .5 1.2 .5 5.2 .5-7.1 .5 2.3 .5-1 .5-3.2 .5 8.5 .5 1.6 .5-5 .5 3.1 .5-4.7 .5 .9 .5 .3 .5-4.6 .5-5.4 .5-1.2 .5 .9 .5-.5 .5 1 .5 2.7 .5-3.7 .5 7.1 .5 4.5 .5-.8 .5-2.9 .5-.3 .5 1.5 .5 1.1 .5-1.5 .5 4.9 .5 .3 .5-4.1 .5 3.5 .5-2.7 .5-3.7 .5-1.1 .5-1.1 .5-7 .5 3.1 .5 3.7 .5-.2 .5 3.4 .5 4.6 .5-2.1 .5-.4 .5 2.9 .5-5.3 .5 .1 .5 .9 .5 3.6 .5-3.1 .5-1.3 .5-1.2 .5 2.3 .5-4.3 .5 5.4 .5-1.2 .5-2.8 .5 5.2 .5-.7 .5-4 .5 3.6 .5 0 .5-.9 .5-1.6 .5 8.1 .5-3.4 .5 .5 .5 .4 .5-.6 .5-.6 .5-4 .5 1 .5-4.5 .5-2.4 .5 1.5 .5-2.6 .5-3.6 .5 3.4 .5 2.6 .5-1.2 .5 2.3 .5-2.4 .5-.6 .5 5.1 .5-.6 .5-2.4 .5 4.4 .5-1.6 .5 2.6 .5-1 .5-1.1 .5-6.5 .5 6.3 .5 .5 .5 .2 .5-1.5 .5-3.2 .5-.9 .5-7.1 .5 1.6 .5-5 .5 1.5 .5-1 .5 5.1 .5-2.6 .5 .1 .5-.1 .5 3.1 .5-9.1 .5 1.4 .5-1.2 .5-1.6 .5-1.2 .5-2.4 .5 3.8 .5-.8 .5-2.9 .5 .2 .5 1.1 .5 .4 .5 .7 .5-1.2 .5-1.5 .5 7.4 .5-4.3 .5 2.4 .5 2.7 .5-3.7 .5 4.6 .5 .4 .5-.4 .5-.5 .5 1.6 .5 1.9 .5-.7 .5 5.7 .5-6.1 .5 4.9 .5-.9 .5 .7 .5 3 .5 1.5 .5-.4 .5-2.4 .5-1.8 .5-.4 .5 3.5 .5 0 .5 1.4 .5-1.7 .5 7.7 .5-6.3 .5 5 .5 .6 .5-3.6 .5-2.8 .5 .6 .5-2.3 .5 2 .5-2.3 .5 .7 .5 4.2 .5-2.8 .5 3.7 .5 .5 .5 2 .5-2 .5-3 .5 4.6 .5-4.7 .5 .8 .5 .3 .5 5.8 .5-5.4 .5-2.1 .5 3.5 .5-1.2 .5 6.7 .5-6.8 .5 3.2 .5-4.1 .5 5.5 .5-6.9 .5 1.7 .5-2.1 .5 5.1 .5 .3 .5-6.1 .5 7.7 .5 .1 .5-1 .5 1.5 .5-5.4 .5-1.2 .5 6 .5 3.2 .5-5.7 .5 1.6 .5 2.1 .5 0 .5 4.7 .5-2.4 .5 1.7 .5-1.1 .5-6.6 .5 3.2 .5-7.8 .5 4.2 .5 .8 .5-3.5 .5-1.6 .5 4.4 .5 5.7 .5-2.4 .5-2 .5 3.6 .5-.7 .5-5.7 .5 1.3 .5 2.8 .5-1.5 .5 1.3 .5-1.9 .5 1.1 .5-2 .5 1.3 .5 5.4 .5-5.3 .5-2.3 .5-.5 .5-2.8 .5 2.7 .5 .3 .5-4.6 .5 5.1 .5 3 .5-7.3 .5 4.1 .5-1.2 .5 2.3 .5-.3 .5-.5 .5-2 .5-1.8 .5 6 .5-8 .5 3.8 .5-.9 .5-4.6 .5 1.3 .5 2.8 .5-8.8 .5 5.2 .5-3.9 .5-1.1 .5-4 .5 3.4 .5-4.4 .5 3.3 .5-5.3 .5 3.9 .5-1.3 .5-5.5 .5 4.1 .5 .9 .5-5 .5 4.2 .5 1.7 .5-5.7 .5 1.8 .5-8.5 .5-3.3 .5 1.3 .5-2.3 .5-4.3 .5-2.4 .5-1 .5-7.8 .5 1.7 .5-8 .5-3.8 .5-3.6 .5-4.4 .5 .3 .5-8.3 .5-3.2 .5-4.4 .5-3.9 .5-5.4 .5-7.5 .5 .3 .5-4.7 .5-4.1 .5-1.5 .5-2.7 .5 3.2 .5 1.1 .5-5.6 .5 1.7 .5-1.7 .5 3.3 .5-1.6 .5 3 .5 3.3 .5 4.4 .5 5.1 .5 5.7 .5 5.3 .5 3.1 .5 8.3 .5-1 .5 8.3 .5 1.3 .5 6.7 .5 5.1 .5-.5 .5 10.1 .5 6 .5 1.3 .5 1 .5-4.4 .5 6.3 .5 .6 .5 7.2 .5-.9 .5 1 .5-1.5 .5 6.7 .5-2.4 .5 1.4 .5 4.2 .5-1.3 .5 1.6 .5 6.2 .5-5.1 .5 2.5 .5 4.7 .5 4.1 .5-5.7 .5 3 .5-2.2 .5-1.6 .5 4.1 .5-3.1 .5 2.8 .5-.3 .5 .3 .5 .3 .5-2.1 .5 3 .5 1.7 .5 1.5 .5 0 .5 4.2 .5 0 .5-.7 .5 1.2 .5-1.6 .5 0 .5-7.2 .5 1.1 .5 2.4 .5 2.3 .5-4.2 .5 5.5 .5 1.3 .5-1.4 .5-1.1 .5-3.9 .5 2.7 .5-5.3 .5 7 .5-3.7 .5 4.2 .5-6 .5 6.2 .5 .9 .5-.6 .5 .8 .5 6.5 .5-1.6 .5 1.9 .5-4.9 .5-1.1 .5-1.2 .5-1.1 .5-2.2 .5-.1 .5-3.5 .5-2.2 .5 9 .5-2.9 .5 2.2 .5-.5 .5 4.8 .5-1.4 .5 1.9 .5-5 .5 .1 .5-.4 .5-2 .5 1.2 .5 3.3 .5-4.7 .5 1.1 .5 1.4 .5-2.2 .5 .1 .5 5.9 .5-.3 .5-5.1 .5 .8 .5 5.6 .5 1.4 .5-1.3 .5-.6 .5 2.2 .5-4.4 .5 3.2 .5 .6 .5-3.7 .5 5.4 .5-.1 .5-1 .5-.7 .5 1.9 .5-2.3 .5 .8 .5-6.8 .5 2.4 .5 4.1 .5-2.9 .5-2.5 .5-1.1 .5-5.3 .5-.9 .5 3.2 .5-1.4 .5 3.5 .5-2.5 .5 1.2 .5-5.4 .5 6.4 .5 5.1 .5-3.7 .5-2 .5 3.2 .5-.6 .5-.8 .5-1.3 .5 1.4 .5 1.8 .5-4.4 .5 2.5 .5-.9 .5 1.4 .5-2.2 .5-4.1 .5 4.7 .5-4 .5-2 .5 2.8 .5-1.3 .5 3 .5-6.6 .5-.8 .5 .8 .5 4.1 .5-1.2 .5-3.5 .5 0 .5 4.8 .5-1.4 .5 4.2 .5-1.9 .5-1.8 .5-2.9 .5 2.6 .5-8 .5-2.9 .5 4.4 .5-.4 .5-4.3 .5 3 .5 5.1 .5-6.7 .5 1.9 .5 1.7 .5-6.1 .5 4.3 .5 1.4 .5-3 .5 1.6 .5-2.1 .5-4.1 .5 1.3 .5-.5 .5-4.5 .5 3.1 .5 1.7 .5 2.3 .5 1.8 .5-.7 .5 4.9 .5-3.2 .5 7.2 .5-2 .5 1.2 .5-4.5 .5-4 .5-3.6 .5 4.5 .5-1.3 .5 1.7 .5 1.9 .5 1.9 .5-2.5 .5 4.8 .5-3.4 .5 1.5 .5 2.6 .5 1.4 .5 .9 .5-8.2 .5 6.5 .5-8.1 .5 1.4 .5 1.8 .5 1.8 .5-5 .5-1.3 .5 6.6 .5-1.5 .5-3.7 .5 .8 .5-5.1 .5 4.6 .5-4.2 .5 2.7 .5-9.5 .5 5.2 .5 2.3 .5-5.8 .5-.7 .5-5.7 .5 4.5 .5-1.8 .5-2.8 .5-4.2 .5 2 .5-4.3 .5 .2 .5 1.2 .5-1.2 .5-.3 .5 1.7 .5-5.7 .5 5.3 .5-7 .5-.1 .5 2.7 .5 2.2 .5-.8 .5-1.5 .5-.6 .5 1 .5-1.9 .5 3.5 .5-1.9 .5 4.6 .5-4.9 .5 1.9 .5 1.2 .5-4.6 .5-.5 .5 6.1 .5-9 .5 1.8 .5-6.6 .5-2.7 .5 8.4 .5 .2 .5 2.2 .5-.2 .5 .5 .5-.3 .5 6.2 .5-5.4 .5 6.7 .5-2 .5-.8 .5 2.9 .5 6 .5 1.1 .5 .2 .5-1 .5-3.3 .5 5.8 .5-3 .5 1.8 .5 2.5 .5 2.4 .5-.8 .5 3.6 .5-.1 .5 1.7 .5-1.9 .5 9.8 .5-6.5 .5 4.7 .5 .8 .5 2.8 .5 3.5 .5-2.2 .5 1.8 .5-2.1 .5 5 .5-7.1 .5 2.4 .5 .7 .5 .9 .5 1 .5 2.3 .5-.2 .5-.8 .5 .3 .5 2.4 .5-3.4 .5 1.1 .5-2.2 .5-3.1 .5 4.3 .5 3.4 .5 3.4 .5-.8 .5 .1 .5-6.5 .5 2.7 .5-2.7 .5 1.4 .5-1.4 .5-2.6 .5 5.5 .5-.3 .5 2 .5-3 .5 5.2 .5 .3 .5 .4 .5-.2 .5-4.4 .5-4.4 .5 9.5 .5-3.1 .5 2.9 .5 3.7 .5-2.1 .5-.6 .5 .4 .5-7.1 .5 8.4 .5-6.1 .5-.5 .5 1.8 .5-2.1 .5-1.9 .5 1.4 .5-1.4 .5-1.7 .5 5.3 .5-8.8 .5-1.6 .5 4.1 .5 1.3 .5 7.1 .5-2.2 .5 2.4 .5-.1 .5-3.4 .5 4.3 .5-1.7 .5 3.7 .5-4.9 .5-1.3 .5 1.8 .5 .7 .5-5.3 .5 8.1 .5 .1 .5 0 .5-4.3 .5-2 .5 4.2 .5 2.5 .5-.8 .5-3.8 .5 4.4 .5-5.7 .5 .3 .5 3.7 .5-1.2 .5-.1 .5-1.9 .5 5.9 .5-5.5 .5 3.6 .5 .9 .5-2.1 .5 .5 .5 1.2 .5 .6 .5-2.6 .5-6.6 .5-1.8 .5 2.9 .5-1.2 .5 4 .5-1.1 .5-.9 .5 3.7 .5 .4 .5-2.1 .5 1.3 .5 2.2 .5-3.2 .5 1.9 .5-2.4 .5 3.2 .5 1.2 .5-.9 .5 .2 .5 .1 .5-1.8 .5-3.6 .5-.5 .5-1.6 .5 7.6 .5-2.1 .5 1.2 .5-.6 .5 1.7 .5-.1 .5-3.4 .5 1.2 .5 3.4 .5-5.4 .5 1.3 .5 3.7 .5-3.8 .5 3.4 .5-4.7 .5 3.3 .5 1.8 .5-.8 .5 .8 .5-3 .5-.8 .5 .1 .5 2.1 .5 8.8 .5-7.3 .5 6 .5-4.5 .5-2.6 .5 1 .5 .3 .5-1.2 .5 0 .5 1.5 .5 .3 .5 .7 .5-5.5 .5 2.2 .5-3.2 .5 2.2 .5-.8 .5 1.3 .5-.6 .5-.2 .5 1.7 .5 2.1 .5 0 .5-5.9 .5 4.6 .5 .2 .5-3.8 .5 1.3 .5 1.3 .5 1.9 .5-7 .5 4.5 .5 .1 .5 2.5 .5 3.7 .5 .5 .5-3.8 .5-.2 .5 .6 .5 .7 .5-.8 .5-3.3 .5 2.6 .5-5.4 .5 0 .5-3.4 .5 4.9 .5 3.4 .5 0 .5 5.3 .5-7.2 .5-1.2 .5-2.7 .5 1.3 .5 .9 .5 2.1 .5-.2 .5-1.8 .5 5 .5-3.5 .5-.2 .5-9.4 .5-.9 .5 .9 .5 5.1 .5-1.9 .5 2.3 .5 .1 .5 .7 .5-2.4 .5 .6 .5-5 .5-.4 .5 .4 .5 0 .5 2.3 .5-.9 .5 4.2 .5-.6 .5 1.2 .5 1.3 .5-7.2 .5 3.6 .5-4.7 .5 .4 .5 4.9 .5-1.5 .5-.9 .5 .6 .5 .4 .5-5.1 .5 1.8 .5-1.9 .5 2 .5-1 .5 3.8 .5-.6 .5-1 .5 .5 .5-.4 .5 0 .5-3.9 .5-.4 .5 2.5 .5 2.5 .5-2 .5-4.2 .5 6.6 .5-1.4 .5 .4 .5 8 .5-5.5 .5 2.5 .5-4.6 .5 4 .5 1.3 .5-1.5 .5-1.3 .5 1.2 .5-2.1 .5 2 .5-3.8 .5-3.2 .5-3.5 .5 2.5 .5 .8 .5-2.1 .5 .8 .5-.5 .5 2.7 .5 4.5 .5 .6 .5 1.2 .5 .1 .5 .3 .5 2.1 .5 3.1 .5-3.3 .5 3.4 .5-5.1 .5-.2 .5 3.8 .5-5.7 .5 .1 .5 3.1 .5-2.1 .5 1.1 .5 8 .5-5.6 .5 .7 .5-.8 .5-1.6 .5 4 .5 .2 .5 1.3 .5 .4 .5-1.3 .5 2.8 .5-1.8 .5-4.9 .5 .6 .5-1.8 .5 4.9 .5-2.9 .5-.2 .5-.3 .5 3.1 .5-1.9 .5 3.5 .5-.2 .5-1.5 .5-4.2 .5-.2 .5-5.9 .5 .7 .5 1 .5 1.3 .5 0 .5-.2 .5 1.4 .5 2.7 .5 .1 .5 3 .5-1.9 .5 3.4 .5 4.9 .5-8.4 .5 2.5 .5 2.6 .5-2.6 .5 1.7 .5-6.8 .5 4.5 .5 6 .5-4.1 .5 2.8 .5-5.4 .5 6.7 .5 2.4 .5-5.8 .5 1 .5-.2 .5 3.5 .5-6.7 .5-3.5 .5 8.1 .5-7.6 .5 4.2 .5-6.3 .5 5.4 .5 2.1 .5-2.7 .5 1.9 .5 3.4 .5-2.6 .5 2.7 .5 2.4 .5-10 .5 4.5 .5-.5 .5-2.9 .5 4.2 .5-.4 .5-1.7 .5 .2 .5-1.3 .5-2.4 .5 3.9 .5-2.3 .5-.5 .5 3.5 .5-3.8 .5 2.3 .5-4.9 .5 1.5 .5 1.4 .5 3.9 .5-3 .5 2 .5-3.8 .5 1.6 .5 1.4 .5-4 .5 1 .5 3.9 .5-3.5 .5 3.7 .5-.6 .5-2.1 .5 1.3 .5-1.1 .5-.7 .5-3.6 .5 .9 .5 4.9 .5-4.2 .5 4 .5-1.1 .5-1.2 .5 1.5 .5-4.8 .5 5.6 .5 4.2 .5-5 .5 4.9 .5 .4 .5 6.8 .5-9.5 .5 .2 .5-.8 .5-1.9 .5-3.5 .5 2.4 .5-3.6 .5 3.4 .5-.8 .5-2.6 .5 2.6 .5 4.7 .5-4 .5 1.1 .5 1.6 .5-2.7 .5 2.2 .5 2.8 .5-1 .5-6.9 .5 7.8 .5-3.9 .5-.5 .5 .5 .5 5.1 .5-1.6 .5-1.1 .5-1.9 .5 2.9 .5 .7 .5-5.6 .5-.5 .5 1.8 .5 2.9 .5-1.6 .5 1.1 .5-1.7 .5 4.6 .5-4 .5 .1 .5 1.8 .5-3.3 .5 .5 .5 1.1 .5-1.6 .5 4.8 .5-2.7 .5-1 .5 .3 .5-2.3 .5 4.6 .5-.2 .5-4.9 .5-.7 .5-3.7 .5 3.8 .5 3.8 .5-3.7 .5 4.3 .5 1.9 .5-9.1 .5 6.2 .5-.1 .5 .8 .5-3.1 .5 3.4 .5-2.6 .5 4.5 .5-.2 .5-7.8 .5-.6 .5 2.3 .5 1.3 .5 .9 .5 2.7 .5-4.9 .5 1.9 .5 0 .5 .3 .5-1.1 .5 2.3 .5 .3 .5 5 .5-4.1 .5-4.9 .5 5.2 .5-2 .5-2.9 .5-.3 .5 .8 .5 5.5 .5-4.7 .5 4.3 .5-.7 .5-3.3 .5 2.1 .5-2.3 .5-5.4 .5 5.1 .5-.8 .5 2.8 .5-1.5 .5 .6 .5-1 .5 2.2 .5 .4 .5 .6 .5 3.4 .5 2.2 .5 .8 .5-3.8 .5 .9 .5-2.8 .5-.7 .5 2.6 .5-3.1 .5 4.3 .5-9.4 .5 2.4 .5 3.5 .5 2.7 .5-3 .5 5.9 .5-2.4 .5-4.3 .5 .5 .5 .3 .5-4.3 .5 3.7 .5-4.3 .5 .7 .5-.1 .5-3.3 .5 3.8 .5-5.9 .5 7.4 .5-4.4 .5 8.7 .5-3.4 .5 4.6 .5 .7 .5-3.3 .5-1.3 .5 4.3 .5-6.2 .5 4.5 .5-2.3 .5-.4 .5 .1 .5 6.2 .5-8 .5 2 .5 1.7 .5 .8 .5 1 .5-1.4 .5-4.7 .5 2.6 .5 2.7 .5-.9 .5-4.8 .5 4.6 .5 .5 .5-4.8 .5 1.8 .5 .9 .5 1.5 .5 2.3 .5-1 .5-2 .5-1.5 .5-2.5 .5-1.8 .5-.4 .5-.8 .5 3.1 .5 4.1 .5-1.8 .5 3.3 .5 1 .5 0 .5 2.4 .5-.8 .5-3.3 .5-1.5 .5 .7 .5-3.9 .5 .8 .5 1.4 .5-2.6 .5-4.1 .5 6.5 .5-4.1 .5-.7 .5-1 .5 4.8 .5-6.7 .5 5.3 .5 2 .5 1.1 .5-1.1 .5 1.5 .5-.1 .5-4.5 .5 3.8 .5 .2 .5-4.4 .5 .6 .5-.3 .5 6.3 .5-3.3 .5 3.2 .5-1.7 .5 7.8 .5-3.7 .5 .6 .5 2.2 .5-2.8 .5-4.5 .5 4.4 .5 1.3 .5-3.5 .5-.4 .5-.5 .5 3 .5-3.2 .5-4.1 .5 2.7 .5-.9 .5-4.8 .5-2.4 .5 6.6 .5 4 .5-1.6 .5 .2 .5-.9 .5-1.2 .5 1.3 .5 0 .5-3.3 .5 2 .5-2.1 .5 2.1 .5-6.7 .5 5.7 .5 4.5 .5 .3 .5-2.2 .5 1.4 .5-3.8 .5-1.3 .5-4.1 .5 3.9 .5 2.8 .5 3.7 .5 1.8 .5-1.1 .5 .9 .5-3.7 .5 3.4 .5-4.9 .5 .9 .5-.4 .5 3.7 .5-2.6 .5-5.3 .5-1.4 .5 3.2 .5-.9 .5 3.1 .5 .1 .5 .5 .5-4.1 .5 1.3 .5 1.3 .5 .6 .5-1.4 .5 1.5 .5 3.5 .5-5.3 .5 3.8 .5 .8 .5-3.6 .5 .9 .5 2.7 .5-1.1 .5 4.5 .5 0 .5 4.8 .5-7.7 .5 7.2 .5-7 .5 1.7 .5-2.1 .5-4.6 .5-3.5 .5-2.2 .5-3.1 .5 3.7 .5-.5 .5 4.4 .5-2 .5 2.4 .5 2.3 .5-.1 .5 .7 .5 0 .5-.4 .5 1.8 .5-.3 .5-4.3 .5 5.5 .5-2.6 .5-5 .5 10.2 .5-4.8 .5-3.4 .5 5.4 .5-10.3 .5 11.9 .5-10.1 .5-.6 .5 1.4 .5 2.9 .5-.7 .5 4 .5-3.1 .5 4.8 .5-2.5 .5-3.5 .5 5 .5-1.3 .5-.3 .5 4.5 .5-5.3 .5 1.7 .5 3.5 .5-4.7 .5 .8 .5-.7 .5-2 .5 1.9 .5-3.9 .5 4 .5-4 .5 2.3 .5-2.3 .5 3.1 .5-.5 .5 .9 .5-4.9 .5-1.6 .5-3 .5 2.2 .5 3.4 .5 2.3 .5-.1 .5 2.2 .5-2.6 .5 1.7 .5 4.5 .5-.6 .5-5.8 .5 1 .5-.1 .5-4.2 .5 3.6 .5 .3 .5 1.7 .5 4.9 .5-5.9 .5 5 .5-2.3 .5-1 .5-5.1 .5 .6 .5-.9 .5 4 .5-3.1 .5 4.6 .5-3 .5 .6 .5 1 .5-5.3 .5 3.3 .5-.7 .5 .5 .5 .5 .5-2.8 .5-.2 .5 5.9 .5-5.5 .5 1.2 .5-1.4 .5 .5 .5 3.3 .5-.6 .5-7 .5 3.8 .5 3.6 .5-5.1 .5 .4 .5 2.1 .5 .3 .5-1.7 .5-3.8 .5 1.8 .5 1.3 .5-.8 .5-.9 .5 6.2 .5-4.7 .5 .8 .5 .3 .5-2.5 .5-2.3 .5-1.2 .5 1.2 .5-4 .5-7.2 .5 6.4 .5 .6 .5-5.9 .5-2.4 .5-1.7 .5 1.6 .5-7.1 .5 2.5 .5-.6 .5-2.5 .5-2.4 .5-3.3 .5-1.4 .5-.7 .5-5.1 .5-1.4 .5-5.6 .5 1.9 .5-2.8 .5-8.3 .5 2.8 .5-5.2 .5-3.7 .5-3.1 .5-5 .5-9.9 .5 3.2 .5-14.5 .5-10 .5-1.5 .5-7.2 .5-9.5 .5-10.5 .5-.7 .5-11.3 .5-7.9 .5-10.2 .5-7.5 .5-9.6 .5-5.9 .5-9.9 .5-6.8 .5-8.3 .5-9.2 .5-7.6 .5-4.4 .5-12.5 .5-1 .5-.7 .5-8 .5 3.6 .5-2.6 .5 2.6 .5 1.6 .5 3 .5 5.4 .5 2.8 .5 .4 .5 16.4 .5 1.6 .5 6.9 .5 12.2 .5 10 .5 1 .5 15.1 .5 3 .5 12.3 .5 9.8 .5 8.1 .5 9.2 .5 8.3 .5 10.7 .5 8.6 .5 6.8 .5 3.2 .5 6.2 .5 8.6 .5 3.1 .5 1.5 .5 6.1 .5 2.8 .5 4.9 .5 2.2 .5 2.5 .5 2.5 .5 5.8 .5-1.9 .5 7.7 .5-5.6 .5 7.2 .5 3.6 .5 5.2 .5 8.5 .5-3.9 .5 .9 .5-3.2 .5 8.2 .5-7.5 .5 5.7 .5-.9 .5 9.8 .5-3.7 .5 3.9 .5-.2 .5 2.5 .5 3.1 .5-5.5 .5-.2 .5-.7 .5-1.4 .5 .1 .5 3.6 .5 4.3 .5 1 .5-6.2 .5 1.3 .5 .9 .5 .7 .5-1.4 .5 .3 .5 1.8 .5 2.4 .5-4.9 .5 6.3 .5 3.6 .5 3 .5-.4 .5-2.8 .5 .3 .5 2.5 .5-.6 .5 .9 .5 1.8 .5-6.1 .5 1.4 .5-5.9 .5 7.3 .5-1.3 .5-1.9 .5 3.5 .5 3.6 .5-.7 .5-2.5 .5-.9 .5 .8 .5-2.5 .5 .1 .5 1.4 .5 .5 .5 .6 .5-1.8 .5-.6 .5 2.5 .5-.1 .5 2.5 .5 2.8 .5-1.1 .5-4.3 .5 .8 .5-2.6 .5 3.7 .5-1.9 .5-.9 .5 1.1 .5 4.1 .5-1.2 .5-1.3 .5 1.6 .5-4.7 .5-2.2 .5 3.1 .5-5.7 .5 5.7 .5 0 .5-.3 .5 .4 .5-3.3 .5 .6 .5-3.8 .5 3.1 .5 1 .5 2.6 .5 3.5 .5-2.5 .5 2.6 .5-3.3 .5 3.2 .5-3.8 .5 1.6 .5-1.5 .5 .1 .5-1.1 .5-1.6 .5-.3 .5 4.6 .5-2.2 .5-5 .5 5.7 .5-.2 .5 .9 .5 2.3 .5-5.6 .5 3 .5-1 .5-5.3 .5-3.9 .5 5.4 .5-6.8 .5-.2 .5 .2 .5 0 .5 1.9 .5-3 .5 3.3 .5 1.6 .5-1.3 .5 1.1 .5 .6 .5-.7 .5-5 .5 1.3 .5 0 .5 .9 .5-2.1 .5 1 .5-3.5 .5-1.2 .5 4.7 .5-5.8 .5-2.2 .5 .5 .5 1.9 .5-6.2 .5 3.7 .5 .2 .5-1.6 .5-4.1 .5-4.4 .5-3 .5-.9 .5 0 .5-4.2 .5-2 .5-3.8 .5 1.9 .5-6.4 .5-3.1 .5-.1 .5-3.8 .5 .9 .5-1.1 .5-4.1 .5-6.3 .5-1.4 .5 2.1 .5-5.1 .5 2.8 .5-5.3 .5 1.5 .5 1.5 .5-3.6 .5 3.4 .5 .3 .5 1.6 .5-3.5 .5 1.5 .5 1.3 .5 2.5 .5-1.8 .5 7.5 .5 3.7 .5-1.8 .5 2 .5 4.2 .5 6.4 .5-.9 .5-.7 .5 4.1 .5-.5 .5 9.9 .5-2.1 .5 5.2 .5-3.4 .5 4 .5-2.1 .5 4.7 .5 3.1 .5 1.3 .5 1.4 .5 3.7 .5-2.9 .5 1.2 .5 3.1 .5 3.1 .5-2.1 .5 1.9 .5-4.2 .5 3.8 .5 .9 .5 3.4 .5 4.9 .5-2.2 .5 1.5 .5-2.6 .5 1.9 .5 3.5 .5 .3 .5-3.7 .5 6.7 .5 .2 .5-1.7 .5 .8 .5-1.1 .5-2.7 .5-3 .5 8.7 .5-3.3 .5 1.1 .5 1.5 .5 .8 .5 .1 .5-3.9 .5 2.4 .5-1.8 .5-.8 .5-.3 .5 .9 .5-2.4 .5 2.6 .5-.1 .5 1.1 .5 3 .5 .2 .5 1.1 .5-2.5 .5 2.3 .5 .6 .5-3.5 .5-1.2 .5 4.9 .5-8.7 .5 3.4 .5-.1 .5-2.8 .5 2.6 .5 2.1 .5-5.9 .5 8.2 .5-2.1 .5-2.3 .5 4.4 .5-2.5 .5-1.3 .5-4.7 .5 8 .5-2 .5-1.9 .5 1.1 .5 3.2 .5-3.6 .5 1.1 .5-.4 .5-1.2 .5 .7 .5 1.8 .5 .4 .5 3.5 .5-2 .5-.6 .5 1.7 .5-1.1 .5 2.1 .5-5.8 .5-1.7 .5 5.9 .5-1.8 .5 1.7 .5-3.3 .5 1.7 .5 0 .5-.6 .5-2.2 .5 1.7 .5-4.2 .5 3.5 .5-2.6 .5 1.3 .5-2.1 .5 2.7 .5-2.5 .5 4.9 .5-2.8 .5 3.5 .5 .6 .5 1.2 .5-1.5 .5 7.2 .5-5.5 .5 4.2 .5-6.9 .5 7 .5-2.8 .5 1.1 .5-8.6 .5 6.4 .5-3.5 .5 1.8 .5 3.4 .5-3.2 .5-2.4 .5 1.9 .5-2.5 .5 3.3 .5-.9 .5 .6 .5-2.1 .5-4.5 .5 2.9 .5-.4 .5 1.6 .5 .6 .5-4.9 .5 6.5 .5-.2 .5-2 .5 .5 .5-5.8 .5 10.5 .5-5.9 .5 0 .5 4.9 .5-.8 .5-2.3 .5-2.9 .5 5.7 .5 1.1 .5-6.8 .5-2 .5 3.7 .5 3.9 .5-8.9 .5 4.1 .5-2.7 .5 3.4 .5 1.3 .5 .6 .5-4.3 .5 .1 .5 8.2 .5-3.4 .5-7.3 .5 3.9 .5 1.3 .5-4.1 .5-.5 .5-.4 .5 1 .5 .3 .5 1.6 .5-.2 .5 4.4 .5 .2 .5 .5 .5-3.5 .5 1.4 .5 .2 .5-2.3 .5-.1 .5-1.5 .5 1.8 .5-2.7 .5 1.1 .5 3 .5 .5 .5-3.3 .5 1.2 .5 2.2 .5 4.2 .5 1.4 .5-5.3 .5-2 .5-1.7 .5 3 .5-7.1 .5 3.2 .5-1.5 .5 1.5 .5 4.9 .5 1.5 .5 5.1 .5-1.8 .5 2.2 .5-5.5 .5 .6 .5-2.3 .5 1.2 .5 2 .5-2.9 .5 1.2 .5-2.6 .5 .8 .5 3.5 .5-1.8 .5 .3 .5 1.2 .5-2.9 .5-2.6 .5 4.2 .5-.6 .5 4.5 .5-4.5 .5 1.2 .5 4.3 .5-6.2 .5-1.5 .5 2.1 .5-1.7 .5 1.1 .5-3.6 .5 6.3 .5-2 .5-4.9 .5 4.6 .5-1.4 .5 .7 .5 1.6 .5-3.7 .5-2 .5 2.8 .5-3.2 .5-1.3 .5 1.8 .5 7.7 .5-.3 .5 2.5 .5-5.5 .5 1.9 .5 .4 .5 4.2 .5 .8 .5-3.3 .5-1.1 .5 1 .5-3.4 .5-1.9 .5 .7 .5 2.8 .5 2.5 .5-4.4 .5-1.1 .5 .8 .5 0 .5 .3 .5-3.6 .5 1.7 .5-.6 .5 2.5 .5-.8 .5-2 .5 2.9 .5 1 .5-1.5 .5-3.2 .5 2.7 .5-3.2 .5 3 .5-.6 .5 1 .5-3.6 .5-5.8 .5 2.7 .5 .2 .5 2.1 .5 4.1 .5 2.6 .5 .7 .5-.6 .5 .4 .5-.2 .5 1.1 .5 2.4 .5-1.3 .5 1 .5-5.6 .5 6.5 .5-5.2 .5-6.9 .5 5.6 .5 1.2 .5-3.2 .5-3.5 .5 3.3 .5-1.8 .5 1.7 .5 2.2 .5-6.8 .5 8.8 .5 2.7 .5 .5 .5-2 .5-1 .5-2.8 .5-.7 .5 2.3 .5-5.2 .5 2.7 .5 1.4 .5 4.3 .5-1.3 .5 0 .5-3.1 .5 1.5 .5-5 .5-.7 .5 3.7 .5 .5 .5 2 .5-3.6 .5 7.7 .5-6.4 .5 1.7 .5-4.1 .5-3.9 .5 3.1 .5-1.6 .5 2.6 .5-6.4 .5 3 .5 .5 .5 7 .5 .2 .5-4.8 .5 2.8 .5-.4 .5-2 .5 3.7 .5-4.1 .5 2.8 .5-.4 .5 3 .5-2.7 .5 3.2 .5-3.8 .5-.7 .5 .1 .5 .5 .5-.8 .5 7.2 .5-8.5 .5 3.1 .5 .1 .5 1.7 .5 2.7 .5-2.5 .5-3.7 .5-2.7 .5 4.1 .5 .3 .5-5.9 .5 5.4 .5-6.8 .5 4.9 .5 2.1 .5-4.6 .5-1.5 .5 8.1 .5-6.1 .5 5.3 .5-3.6 .5 4.7 .5 2.4 .5-5.9 .5-1.8 .5-2.7 .5 1.7 .5 3.5 .5 2.8 .5 .6 .5-1.1 .5 .9 .5-1 .5 6.5 .5-5.1 .5 1.7 .5-5.7 .5 3.7 .5 1.3 .5-4.5 .5 2.9 .5-2.1 .5 2.7 .5-8 .5 1.7 .5 3.7 .5-3.4 .5-3.1 .5 .6 .5 .2 .5 3.2 .5-.4 .5-1.5 .5-1.5 .5 4.8 .5 1.4 .5-4.5 .5 5.7 .5-4.2 .5 2.5 .5-1.2 .5-1.8 .5 2.6 .5-.3 .5 4 .5-.4 .5-3 .5-1.9 .5 .6 .5-2.2 .5 4.6 .5-.2 .5-2.6 .5 1.3 .5-1.1 .5 .7 .5-6.4 .5 4.1 .5-4 .5 4.7 .5-5.7 .5 5.3 .5-4.2 .5 5.8 .5-2.6 .5-3.6 .5 5.2 .5-1.6 .5 1.4 .5 4.3 .5-6.5 .5-.7 .5 3.1 .5-4.5 .5 3.1 .5 .8 .5-1.6 .5 2.7 .5-5.9 .5 10.2 .5-5.1 .5-.9 .5 6.2 .5-1.6 .5-6.5 .5 1.7 .5-2.1 .5-1.5 .5 4.3 .5 2.1 .5 4 .5-7.4 .5 2.1 .5-3.9 .5-.7 .5 3.1 .5-7.8 .5 1.2 .5 .6 .5 5.2 .5-1.5 .5 .6 .5-.2 .5 1.5 .5-4 .5 .5 .5-.2 .5 2.3 .5-3.9 .5 3.3 .5 7.5 .5-4.6 .5-1.5 .5-3 .5 2.2 .5-.9 .5 .1 .5-3.5 .5 3 .5 1 .5 .7 .5-3.4 .5 2 .5 2 .5-6.1 .5 2.6 .5-3 .5-.6 .5-2.6 .5-.5 .5 2.5 .5-2.6 .5 1.4 .5-8 .5 2 .5-3.3 .5 3 .5 3.1 .5-9.6 .5 2.1 .5-1.8 .5-1.6 .5-3.2 .5-2 .5 2.4 .5-8.8 .5 2.1 .5-1.2 .5-5.5 .5 2.1 .5 3.6 .5 4.7 .5-3.8 .5-.2 .5 1.5 .5 2 .5-2.3 .5-.6 .5-5.2 .5-2.8 .5-1.1 .5 4.2 .5-1.9 .5-.1 .5 3.6 .5 .8 .5-3.1 .5 6.6 .5 .1 .5 4.2 .5-.6 .5 4 .5-4.1 .5-2.4 .5-1.1 .5 3.6 .5 3.1 .5 3.5 .5 3.7 .5 1.4 .5 .6 .5 5.5 .5-2.2 .5 5.9 .5 2.4 .5-2.1 .5 .7 .5-1.6 .5-6.7 .5 3 .5-.3 .5-1 .5 1.3 .5 5.7 .5-3.5 .5 2.7 .5 1.2 .5-.8 .5 4.8 .5-.9 .5-.8 .5-.8 .5 3.1 .5 0 .5-2.3 .5-.8 .5 1.7 .5-1.1 .5 4.2 .5-.1 .5-1.4 .5 1.5 .5 .2 .5-5.8 .5 3.4 .5 .7 .5-4.5 .5-4.1 .5 3.8 .5-3 .5 3.7 .5-.3 .5-.3 .5-1.9 .5-5.3 .5 6.8 .5-6.9 .5 6.3 .5-2 .5-3 .5-.1 .5 .6 .5 4.8 .5-4.2 .5 3.5 .5-8.4 .5 6.6 .5-1.2 .5 3 .5-1.5 .5 2.5 .5-4.5 .5 3.8 .5-1.5 .5 2.9 .5-.7 .5-4.8 .5 4.8 .5 1.5 .5-6 .5 2.6 .5-2.8 .5-4.4 .5 3.2 .5-4.5 .5 3.6 .5-5.3 .5 .3 .5 3.9 .5-1.4 .5 .3 .5-3.9 .5-3.8 .5 4.5 .5-7.3 .5 3.8 .5-1.9 .5 1.9 .5-9.6 .5 4.4 .5-1 .5 1.8 .5-4.4 .5 7.6 .5-4.6 .5-4.3 .5 7 .5-.4 .5-1.1 .5 4.5 .5-.5 .5-.5 .5 3.7 .5 1.2 .5 2.4 .5-1.7 .5 0 .5-3.9 .5 1.4 .5 2.6 .5 5.9 .5-6.7 .5 1 .5 5.3 .5 3.9 .5-.6 .5-3.6 .5 5.7 .5-1.2 .5-2.1 .5-3.1 .5 2.4 .5 .5 .5 2.3 .5-3.6 .5 3 .5 4.1 .5 3.7 .5-1.2 .5-3.1 .5 3.2 .5-3.6 .5 1.2 .5-.4 .5-1.7 .5 0 .5 3.6 .5-.2 .5-4.9 .5 9.5 .5-1.2 .5-3.9 .5 2.2 .5 .6 .5 .6 .5-4.4 .5-.9 .5-.7 .5 3 .5-2.7 .5 4.5 .5-2.9 .5 2.6 .5-.8 .5 .7 .5 1.1 .5 6.1 .5-5.2 .5 3.6 .5 .1 .5-3.4 .5 1.7 .5-4.8 .5-1.8 .5 .3 .5-2.4 .5 1.8 .5-.2 .5 4.3 .5-2.4 .5 3.5 .5 .2 .5 .1 .5 .1 .5 5.1 .5 .3 .5-2.9 .5-2.3 .5-.8 .5-2.4 .5-1.9 .5 1.4 .5 .9 .5 2.6 .5 .6 .5-.1 .5-.6 .5 1 .5 1 .5 .4 .5-2.5 .5-.1 .5-1.3 .5-.7 .5 1.8 .5 1.3 .5-3.2 .5 .7 .5 1.9 .5 1 .5-5.8 .5 8 .5-.5 .5-.7 .5 3.3 .5-3.7 .5-5.4 .5 .2 .5-.9 .5-.9 .5 .6 .5-2.1 .5 3.1 .5 1.5 .5 0 .5-.6 .5 2.8 .5 .5 .5 7.6 .5-6.9 .5-2.3 .5 2.5 .5 3.7 .5 .4 .5-4 .5 1.7 .5-4.8 .5 3.2 .5-2.5 .5 0 .5 8.3 .5-6.3 .5 1.1 .5 .5 .5-2.6 .5-1 .5-2.2 .5 7.5 .5-5 .5-1.5 .5 3.7 .5 .3 .5 1.7 .5 3.3 .5-3.6 .5 .8 .5-.4 .5-4 .5 4.4 .5 .5 .5-3.1 .5 6.4 .5-.8 .5-2.1 .5 .5 .5-3.3 .5 2.3 .5-5.1 .5 .2 .5 1.4 .5 2.4 .5-2.8 .5-.8 .5 4.2 .5-3.4 .5-1 .5 .9 .5-3.4 .5 .6 .5 4.6 .5-2.5 .5 2.5 .5-2.6 .5 4.7 .5-3 .5 2.1 .5-1.2 .5 2 .5 1.8 .5-9 .5 3.7 .5-3.9 .5 2.7 .5 .2 .5-1.9 .5 4 .5-2.8 .5 6 .5-6.9 .5 1.5 .5-1.3 .5-1.5 .5-1.7 .5-3.6 .5 8.3 .5-4.2 .5 2.6 .5-3.3 .5 5 .5-.9 .5 2.9 .5-2 .5-.3 .5 3.9 .5-.3 .5 3.9 .5-3.9 .5-1.6 .5 2.8 .5-4.7 .5 6.7 .5-1.5 .5-1.9 .5-2.9 .5-1.9 .5-.4 .5-.2 .5-1.5 .5 3.5 .5 2.9 .5 .9 .5-7.5 .5 10.7 .5-5.6 .5-4.5 .5 1.6 .5 2 .5-3.4 .5-3 .5-1.1 .5 5.7 .5-2.7 .5 2.8 .5-.6 .5 .2 .5 4.6 .5 2.7 .5-4.5 .5-3.6 .5 2.2 .5 .6 .5-5.6 .5 8.1 .5-4.2 .5 4.3 .5-.5 .5 .7 .5-2.8 .5 6.1 .5-.8 .5 2.5 .5-5.4 .5 1.6 .5-2.8 .5 3.2 .5-1.9 .5-3.4 .5 2.8 .5-2.2 .5 0 .5 2 .5 2.8 .5-5.7 .5 2.4 .5-1.6"/>
<path fill="none" stroke="#8E8E00" stroke-width="8.8" stroke-linejoin="round" stroke-linecap="butt" d="M237.00 876.8l.5-1 .5-.2 .5-1.2 .5 3.1 .5-1.6 .5 2 .5-1.3 .5 .7 .5 0 .5 1 .5 1 .5-1.4 .5-1.2 .5 2.2 .5-2.3 .5 .1 .5-2.5 .5 2.4 .5-.7 .5-.4 .5 .7 .5 2.8 .5-2.4 .5 .4 .5-.2 .5-.6 .5-1.1 .5 2 .5-4.6 .5 2.8 .5 1.7 .5-2.3 .5-1.1 .5 3.6 .5-1.3 .5 1.1 .5 3.7 .5 2.2 .5-2.1 .5-4 .5 1.5 .5 0 .5-.7 .5-1.8 .5 .1 .5-.9 .5 0 .5 2.4 .5-1.2 .5 1 .5-1.4 .5 1.8 .5 .7 .5-3.5 .5 3.5 .5 0 .5-1.9 .5 2.3 .5 1 .5-.6 .5 .6 .5-2.8 .5 1.2 .5-3.3 .5 2.2 .5-.4 .5 0 .5-1.1 .5 .9 .5-1.1 .5 2.7 .5-1.1 .5-2.4 .5 2.5 .5-1.3 .5-1.3 .5 1.6 .5 2 .5 2.5 .5-5.1 .5 2.7 .5-1.3 .5 1.5 .5-3.7 .5 .8 .5 .1 .5 1.3 .5-1.2 .5 1.7 .5 .3 .5 2.2 .5-1.3 .5-.9 .5 1.7 .5-1.8 .5-.9 .5 1.2 .5 .5 .5 .2 .5-1.6 .5 3.6 .5-1.2 .5 .3 .5-.8 .5 0 .5 1.1 .5-3.9 .5 2.4 .5 2.2 .5-.4 .5-1.3 .5-1.1 .5 1.7 .5-3.2 .5 2.3 .5-.6 .5-1.9 .5-1 .5 2.2 .5-.2 .5-2.5 .5 2.3 .5-1.9 .5 .4 .5-.3 .5 1.7 .5 1.5 .5-.6 .5 2.4 .5-2.6 .5 1.5 .5-.2 .5-1.2 .5-.8 .5-.9 .5 1.1 .5-1.2 .5-.3 .5 1.4 .5 1.2 .5-2.4 .5 .6 .5 2.9 .5-1.5 .5-1.6 .5 1.8 .5-.7 .5 1.6 .5-2.1 .5 .8 .5 .4 .5-1.7 .5 1.6 .5-1 .5-3.6 .5 3.9 .5-2.3 .5 3.3 .5-1.2 .5-1.7 .5 2.5 .5 1.1 .5-4.4 .5 3.2 .5-.9 .5-1 .5 1.8 .5-3 .5-.3 .5 1.6 .5 .9 .5 .9 .5-1.4 .5 4.8 .5-4.1 .5-.8 .5 2.6 .5-3.3 .5 .6 .5-.1 .5 .1 .5-.3 .5 .4 .5 2 .5-1.3 .5-.5 .5-.9 .5 .2 .5-2.2 .5-.1 .5 .6 .5 .4 .5 1.2 .5 2.9 .5 .3 .5-.4 .5-1.8 .5 .2 .5-2.1 .5-1.5 .5 2.1 .5-2.1 .5 1.8 .5 1.7 .5 .8 .5-.3 .5 2.7 .5-2.6 .5-1.3 .5 3 .5-1.6 .5-2.9 .5 1.3 .5 .5 .5 1.2 .5-1 .5 1.5 .5 2.1 .5 1.8 .5 .1 .5-4.4 .5 .8 .5-2.4 .5 .9 .5 1.9 .5-2.5 .5-1.5 .5 2.4 .5-.6 .5-2.7 .5 4.7 .5-.4 .5-2.3 .5 1.4 .5 1.7 .5 .3 .5-2.5 .5-1.2 .5 .3 .5 .4 .5-1.6 .5 1.5 .5 1.6 .5-3.7 .5 3.9 .5-1.6 .5-.3 .5-2 .5 2.8 .5-.3 .5 2.3 .5-2.2 .5 .3 .5-.2 .5 2 .5-1.7 .5 1.1 .5-.9 .5-.8 .5-2 .5 2 .5-.7 .5 1.3 .5-.1 .5 .4 .5-.3 .5-1 .5 2.4 .5-2.5 .5 1.8 .5-1.9 .5 .9 .5-.1 .5 .5 .5-1.3 .5 1.6 .5-.8 .5 1.8 .5-.3 .5-2.5 .5 4.1 .5-.8 .5-.5 .5-2.1 .5 3.3 .5-1.8 .5-1.5 .5 1.5 .5-1.1 .5-3.2 .5 2.3 .5 .5 .5-2.4 .5 1.8 .5-2.2 .5 1.1 .5 3.1 .5-2.2 .5 .8 .5 1.4 .5-1.7 .5 3.7 .5-.8 .5-1.3 .5-1.9 .5 2.6 .5-1.4 .5 0 .5 1 .5-1.5 .5 .8 .5-1.1 .5-1.2 .5 1.4 .5-.2 .5 .1 .5 .1 .5 1.7 .5 .5 .5-.6 .5 2 .5-4.8 .5 5.1 .5-2.2 .5 1.7 .5-2.1 .5 .1 .5-.4 .5-1.6 .5 2.2 .5 1.6 .5-1.4 .5 1.6 .5-.8 .5-1.7 .5 1.3 .5 .1 .5 .7 .5 .5 .5 1.3 .5-2 .5-.6 .5-2.2 .5-.7 .5 .8 .5 1.8 .5-3.2 .5 .5 .5 1.7 .5-1.2 .5-1.4 .5-.3 .5-.5 .5-1.1 .5 .6 .5 0 .5 2.7 .5 .5 .5-3.9 .5 4.1 .5-2.7 .5 .1 .5 .3 .5 1.7 .5-1.6 .5 1.4 .5 1.1 .5 1.1 .5-2 .5-.1 .5 .7 .5-1.6 .5 .6 .5 .6 .5 1.7 .5 .8 .5-1.6 .5 .4 .5-2 .5 2.1 .5 2 .5-2.4 .5-1.8 .5 2.5 .5 .5 .5 .6 .5-3.1 .5 2.8 .5 .1 .5-.8 .5 2 .5-1.7 .5 .8 .5-2 .5-1.7 .5-1.3 .5 1 .5-2.2 .5 1.3 .5 1.7 .5-2.5 .5 1.1 .5-.3 .5 3.6 .5-3.3 .5 .3 .5 .5 .5-.5 .5 2.3 .5-2.7 .5 1.8 .5 .2 .5 3.8 .5-1 .5-4.8 .5 1 .5-1 .5 1.5 .5-.2 .5-.7 .5 2.2 .5-2.2 .5 3.5 .5-1.3 .5 1.1 .5-.3 .5-.5 .5 3.7 .5-1.5 .5 .7 .5-1.1 .5 .5 .5-.3 .5-2.3 .5-2 .5-.1 .5 .4 .5-.5 .5 2.2 .5-1.5 .5-.4 .5 .5 .5 .5 .5-.4 .5 0 .5-1.3 .5 4.1 .5 1.2 .5-1.5 .5 1.8 .5 1.7 .5-3.3 .5 1.3 .5-.9 .5-.9 .5-.8 .5-2.2 .5 .7 .5-4.6 .5 2.5 .5 .6 .5 .6 .5-1.2 .5-.7 .5 1.1 .5 1.6 .5-1.4 .5 1.4 .5-4.5 .5 .5 .5 .2 .5-.3 .5 1.2 .5-.2 .5-.9 .5 1.8 .5-.2 .5 1 .5 .4 .5 .2 .5-.7 .5 1.9 .5-1 .5 2.2 .5-.2 .5-.3 .5-2.9 .5 .6 .5-2.5 .5 2.8 .5-1.3 .5 2.6 .5-2.5 .5 2.2 .5-2.4 .5 .2 .5-.9 .5-1.7 .5 2.7 .5 .2 .5-2.5 .5 3.4 .5-2.1 .5 1.5 .5 .2 .5-2.3 .5-2.2 .5 .9 .5 .4 .5-1 .5 2.6 .5-1.4 .5 1 .5 1.7 .5-2.9 .5-1 .5 .9 .5-1.2 .5 .1 .5 .8 .5-2.8 .5 1.6 .5-2.8 .5 .2 .5-.4 .5-3.1 .5-.4 .5-2.9 .5 1.3 .5-1.4 .5-1.2 .5-.6 .5-3.1 .5-1.2 .5 .1 .5 1.1 .5-2.9 .5-.8 .5-.8 .5-.2 .5-4.7 .5-2.1 .5-.9 .5-2.5 .5-4.5 .5-3.3 .5-1 .5 .5 .5-7.9 .5-2.8 .5-4.3 .5-2.6 .5-3.9 .5-6.9 .5-4.5 .5-6.6 .5-7.1 .5-6.7 .5-5.7 .5-10.5 .5-7.1 .5-9.1 .5-10 .5-7.3 .5-12.1 .5-9.5 .5-13.8 .5-14.1 .5-13.1 .5-13.8 .5-15.4 .5-13.2 .5-13 .5-18.1 .5-13.7 .5-15.2 .5-12.3 .5-12.9 .5-11.4 .5-8.8 .5-10.7 .5-7.1 .5-8.6 .5 .1 .5-4.9 .5-.5 .5 .9 .5 2.9 .5 4.4 .5 6.3 .5 12.2 .5 7.7 .5 13.5 .5 13.8 .5 14.7 .5 14 .5 12.1 .5 15.8 .5 14.6 .5 13.5 .5 13.2 .5 14 .5 13.6 .5 11.8 .5 11.8 .5 13.2 .5 9.3 .5 10.7 .5 10.2 .5 11.6 .5 8.7 .5 8.9 .5 4.8 .5 9.7 .5 3.5 .5 11.5 .5 2.5 .5 4.4 .5 4.9 .5 3.5 .5 2.2 .5 6.4 .5 2.5 .5 4.9 .5 3.9 .5 2.4 .5 0 .5 2.9 .5 4.3 .5-.3 .5 1.4 .5 2.1 .5 1.6 .5 5.8 .5 1.7 .5 2.2 .5 0 .5-.3 .5 3.1 .5-.2 .5 0 .5 2.2 .5-1.4 .5 1.1 .5-2.5 .5 .5 .5 2.6 .5 .8 .5-2.2 .5 4.3 .5-1.6 .5 2.8 .5 1.7 .5-3 .5 1.8 .5 1.8 .5-1.1 .5 .5 .5 .4 .5-.7 .5-.9 .5 3.7 .5-2.1 .5 2.6 .5-1.5 .5 1.9 .5 0 .5-.7 .5-2.1 .5-.2 .5 .7 .5-.2 .5-.5 .5-2.9 .5 4 .5 1.5 .5 1.3 .5 .3 .5-1 .5 .1 .5 3.8 .5-5.6 .5 2.1 .5 .6 .5-3.5 .5 5.2 .5-.3 .5-2.9 .5 1.6 .5-1 .5-.6 .5-1.2 .5 1.1 .5 1.5 .5 1.5 .5-1.8 .5 2.7 .5-1.9 .5 1.4 .5-1.1 .5-.1 .5 1.6 .5 2.4 .5-1.3 .5 1.3 .5-1.4 .5 .7 .5-3.8 .5 3.4 .5 1.4 .5-1.8 .5-1.8 .5-3.9 .5 1.4 .5 2.2 .5-.9 .5 1.5 .5 .3 .5-3 .5 .8 .5 1.8 .5 .5 .5-1 .5-.2 .5 1.9 .5 1.1 .5-3.1 .5 2.3 .5 1.7 .5-1.9 .5-.8 .5-1.6 .5 1.1 .5-1.1 .5 2 .5-1.6 .5 3.2 .5-2.2 .5 .7 .5 1.6 .5-1.9 .5-3.4 .5 3.3 .5 1 .5-1.4 .5-.1 .5-.5 .5 1.2 .5-.1 .5-1 .5-2 .5 .7 .5-1 .5 3.5 .5-1 .5 .7 .5-.4 .5 1.4 .5 .5 .5-1.1 .5 .8 .5-4 .5 4.9 .5-1.5 .5-2.6 .5 1.1 .5 .4 .5-.7 .5 2.3 .5-.3 .5 .4 .5-1.9 .5 2 .5-2.6 .5 1.9 .5-.9 .5 2.4 .5-2.9 .5 3.6 .5-3.1 .5-.5 .5 .2 .5 1.1 .5-1.7 .5 2.6 .5-2.6 .5-1.2 .5 .4 .5 .6 .5-1.9 .5 1.4 .5 1 .5 .5 .5 2.5 .5-.2 .5 2.6 .5 .9 .5-3.7 .5-2.5 .5 1.7 .5-2.4 .5 2.8 .5-1.6 .5 .7 .5 .8 .5 2.3 .5-2.2 .5 0 .5 .1 .5-2.5 .5 3 .5-1.1 .5-1.8 .5 2.7 .5-1 .5-2.9 .5 1.7 .5 .5 .5-1.5 .5 2.8 .5-1.5 .5 1.8 .5-.6 .5 2.2 .5-4.1 .5-.5 .5 .3 .5 .5 .5-1 .5-1.3 .5 .9 .5 2 .5-1.1 .5 .7 .5-1.1 .5 1.5 .5-3.1 .5 2.5 .5 .1 .5-1.7 .5-1.4 .5 4.7 .5-1.9 .5-.6 .5-2.9 .5 5 .5-3.8 .5 2.2 .5-.1 .5-.9 .5 2 .5 2.5 .5-1.3 .5-.1 .5-1.2 .5 1 .5-.6 .5-.5 .5-.3 .5 .4 .5-.8 .5-.7 .5-.4 .5 .8 .5 1 .5-.5 .5 .4 .5 .2 .5-.9 .5 1.4 .5 .7 .5 0 .5-1.8 .5 .5 .5 1.8 .5 1.6 .5-1 .5-.7 .5-.1 .5 1.3 .5-2.2 .5-1.1 .5 .6 .5-1.3 .5 .6 .5-2.2 .5 1.8 .5-2.8 .5 1 .5 1.1 .5 .4 .5-1.3 .5 2.2 .5-1.2 .5 .7 .5-2.1 .5 2.5 .5 .1 .5 3 .5-3.9 .5 .6 .5-1.4 .5 2.5 .5-.7 .5-2.7 .5 2.9 .5-.9 .5-.8 .5 1.1 .5-.2 .5-1.9 .5 2 .5-1.5 .5 1.1 .5 1.5 .5-.9 .5-1.2 .5 2.2 .5 .7 .5-.6 .5 .3 .5-1.4 .5 1.8 .5-2.3 .5 .8 .5-.7 .5 2.4 .5-1.7 .5 2.1 .5-2.5 .5 .4 .5 .6 .5-2.6 .5-.7 .5-.1 .5 2.3 .5 1.6 .5-1.6 .5 3.4 .5-1.4 .5 1.9 .5-2.3 .5-.3 .5 .6 .5-1.9 .5 1.2 .5-1.3 .5-.5 .5 .7 .5 3.4 .5-2.1 .5-.1 .5 1.9 .5-1.2 .5 1.8 .5-3.1 .5-.3 .5-.1 .5 .6 .5-1.4 .5 1.7 .5-.7 .5-1.4 .5 1.6 .5-.4 .5-.3 .5-1.5 .5 1.9 .5-.3 .5 .3 .5 1.5 .5-1.9 .5 3.1 .5-1.7 .5-3.1 .5 1.1 .5 2.3 .5-2.1 .5-3.5 .5 2.8 .5-2.3 .5 3.2 .5 2.3 .5-3.5 .5 .5 .5-.8 .5 1.4 .5-.3 .5-.6 .5 .7 .5-2.4 .5-.1 .5 2 .5-1.1 .5 2.3 .5-.3 .5 2 .5-3.2 .5 3 .5-1.2 .5 1 .5 1.7 .5 .8 .5 1.3 .5-3 .5-.5 .5-1.6 .5 .1 .5 1.4 .5-.2 .5-2.3 .5-.2 .5 3.3 .5 .6 .5 0 .5 .1 .5-.7 .5-.3 .5-1.5 .5 .4 .5-.7 .5-.7 .5 1 .5 .9 .5-1.2 .5 1.8 .5-.4 .5 .8 .5-1.1 .5 .2 .5 1.9 .5 1 .5-1.7 .5-.2 .5 1.4 .5-4 .5-.7 .5 1.2 .5 0 .5 .5 .5 .8 .5-1.1 .5 1.1 .5-1.2 .5-1.2 .5 1.9 .5-1.6 .5 1 .5-.6 .5 .8 .5 .5 .5 .6 .5 2.4 .5-1.2 .5 2.6 .5-3.4 .5 1.1 .5-1.2 .5 3.4 .5-4.2 .5 1.7 .5-1.3 .5-.4 .5-.5 .5 .2 .5 1.9 .5-4 .5-.6 .5 3.3 .5-2.4 .5 .6 .5 .8 .5 .7 .5-1.2 .5 1.2 .5-.8 .5-.1 .5 .1 .5-.2 .5-1.3 .5 0 .5 2.2 .5-.4 .5 1 .5 3.2 .5-2.4 .5 3.5 .5-2.9 .5 3.7 .5-2.9 .5-2.6 .5 .1 .5-.1 .5 .8 .5-2.7 .5 2.2 .5-.9 .5 .7 .5-.3 .5-2.9 .5 .1 .5 4.3 .5-1.3 .5-2 .5 1.6 .5-1.2 .5 3 .5-3 .5-.2 .5-.3 .5 .7 .5-.9 .5-2.3 .5 3.7 .5-1 .5 .9 .5 .6 .5-2 .5 .7 .5 2.3 .5-1.8 .5 .9 .5-2.1 .5 .8 .5-1.7 .5 2.5 .5 3.2 .5 1.9 .5-.2 .5-4 .5 3.6 .5 .2 .5-1.2 .5-.6 .5-1.6 .5 1.6 .5-3.3 .5 1.7 .5-.8 .5-2 .5 1.1 .5-.7 .5-.8 .5 1.4 .5-.3 .5-1.6 .5 1.8 .5-.4 .5-1.9 .5 .6 .5 .6 .5 2.3 .5-3.5 .5 3.2 .5 .7 .5 .2 .5 1.2 .5-.4 .5-2.7 .5 4.7 .5-4.7 .5 4.1 .5-.2 .5-3.1 .5-.8 .5 2.9 .5-1.8 .5 2 .5-.7 .5 .2 .5-1.5 .5 .4 .5-1.5 .5 .4 .5-.3 .5 .3 .5 1.5 .5 0 .5 .8 .5-2.7 .5-1 .5 .9 .5-.5 .5 .5 .5 .4 .5 0 .5 3 .5 .2 .5-1.7 .5-1.1 .5 1.3 .5-3.1 .5-1.7 .5-.2 .5-3.4 .5 2.8 .5 .1 .5 2.3 .5 .5 .5-.9 .5-.5 .5 1.1 .5 .2 .5 .5 .5 .2 .5 4.1 .5-2.5 .5 2.3 .5-1.9 .5-1 .5 2.1 .5-3.4 .5 1.4 .5 1.2 .5-2.2 .5 4.3 .5 .5 .5-2.3 .5-.8 .5 .2 .5-1.6 .5 3.1 .5-4.5 .5 1 .5 1.8 .5 .3 .5-2.1 .5-.2 .5 .8 .5-1.5 .5-.1 .5-1.2 .5 3 .5-1.7 .5 1.9 .5 .5 .5-.5 .5 1.2 .5 1.1 .5 .4 .5-2.8 .5 3.9 .5-3.2 .5 2.1 .5-2.7 .5 1.9 .5-2.3 .5-.3 .5-.9 .5 1.6 .5-.9 .5-1.5 .5 3.5 .5-3.1 .5 2.6 .5-2.6 .5 1.6 .5-2.4 .5 2 .5 .1 .5-2 .5 1.9 .5 .5 .5-.6 .5 .2 .5 1.4 .5 4 .5-2.7 .5-.1 .5-1.2 .5-.8 .5-.5 .5 .2 .5-2.3 .5 2.6 .5 .5 .5 .6 .5-1.1 .5-1.4 .5 1 .5-1.5 .5 2.1 .5 1.1 .5-2.1 .5 2.6 .5-1.5 .5 4.3 .5-1.2 .5-1 .5 .5 .5-1.8 .5 .1 .5-.5 .5 1 .5-.6 .5-.6 .5-2.7 .5 2.6 .5-1.3 .5 2.1 .5 0 .5-3.2 .5-2.4 .5 2.3 .5-2 .5-1.6 .5 1.3 .5 .2 .5-1.1 .5 1.2 .5 .5 .5 1.7 .5-.2 .5 1.5 .5-2.3 .5 5.2 .5-4.8 .5-1.8 .5 1 .5-2.9 .5 .9 .5-2.4 .5-1.5 .5 2 .5-3.4 .5 2.4 .5 2.7 .5-2.7 .5-1 .5-.5 .5-.1 .5-1.1 .5 .1 .5-2.5 .5 .8 .5 .3 .5-3 .5 3 .5-.3 .5-2.8 .5 .9 .5-5.2 .5-.4 .5-4.6 .5 2.2 .5-1.8 .5-4.8 .5-2.8 .5-3 .5-1.4 .5-3.3 .5-5 .5-3.1 .5-5.4 .5-5.9 .5-4.2 .5-7.5 .5-3.7 .5-11.5 .5-7.2 .5-5.9 .5-7.3 .5-8.8 .5-8.9 .5-9.2 .5-9.3 .5-11.6 .5-11.5 .5-6.1 .5-11.2 .5-8.4 .5-7.4 .5-8.3 .5-3.2 .5-7 .5-5 .5-1.9 .5 .1 .5 2 .5 3 .5 6 .5 6.2 .5 7.2 .5 7.2 .5 9.1 .5 9.1 .5 12.3 .5 7.7 .5 10.3 .5 11.4 .5 10.9 .5 7.8 .5 10.1 .5 9.1 .5 9.1 .5 7 .5 6.6 .5 5.3 .5 3.9 .5 6.8 .5 7.4 .5 1.4 .5 4 .5 5.3 .5 3.4 .5 .9 .5 1.2 .5 2.2 .5 .1 .5 3.8 .5 1.7 .5 3 .5-.5 .5 2.6 .5 1.3 .5 5.6 .5 1.6 .5-.8 .5 .9 .5 2.1 .5 0 .5-1.6 .5 1.7 .5-.9 .5 2 .5 .5 .5-1 .5 3.6 .5-.9 .5 2.8 .5-2.6 .5 1.2 .5-2.1 .5 4.9 .5-.6 .5-1.4 .5 0 .5 .8 .5-2.2 .5 4.9 .5-4.2 .5 1.4 .5 0 .5 .3 .5-1.7 .5 2.1 .5-.8 .5-1.3 .5 3.7 .5-.6 .5 1.3 .5 1 .5-2.5 .5-1 .5 2 .5-1.2 .5 0 .5 .7 .5-1.9 .5 3.7 .5-4.2 .5 2.8 .5-2.7 .5 1.8 .5 .6 .5 1.9 .5-.4 .5-2.2 .5 2.4 .5-1.3 .5 3.7 .5-2.3 .5 1.4 .5-1.2 .5 .6 .5-1.7 .5-1.9 .5 .2 .5 1.7 .5-1.2 .5 2.4 .5-4.2 .5 1.9 .5 1.5 .5-.2 .5 .8 .5-1.8 .5 3.1 .5-3.9 .5-2.5 .5 4.9 .5-2.6 .5 1.2 .5-.1 .5 1.5 .5-2.4 .5 3.3 .5-2.3 .5 .5 .5 1.5 .5-.4 .5 2.9 .5-2.1 .5 1.8 .5-4.3 .5-.6 .5 3.7 .5-1.6 .5 .9 .5 2 .5-2.4 .5-1.2 .5-1.7 .5 1 .5-1.1 .5-1.8 .5 .7 .5 1.9 .5-2.1 .5-2 .5-1.4 .5 2.7 .5-.2 .5 .7 .5-1.1 .5 1.6 .5-.3 .5 2.2 .5-.9 .5 1.6 .5-.5 .5-1.3 .5-.7 .5 .3 .5 1.1 .5-1.9 .5 4.6 .5-1.3 .5-1.6 .5 1.7 .5 .3 .5-1.3 .5 2 .5-.2 .5-.5 .5-3 .5 3.8 .5-1 .5-3.8 .5 2.4 .5 1 .5 2.1 .5-2.6 .5 .3 .5-1.4 .5 2 .5-.6 .5-2.2 .5 2.2 .5-3.1 .5 2.5 .5-.4 .5 1.8 .5-2.3 .5 3.4 .5-2.3 .5 2.2 .5-1.5 .5 .9 .5-2.9 .5-1.8 .5 2.1 .5-3.1 .5 2.5 .5 1.4 .5-1 .5 1.1 .5-.9 .5 .6 .5 .9 .5-3.9 .5 1.2 .5 1 .5-.7 .5 3.3 .5-.8 .5-.7 .5-.5 .5 1.5 .5-1.1 .5 2.8 .5-2.8 .5-1.7 .5-1 .5 3.1 .5-3.4 .5-1 .5 2.9 .5 2.1 .5-3.8 .5-.6 .5 1 .5-2.4 .5 0 .5 4.4 .5 .9 .5-1.3 .5-1.2 .5 2.7 .5-1.2 .5-1.1 .5 .6 .5-.6 .5-1.2 .5 2.8 .5-2 .5 .7 .5 0 .5 .9 .5-2.4 .5-.7 .5 1.5 .5-2 .5 .2 .5 1.4 .5 1.4 .5-1 .5-1.5 .5-.4 .5 .6 .5-1 .5-2.5 .5-1.2 .5-1.4 .5 1.9 .5-1.6 .5-1.3 .5 2.1 .5-1.2 .5 .4 .5-3.2 .5-1.6 .5 1.1 .5-5.2 .5 .4 .5-.1 .5-2.4 .5 .3 .5-2.9 .5 .6 .5-.1 .5-2 .5-.2 .5-.2 .5-2.3 .5-3.3 .5 .9 .5-1.3 .5 1.3 .5 0 .5 .3 .5 0 .5 3 .5 .3 .5-.8 .5-1.5 .5 2.1 .5 1 .5 .2 .5 0 .5 .3 .5-1.9 .5-.7 .5 3.1 .5 3.8 .5 2.5 .5-2.8 .5 6.1 .5-4.3 .5 2.8 .5 .9 .5-1.3 .5 1 .5-2 .5 3.1 .5-.2 .5 2.2 .5-.1 .5 .9 .5 4.1 .5 1.8 .5-2.2 .5 1 .5 .8 .5 1.8 .5 .6 .5-.1 .5-.9 .5 2.2 .5 1.3 .5-.5 .5-1.1 .5-.4 .5 1.7 .5-1.8 .5 0 .5-.6 .5 .2 .5 .5 .5-.2 .5-.9 .5-1.1 .5 4.3 .5-.2 .5 1.2 .5-2.3 .5-2.3 .5 2.4 .5 2.1 .5-2.5 .5-2.1 .5 3.5 .5 1.9 .5-.2 .5-3.1 .5 3.2 .5-4.5 .5 4.8 .5-3.2 .5 1 .5-3.1 .5 .6 .5-.2 .5 .3 .5 2.6 .5-.3 .5 1.9 .5-.4 .5-.8 .5 .4 .5 .8 .5-.4 .5-.3 .5 0 .5 .3 .5-3 .5 .9 .5 .8 .5-1.1 .5 1.7 .5 2 .5-1.4 .5 .9 .5 2.9 .5-6.5 .5 2.1 .5 1.3 .5-4.5 .5 1.3 .5-.1 .5-1.8 .5 .4 .5 .6 .5 .5 .5 .9 .5 1.3 .5 2.3 .5-2.7 .5 1.6 .5 .1 .5-1.5 .5 1.4 .5-.8 .5-1.9 .5 .8 .5 .9 .5-.2 .5-5.5 .5 3.9 .5-4.1 .5 3.1 .5-1.8 .5 .8 .5 .8 .5-.9 .5-2.9 .5 3.9 .5 .4 .5-1.8 .5 1.8 .5-.3 .5 .6 .5-3.3 .5 .1 .5 3.7 .5-4.2 .5 .9 .5-.5 .5 .8 .5-1.1 .5-.3 .5 2.1 .5-1 .5-.1 .5 .5 .5-1.1 .5-1.6 .5-2.9 .5 .1 .5-2.6 .5-2.9 .5-1.7 .5 2.8 .5-2.6 .5 0 .5-.5 .5-.8 .5-4.4 .5-.5 .5 .1 .5-2.3 .5-1.8 .5-2.1 .5-4 .5-1.5 .5-4.8 .5-.5 .5-5.5 .5-3 .5-3.1 .5-5.2 .5-3.7 .5-3.9 .5-6.9 .5-3.2 .5-5.1 .5-4.6 .5-7.2 .5-4.8 .5-.4 .5-5.9 .5-5 .5-3.4 .5-1.4 .5-.9 .5-3.5 .5 1 .5-2.2 .5-1 .5-.6 .5 1.8 .5 .7 .5 1.2 .5 2.8 .5 4.1 .5 4.6 .5 5.4 .5 3.6 .5 5.6 .5 4.6 .5 4.6 .5 6.8 .5 3.5 .5 4.4 .5 8 .5 2.3 .5 3.4 .5 .4 .5 4.6 .5 2.2 .5 2.7 .5 4.8 .5 3.7 .5-.3 .5 2.6 .5 3.1 .5 2.4 .5 4.2 .5 1.9 .5 .6 .5 .4 .5 2.1 .5 .8 .5 0 .5-.3 .5 5.1 .5-.6 .5 2.6 .5 1.4 .5-2.7 .5 3.6 .5-.9 .5 0 .5 1.8 .5 3.3 .5-.7 .5 1.5 .5 1.4 .5-.2 .5-.1 .5-2.6 .5 .8 .5 .1 .5-1.2 .5-.2 .5-.4 .5-.6 .5 2.3 .5-.1 .5-1.6 .5 3 .5-1.1 .5 4.3 .5-2.4 .5 1.2 .5-1 .5-1 .5 2.9 .5-.5 .5-1.6 .5 1.9 .5-1.1 .5 .7 .5 1.5 .5-2.9 .5-.3 .5-.3 .5 .7 .5-.3 .5 .9 .5 .6 .5-2.4 .5-1.7 .5 .8 .5-1.2 .5 1.5 .5 .2 .5 .6 .5-1.5 .5 3.7 .5 .3 .5-1 .5 .3 .5 .8 .5-2.6 .5 3.1 .5-.8 .5 0 .5-.7 .5-2.6 .5 1.3 .5 2.2 .5-1.8 .5 2.7 .5-4.1 .5 1.8 .5-2.5 .5 2.1 .5-1.8 .5 1.3 .5 .5 .5 .6 .5 2.4 .5 .1 .5-3.8 .5 3 .5 1.3 .5-3.3 .5 .9 .5-.1 .5 .8 .5-1.7 .5-.6 .5 1.1 .5-1 .5 2.9 .5-2.1 .5 .9 .5 .4 .5-2.7 .5 3.7 .5-3.2 .5 1.9 .5-3.3 .5 1 .5-1.1 .5 1.3 .5 1.2 .5-5.2 .5 2.9 .5 .8 .5-3.1 .5-1.3 .5 2.6 .5 .7 .5-1.4 .5-.3 .5 0 .5 1.8 .5-.2 .5-.7 .5-2.3 .5 .1 .5 1.5 .5-2.3 .5-1.5 .5 1.1 .5 2.5 .5-4.2 .5 .4 .5-1.4 .5-.7 .5 0 .5 .1 .5-1.2 .5 1.9 .5 1.3 .5 .8 .5-4.4 .5 1 .5-3.2 .5-2.1 .5-2.7 .5-1.6 .5-.4 .5-1.1 .5-2.8 .5 4.4 .5-2.9 .5 .2 .5-1.7 .5-3.5 .5 1.7 .5-.1 .5-.6 .5-2.5 .5 .5 .5 .1 .5-3 .5-1.3 .5 3.3 .5 .6 .5-1.6 .5 1.7 .5-1 .5 .2 .5 1.5 .5 1.2 .5 2.2 .5-1.5 .5 .9 .5 4.7 .5 .5 .5-.2 .5 1.1 .5-.7 .5 3.1 .5-.3 .5 .7 .5 1.3 .5 0 .5 1.3 .5-.5 .5 1.8 .5 .3 .5-2 .5 .4 .5 2.1 .5 .3 .5-1.3 .5-.6 .5 2.8 .5-3.3 .5 1.5 .5 .3 .5-2.2 .5 .8 .5 1.4 .5-1.6 .5-1.8 .5 0 .5 1.6 .5-.9 .5-.9 .5 1.4 .5-2.7 .5-1.5 .5-3.4 .5 1.1 .5-4.1 .5-.1 .5-1.3 .5 1 .5-5.5 .5-2 .5 4 .5-2.1 .5 1.6 .5-3.5 .5-.7 .5-.7 .5 1.4 .5-5.1 .5 1.1 .5 3.4 .5-.7 .5 .1 .5 .6 .5-1.5 .5 4.4 .5-.2 .5 .2 .5 .7 .5 .8 .5 .6 .5-.5 .5 2.2 .5 2.9 .5 4 .5 .6 .5 .8 .5-.2 .5 2.4 .5 .6 .5-.3 .5 1.4 .5 3.7 .5-1.1 .5 6 .5-3.8 .5 .4 .5-1.7 .5 1.8 .5 .6 .5 .9 .5 2 .5-.2 .5 1.6 .5 1.1 .5-.6 .5-.9 .5 1.2 .5 .8 .5 1.8 .5-.7 .5-1.8 .5 .3 .5-.7 .5 1.5 .5 0 .5-.8 .5 3 .5-4.6 .5 5.9 .5-1.9 .5-1.5 .5 2.9 .5 2.5 .5-1 .5 1.3 .5 .1 .5-5.9 .5 .4 .5-.7 .5 2 .5-1 .5 1.5 .5 .6 .5 .5 .5-1.6 .5 .7 .5-.4 .5-.2 .5 1.2 .5-3.3 .5 .2 .5-2.3 .5 5.1 .5-.3 .5-.4 .5 .6 .5 .7 .5 1.2 .5 .8 .5-1.1 .5-2.6 .5 .5 .5 2.3 .5-1.3 .5 1.5 .5-.5 .5-2.5 .5-.4 .5 2.7 .5-1.6 .5 2.7 .5-2.5 .5 2.2 .5 .1 .5 1 .5-.3 .5-3.4 .5 1.9 .5-.2 .5 1.3 .5-.3 .5-.1 .5 .4 .5-2.4 .5 2 .5-2.2 .5-1 .5 1 .5 2.6 .5-3.4 .5 3.2 .5-1.1 .5 0 .5 .3 .5 .2 .5-.3 .5 .3 .5 .8 .5 2.9 .5-3.4 .5 1.5 .5-.4 .5-.8 .5-1.5 .5-.1 .5 .1 .5 1.2 .5-2.3 .5 .5 .5-.4 .5 .1 .5-1.1 .5-.1 .5 .3 .5-1.7 .5 .9 .5 .8 .5-.6 .5 2.7 .5-3.2 .5 1.7 .5 .4 .5-1.9 .5 1.8 .5-2.8 .5 1.1 .5 .6 .5-1.5 .5-.7 .5 2.8 .5-.4 .5 1.8 .5 .4 .5-1.1 .5 1.1 .5-3.5 .5 4.2 .5 .9 .5 1.5 .5-.8 .5-1.7 .5 1.9 .5-1 .5-3.1 .5 .2 .5 .3 .5 .7 .5-1.4 .5-.7 .5 .3 .5 .2 .5 .4 .5 .6 .5-.6 .5-.4 .5 .6 .5 1.6 .5-1.9 .5 .4 .5 .1 .5 0 .5 .3 .5 2.5 .5-1.3 .5 .5 .5 .9 .5-5 .5 4.3 .5 1 .5-1.4 .5 1.2 .5 .2 .5-1.2 .5-.8 .5-.1 .5-.9 .5 1.8 .5-.1 .5-3.2 .5 3 .5-2 .5 1.5 .5 1.6 .5-2.2 .5 .1 .5 4.3 .5-1.9 .5-1.4 .5 2.6 .5-3.1 .5 3.6 .5-4.4 .5 3.2 .5-1.6 .5 1.8 .5-3.7 .5 1.9 .5 .1 .5-1.7 .5 0 .5 2.9 .5-3.2 .5-1.1 .5 1.8 .5-.8 .5 1 .5-1.3 .5 1.6 .5-2.7 .5 2.7 .5-.6 .5 .8 .5 1.3 .5-1 .5 .6 .5-2.3 .5 .5 .5-2 .5-.4 .5 1.5 .5-.2 .5-3.1 .5 2.9 .5 1.6 .5-1.4 .5 3.3 .5 .9 .5-3.7 .5 1.2 .5 1.2 .5-1.3 .5-1.1 .5 1.2 .5-1.6 .5-1 .5-.1 .5-1 .5 3.1 .5-5 .5 5.6 .5-1.7 .5 1 .5-1.7 .5 1.3 .5-.5 .5 1.2 .5 .8 .5 1.1 .5-1 .5 .2 .5-2.5 .5-.2 .5-.9 .5 1.9 .5 1.2 .5 .1 .5 2 .5-.2 .5 .5 .5-2.1 .5 .2 .5 1.1 .5-3.4 .5 1.8 .5 .8 .5 .4 .5-.7 .5-1.1 .5 2.2 .5-.4 .5-.7 .5-.3 .5 2.9 .5-3.1 .5 0 .5 1.7 .5 0 .5-3 .5-.3 .5 1 .5-1.2 .5-3.1 .5 4.2 .5-1.8 .5 2.4 .5 1.4 .5 0 .5 1.4 .5-3 .5 1 .5-.8 .5-1 .5 .7 .5-1.7 .5 .6 .5 .2 .5 1.4 .5 1.1 .5-1.7 .5 1.3 .5 .1 .5-1.9 .5 1.4 .5 .7 .5 .7 .5 .1 .5-1.4 .5 1.5 .5-3 .5-.3 .5 2.6 .5-2.4 .5-2.7 .5 1.3 .5 .7 .5-1.9 .5-.1 .5 5.7 .5-1.4 .5 4.5 .5-.1 .5-2 .5 0 .5-.9 .5-1.3 .5 1.2 .5-4.5 .5 2.2 .5 .6 .5-.3 .5-2.4 .5 .2 .5 2.6 .5-1.3 .5 1.7 .5-1.9 .5 1.3 .5-2.1 .5-.7 .5-1.1 .5 1.4 .5 0 .5-.4 .5-.4 .5 2.4 .5 .5 .5-1.6 .5 3.6 .5-4.3 .5 1.7 .5-1.2 .5-1.6 .5 1.9 .5-1.6 .5-1.2 .5 1.5 .5-.2 .5 2.2 .5-1.6 .5 .7 .5 .6 .5 .9 .5-2.3 .5 2 .5-1.4 .5-1.1 .5 2.7 .5-.5 .5 2.1 .5-2.5 .5 3.2 .5-3.2 .5 1.1 .5-.7 .5-.4 .5-3.3 .5 3.3 .5-2.5 .5 2.3 .5 1.2 .5-.5 .5 .2 .5-.3 .5-1.8 .5 2.9 .5-3 .5 .1 .5-1 .5 1 .5-3.4 .5 1.9 .5 1.9 .5-.1 .5 .2 .5 .7 .5-1.7 .5 2.6 .5-4.7 .5 3.8 .5-.2 .5 .1 .5-.9 .5 3.2 .5-2.9 .5-1.3 .5 1.4 .5-.9 .5-1.4 .5 4.1 .5 .2 .5-.7 .5-.2 .5 .2 .5 .9 .5-.3 .5-.4 .5-1.3 .5-2.5 .5 3.2 .5 2 .5-4.1 .5 2.6 .5-1.4 .5 .8 .5 1.1 .5 .2 .5 3.2 .5-3.7 .5 4.6 .5-5 .5 2 .5 2.1 .5-3.1 .5-1.9 .5 0 .5 1.2 .5-.1 .5 .6 .5-.5 .5 1.6 .5-1.2 .5 2.4 .5-2.3 .5 1.8 .5-1 .5-4.1 .5 1 .5-2.4 .5 4 .5 1.6 .5-.2 .5-1.7 .5 1 .5 3 .5-1.3 .5-1.6 .5-.1 .5 1.3 .5-6.7 .5 .4 .5 1.7 .5 2.8 .5 1.5 .5-2.7 .5 .8 .5-.3 .5 0 .5 2 .5-.3 .5-1.1 .5 .2 .5 1.3 .5-.9 .5-.6 .5 2.9 .5 .7 .5-1.3 .5 3.4 .5-1.2 .5-.5 .5-1.5 .5-1.8 .5 .4 .5-2.3 .5-3.8 .5 4.2 .5-1.6 .5-1.2 .5-.9 .5 1.5 .5 2.3 .5-.9 .5-1.6 .5 .9 .5 3.1 .5-.2 .5-1.8 .5 3.1 .5-3.4 .5 4.3 .5-1.1 .5-2.3 .5 0 .5 1.7 .5-4 .5 3.3 .5-1.5 .5-1.7 .5 1.9 .5-.8 .5 2.9 .5-1.1 .5 .3 .5-2.6 .5-.1 .5 .8 .5-1.4 .5 2.1 .5-1.4 .5 1.4 .5 1.3 .5-2.1 .5 .3 .5-1.8 .5 3.6 .5-2.3 .5 1.8 .5 1.1 .5-2.2 .5 2.7 .5-.8 .5-.2 .5-.2 .5 1.1 .5 1.3 .5-2.2 .5 1.9 .5-.7 .5-1.3 .5-2.6 .5 1.8 .5-1.2 .5 1.1 .5 .8 .5-.3 .5-2.4 .5 1 .5 1.4 .5 .4 .5 2.9 .5-4 .5 1.4 .5-1.1 .5-1.5 .5 1.9 .5-3 .5 4.6 .5-1.1 .5 .9 .5-.1 .5-2.9 .5 .3 .5-.5 .5 1.5 .5-1.6 .5 2.4 .5-3 .5 2.7 .5-.9 .5 1.1 .5-1 .5 3.1 .5-1.1 .5 .3 .5 2.4 .5-4.3 .5 .1 .5 .9 .5-.3 .5-.2 .5-.1 .5 .5 .5 1.3 .5-2.2 .5 1.1 .5-.7 .5 .3 .5-2.1 .5 .3 .5 0 .5 2.9 .5-.5 .5-.5 .5 1.9 .5-.1 .5-2.3 .5 2.1 .5-.5 .5 1.3 .5-2.2 .5 1.2 .5 .7 .5-1 .5 .9 .5 .7 .5-3.3 .5 3.6 .5-5.4 .5 4.8 .5-2.5 .5 2.1 .5-3.6 .5 .3 .5 .1 .5 0 .5 .9 .5-.6 .5-1.4 .5 2.9 .5 1.2 .5-1.8 .5-1 .5 .9 .5-1.6 .5 1.4 .5-1.9 .5 1.4 .5-.1 .5 1.6 .5-.2 .5 1.6 .5-1.4 .5 .9 .5 .8 .5-3.4 .5 1.7 .5-1.6 .5 .8 .5-1.6 .5 2.3 .5-.4 .5-1.1 .5 1 .5-1.9 .5-.9 .5 1.2 .5 .1 .5 .3 .5-1.5 .5-.3 .5-1.1 .5 1.6 .5-2 .5 2.3 .5-.5 .5 2.2 .5 1.2 .5-2.4 .5 2.9 .5-2.5 .5 4 .5-.2 .5-.3 .5-2.7 .5 .9 .5-.5 .5-1.9 .5 2.4 .5-1.1 .5-1.3 .5 3.7 .5 .9 .5-4.7 .5 .1 .5 2.5 .5-2.6 .5 3.1 .5-2.8 .5 .5 .5 3.2 .5-2.9 .5 .4 .5-1.3 .5-.7 .5 1.3 .5-1.7 .5 .9 .5-.5 .5 2 .5 1.7 .5-6.1 .5 4.7 .5 .3 .5 1.9 .5-4.1 .5 3.6 .5 .4 .5-1.4 .5-1.4 .5 .6 .5 2.8 .5-4.1 .5-.6 .5 .6 .5 .3 .5-1.3 .5-3.7 .5 3.2 .5-1.9 .5 1.1 .5 1.9 .5 .9 .5 1.4 .5-2.1 .5 1.8 .5 2.3 .5 .2 .5-1 .5-1.8 .5 1.1 .5-.8 .5-.7 .5 1.9 .5-1.5 .5 .7 .5-1 .5 1 .5-2.6 .5 2 .5-1.2 .5 .4 .5-2.3 .5-.2 .5 2.9 .5-.5 .5-.6 .5-.4 .5-3 .5 2.6 .5 .5 .5-.2 .5 .8 .5-.4 .5 2.3 .5 1.1 .5-1.1 .5-.5 .5 1.2 .5 1 .5-1.4 .5 .2 .5 .1 .5-2.9 .5 2.3 .5 .2 .5 1.3 .5-.5 .5-1 .5 2.4 .5-2.3 .5 .2 .5 .1 .5-5 .5 2.6 .5-.6 .5 2.4 .5-5.1 .5 3.2 .5 .4 .5-.9 .5 1.5 .5-.5 .5 1.3 .5-.9 .5 .1 .5-1.6 .5-.6 .5 3.4 .5-2.6 .5 .3 .5 .7 .5 0 .5-.5 .5 .5 .5-2.7 .5 4.4 .5-1.7 .5-1 .5 .7 .5 .4 .5-1.4 .5 .6 .5-1 .5 .5 .5 1.1 .5-.1 .5-.4 .5 2 .5-1.6 .5-1.3 .5 1.5 .5-.9 .5 0 .5-.5 .5 1.6 .5-1.3 .5-.5 .5 4.1 .5 1.3 .5-2.3 .5-.6 .5-1.1 .5-1.4 .5 2.1 .5-1.3 .5 .3 .5 1.1 .5 2.4 .5-.2 .5-1.3 .5-1.6 .5-.3 .5 .9 .5-3.1 .5-.7 .5-1.2 .5 2.9 .5-.6 .5-.8 .5 2.6 .5 0 .5 .7 .5-2.6 .5 .8 .5 1.4 .5 1.2 .5-1.1 .5-1.9 .5 1.2 .5-1.8 .5 .8 .5-2.5 .5 2.1 .5-.4 .5-.2 .5 1.2 .5-.6 .5-.2 .5 .1 .5-3.4 .5 .8 .5 1.5 .5-.2 .5-.8 .5 1.7 .5-2.4 .5 .4 .5 1.1 .5-2.7 .5 .7 .5-2.6 .5-1.9 .5 1.3 .5-4.1 .5-1 .5 1.2 .5-3 .5 1.6 .5 .7 .5-2.9 .5 .7 .5 .9 .5-3.8 .5-1.5 .5 1 .5-2.9 .5-3.4 .5 4.3 .5-7 .5 1.1 .5-.5 .5-5.4 .5 1.3 .5-.1 .5-4.9 .5 1.2 .5-4.3 .5-1.9 .5-4 .5-3.1 .5-3.1 .5-6 .5-5.6 .5-5.5 .5-4.8 .5-3.8 .5-5 .5-6 .5-5.4 .5-10 .5-3.8 .5-7.1 .5-8.4 .5-7.7 .5-10.1 .5-6.3 .5-9.6 .5-7.5 .5-11.2 .5-8.9 .5-7.9 .5-12.1 .5-12.7 .5-8.6 .5-9.2 .5-6.9 .5-10.3 .5-5.2 .5-3.9 .5-5.7 .5-6.3 .5-.3 .5-3.8 .5-.5 .5 5.7 .5 1.6 .5 3.1 .5 4.7 .5 5.3 .5 4.9 .5 6.4 .5 8.3 .5 9.4 .5 8.1 .5 9.5 .5 10.6 .5 11 .5 10.7 .5 8.6 .5 11.1 .5 10.8 .5 9 .5 6.3 .5 11 .5 6.6 .5 5.9 .5 8.1 .5 8.9 .5 3.4 .5 7.8 .5 4.2 .5 5.2 .5 1.8 .5 5.7 .5 4.8 .5 2.4 .5 3.8 .5 4 .5 1.2 .5 4.5 .5 3.6 .5 5.1 .5 1.6 .5-1.2 .5 3.7 .5 2.4 .5 2.1 .5 3.9 .5-.9 .5-.1 .5 2 .5 2.7 .5 .2 .5 .9 .5 3.7 .5 .9 .5 .2 .5 1.7 .5 0 .5 .5 .5 1.2 .5-.3 .5 1.4 .5-.4 .5-2.2 .5 1.1 .5 .4 .5 .8 .5 .7 .5 .3 .5-1.1 .5 2.7 .5 .2 .5-.2 .5-.7 .5 2 .5-.8 .5 1.8 .5 1.5 .5-.7 .5-.3 .5 2.5 .5-3 .5 .8 .5 2.5 .5-.2 .5 .6 .5-2.3 .5-.3 .5-1.6 .5 1.4 .5-4.7 .5 2.7 .5 1.4 .5 .5 .5 .1 .5 1.2 .5-2.3 .5 1.4 .5-.9 .5-1.4 .5 1.4 .5 .6 .5 1.8 .5-1.9 .5 2.4 .5-.4 .5-2.5 .5 4.6 .5-3.5 .5 1.2 .5 2.3 .5-1.2 .5-.9 .5 1.6 .5-1.7 .5 1.5 .5-1.7 .5 .9 .5 1.4 .5-3.4 .5 2.4 .5-3.1 .5-.1 .5-.6 .5 2.9 .5 2.4 .5-2.6 .5 2.3 .5-2.1 .5 1.7 .5 1.7 .5-1.1 .5 0 .5-1.4 .5-.6 .5 .9 .5-1.3 .5 0 .5-3.1 .5-.6 .5 1.2 .5-3.3 .5-.4 .5 1.5 .5-1.6 .5-.6 .5 .4 .5 3 .5 1.2 .5-.4 .5-1 .5 .8 .5-1 .5 1.8 .5-2.6 .5-.1 .5 .8 .5 .2 .5 .2 .5-1 .5 .6 .5-.9 .5-.9 .5 .8 .5-1.6 .5 1 .5-.3 .5-.5 .5 .2 .5-.9 .5-1.5 .5-.5 .5 .2 .5-2.6 .5-.4 .5-1.8 .5 .5 .5-1.7 .5-.2 .5-1.5 .5-3.6 .5-1.9 .5-1.6 .5-.3 .5-5.5 .5 1 .5-1.5 .5-3.3 .5 2 .5-5.4 .5-.9 .5-1.9 .5-4.4 .5 .7 .5-2.8 .5-5.3 .5 2.5 .5-5.3 .5-2.4 .5-4.1 .5-3.3 .5-3.3 .5-4.6 .5-1.8 .5-1.9 .5 .1 .5-4.1 .5-1.8 .5 .9 .5-2.2 .5 .5 .5 0 .5-1.8 .5 1.4 .5 1 .5 2.5 .5 1.4 .5 3.1 .5 1.2 .5 1.8 .5 3.9 .5-.1 .5 3.8 .5 3.1 .5 4.2 .5 0 .5 5.2 .5 3 .5 1.3 .5 3.3 .5 3.6 .5 3.8 .5 2.8 .5 3.1 .5 .9 .5-.7 .5 2.7 .5 1.1 .5 .2 .5 3.5 .5 1 .5 3.6 .5-.7 .5 1.8 .5 1.7 .5 1 .5 2.1 .5-1.3 .5 2.5 .5 .3 .5-.9 .5 1.1 .5-.8 .5-.8 .5 4.3 .5 .9 .5 2.1 .5-1.4 .5 .3 .5 .4 .5 .8 .5-.4 .5-.9 .5 .4 .5 .5 .5 1.4 .5 .2 .5 1.1 .5-2.3 .5 1.2 .5 .9 .5-1 .5 1.6 .5 1.1 .5-.5 .5 1.7 .5 1.9 .5-3.1 .5-.2 .5 3.7 .5-3 .5 3.2 .5-1.1 .5-1.7 .5 .1 .5-2.5 .5 .3 .5 1.2 .5-.5 .5-1.6 .5 2.7 .5-3.3 .5 1.9 .5-.1 .5 1.6 .5 1.3 .5-1.7 .5 1.5 .5-1.9 .5 0 .5-1.6 .5 3.4 .5-.9 .5-.2 .5 0 .5 .7 .5 2 .5-3.7 .5 .7 .5 1.8 .5-2.8 .5 2.1 .5 1.1 .5-1.6 .5-.3 .5 1.2 .5 .2 .5 .4 .5 .2 .5-.5 .5-.2 .5-1.3 .5 3.8 .5-2.9 .5 .9 .5-.6 .5-.4 .5-.4 .5-.8 .5 1.9 .5 1 .5-.6 .5-.9 .5 .2 .5 0 .5 1.2 .5-1.1 .5-1.2 .5-.9 .5 1.4 .5-.2 .5 .5 .5-.8 .5-1.8 .5 .4 .5-.4 .5 0 .5 2.9 .5-1 .5 .8 .5 .2 .5 4.4 .5-3.9 .5 1.4 .5 2.1 .5-2 .5-3.1 .5 .8 .5 0 .5-.8 .5-.3 .5 2.1 .5 2.3 .5-2 .5-1.6 .5 2.4 .5-.8 .5 1.2 .5-1.3 .5 2.9 .5-3 .5 0 .5-1.7 .5 1 .5 .2 .5-1 .5-.7 .5 .8 .5-2 .5 .6 .5 3.4 .5-.8 .5 1.5 .5-2.6 .5-1.6 .5 1.5 .5 1.6 .5-4.2 .5 2.5 .5-2.8 .5 4.4 .5-3 .5-.8 .5 2.1 .5 1.3 .5-.4 .5 2.3 .5-1.3 .5-2.4 .5-1 .5 1.7 .5-1.2 .5-3 .5 2.8 .5-3.3 .5 1.8 .5 .6 .5 1.5 .5 .4 .5 3 .5-.1 .5-2.1 .5 1.7 .5 2.7 .5-3.1 .5 .7 .5-2.1 .5 2 .5-.3 .5 2 .5-3.9 .5 1.5 .5-.6 .5-1.9 .5 .9 .5-1.7 .5-.3 .5 1 .5-.3 .5-.6 .5 .9 .5 1.4 .5-2.7 .5-1.1 .5 .1 .5 1.7 .5-.7 .5-1 .5 3 .5 .7 .5 1.8 .5-.7 .5-1.5 .5 2.7 .5 1.6 .5-1.5 .5-2.2 .5 1.8 .5-1.5 .5-2.6 .5 1.9 .5-2.1 .5 2.6 .5 .1 .5 2.9 .5-1.4 .5 1.5 .5 .1 .5-5 .5 2.8 .5 .5 .5-2.3 .5 2.3 .5-1.6 .5 .6 .5-2.6 .5 2.4 .5-1.3 .5 2.2 .5-.9 .5 3.7 .5 1.2 .5-3.8 .5 2.5 .5-3.7 .5 1.3 .5 .3 .5-2.6 .5 3.2 .5-.5 .5 .1 .5-.5 .5 .6 .5-2.2 .5 .9 .5-.2 .5 .6 .5-3.5 .5 3.1 .5-.9 .5 .5 .5 1 .5-.8 .5 .8 .5-1.1 .5 .1 .5 .6 .5-1.4 .5-.1 .5-2.5 .5 1.6 .5-.5 .5 2.1 .5-2 .5 1.7 .5-1.3 .5 3.6 .5-1.2 .5-1 .5 .8 .5-2.3 .5 1.3 .5-.9 .5 1.4 .5 .5 .5 0 .5 2.1 .5-1.4 .5-.9 .5 2.7 .5 .7 .5-2 .5-2.5 .5 0 .5-.9 .5 2.8 .5 1.8 .5-.9 .5-.1 .5 .9 .5 1.7 .5-2.4 .5 1.2 .5-2.4 .5-2.3 .5 1.5 .5-.3 .5-4.7 .5 5.5 .5-3.9 .5 3.2 .5 .6 .5-1.3 .5-1 .5-.1 .5 2.5 .5 .5 .5-1.7 .5 1.9 .5-3.3 .5 2.4 .5-.8 .5 2.4 .5-.9 .5-1.8 .5-2.1 .5 1.1 .5 .3 .5-.4 .5 .9 .5 .5 .5-3.3 .5 .9 .5 1.8 .5-2 .5 3.1 .5 .6 .5-.4 .5-1.5 .5 1.5 .5 1 .5-2.4 .5 1 .5 .5 .5 2.2 .5-2.1 .5 1 .5-.7 .5-1.4 .5 1.6 .5-3 .5 .7 .5 4.6 .5-5.4 .5 2.5 .5-1.3 .5 2.7 .5-3.9 .5 0 .5 1.9 .5 1.4 .5 .1 .5 .9 .5-.7 .5-.1 .5 .5 .5-.9 .5 .5 .5-2.8 .5 3.6 .5 .2 .5-1.8 .5-3 .5 2.8 .5-.4 .5-1.1 .5 .2 .5-.4 .5 2.9 .5-1 .5 0 .5-.9 .5-1.2 .5 3.6 .5-2 .5-.3 .5 1.7 .5-.5 .5 .5 .5 1.2 .5-3.2 .5-1.2 .5-2.1 .5-.9 .5 1.1 .5-1.6 .5 1.4 .5 1.5 .5 3.5 .5-5.3 .5 2.9 .5 2.4 .5-1.8 .5 1 .5-.8 .5-.7 .5-2 .5 .6 .5 .2 .5 .1 .5-1.5 .5-1.4 .5 2.8 .5-1.2 .5 2.7 .5-1.6 .5-.3 .5 2 .5 1.7 .5 .1 .5 .1 .5-1.8 .5-.1 .5-1.5 .5 1.9 .5-2.1 .5 1.4 .5 1.7 .5-2.7 .5 1.4 .5-1.1 .5 2 .5-.5 .5 1.5 .5-1.9 .5 .3 .5-.8 .5 .2 .5-.1 .5-.4 .5-1.4 .5 3 .5-1.1 .5 .9 .5 .3 .5 1.7 .5-.9 .5-2.4 .5 3.2 .5-.5 .5-.4 .5 2.9 .5-1.6 .5-2.6 .5-.1 .5 1.6 .5-3.7 .5 6.4 .5-4 .5-1 .5 2.9 .5-1.4 .5-.1 .5-2.1 .5 .4 .5 2 .5-2.7 .5 1.9 .5-.1 .5 1.2 .5-1.2 .5-2.2 .5-2 .5 3.7 .5 .2 .5 1.4 .5-2.1 .5-3.3 .5 2.7 .5 1.2 .5-1.5 .5-.9 .5 .7 .5-.8 .5 .8 .5-.9 .5 0 .5 1.6 .5-.1 .5 5.4 .5-2.4 .5 .1 .5-2.6 .5-.9 .5 1.1 .5-3 .5 .8 .5-.2 .5-1.1 .5-.4 .5 1.9 .5 .6 .5-5.7 .5 1.8 .5 .4 .5-1.4 .5-2.2 .5 5.5 .5-2.9 .5-1.6 .5 .3 .5 1.1 .5-2.4 .5-1.4 .5 .2 .5-3.1 .5 1.6 .5-.3 .5-4.5 .5 .3 .5-1.6 .5 .3 .5-1.7 .5-1.6 .5-2 .5-2.7 .5-.5 .5-.6 .5 1.2 .5-.4 .5-.3 .5-1.1 .5-.2 .5-3.1 .5-2.7 .5-.7 .5 2.8 .5-2.7 .5-2.3 .5-.3 .5-.4 .5 .3 .5-.9 .5-5 .5 1 .5-1.5 .5-.6 .5 2.4 .5-.7 .5 2.9 .5 1 .5-1.8 .5 3.1 .5-4.4 .5 4 .5 1 .5 .5 .5 2.3 .5 2.3 .5-.7 .5 2.3 .5 2.2 .5 1.1 .5-.5 .5 2.1 .5 3.1 .5-.2 .5 1.2 .5 3.9 .5-.2 .5 .2 .5 .3 .5 2.4 .5 3.2 .5-.5 .5 .7 .5-1.4 .5 1.9 .5-1 .5 .6 .5 .7 .5 1.2 .5 2.2 .5-5.8 .5 2.6 .5 2 .5 .1 .5 1.3 .5 .9 .5 2 .5-2.7 .5-.4 .5 1.6 .5 .4 .5-2.7 .5 1.1 .5 1.9 .5-1.5 .5-.5 .5-.8 .5 .9 .5 1.7 .5-2.7 .5 4.7 .5-.1 .5 0 .5-4.1 .5-1.2 .5 .4 .5 1.2 .5 0 .5 2.3 .5 .2 .5-2.1 .5 2.2 .5 .7 .5-1.1 .5-.8 .5-1.1 .5-2.8 .5 .9 .5-.9 .5 2.2 .5 1.1 .5-2.4 .5-1.4 .5 1.1 .5 1.2 .5-2.8 .5-.8 .5 1.5 .5 .9 .5-3.2 .5-1.7 .5 2.4 .5-2.3 .5-.3 .5 .6 .5-1.7 .5 1.4 .5-3 .5 .7 .5-1.8 .5-4.2 .5 .5 .5 1.1 .5-4.7 .5 .2 .5 1.6 .5-5.1 .5-.2 .5-.8 .5-.6 .5-2.1 .5 1.3 .5-1.9 .5-2.5 .5 2.4 .5-1.5 .5-2.3 .5 1.3 .5-.4 .5-.4 .5 2.4 .5-1 .5 .3 .5-1.1 .5 2.9 .5-1.3 .5 1.8 .5 1 .5-1.1 .5-.2 .5 1.3 .5 .5 .5 2 .5 2.9 .5-3.1 .5 3.3 .5-1.6 .5 3.9 .5 2.1 .5 2.1 .5-2.8 .5 4.5 .5-.9 .5 2.9 .5-.1 .5 0 .5 3.3 .5-1.5 .5 1.4 .5 .8 .5 1.2 .5 .6 .5 1.1 .5 1 .5-.9 .5 .6 .5-1.3 .5 1.5 .5 2.2 .5-1.8 .5 1.1 .5-1.6 .5 1.8 .5-.8 .5 1 .5-2.6 .5 4 .5-1.9 .5 .4 .5 3.6 .5-1.7 .5 2.1 .5-4.1 .5 1 .5-.8 .5-1.1 .5 0 .5 1.7 .5 1.2 .5 1.1 .5-.1 .5 .8 .5 .6 .5-1.5 .5 1.2 .5-2.2 .5 2.9 .5-3 .5-1.6 .5 2.5 .5-1.2 .5 2.1 .5 3.1 .5-1.6 .5 2.5 .5-1.4 .5-1.8 .5-1.5 .5-.9 .5 .7 .5 1.3 .5-1 .5 3 .5-.8 .5-.3 .5 .8 .5 2 .5-1.2 .5-3.6 .5 3.5 .5-1.6 .5 .5 .5-1.1 .5 1.7 .5-1.7 .5 .8 .5 .9 .5 1.1 .5-.2 .5 2.3 .5-3.8 .5 0 .5 1.2 .5 2.9 .5-3.8 .5-.3 .5-.8 .5 .7 .5 1.1 .5-2.3 .5 2.1 .5 1.2 .5-1.1 .5-.1 .5 1.3 .5-1.9 .5 .6 .5-.7 .5 .4 .5-.8 .5-.2 .5-.9 .5-.8 .5 1.3 .5-1.6 .5 .7 .5 1.3 .5 2 .5-.2 .5 .2 .5-4.1 .5 2.6 .5-3.8 .5 1.3 .5 .4 .5-1.1 .5 1 .5-1.3 .5 .3 .5 .3 .5-1 .5 .3 .5 3.2 .5-1.4 .5 1.3 .5 1.9 .5 1.7 .5-2.4 .5 1.6 .5-.4 .5-2.5 .5 1.1 .5 .8 .5-2 .5 2.8 .5-3.2 .5 1.8 .5 1.9 .5-3 .5-.7 .5 .8 .5 1.5 .5-.7 .5-.9 .5 0 .5 .4 .5-1.4 .5 2.5 .5-1.7 .5 1.4 .5-2.3 .5 0 .5-1.4 .5 1.2 .5 .5 .5-1.9 .5 1.7 .5 1 .5-.3 .5 .4 .5-.6 .5-.8 .5 .8 .5-.8 .5 1 .5 .2 .5 .8 .5 1.6 .5 1.7 .5-.7 .5-.9 .5 2.5 .5-2.9 .5-2.6 .5 1.9 .5-3 .5 2.2 .5-1 .5-.7 .5-2.2 .5 1 .5-.2 .5 3.2 .5-2.2 .5 1.9 .5 1.2 .5 .8 .5 .8 .5-2.9 .5-1.4 .5 1.7 .5 .9 .5-.5 .5 .4 .5-1.1 .5-.3 .5 1.2 .5-1.7 .5-.6 .5-.6 .5 1.5 .5-.7 .5-.3 .5 2.2 .5-.7 .5-1.1 .5 1.2 .5-.1 .5 .1 .5-2.1 .5 .3 .5-.8 .5 1.5 .5-1.7 .5 .4 .5 .1 .5 .5 .5-.1 .5-.2 .5-.7 .5 2.5 .5 .5 .5-2.3 .5 1.8 .5-2.3 .5 .8 .5-1.5 .5 4 .5-1.9 .5 1.1 .5-2.3 .5 3 .5-1.8 .5 .9 .5-2.2 .5 2 .5-.8 .5 .8 .5-.4 .5 .8 .5 1 .5-.3 .5 .5 .5-3.4 .5 .8 .5-.1 .5 1.4 .5-2.4 .5-1.5 .5 .4 .5 .7"/>
<path fill="none" stroke="#3F9AD0" stroke-width="8.8" stroke-linejoin="round" stroke-linecap="butt" d="M237.00 575.8l.5-2.4 .5 4 .5-5.8 .5-2.1 .5 2.4 .5-2.9 .5-.3 .5 1.1 .5 1.2 .5 3.5 .5-6.3 .5 4.5 .5-5.1 .5 3.7 .5 .6 .5 1.2 .5-5.5 .5 3.7 .5-4.7 .5 4.6 .5-1 .5 3.7 .5-9.2 .5 4.5 .5-.1 .5-2.5 .5 4.7 .5-2.4 .5 5.7 .5-2.7 .5 4.1 .5 2 .5-2.9 .5 2 .5-3.8 .5 2.3 .5-.2 .5 1.8 .5 1.5 .5-.9 .5-3 .5 1.6 .5 .1 .5-.3 .5-1.8 .5 1.6 .5-5 .5 8 .5 .6 .5-1.3 .5-2.3 .5 1.4 .5 .6 .5-1.3 .5-1.5 .5-3 .5 5.1 .5-.6 .5 2.9 .5-.9 .5 0 .5 3.3 .5-10 .5 3.8 .5 .7 .5 .6 .5-1 .5 .1 .5-.4 .5 1.9 .5-.8 .5 4.7 .5-1.9 .5 .4 .5-2.9 .5-1.1 .5 3.4 .5-4 .5-3 .5-1.1 .5 4 .5-3.8 .5 1 .5 2.6 .5-4.2 .5 8 .5-1 .5-1.1 .5 .2 .5-.2 .5-4.6 .5-1 .5 .8 .5-.2 .5 2.5 .5 2.5 .5-7.7 .5 6.5 .5-7.7 .5 4.8 .5-1.2 .5 .4 .5-2.9 .5 3.5 .5-4.3 .5 4.6 .5 2.6 .5 2.8 .5-1.8 .5-.4 .5-6.2 .5 .2 .5 4.1 .5-7.6 .5 8.7 .5-8.2 .5 8.5 .5-3.2 .5-1 .5 2.1 .5 2.4 .5-5.6 .5 6.1 .5-1.7 .5-7.2 .5 4.8 .5-1.9 .5-.1 .5 3.5 .5 .4 .5 1.5 .5 .2 .5-2.4 .5-.4 .5 .4 .5-1.9 .5 3.3 .5 .9 .5 .8 .5-3.8 .5-2.1 .5 2.6 .5 3.2 .5-4.8 .5-3 .5 .5 .5 1.2 .5-1.2 .5 .7 .5 5.3 .5-4.2 .5 1.8 .5-3 .5-3 .5-1.6 .5 2.7 .5 3.2 .5 .4 .5-.8 .5 5.1 .5-.2 .5 .1 .5 .4 .5 3 .5-2.2 .5-3.7 .5 .6 .5 2.7 .5-5.2 .5-.1 .5 2.2 .5-.3 .5 4 .5-5.9 .5 1.6 .5 2.1 .5-1.7 .5 .3 .5 2.3 .5 4.1 .5 .5 .5-10.4 .5 7.8 .5-1 .5-1.2 .5 2.4 .5-3.9 .5 3.8 .5-4.3 .5 5.4 .5-6.3 .5 .4 .5 1 .5 .3 .5 .1 .5-1.3 .5-.1 .5 4.4 .5-4.3 .5 4.7 .5-2.3 .5 .9 .5-2 .5 1 .5-2.7 .5 1.1 .5 .5 .5-4.6 .5 1.4 .5 .7 .5-.3 .5 5.2 .5-3.8 .5 4.4 .5-3.5 .5 .8 .5-1.6 .5-1.3 .5 1.7 .5 2.9 .5-2.9 .5 .5 .5 1.5 .5-1.2 .5 5.2 .5-5.5 .5-1.1 .5 2.7 .5-5.7 .5-.3 .5 3.6 .5-.9 .5-1.3 .5-.4 .5 .3 .5 4.1 .5-.1 .5-1 .5-.3 .5 2.4 .5 .6 .5-1.2 .5-.2 .5-.1 .5 .9 .5-3.2 .5-3.3 .5-.7 .5 .2 .5 5.6 .5-.5 .5 1.4 .5 2.7 .5-5.4 .5 .2 .5-8 .5 1.8 .5 3.1 .5-.1 .5 1.1 .5-1.3 .5 3 .5-1.4 .5 1.8 .5-2.8 .5-1.2 .5 .8 .5 2.1 .5-1.7 .5 4.4 .5-2.9 .5 4.8 .5 1.6 .5-5.3 .5 5.5 .5-1.1 .5 3.1 .5-.4 .5-.6 .5 1.2 .5-6.1 .5 2.5 .5-.5 .5-6.2 .5 .8 .5 7.2 .5-3.1 .5-2.7 .5 4.2 .5-1.2 .5-.1 .5 5 .5-2.2 .5-3.2 .5-1.9 .5 2.6 .5-.8 .5-2.3 .5 .5 .5-.7 .5 3.4 .5-1.7 .5-1.3 .5-.6 .5 4.5 .5-5.8 .5 .8 .5-1.1 .5 3.2 .5-4.8 .5 3.4 .5 2.2 .5-5.7 .5 .6 .5 .3 .5 .3 .5 1.1 .5-1.5 .5 1.7 .5-.7 .5-1.5 .5 3.7 .5-.8 .5-3.5 .5 5.4 .5-1.7 .5-1.5 .5 3.9 .5-5.6 .5-1.2 .5 6.7 .5-.3 .5-3.1 .5 0 .5 7.9 .5-4 .5 2.2 .5 3.9 .5-3.2 .5 .2 .5-1.9 .5-.6 .5-.7 .5-1.9 .5-1.5 .5-2.8 .5-1.9 .5-.4 .5 4.1 .5 .3 .5 .4 .5-4.1 .5 2.8 .5 3.6 .5 1.9 .5 .7 .5-1.4 .5 3.1 .5-2.2 .5-3.1 .5 3.1 .5-3.2 .5 4.8 .5-4.6 .5-.3 .5 2.3 .5-5.3 .5 3.2 .5 1.9 .5-.3 .5-2.2 .5 5.5 .5-3.8 .5 1.1 .5-4.4 .5 .1 .5-1.9 .5-1.7 .5 2.9 .5 .8 .5 2 .5 2.6 .5 1.7 .5 1.1 .5-1.6 .5-2.4 .5-3.2 .5-2 .5 4.1 .5-4.3 .5-1.2 .5-1.6 .5 1.2 .5 6.9 .5-2.6 .5 5.4 .5-2.4 .5 .6 .5-1.5 .5-5.5 .5 4.4 .5-.1 .5-1.4 .5-2.4 .5 5.3 .5-8.6 .5 4.3 .5 .5 .5-1.2 .5 .8 .5-2.9 .5 4.8 .5 3.1 .5-1.6 .5 .8 .5-4.3 .5-.5 .5 3.1 .5-2.7 .5 6.4 .5-2.9 .5 1 .5-.5 .5 2.8 .5-5.4 .5 4.5 .5-1.4 .5-2.5 .5-.7 .5 1.4 .5 7.9 .5-4.3 .5-.3 .5 0 .5-.7 .5-1.4 .5-2.8 .5 2.8 .5 3 .5 1.5 .5-3.4 .5 3.8 .5-6.7 .5 1 .5-1.2 .5-2 .5 2.2 .5-.6 .5 6.3 .5 2.3 .5-8.2 .5 3.4 .5 5.4 .5-10.4 .5 6.3 .5-8.1 .5 .4 .5 1.8 .5 1.3 .5 1.2 .5-4.9 .5 2.3 .5-3.8 .5 2.9 .5 2.9 .5-1.7 .5-1.7 .5 1 .5-1.9 .5 1.7 .5-6.7 .5 3.6 .5-3.1 .5 4.9 .5-5.1 .5-.8 .5 2.8 .5 2.3 .5 1.7 .5-3.4 .5 .3 .5 4.5 .5-2.7 .5-1.4 .5 2.2 .5-4.4 .5 .7 .5-4.8 .5 5.3 .5-4.8 .5 .3 .5 3.8 .5-2.8 .5-.7 .5-4.4 .5 2.8 .5-.7 .5 .2 .5-4.4 .5 7.6 .5-3.6 .5 5.2 .5 2.9 .5-2.5 .5-.1 .5-3.1 .5 1.7 .5-1.2 .5-6 .5 3.9 .5-.6 .5-4.4 .5 6.4 .5-6.4 .5 1.1 .5-1.9 .5 1.2 .5-1.6 .5-1.8 .5 1.1 .5 3.1 .5-.7 .5 4.4 .5 2.4 .5-11.4 .5-5.3 .5 0 .5-.8 .5-4.1 .5-4.6 .5 4.2 .5-3.3 .5-1.4 .5 3.4 .5-7.8 .5 1.4 .5-4.1 .5 3.5 .5-5.8 .5-6 .5-.6 .5-4.7 .5 4.5 .5-5.9 .5 2.6 .5-5.1 .5-4 .5-1.9 .5-.9 .5-7.3 .5-5 .5-3 .5-7.3 .5-6.8 .5-6.8 .5-3 .5-8 .5-3.1 .5-6.6 .5-8.7 .5-4.8 .5-8.1 .5-9.6 .5-12.8 .5-12.8 .5-8.6 .5-7.6 .5-12.7 .5-11.4 .5-13.3 .5-8.2 .5-16.5 .5-11.1 .5-12.6 .5-16.3 .5-9.8 .5-9.4 .5-12.8 .5-7 .5-7.2 .5-12.9 .5-3.8 .5-6.4 .5-5.5 .5-3.1 .5-3 .5 3.9 .5 5.7 .5 1.1 .5 3.3 .5 7.5 .5 7.8 .5 11.8 .5 9.7 .5 11.3 .5 14.8 .5 18.3 .5 14.7 .5 14.3 .5 8.1 .5 14.9 .5 9.4 .5 11.6 .5 10.5 .5 8.1 .5 7 .5 12.5 .5 5.6 .5 12.9 .5 8.5 .5 6.2 .5 9.9 .5 12.8 .5 7.5 .5 6.5 .5 3.4 .5 10.6 .5 2.1 .5 3.5 .5 6.4 .5 6 .5 .4 .5 11.3 .5 2 .5 3.5 .5 1.7 .5 2.3 .5-3.2 .5 3.1 .5-2.5 .5 9 .5-1.2 .5 5.4 .5-1 .5 .1 .5 7 .5-3.6 .5 4.4 .5 .7 .5-3.2 .5-.5 .5 2.4 .5 1.1 .5 2.6 .5 3 .5 5.5 .5-2.3 .5 2.7 .5-.9 .5 4.4 .5-5.8 .5 3.3 .5 2.6 .5-1.9 .5 2.9 .5-2.3 .5 4.7 .5-4 .5 5.1 .5-3.2 .5 .4 .5 2.9 .5 .6 .5 1.7 .5 5.5 .5 1.7 .5-1.5 .5 3.4 .5-5.4 .5-.6 .5 4 .5-2.3 .5-.7 .5-.7 .5 2.2 .5-3.7 .5 1.8 .5-1.7 .5-3.1 .5 3.7 .5 3 .5-.2 .5-1.8 .5 2.3 .5 .2 .5-2.4 .5 3.2 .5-5.8 .5 7.1 .5-2.7 .5 4.2 .5-3.5 .5-3.6 .5-.1 .5-.4 .5 2.9 .5-1.6 .5 1.1 .5 3.1 .5-5 .5 4.9 .5 0 .5-1.3 .5 1.4 .5-3.8 .5 6.4 .5-3.1 .5 3.6 .5-.5 .5-2.9 .5 .2 .5 2 .5-1.5 .5-.9 .5-3.3 .5 6 .5-1.4 .5 0 .5 1.9 .5 2.2 .5-2.7 .5 3.7 .5-7.4 .5 8.6 .5-3 .5-5.6 .5-1.1 .5 1 .5 3.3 .5 0 .5 .2 .5 2.2 .5-1.6 .5 .6 .5-5 .5 2 .5 2.8 .5 1.3 .5 1.6 .5 .6 .5-1 .5 1.3 .5 .3 .5-1.8 .5 1.3 .5-1 .5-1.3 .5-.9 .5 .6 .5-3.1 .5-3.4 .5 5.5 .5 1.3 .5 .2 .5 .6 .5-3.6 .5 4.2 .5-3 .5 .7 .5 0 .5 .5 .5 1.2 .5 .2 .5-1.2 .5 7.2 .5-5.8 .5-2.4 .5 3.6 .5-1.5 .5-1.7 .5 6.4 .5-4.1 .5 3.4 .5-2.7 .5-.2 .5 .5 .5 2.5 .5-2.9 .5 .4 .5-3.3 .5 .4 .5 .3 .5-4 .5 5.5 .5-.9 .5-3 .5 1.9 .5-1 .5 4.5 .5-1.9 .5 3.6 .5 3.8 .5-3.5 .5 4.8 .5-2.4 .5 1.6 .5-5 .5-1.7 .5 2.4 .5-.5 .5 3.8 .5-4.2 .5 .5 .5 1.9 .5-3 .5 1.6 .5-.6 .5 .8 .5 1.4 .5-4 .5-2.1 .5-1.1 .5 2.4 .5 3.7 .5-1.4 .5-.5 .5 3.3 .5-1.3 .5 .6 .5-.1 .5-.3 .5-3.8 .5-1.2 .5-1.9 .5 3 .5-1.1 .5 3.7 .5-5 .5-3.3 .5 3.7 .5-4.1 .5 1.3 .5-2.8 .5-.5 .5 4.9 .5-.8 .5 .7 .5 .3 .5-1.5 .5 4.3 .5 .4 .5-.5 .5 1 .5-5.2 .5 .2 .5-1.2 .5 1.3 .5 4.1 .5-4.1 .5 2.6 .5 .7 .5-7.1 .5 5.4 .5 4.6 .5-1.5 .5-.1 .5 1.6 .5 .2 .5-4.7 .5-.8 .5-.2 .5 5.9 .5-3.4 .5-2.2 .5 8.3 .5-.6 .5 1.4 .5-.4 .5-.5 .5-4.7 .5 5.2 .5-4.9 .5 4.4 .5-5.2 .5 .2 .5-.1 .5-1.8 .5-2 .5 2.9 .5-.1 .5 1.4 .5-1.5 .5-.6 .5-1.5 .5 2.5 .5 2.6 .5 1.9 .5 2.1 .5-1.4 .5 2.7 .5-4.9 .5-1 .5-3.8 .5 1.8 .5-1.7 .5 2 .5 1.2 .5 1.6 .5-1.6 .5 .8 .5 1.5 .5-.3 .5 3.3 .5-7.2 .5-.2 .5 3.5 .5 1.7 .5-4.5 .5-1.2 .5 2.8 .5 2.1 .5-3.3 .5 1.6 .5-.3 .5-2.6 .5 3.3 .5-1.4 .5-4.8 .5 2.6 .5-3.4 .5 11.9 .5-2.2 .5-5 .5-.2 .5 3.2 .5-.9 .5-.4 .5-3.7 .5 4.5 .5-2.7 .5 2 .5 6 .5-6.4 .5-3.2 .5 4.2 .5-3.1 .5 .6 .5-.1 .5 3.3 .5-2.5 .5 5.5 .5-2.2 .5-2.1 .5-1.5 .5 .4 .5-2.5 .5 2.1 .5-2.8 .5 6.7 .5-5.7 .5 6.8 .5 3 .5-5 .5 4.4 .5-6.6 .5 3 .5-2.1 .5 1.4 .5 1.2 .5 .4 .5-1.3 .5 .9 .5-5.5 .5 3 .5 5.4 .5-4.9 .5-1.6 .5-1.2 .5-.1 .5 5.1 .5-3 .5 2 .5-3.1 .5-.4 .5-4.7 .5-.5 .5-1.8 .5 4.9 .5-.8 .5-1.4 .5 1.4 .5 .3 .5-2.1 .5-3.1 .5 4.8 .5-2.2 .5 7.2 .5-7.3 .5 .1 .5 4.4 .5 .6 .5-3.8 .5 3.7 .5-5.2 .5 4.7 .5-6.4 .5 5.3 .5 3.3 .5 3.9 .5-8.2 .5 2.1 .5 .5 .5-5 .5 4.9 .5-5.7 .5 .1 .5 4.8 .5-1.6 .5 .6 .5 6.8 .5 1 .5-2.9 .5-.3 .5 2.5 .5 4.1 .5-4.5 .5-6.9 .5 3.2 .5 .8 .5-2.9 .5 5 .5-8.8 .5 9.5 .5-3.6 .5-.9 .5-.4 .5 3.7 .5-2.3 .5-3.8 .5 1.4 .5-1.5 .5 1.2 .5 .3 .5 2.9 .5 1.1 .5-1.6 .5 2.3 .5-5.5 .5 1.7 .5-1.2 .5 5.9 .5-.9 .5-4.8 .5 .7 .5-.2 .5-1.8 .5 4.2 .5 .1 .5-1.8 .5-7.4 .5 4.5 .5 1.9 .5-4.1 .5 1.9 .5 .3 .5 .4 .5 1.5 .5-4.3 .5 3.1 .5 6.6 .5 2.3 .5 .9 .5-2.3 .5 3.3 .5-1.5 .5-.8 .5-2.6 .5-3.6 .5 3 .5-1.6 .5-4.4 .5 6.4 .5-4.9 .5-.3 .5-.1 .5-2.8 .5-2.2 .5 5.7 .5 1.2 .5-.7 .5 4.6 .5-1.4 .5-.9 .5 .7 .5 2.7 .5-3.4 .5 5.3 .5-1.4 .5-.3 .5-4.1 .5-1.7 .5 1.4 .5-3.2 .5 3.3 .5-1.3 .5-.5 .5 .3 .5-.4 .5 3.2 .5 3.5 .5-2.3 .5 .8 .5 .8 .5 2.5 .5 .3 .5-8 .5 1.7 .5-.1 .5-.8 .5 .7 .5-1.8 .5-3.1 .5 .5 .5 3.8 .5-.1 .5 .3 .5 .3 .5-3.7 .5 .5 .5 1 .5 2.7 .5-3.3 .5 3.3 .5 6.1 .5-8 .5 2.8 .5 2.3 .5-3.8 .5 8.3 .5-4.6 .5-4.2 .5 1.9 .5-6.7 .5 .1 .5 3.9 .5-.1 .5-4.2 .5 .9 .5 2 .5-3 .5 1.7 .5-1.6 .5 3.1 .5-1.2 .5 3.2 .5 1.9 .5-.1 .5-6.9 .5 0 .5 5 .5 2.4 .5 1.3 .5-4.9 .5 3.4 .5-5.3 .5 4.3 .5-.7 .5 0 .5-1.6 .5-2 .5 6.2 .5-4.2 .5-2.3 .5 2.2 .5-.9 .5-4 .5 4.1 .5 .4 .5 3.3 .5 1.3 .5 .4 .5 .9 .5 1.4 .5-1.9 .5 1.1 .5-9.5 .5 5.6 .5-4.4 .5 3 .5-.8 .5 5.7 .5-1.8 .5 2 .5-3.3 .5 .2 .5 1.5 .5-.9 .5-3.7 .5 2.2 .5-1.5 .5 2 .5 3.3 .5 1 .5 4.3 .5-4 .5-.1 .5-1.2 .5-4.1 .5 2.4 .5-.1 .5-.2 .5 .3 .5-5.4 .5 1.8 .5-3.9 .5 .7 .5 3.3 .5-1.7 .5-1.4 .5 3.9 .5-.6 .5 .9 .5 .3 .5-1.6 .5 3.9 .5-1.3 .5-1.9 .5 5 .5-6.2 .5-1.6 .5-1 .5 2.4 .5 1.2 .5-3.5 .5 3.5 .5-2.7 .5 .6 .5 1.9 .5-.5 .5 .8 .5-3.8 .5 2 .5 4.4 .5-7.9 .5 .7 .5-.1 .5 4.6 .5-1.1 .5 .2 .5-4.2 .5 3.5 .5 .3 .5 2.3 .5 3.9 .5-4 .5-2.4 .5 5.6 .5 .9 .5-1.2 .5-1.1 .5 1 .5-2.5 .5-.5 .5 2.5 .5-4.7 .5 1.6 .5 1.5 .5-2.4 .5-3.1 .5 1.3 .5 1.7 .5 1 .5 .5 .5-.2 .5-1.4 .5-3.7 .5 4.2 .5-3.7 .5 4.3 .5-4.4 .5-1.1 .5 4.5 .5-4.1 .5 6.2 .5-5.7 .5 3.2 .5-2.6 .5 .6 .5-2.7 .5 2.3 .5-2.3 .5 2.8 .5-.6 .5 .4 .5-3 .5 .3 .5-1.8 .5 2 .5-1.6 .5 1 .5 1.1 .5 1.5 .5 5.5 .5-4.4 .5-3.6 .5 3.5 .5 2.6 .5-7.8 .5 .8 .5 .4 .5-.2 .5 1 .5 .7 .5-1.9 .5 .2 .5 1.2 .5-1.8 .5-.8 .5 0 .5 4.8 .5-3.1 .5-2.4 .5-.3 .5-.7 .5-3.7 .5 1.5 .5-.2 .5 4.3 .5-.3 .5-2.6 .5-2.7 .5-3.3 .5 2 .5-6.4 .5 2.7 .5 1.5 .5-2.9 .5-2.2 .5 1.6 .5-1.9 .5-2.5 .5-2.8 .5 .8 .5-1.3 .5-1.3 .5-.6 .5-3 .5 .3 .5 1.3 .5-4.3 .5-1.3 .5-6.2 .5-.1 .5-1.1 .5-1.5 .5-2.8 .5-5.8 .5-7.1 .5-3.1 .5-2.4 .5-6.9 .5-1.9 .5-6.2 .5-7.2 .5-2.1 .5 2.5 .5-13.6 .5-2.4 .5-8.6 .5-7.2 .5-7.2 .5-3.4 .5-15.2 .5-3.8 .5-8.9 .5-11.6 .5-10.3 .5-6.6 .5-6.9 .5-13 .5-5.9 .5-8.7 .5-5.6 .5 1.8 .5-2.8 .5-4.8 .5 0 .5-6.3 .5 4 .5 2.3 .5 3.7 .5 2.4 .5 8.6 .5 6.4 .5 11.4 .5 5.4 .5 11.8 .5 10 .5 10.2 .5 6.2 .5 13 .5 7.2 .5 9.1 .5 6.8 .5 9.4 .5 7.9 .5 3.4 .5 4.1 .5 6.6 .5 2.3 .5 2.7 .5 10.7 .5-3 .5 5.7 .5 5.9 .5 2.3 .5 11.1 .5-1.3 .5 2.7 .5 2.9 .5 3 .5-.7 .5 4.7 .5 5.3 .5 4.6 .5 1.6 .5 .9 .5 .6 .5 2.2 .5 1.2 .5 3.5 .5 1 .5-.9 .5 1.8 .5 1.1 .5-.3 .5-1.4 .5 3.5 .5 1.3 .5-2.9 .5 5.8 .5-.3 .5-2.1 .5-1.8 .5 1.7 .5 3.6 .5-9.1 .5 6.4 .5 0 .5-.7 .5-4.3 .5 5 .5 6.2 .5-6.3 .5 9.2 .5-7 .5 9.7 .5-5.9 .5-1 .5 1.2 .5-.8 .5-1.7 .5 2.9 .5-.2 .5 2 .5 .2 .5 2 .5-1.1 .5-2.1 .5-.7 .5 4.6 .5-1.6 .5-1.9 .5 1.2 .5 2.3 .5 3.6 .5-4.7 .5 2.2 .5-6.9 .5 .6 .5 .1 .5 2.8 .5-1.8 .5-3.9 .5 5.3 .5 .3 .5-.1 .5 .6 .5 2.3 .5-2.4 .5 4.4 .5-3.9 .5 .8 .5-3 .5 3.7 .5 6.5 .5-8.4 .5-3 .5 4.6 .5-.2 .5-1.5 .5 4.1 .5 .5 .5-.9 .5 7.6 .5-6.4 .5-2.8 .5 .5 .5 5.1 .5-2.8 .5 .4 .5-.4 .5-4.7 .5 3.3 .5-1.8 .5-1.7 .5 4.1 .5-1.4 .5 2.7 .5-1.9 .5 .1 .5-2 .5 2.2 .5-.1 .5 3.8 .5-1.1 .5 1.6 .5 .9 .5-2.2 .5-1.5 .5-.6 .5-3.3 .5 3.6 .5 .6 .5 3.2 .5-7.2 .5 1.2 .5 .6 .5 3.6 .5 .1 .5 .2 .5 1.9 .5-3.7 .5 .9 .5-3.2 .5 2 .5 .4 .5-2.6 .5-.7 .5 3.7 .5 .8 .5-1.5 .5-5.4 .5 .1 .5-2 .5 2.8 .5-.4 .5 2.2 .5-4.8 .5 3.4 .5-1.4 .5 3.2 .5 3.8 .5-3 .5 6.3 .5-5 .5 1.5 .5-2.3 .5 2.4 .5-3.7 .5 1.1 .5 .5 .5-4.8 .5 2.3 .5 2.1 .5 .6 .5-.9 .5-1.6 .5-.6 .5 .2 .5 4 .5-3.5 .5 .2 .5-.2 .5 2.4 .5 .7 .5-.6 .5 .9 .5-6.3 .5 6.1 .5 .6 .5-2.4 .5 .6 .5-.7 .5 1.7 .5 .7 .5 .7 .5-1.9 .5-.4 .5 .6 .5 2.1 .5-.7 .5-6.7 .5 1.3 .5-.1 .5-4 .5 3 .5 6.3 .5-1.2 .5-2.7 .5 .1 .5-.6 .5-4.7 .5 4.6 .5-6 .5 2.6 .5-3.3 .5 4.1 .5 5.1 .5-2.4 .5 7.8 .5-6.8 .5 2.6 .5-1.4 .5 2 .5-.5 .5-4 .5-.1 .5 3.3 .5-3.9 .5-6.2 .5 4.5 .5-1.1 .5-2 .5 .9 .5-3.6 .5 1.5 .5-1.5 .5 4.3 .5-3 .5 4.8 .5-3 .5-1.6 .5 .4 .5 0 .5 1.4 .5-1.2 .5-4 .5 2.3 .5-1.8 .5 3.3 .5-.9 .5 .5 .5-1 .5 2.4 .5-3.1 .5 4.3 .5-2.3 .5-4.7 .5-1.1 .5-2.8 .5 3.8 .5-4.7 .5 4.2 .5-7 .5 4.4 .5-.9 .5-2.4 .5 .4 .5 2 .5-1.1 .5-4.9 .5 4.8 .5-6.7 .5 3.7 .5 1.2 .5-5.3 .5 2.2 .5 2.4 .5-.7 .5 4.3 .5 2.6 .5 0 .5 2.6 .5 3.8 .5-3.5 .5 1.8 .5-3.3 .5-4.6 .5 10.2 .5-4 .5 .6 .5 3.3 .5-4.2 .5 6.4 .5-3.3 .5-4.4 .5 5.9 .5 .2 .5 .7 .5 4.2 .5-.9 .5-2.8 .5-.4 .5-.2 .5-3.6 .5 4.1 .5-.7 .5 3.2 .5 4.4 .5-1 .5-3.9 .5 3.6 .5-3.8 .5-.5 .5 4.8 .5 2.4 .5-5.6 .5-.4 .5 4.1 .5-2.7 .5 2.5 .5 1.9 .5-3 .5-3 .5 7 .5-8.6 .5-2.1 .5 2.1 .5 3.4 .5 .5 .5 3.7 .5-6.1 .5 6.9 .5-6.1 .5 1.8 .5 2.7 .5-1.5 .5-1.2 .5 2.3 .5 .1 .5-7 .5 .9 .5-1.4 .5 3.3 .5-4.9 .5 2.2 .5 5.9 .5 1.7 .5-4.3 .5 1.6 .5 1.9 .5 1.2 .5-.4 .5 .4 .5 .6 .5-3.3 .5 0 .5 7.9 .5-8.2 .5-2.5 .5 5.4 .5-3.1 .5-.8 .5-2.7 .5 1 .5 .4 .5 0 .5-2.1 .5 1.2 .5 3.2 .5 .8 .5-.1 .5-5.5 .5 2.5 .5-1.8 .5-3.2 .5 2.5 .5 5.4 .5-4.9 .5 2.2 .5-.3 .5 0 .5-1.7 .5 2.1 .5-4.9 .5 1.1 .5 .7 .5-.5 .5 2.1 .5-5.4 .5 3.9 .5 2 .5-2 .5 0 .5 .8 .5-2 .5 2.1 .5-5.6 .5-2.4 .5 1.7 .5 2.8 .5-5.1 .5 3.7 .5 .5 .5 4 .5 .7 .5-8.2 .5 1.4 .5 3.3 .5-1 .5 1.4 .5-3.1 .5 3.6 .5-7.7 .5-.3 .5-2.8 .5 1 .5-2.7 .5-1.1 .5-1.9 .5 .7 .5-5.3 .5 4 .5-3.1 .5-2.7 .5-7.5 .5 5.1 .5-5.2 .5-2.6 .5 2.6 .5-11 .5 1.6 .5 0 .5-.9 .5-5 .5 3.6 .5-12.5 .5 .8 .5-6.1 .5 2.1 .5-3.7 .5 .5 .5-9.2 .5-6.1 .5-4.7 .5-11 .5-1.7 .5-4.9 .5-2.5 .5-7.7 .5-1.6 .5-4 .5-.2 .5-6.2 .5-.8 .5 4.1 .5-1.3 .5 2.3 .5-3.7 .5 .1 .5 4.4 .5-1.1 .5 8.3 .5 .1 .5 6.7 .5 2.1 .5 4.9 .5 8.2 .5 3.9 .5 2.2 .5 2.7 .5 2.6 .5 2 .5 4.5 .5-1.9 .5 7.4 .5 6.3 .5-.3 .5 4.9 .5 2.3 .5 3.5 .5 8.5 .5 1.8 .5 2.3 .5 5.6 .5-2.6 .5 4.7 .5-1.7 .5 1.1 .5 3.8 .5 4.7 .5-4.2 .5 4.7 .5-1.7 .5 6.6 .5-7.1 .5 3.1 .5-1.1 .5 1.5 .5-2.5 .5 .1 .5 6.5 .5 1 .5-.1 .5 1 .5 8.1 .5-4.7 .5 3.5 .5-6.7 .5 1 .5 2.7 .5 .4 .5-4.5 .5 .9 .5 5.9 .5 2.1 .5-1.6 .5 4 .5-1.8 .5-1.1 .5 .1 .5-.5 .5 .9 .5-1.1 .5 1.1 .5 .6 .5-5.2 .5 2.4 .5-2.5 .5 3.4 .5 6.2 .5-4.5 .5 4.8 .5-.3 .5 1.6 .5 2.8 .5-9.1 .5 1.7 .5-3.3 .5 .6 .5 1.4 .5 .7 .5-3.1 .5 7.1 .5 2.5 .5-7 .5 4.6 .5-.7 .5-6.4 .5 1.9 .5-4.6 .5 .1 .5 1.8 .5 1.8 .5-4.4 .5 2.4 .5-1.3 .5 4.4 .5 .2 .5-1 .5-.6 .5-1.6 .5 6.9 .5-6.4 .5 3.5 .5-.8 .5 2.7 .5-1.7 .5-3.8 .5 8.5 .5-5.8 .5 .2 .5-.3 .5-1.6 .5-1.7 .5 1.8 .5-.6 .5 .6 .5-.2 .5 1.6 .5-.4 .5-2.3 .5 .2 .5-2.8 .5 3.5 .5 3.3 .5-4.1 .5 2.3 .5 .7 .5-2.6 .5 .9 .5-2.8 .5-4.6 .5-1.6 .5 2.4 .5-.8 .5-.5 .5-.6 .5 5.5 .5 .2 .5-7.9 .5 4 .5 1.9 .5-4.5 .5 2.2 .5-4.7 .5-.2 .5 1.3 .5 .2 .5-2 .5 0 .5-3 .5-2.2 .5-.2 .5-2.2 .5-1.7 .5-6.1 .5 2.9 .5 1.6 .5-5.8 .5 1.8 .5-.8 .5 3.6 .5-4.9 .5 1 .5-2.5 .5 .7 .5-1.8 .5-1.7 .5 .5 .5 .5 .5-7.8 .5 .6 .5 .2 .5 .1 .5-1.5 .5-9.7 .5 5.5 .5-3.5 .5 1.9 .5 1.5 .5-5.6 .5-.6 .5-.4 .5 3.9 .5 2 .5-1.6 .5 3.2 .5-.1 .5 2.3 .5-2.2 .5 5.2 .5-1.1 .5 3.6 .5-6.1 .5 2.9 .5-4.1 .5 5 .5-3.1 .5 3.7 .5 1.3 .5 .4 .5-7.2 .5 8.1 .5 3.8 .5-5.1 .5 1.7 .5 1.9 .5-4.9 .5 5.8 .5 1 .5 2.7 .5-2.1 .5 2.8 .5-1.2 .5-3 .5 6.8 .5-3.3 .5-1.7 .5-3.3 .5 1.5 .5 .3 .5-3.6 .5 2.9 .5-.8 .5-1.5 .5 1.3 .5-3.4 .5-.1 .5 3.1 .5-3.6 .5-.2 .5 2 .5-1.6 .5-1.3 .5 .2 .5-1.5 .5 1.6 .5-3.4 .5-4.5 .5 1.6 .5-2.2 .5-5.1 .5 4.2 .5-1 .5-5 .5 4.3 .5-1.8 .5 1.8 .5-3.8 .5-.6 .5 .8 .5 .7 .5-3.1 .5 .7 .5-.4 .5-.7 .5 5.1 .5 1.9 .5 5.4 .5 1.2 .5-.6 .5-.6 .5 7.1 .5-2.9 .5-1.1 .5 4 .5-2.4 .5 6.4 .5 1 .5 .9 .5 5.2 .5 .1 .5-.2 .5 2.1 .5-.3 .5 6.5 .5 2.2 .5 3.5 .5 .8 .5-3 .5-.5 .5 1.4 .5-.1 .5 2.5 .5-1.2 .5-3.5 .5 .3 .5 8.7 .5-6.5 .5-2.1 .5 5.7 .5-2.9 .5 0 .5 7.3 .5-1.5 .5 .5 .5 1.2 .5 3.5 .5-4.6 .5-.3 .5 6.5 .5 2.9 .5-2.6 .5 5.3 .5-1.5 .5-1.7 .5 2.1 .5-1.7 .5 .7 .5 3 .5 5.4 .5-2.5 .5-3.1 .5 2.6 .5-1.3 .5-5 .5-1.2 .5 2.9 .5-4.7 .5 1.2 .5 3.9 .5-4.6 .5 5.3 .5-3 .5-1.8 .5 1.7 .5 2.8 .5 .4 .5-5.3 .5 6.2 .5-4.9 .5 2.3 .5 .4 .5 0 .5-3.9 .5 7.2 .5-1.9 .5 1.6 .5-.6 .5 5.1 .5-4.5 .5-.1 .5 1.1 .5-2.2 .5 6.4 .5 0 .5-1.1 .5-3.5 .5 4.2 .5-.4 .5-3.7 .5 .9 .5 .5 .5-5.9 .5 3 .5 1.7 .5 3.2 .5-1.2 .5 5.1 .5-2.8 .5-.5 .5-1.6 .5-.8 .5 1.3 .5-2.4 .5 2.5 .5-2 .5-2.2 .5-3.1 .5 .2 .5 3.6 .5 .9 .5-5.5 .5 3.5 .5 .2 .5-2.8 .5 1.6 .5-1.8 .5 5.7 .5 .6 .5-2.7 .5-1.8 .5 .4 .5 6.6 .5-1.7 .5-2.7 .5-.1 .5 2.9 .5 1.1 .5-1.3 .5-6.7 .5 1.5 .5 6.2 .5-.5 .5-6.3 .5 4.4 .5-1.6 .5 3.3 .5 2 .5-2.4 .5 3 .5-4.4 .5 3.6 .5 0 .5 .6 .5-1.7 .5-1.5 .5 3.5 .5-2 .5 3 .5-6 .5 4.1 .5 .3 .5-4.2 .5 0 .5-1.9 .5-4.2 .5 6.8 .5-4.4 .5 3.8 .5-3.2 .5 4.5 .5-7.3 .5 4.6 .5 1.8 .5 3.4 .5-.5 .5 1.8 .5-2.8 .5 1.7 .5 .3 .5-5.1 .5 .2 .5 .6 .5-2.3 .5 5.6 .5-.7 .5-2.3 .5-.6 .5 1.3 .5 .5 .5-4.9 .5-.2 .5-2.6 .5 6.1 .5-.1 .5 2.1 .5-.6 .5-.2 .5-.3 .5-1.1 .5 1.1 .5 .3 .5-2.5 .5 2.9 .5-3 .5 1.3 .5-3.1 .5 1.8 .5 .4 .5 2.6 .5 2.1 .5-.8 .5-.8 .5-1.7 .5 .2 .5-.9 .5-2.1 .5-.1 .5 1.4 .5 2.4 .5-1.1 .5 4.8 .5-1.2 .5 1.3 .5-2.5 .5 3.9 .5-4.4 .5 3 .5 1.3 .5-1.8 .5-1 .5 2.1 .5-1.9 .5 .4 .5 4.9 .5 1 .5-2.1 .5-6 .5 3.1 .5-2.9 .5-3.6 .5 4.3 .5-.8 .5-1.2 .5 .7 .5-.1 .5 2.3 .5 1 .5-.6 .5-.1 .5-6.2 .5-.8 .5-.7 .5-7.2 .5 7.9 .5 1.5 .5 2.4 .5 1.5 .5-1.3 .5 .9 .5 2.5 .5-5.3 .5-5.1 .5 1.8 .5-.5 .5 1.3 .5 3.8 .5-5.3 .5 5.4 .5-2.3 .5 3.2 .5-1 .5 2.3 .5 .2 .5 4.4 .5-7.2 .5-.1 .5 2.9 .5-1.7 .5-.4 .5 .5 .5 .4 .5-1.5 .5 2.7 .5-1.5 .5-.9 .5 3.6 .5-3.1 .5 .5 .5-1.5 .5 .4 .5 .5 .5-4.7 .5 4.6 .5 .5 .5-7.2 .5 2.6 .5 4.4 .5 .7 .5-.8 .5 4.9 .5-4.4 .5 8.3 .5-.9 .5-1.1 .5-1.5 .5 3.9 .5-.4 .5-5.4 .5-1.2 .5 3.3 .5 .4 .5-6.4 .5-3.5 .5 2.5 .5 3.7 .5-1.9 .5-.1 .5 5.4 .5-2.2 .5 2.2 .5-1.6 .5 0 .5-4.5 .5-1.7 .5 3.4 .5-6.4 .5 1.9 .5 1.6 .5 2.6 .5 .4 .5-3 .5-2.6 .5 4.4 .5 .5 .5 2.4 .5-6.8 .5 7.5 .5-.9 .5-.1 .5-.3 .5-.4 .5-1.9 .5 3.4 .5-1.6 .5-.7 .5 2.1 .5 2.3 .5-1.2 .5 .7 .5 2.1 .5-2.1 .5-2.1 .5-2.6 .5-6.6 .5 6.3 .5-7.4 .5 3.1 .5-1.3 .5 2.6 .5 4.2 .5-3.7 .5 1.7 .5-4.3 .5 9.9 .5-9.6 .5 9.2 .5 .2 .5-1.2 .5-1.8 .5-2.2 .5-1.3 .5 .1 .5-.7 .5 2.3 .5-5.3 .5 2.7 .5 4.6 .5 .8 .5-6.9 .5 7.2 .5-1.4 .5 3.4 .5-4.7 .5 3 .5-3.1 .5-.5 .5-1.9 .5 3.2 .5 2.6 .5-4.2 .5 7.2 .5-3 .5 .1 .5 .5 .5-.4 .5-4.6 .5 5.1 .5-3.7 .5 1.7 .5-10.4 .5 5.5 .5-1.8 .5 3.1 .5-1.1 .5-.7 .5-1.7 .5-4.2 .5 2.3 .5 2.5 .5 .9 .5-.2 .5-2.4 .5 2.2 .5-1.2 .5 2.4 .5 2.9 .5 .1 .5 2.1 .5 2.4 .5 1.6 .5-2.7 .5-2.8 .5 3.7 .5-4.6 .5 4.9 .5-1.1 .5-4.1 .5 3.1 .5 .2 .5-1.6 .5 .5 .5 .1 .5-1.4 .5-1.3 .5 5.5 .5-4.7 .5 6.7 .5-4.2 .5 1 .5-2.3 .5-2.2 .5 1.6 .5 1.6 .5 .2 .5-2.2 .5 3.3 .5-.3 .5-2.2 .5 2.4 .5-5.4 .5-1.6 .5 5.4 .5 3.2 .5-1.1 .5 1.7 .5-3.8 .5-5.8 .5 1.1 .5 1.2 .5 .6 .5 5.5 .5-.8 .5-3.5 .5 1 .5-.3 .5 3.2 .5 2 .5-5.6 .5 2.8 .5 2 .5-7 .5 4.8 .5-1.6 .5-4.9 .5 1.9 .5 1.4 .5-2.2 .5 .9 .5-1.3 .5-3.2 .5 9.8 .5-3.2 .5-1.8 .5 7.2 .5-3.8 .5-5.7 .5-.9 .5 5.1 .5-1.4 .5-1.9 .5 5.4 .5-.2 .5 .8 .5-3.8 .5 3.8 .5-5.3 .5 4.6 .5 1 .5-3 .5 4 .5-3.3 .5-1.3 .5-.3 .5-4.5 .5 1.1 .5-1.5 .5 3.5 .5 2.6 .5-2.7 .5-3.1 .5 0 .5 5.1 .5 3 .5-.6 .5 3.6 .5-2.7 .5 3.3 .5 2.4 .5 1.7 .5-6.7 .5 4.3 .5-3.6 .5-1.5 .5-.7 .5 .7 .5 5.2 .5-2.5 .5 .4 .5-5.8 .5-.7 .5 0 .5 .6 .5-4 .5 1 .5-.6 .5 3 .5 .5 .5 .8 .5-.3 .5 1.2 .5-1.8 .5-.1 .5-5.2 .5 1.1 .5 .5 .5 4.1 .5-2.1 .5-3 .5 2.4 .5 2.9 .5-1.2 .5 .7 .5-.1 .5 1.8 .5 1.5 .5-4.2 .5-.9 .5 5.1 .5-8.4 .5 .9 .5 .6 .5-4.2 .5 1.9 .5-1.8 .5 1.2 .5 4.6 .5-1.4 .5-.4 .5 .4 .5-3.6 .5 6.8 .5-4.2 .5 3.8 .5-6.9 .5 1.9 .5-1.1 .5 5 .5-4.9 .5-.7 .5 3.9 .5-6.9 .5-2.1 .5 6.9 .5-2.1 .5 4.7 .5-1.9 .5-2.2 .5 2.3 .5-1.5 .5 3.7 .5-3 .5 6.3 .5-3.1 .5-3.1 .5-.4 .5-5.1 .5 1 .5 3.5 .5 2.2 .5 1.4 .5 .3 .5 1.1 .5-.7 .5 1.8 .5 .7 .5-3.4 .5-2.8 .5 .9 .5-1.5 .5 2.5 .5-4.5 .5 1 .5-3.1 .5 5.2 .5-1.6 .5 5.7 .5-1.6 .5 3.9 .5 2.6 .5-2.3 .5-.1 .5-3.3 .5-1.5 .5 .3 .5 3 .5-5.4 .5 .7 .5 5.8 .5-1.5 .5-3.9 .5 2.9 .5 1 .5-4.5 .5 3.7 .5-2 .5-.1 .5 .5 .5 .4 .5 .4 .5-2.6 .5 1 .5 .2 .5 4.2 .5-2.1 .5 2 .5-3.3 .5 4.3 .5 .9 .5 .1 .5-3.3 .5 1.1 .5 1.3 .5 .1 .5 1.5 .5 .1 .5-1.3 .5-.4 .5 .5 .5-5.2 .5 1.2 .5-2 .5 1.4 .5 .5 .5 4.1 .5 .1 .5-1.7 .5 1 .5 .4 .5 0 .5-6.3 .5 3.7 .5-1.3 .5-5.6 .5 8.8 .5 1 .5-2.8 .5-1.3 .5 6.5 .5-6.1 .5 0 .5-1.5 .5-.4 .5 7.2 .5-.6 .5 1.6 .5-4.2 .5 6.5 .5-7.6 .5-.8 .5 1.5 .5-2 .5 .5 .5 .1 .5-1.5 .5-1.7 .5-1.4 .5-1 .5 4.4 .5 1.1 .5-6 .5 0 .5 4.4 .5-2.6 .5-.8 .5 7.9 .5-.7 .5-.1 .5 2.8 .5-3.8 .5 3.6 .5-5.4 .5-.1 .5 5.9 .5-.9 .5-3.1 .5-5.8 .5 4.7 .5-3.8 .5 .7 .5 .1 .5-2.7 .5-.3 .5 4.3 .5-1.6 .5 2.7 .5 3.1 .5-3.9 .5 7.1 .5-1.9 .5-3.6 .5-.7 .5 4.9 .5-2.1 .5 2.2 .5 1.7 .5-1.6 .5-.4 .5-4.8 .5 1.4 .5 2.3 .5-1.7 .5-.2 .5-2 .5 2.5 .5-2.8 .5-3.2 .5 1.7 .5 2 .5 4.6 .5-3.4 .5 4.1 .5 0 .5-4.7 .5-.7 .5 .1 .5 1.4 .5 2.5 .5-3.2 .5-2.8 .5-.8 .5-1.5 .5 5.5 .5 0 .5 3.8 .5-6.5 .5 2.8 .5-2.8 .5 3.4 .5-.4 .5-4 .5 1.1 .5 3.2 .5-6 .5-1.5 .5 7.1 .5 3.8 .5-4.7 .5 2.1 .5-3.6 .5 1.6 .5 0 .5 2.8 .5 2 .5 3.8 .5-1.3 .5 2.4 .5-6.2 .5-5.2 .5 1.1 .5-.3 .5 2.3 .5-5 .5-2.1 .5 4.3 .5-5.9 .5 4.9 .5-2.3 .5 6.6 .5-1.3 .5-1.2 .5 3.6 .5-.6 .5-.4 .5-3.6 .5 3.6 .5-2.5 .5 .3 .5-1.8 .5-3.4 .5 4.5 .5 .2 .5-3.5 .5 .6 .5 .8 .5-3.1 .5 5.6 .5-5.2 .5-1.6 .5 1.1 .5-.3 .5 1.5 .5 0 .5-1.1 .5 3 .5-3.1 .5 1.8 .5-4 .5 .1 .5-1.3 .5 3.1 .5 2.1 .5-2.9 .5 .3 .5 5.3 .5 .1 .5-2.3 .5-.6 .5-3 .5 3.1 .5-3.3 .5 3.6 .5 2.6 .5-3.7 .5 4.7 .5-2.9 .5-1.1 .5 6.7 .5-4.1 .5-3.3 .5 3.5 .5-5.1 .5 2 .5-1.8 .5 1 .5-2 .5-3.7 .5-1.3 .5-.1 .5 1.7 .5 2.7 .5-3.4 .5-5.4 .5 8.8 .5 .6 .5-.4 .5 3.6 .5-2 .5-6.6 .5 1.6 .5-6.8 .5-3.5 .5 2.7 .5 2.8 .5-.5 .5-1.2 .5 .2 .5-.3 .5-2.7 .5 1.3 .5 2.4 .5-3.3 .5 4.1 .5-3.3 .5-1.7 .5-3.9 .5-1.8 .5-3.1 .5-.8 .5 2.3 .5-3.8 .5 .5 .5 .2 .5-4.6 .5-1.7 .5-3.3 .5 7.8 .5-6.5 .5-.8 .5 .2 .5-1 .5-1.5 .5-9.7 .5 .4 .5-7 .5 .8 .5-4.5 .5 .7 .5-4.2 .5-1.2 .5-2.4 .5-5.5 .5-4.9 .5-5.3 .5-6.9 .5-2 .5-6 .5-4.2 .5-3.8 .5-10.7 .5-3.4 .5-11.5 .5-2.8 .5-12.4 .5-2.7 .5-12.9 .5-8 .5-8.4 .5-8.6 .5-8.4 .5-9.7 .5-7.4 .5-8.3 .5-8.3 .5-9.9 .5-14.2 .5-9.8 .5-7.9 .5-3.7 .5-9.7 .5-2.1 .5-8.1 .5-.3 .5-2 .5-4.5 .5 2.1 .5 .2 .5 .7 .5 4.6 .5 6.6 .5 6.2 .5 5 .5 7.9 .5 6.6 .5 13.9 .5 7.5 .5 9 .5 7.4 .5 6.6 .5 14.1 .5 8.9 .5 11.4 .5 6.3 .5 10.3 .5 10.6 .5 3.8 .5 10.2 .5 4.8 .5 10.8 .5 9.3 .5 7.7 .5 6.5 .5 6.5 .5 8.4 .5 1.3 .5 2.5 .5-.6 .5 5.6 .5 3.4 .5 4.4 .5 4.9 .5-.9 .5 5.6 .5 3.2 .5-.7 .5 4.1 .5 5.8 .5 1 .5 3.6 .5-2.2 .5 5.9 .5 2.3 .5 6.7 .5-4.9 .5 7.6 .5-2 .5-2.9 .5-.1 .5 .1 .5 1.9 .5 5.2 .5 5.6 .5-3.4 .5-1.9 .5 9.4 .5-1.2 .5-1.7 .5 2.2 .5-2.3 .5 4.4 .5 .8 .5-2.1 .5 2.5 .5-1.3 .5-4.5 .5 4.6 .5-4.5 .5 4.1 .5 6.4 .5-4.5 .5 2.9 .5 3.3 .5-6.6 .5 4.7 .5 4.9 .5-3.9 .5-.6 .5-3.3 .5 2.7 .5 1.8 .5-3.4 .5-.3 .5 7.4 .5-1.9 .5 .8 .5 .7 .5 5.5 .5-.3 .5-3.6 .5 .6 .5-2.9 .5 .4 .5-3.4 .5 4.2 .5 0 .5 1 .5-2.1 .5-2.8 .5 1.5 .5-.7 .5 2.7 .5-4.4 .5 .4 .5 2.4 .5-.7 .5 7.1 .5 3.5 .5 0 .5 1.7 .5-2.4 .5-4.9 .5 5.1 .5-4.2 .5 4.7 .5 1.5 .5-6.8 .5 1.6 .5 2 .5-6.1 .5 5.1 .5-2 .5 .4 .5-1.3 .5 .9 .5-2.8 .5-.9 .5 0 .5 .5 .5-1.2 .5 1.9 .5 9.7 .5-2.1 .5-2.6 .5-.7 .5-1.5 .5-5.1 .5-1.8 .5 2.1 .5 3.8 .5 2.1 .5 2.9 .5 .7 .5-9 .5 2.8 .5 2.2 .5-1 .5-1.3 .5-6.7 .5 3.3 .5-1.5 .5-2.4 .5 5.3 .5-4.3 .5-1.4 .5 3.3 .5-.2 .5-4.9 .5 2.3 .5-1.7 .5 1.3 .5 .8 .5-2.5 .5-4.7 .5 6.3 .5 2.4 .5-2.8 .5-2 .5-3.4 .5 .5 .5-3.3 .5-5.3 .5-.9 .5 7 .5-6.3 .5 1.9 .5-1.8 .5-8 .5 5.5 .5-4.7 .5-6.9 .5 8.2 .5-4.7 .5 2.5 .5-3.5 .5-5.5 .5 .1 .5-5.8 .5 4.2 .5-3.7 .5-5.9 .5-2.7 .5-6.4 .5-.5 .5-.9 .5-6 .5-2 .5-3.1 .5-5.5 .5 1.2 .5 1.5 .5-.8 .5-1.3 .5-.2 .5 3.1 .5 0 .5-4 .5-.8 .5 4.4 .5-2.5 .5 .9 .5-.5 .5 6.1 .5-.2 .5 2.7 .5-.6 .5 4.4 .5-.3 .5 3.9 .5 1 .5 4.9 .5 3.8 .5 1.3 .5 1.6 .5 5.8 .5 6.2 .5-3 .5 1.9 .5 3.7 .5 3.8 .5 1.6 .5-.2 .5 1.2 .5 2.1 .5 5.2 .5-.4 .5 1.7 .5 1.1 .5 .3 .5 1.9 .5-1 .5 1.3 .5 .9 .5-4.8 .5 5.3 .5-3.5 .5 7.9 .5-6.4 .5 2.9 .5 4.5 .5 1.3 .5-2.1 .5 2.4 .5 1.5 .5 .2 .5-.7 .5-.9 .5-2.3 .5 6.2 .5-1.6 .5-1.7 .5-.2 .5 2.2 .5-3.1 .5 6.6 .5-4.8 .5 3.5 .5 4.1 .5-.1 .5 2.6 .5-4.4 .5-.1 .5-1.1 .5-4 .5 4.9 .5-.9 .5-1.1 .5 .6 .5-.1 .5 7.3 .5-4.3 .5 .6 .5-1.1 .5 2.5 .5 2.4 .5-3.9 .5 2.6 .5 0 .5-4.3 .5-2.9 .5-3.2 .5 6.5 .5-.4 .5-.1 .5-.1 .5-1.1 .5 2.7 .5 2.3 .5-.3 .5 .6 .5 1.2 .5-.6 .5 4.3 .5-9 .5 4 .5-.3 .5-2 .5 1.8 .5-2.2 .5-1.5 .5-2.2 .5 2 .5 5.8 .5-1.4 .5-.1 .5-.4 .5-4.1 .5 2.3 .5 1.5 .5-1 .5-.3 .5 3.8 .5 .4 .5 1.4 .5-3.4 .5 2.1 .5-2.6 .5 3.5 .5 0 .5-2.9 .5 .6 .5-1 .5 .8 .5-1.2 .5 1.2 .5 3.4 .5-3.3 .5 2.9 .5-3.7 .5-2.9 .5 .4 .5 3.4 .5 3.1 .5-9.2 .5 3.7 .5 3.1 .5 2.4 .5-3.6 .5-2.1 .5 .6 .5-1 .5-2.2 .5 5.9 .5-1.1 .5-1.2 .5-1.5 .5 .5 .5-1.6 .5-.8 .5-.8 .5 4.7 .5 .6 .5 .5 .5 1 .5-5.4 .5 6.1 .5-1 .5 2.8 .5-.3 .5-1.9 .5-3.2 .5 .8 .5 2 .5 1.8 .5-4.1 .5 2.2 .5-.4 .5-.8 .5 .6 .5-.9 .5 .5 .5-.6 .5-.5 .5 5.9 .5 1 .5-5.8 .5 .5 .5 2.4 .5-5 .5-.9 .5 .3 .5-1.6 .5 6.3 .5-1 .5 3.7 .5-2.9 .5-.8 .5-2.5 .5 .2 .5 1.3 .5-2.7 .5 3.9 .5-.2 .5-3.5 .5-.8 .5 2.9 .5-.4 .5-.9 .5 1.5 .5 6.1 .5-1.6 .5 2.5 .5-2 .5-.9 .5-1.9 .5-5.1 .5 8.1 .5 .2 .5-.6 .5-2.6 .5 2.9 .5 .6 .5-2.9 .5 1.7 .5 1.6 .5-3.1 .5-1.3 .5-1.1 .5 2.8 .5 2.9 .5 1.6 .5 0 .5-3.1 .5 2.9 .5 0 .5-8 .5 3.2 .5-.1 .5-3.3 .5-3.1 .5 8.3 .5-5.8 .5 3.3 .5 2.2 .5-2.5 .5 2.1 .5-.1 .5-4.7 .5-4.3 .5 4.7 .5 2.3 .5 .7 .5-3.5 .5 3.6 .5-3.4 .5 4.4 .5-1 .5 2.7 .5-5.1 .5 .9 .5-1.9 .5 2.7 .5 1.8 .5 1.1 .5-4.5 .5-.5 .5 2.1 .5-1.6 .5-2.3 .5-.9 .5-1.2 .5-5.3 .5 9.2 .5-3.8 .5 3.1 .5-3.6 .5 .5 .5 5.8 .5-2 .5-1.6 .5 4.3 .5-3.2 .5 3.1 .5 .7 .5 1 .5-.3 .5-.1 .5-2.1 .5 5.9 .5-.9 .5-3.2 .5 4.1 .5-8.6 .5 .2 .5-.3 .5 3.7 .5-1.3 .5-3.9 .5 .3 .5 1.2 .5 .5 .5 2.9 .5 1.3 .5 1.5 .5-2.7 .5-3 .5 3.5 .5-1.7 .5-1.1 .5 3.5 .5 .2 .5-3.7 .5 .8 .5 .4 .5-2.9 .5 2.1 .5-.8 .5 3.1 .5 2.8 .5 1 .5-3 .5-2.6 .5-1.5 .5-.4 .5 1.8 .5 4.1 .5-2.7 .5 2.2 .5 1.9 .5 .5 .5-2.4 .5-1.9 .5-.3 .5-.3 .5 4.5 .5-5.3 .5 1.3 .5-2.8 .5 2.1 .5-5.1 .5 3.2 .5 1.9 .5-4.3 .5-.1 .5-.6 .5-.3 .5-3.1 .5 2.6 .5 2.7 .5-4 .5 4.5 .5-.3 .5 .4 .5 4.4 .5-6.4 .5 4.2 .5-2.5 .5-3.4 .5 0 .5 6.2 .5-2.4 .5 2.4 .5-.7 .5-1.5 .5-4.4 .5-2.1 .5 8.9 .5-4.5 .5-1.2 .5 3.9 .5 .4 .5-2.4 .5-2.2 .5 6.2 .5-2.2 .5 1 .5 2.4 .5-.8 .5-1.4 .5 .2 .5-2 .5-.8 .5 2.1 .5-2.3 .5 2.6 .5-3.5 .5 1.1 .5-3.9 .5 3.3 .5-1.1 .5 3 .5-2.3 .5 .5 .5-7.1 .5 4.8 .5 .4 .5 4.8 .5 1.4 .5 1.7 .5 2.6 .5-.4 .5-4.7 .5-1.2 .5 2.3 .5 2.8 .5-7 .5-2.1 .5-2.8 .5 3.8 .5-.7 .5 1.1 .5 2.7 .5 2.3 .5-.3 .5 .7 .5 1.7 .5 .8 .5-3.5 .5-2 .5 7 .5-.9 .5-4.2 .5 .3 .5-2.1 .5-4.7 .5 4.4 .5-2.3 .5 5.1 .5-3 .5 2.5 .5-1.1 .5 4.4 .5-6 .5 1.8 .5 1 .5-.2 .5-1.4 .5 1 .5-1 .5-.7 .5 2.2 .5-4.5 .5-.1 .5-1.1 .5 .3 .5 .1 .5 3 .5-2 .5 3.1 .5 0 .5-1.5 .5 .1 .5 1.5 .5-3.4 .5 1.9 .5-.6 .5 1.7 .5 1.9 .5-4.1 .5 3.9 .5-5.1 .5 3.5 .5-3.7 .5 .9 .5 1.1 .5-.6 .5 .2 .5 3 .5-5.2 .5 .1 .5 .3 .5-1.5 .5 2 .5-3.1 .5 .4 .5 1.8 .5 3.3 .5-2.3 .5 .5 .5-.2 .5-.5 .5 .9 .5-3.9 .5 1.1 .5 5.2 .5-3.1 .5-4.4 .5 1.4 .5 .2 .5 3.3 .5 .9 .5 0 .5 1.9 .5 6.1 .5-7.6 .5-2 .5-.3 .5 2.3 .5-4.3 .5 1.2 .5 4.1 .5-1.2 .5 8.9 .5-8 .5 .7 .5 2.4 .5-2.6 .5-1.1 .5-.1 .5-5.4 .5-.8 .5 5.1 .5-2.4 .5-.6 .5-.4 .5 2.9 .5-1.3 .5-3.8 .5-3.7 .5 1.4 .5 2.4 .5-2.4 .5-2.7 .5 2.2 .5 5.5 .5-1 .5-3.2 .5 3.4 .5 2.2 .5-5.3 .5 2.6 .5 .8 .5-2.9 .5-3.8 .5 1.3 .5-.6 .5-2.1 .5-2.3 .5 2.6 .5-1.6 .5 2 .5 .4 .5-6.1 .5 .5 .5 .7 .5-.1 .5-5.8 .5 4 .5-1.2 .5-3.8 .5 3.1 .5-6.8 .5 3.4 .5-5.3 .5-1.1 .5 1 .5-3.8 .5 .8 .5-3.3 .5-1.9 .5 1.2 .5-5.5 .5-2.5 .5-1.4 .5 .8 .5 2 .5 .2 .5-5 .5 .2 .5 2.9 .5-2.7 .5 2.5 .5-3.6 .5 4.6 .5 1.2 .5-5.8 .5 9.3 .5 2.3 .5-2.4 .5 1.1 .5 .7 .5-3.1 .5 .4 .5 1.3 .5 2.1 .5 4 .5-4.5 .5 3.4 .5 3.3 .5 6.1 .5 .2 .5-1.3 .5-.8 .5 6.3 .5-.6 .5 1.2 .5 4.4 .5-2 .5 .4 .5 6.2 .5-7.3 .5 3.3 .5-3.2 .5-.2 .5 2.5 .5 2.5 .5-.1 .5 .1 .5-1.1 .5 4.6 .5-2 .5-2.4 .5 5.5 .5-5.8 .5 2.4 .5 2.2 .5-.7 .5 4.4 .5-5.4 .5 6.5 .5 1.3 .5-2 .5-1.5 .5 .2 .5-6.5 .5-.7 .5 3.4 .5 2.6 .5-7.4 .5 6.3 .5 2.4 .5-5.6 .5 3.9 .5 1.6 .5-1.1 .5-6.9 .5 1.2 .5 3.4 .5-1.2 .5 2.2 .5-.2 .5-2.1 .5 1.2 .5-.8 .5 .1 .5-.5 .5 5.8 .5-.3 .5-3.8 .5 2.8 .5-4.5 .5-.7 .5 0 .5-2.5 .5 5.3 .5-.3 .5-5.9 .5 .7 .5-3 .5-3.7 .5 .3 .5 2.2 .5-4.4 .5 7 .5-2.8 .5 1.7 .5-4.2 .5-1.7 .5 1.4 .5-6.7 .5-.2 .5-1 .5-2.4 .5-2.8 .5 3.8 .5 1.6 .5-2.9 .5 .1 .5-7.1 .5 2.3 .5-4.9 .5 2 .5-3.3 .5 4.1 .5-3.9 .5 1.3 .5 1.4 .5-3.2 .5 3.2 .5 1.4 .5-1.7 .5 .7 .5 2.1 .5-4.6 .5 4 .5 2 .5 3.6 .5 4.8 .5-2.5 .5 6 .5-2 .5 1.6 .5 1.1 .5 3.6 .5-4.1 .5-.9 .5 4.7 .5 1.8 .5-.8 .5-1.2 .5 1.2 .5-3.2 .5 4 .5 .5 .5-2.5 .5 7.5 .5-.8 .5 2.1 .5-.7 .5 3.5 .5-.7 .5 2.8 .5-5.5 .5 5.9 .5 1.9 .5-.8 .5-2.3 .5 .5 .5 5.5 .5-1.7 .5 4.5 .5-2.5 .5-4 .5 3.2 .5-4.3 .5-.2 .5 .4 .5 2 .5 1 .5-1.1 .5 2 .5 0 .5-.9 .5 7.4 .5-8.7 .5 7.4 .5-1 .5 1.2 .5-2.6 .5-1.1 .5-2.8 .5 1.8 .5 1.4 .5-4 .5-1.9 .5 5.3 .5-3.8 .5-.5 .5-2.9 .5 7.7 .5 1.5 .5 .4 .5-.1 .5-3.4 .5 2.3 .5 .7 .5 2.3 .5-2.2 .5 .1 .5-1 .5 1.4 .5-2.9 .5 6.6 .5-9.4 .5 3.5 .5 .7 .5-.1 .5 .8 .5 1.7 .5-4.4 .5 2.9 .5-3 .5 1.5 .5 4.6 .5 2.7 .5-6 .5 3.4 .5-3.2 .5 1.6 .5-4.8 .5 .7 .5 1.3 .5 4.3 .5-5.7 .5 4 .5 .2 .5-1.3 .5 2.3 .5 4.1 .5-3.9 .5-2.1 .5 1.6 .5 .3 .5-2.9 .5 .9 .5-4.3 .5 2.5 .5 1.4 .5 1.1 .5-7 .5-2 .5 3.3 .5-1.8 .5 8.5 .5 .6 .5-3.3 .5 3.1 .5 1 .5 2.5 .5-4 .5-3.2 .5 9 .5-8.6 .5-1.2 .5-1.8 .5-.8 .5 6.1 .5-6.1 .5 6.3 .5-1.1 .5-2 .5 .6 .5 2.1 .5-2.5 .5 2.1 .5-1.3 .5-2.4 .5 3.4 .5-2 .5-2.6 .5-1.2 .5-2.8 .5 9.7 .5-5.1 .5 1.6 .5 1.7 .5-6.3 .5 3.9 .5-3.4 .5 4.5 .5-.2 .5 .5 .5-4 .5 1.2 .5 2.8 .5-.4 .5 4.6 .5-1.3 .5 3.1 .5-2.4 .5 5 .5-3.4 .5 5.5 .5-1.5 .5-2.6 .5-3 .5-1.8 .5 2.8 .5-4.8 .5 1.5 .5-3.9 .5 1.1 .5 2.9 .5-.4 .5 2.6 .5 2.5 .5-4.8 .5 2.8 .5-1.8 .5 2.9 .5-4.2 .5 2.8 .5-.7 .5 1.5 .5-1.7 .5-3.5 .5 1 .5 2.2 .5 1.8 .5-.2 .5 2.3 .5 2.5 .5-3.6 .5 .2 .5-5.9 .5 6.1 .5-5.2 .5-.9 .5-5.5 .5 6.1 .5 3.5 .5-4.2 .5 3.4 .5-6.1 .5 1.3 .5 1.4 .5 .3 .5 .8 .5 0 .5 3.4 .5 .4 .5-3.7 .5-1.7 .5-3.8 .5 3.4 .5 1.7 .5 .4 .5-1.1 .5 1 .5 1.7 .5-2.7 .5 3 .5 3.8 .5-2.1 .5 1.1 .5 .3 .5-5.9 .5 8.9 .5-1.2 .5-5 .5 3.3 .5-3.9 .5-.8 .5 5.2 .5-2.8 .5-.4 .5 3.9 .5-4.3 .5-2.5 .5 4.4 .5-6 .5 5.5 .5-6.3 .5 4.4 .5-1.3 .5 .5 .5-4.4 .5 2.4 .5 2 .5-1 .5 3.8 .5-1.7 .5-3.9 .5 1.2 .5 1.9 .5 .1 .5-2.1 .5 2.7"/>
</g>
<g fill="none" stroke-width="7">
<line x1="691.5" y1="489.2" x2="691.5" y2="1563.7" stroke="#000" stroke-dasharray="14.3 9.33" stroke-dashoffset="3.83"/>
<line x1="780.6" y1="497.1" x2="780.6" y2="1570.6" stroke="#000" stroke-dasharray="14.3 9.33" stroke-dashoffset="3.63"/>
<line x1="962.5" y1="496.8" x2="962.5" y2="1570.6" stroke="#000" stroke-dasharray="14.3 9.33" stroke-dashoffset="3.43"/>
<line x1="1015.4" y1="492.0" x2="1015.4" y2="1569.7" stroke="#000" stroke-dasharray="14.3 9.33" stroke-dashoffset="0.83"/>
<line x1="1254.5" y1="417.0" x2="1254.5" y2="1556.4" stroke="#000" stroke-dasharray="14.3 9.33" stroke-dashoffset="8.83"/>
<line x1="1289.5" y1="442.0" x2="1289.5" y2="1566.6" stroke="#D2D2D2" stroke-dasharray="14.3 9.33" stroke-dashoffset="0.00"/>
<line x1="1297.5" y1="998.9" x2="1297.5" y2="1556.4" stroke="#000" stroke-dasharray="14.3 9.33" stroke-dashoffset="0.00"/>
<line x1="1583.5" y1="431.8" x2="1583.5" y2="1551.6" stroke="#000" stroke-dasharray="14.3 9.33" stroke-dashoffset="5.33"/>
<line x1="1993.7" y1="477.7" x2="1993.7" y2="1582.0" stroke="#000" stroke-dasharray="14.3 9.33" stroke-dashoffset="10.63"/>
</g>
<text transform="translate(716.71 475.25) scale(-1 0.9963)" font-family="'DejaVu Serif', serif" font-size="58.44" stroke="#000" stroke-width="1.7" stroke-linejoin="miter">∇</text>
<text transform="translate(766.66 489.54) scale(1 1.0238)" font-family="'DejaVu Sans', sans-serif" font-weight="bold" font-size="36.74" stroke="#000" stroke-width="1.6" stroke-linejoin="round">✻</text>
<text transform="translate(986.93 490.05) scale(-1 1.0020)" font-family="'DejaVu Serif', serif" font-size="59.06" stroke="#000" stroke-width="1.7" stroke-linejoin="miter">∇</text>
<text transform="translate(999.66 484.64) scale(1 1.0202)" font-family="'DejaVu Sans', sans-serif" font-weight="bold" font-size="36.74" stroke="#000" stroke-width="1.6" stroke-linejoin="round">✻</text>
<polygon points="1254,375.85 1269.2,395 1254,414.15 1238.8,395" fill="#000"/>
<polygon points="1580.1,399.8 1595.3999999999999,419 1580.1,438.2 1564.8,419" fill="#000"/>
<text transform="translate(1333.51 993.15) scale(-1 1.0201)" font-family="'DejaVu Serif', serif" font-size="58.28" stroke="#000" stroke-width="1.7" stroke-linejoin="miter">∇</text>
<text transform="translate(2005.70 459.95) scale(-1 1.0114)" font-family="'DejaVu Serif', serif" font-size="57.97" stroke="#000" stroke-width="1.7" stroke-linejoin="miter">∇</text>
<circle cx="1320.6" cy="509.5" r="14.5" fill="#000"/>
<circle cx="1323" cy="708.4" r="14.5" fill="#000"/>
<circle cx="1449.6" cy="735" r="14.5" fill="#000"/>
<circle cx="947.5" cy="137.4" r="14.5" fill="#000"/>
<polygon points="1270.7,121.0 1286.15,141.5 1270.7,162.0 1255.25,141.5" fill="#000"/>
<text transform="translate(1572.54 150.50) scale(1 1.0146)" font-family="'DejaVu Sans', sans-serif" font-weight="bold" font-size="39.56" stroke="#000" stroke-width="1.6" stroke-linejoin="round">✻</text>
<text transform="translate(1977.81 162.15) scale(-1 0.9936)" font-family="'DejaVu Serif', serif" font-size="58.59" stroke="#000" stroke-width="1.7" stroke-linejoin="miter">∇</text>
<rect x="2278.1" y="521" width="8.6" height="307" fill="#000"/>
<polygon points="2267.9,826 2296.9,826 2282.4,884.5" fill="#000"/>
<rect x="2276.1" y="1016" width="8.6" height="308.29999999999995" fill="#000"/>
<polygon points="2265.7,1322.3 2295.2,1322.3 2280.4,1380.7" fill="#000"/>
<text transform="translate(267.03 116.90) scale(1 1.0485)" font-family="'Liberation Sans', sans-serif" font-weight="bold" font-size="86.94" >XRD</text>
<text transform="translate(985.54 160.90) scale(1 1.0207)" font-family="'Liberation Sans', sans-serif" font-weight="bold" font-size="56.54" >Co (hcp)</text>
<text transform="translate(1296.46 158.80) scale(1 1.0325)" font-family="'Liberation Sans', sans-serif" font-weight="bold" font-size="55.90" >Co (fcc)</text>
<text transform="translate(1623.60 160.70) scale(1 1.0518)" font-family="'Liberation Sans', sans-serif" font-weight="bold" font-size="57.45" >Co</text>
<text transform="translate(1729.67 160.90) scale(1 1.0483)" font-family="'Liberation Sans', sans-serif" font-weight="bold" font-size="58.20" >OH</text>
<text transform="translate(1846.71 176.80) scale(1 0.9873)" font-family="'Liberation Sans', sans-serif" font-weight="bold" font-size="39.79" >2</text>
<text transform="translate(1995.50 161.70) scale(1 1.0593)" font-family="'Liberation Sans', sans-serif" font-weight="bold" font-size="57.45" >Co</text>
<text transform="translate(2072.25 177.70) scale(1 1.0419)" font-family="'Liberation Sans', sans-serif" font-weight="bold" font-size="37.98" >3</text>
<text transform="translate(2094.55 162.40) scale(1 1.0995)" font-family="'Liberation Sans', sans-serif" font-weight="bold" font-size="56.26" >O</text>
<text transform="translate(2139.33 178.00) scale(1 1.0632)" font-family="'Liberation Sans', sans-serif" font-weight="bold" font-size="37.76" >4</text>
<text transform="translate(283.63 557.80) scale(0.023096 0.024697)" font-family="'Liberation Sans', sans-serif" font-weight="bold" font-size="2048" clip-path="url(#k1)" >15CoPt</text>
<text transform="translate(290.84 649.00) scale(0.023016 0.024697)" font-family="'Liberation Sans', sans-serif" font-weight="bold" font-size="2048" clip-path="url(#k1)" >15Co</text>
<text transform="translate(292.68 754.60) scale(1 1.0598)" font-family="'Liberation Sans', sans-serif" font-weight="bold" font-size="47.45" >5CoPt</text>
<text transform="translate(294.48 852.40) scale(1 1.0508)" font-family="'Liberation Sans', sans-serif" font-weight="bold" font-size="47.31" >5Co</text>
<text transform="translate(284.81 1059.80) scale(0.023211 0.024556)" font-family="'Liberation Sans', sans-serif" font-weight="bold" font-size="2048" clip-path="url(#k1)" >15CoPt</text>
<text transform="translate(288.84 1151.00) scale(0.023016 0.024697)" font-family="'Liberation Sans', sans-serif" font-weight="bold" font-size="2048" clip-path="url(#k1)" >15Co</text>
<text transform="translate(292.68 1265.80) scale(1 1.0629)" font-family="'Liberation Sans', sans-serif" font-weight="bold" font-size="47.45" >5CoPt</text>
<text transform="translate(292.68 1370.70) scale(1 1.0612)" font-family="'Liberation Sans', sans-serif" font-weight="bold" font-size="47.25" >5Co</text>
<text transform="translate(284.79 1531.90) scale(1 1.0604)" font-family="'Liberation Sans', sans-serif" font-weight="bold" font-size="47.84" >Rutile</text>
<text transform="translate(2206.24 498.00) scale(1 1.0433)" font-family="'Liberation Sans', sans-serif" font-weight="bold" font-size="57.79" >Red.</text>
<text transform="translate(2192.67 997.30) scale(1 1.0466)" font-family="'Liberation Sans', sans-serif" font-weight="bold" font-size="58.16" >Calc.</text>
<text transform="translate(1175.10 1773.70) scale(1 1.0318)" font-family="'Liberation Sans', sans-serif" font-weight="bold" font-size="80.03" >2 theta / </text>
<text transform="translate(1499.44 1741.70) scale(1 1.0134)" font-family="'Liberation Sans', sans-serif" font-weight="bold" font-size="56.42" >o</text>
<text transform="translate(1706.07 158.73) scale(1 1.0233)" font-family="'Noto Serif CJK SC', serif" font-weight="normal" font-size="49.12" >（</text>
<text transform="translate(1819.92 158.75) scale(1 0.7969)" font-family="'Noto Serif CJK SC', serif" font-weight="normal" font-size="62.81" >）</text>
<text transform="translate(78.00 1172.20) rotate(-90) scale(1 1.0510)" font-family="'Liberation Sans', sans-serif" font-weight="bold" font-size="80.04">Normalized intensity</text>
</svg>
</body>
</html>
